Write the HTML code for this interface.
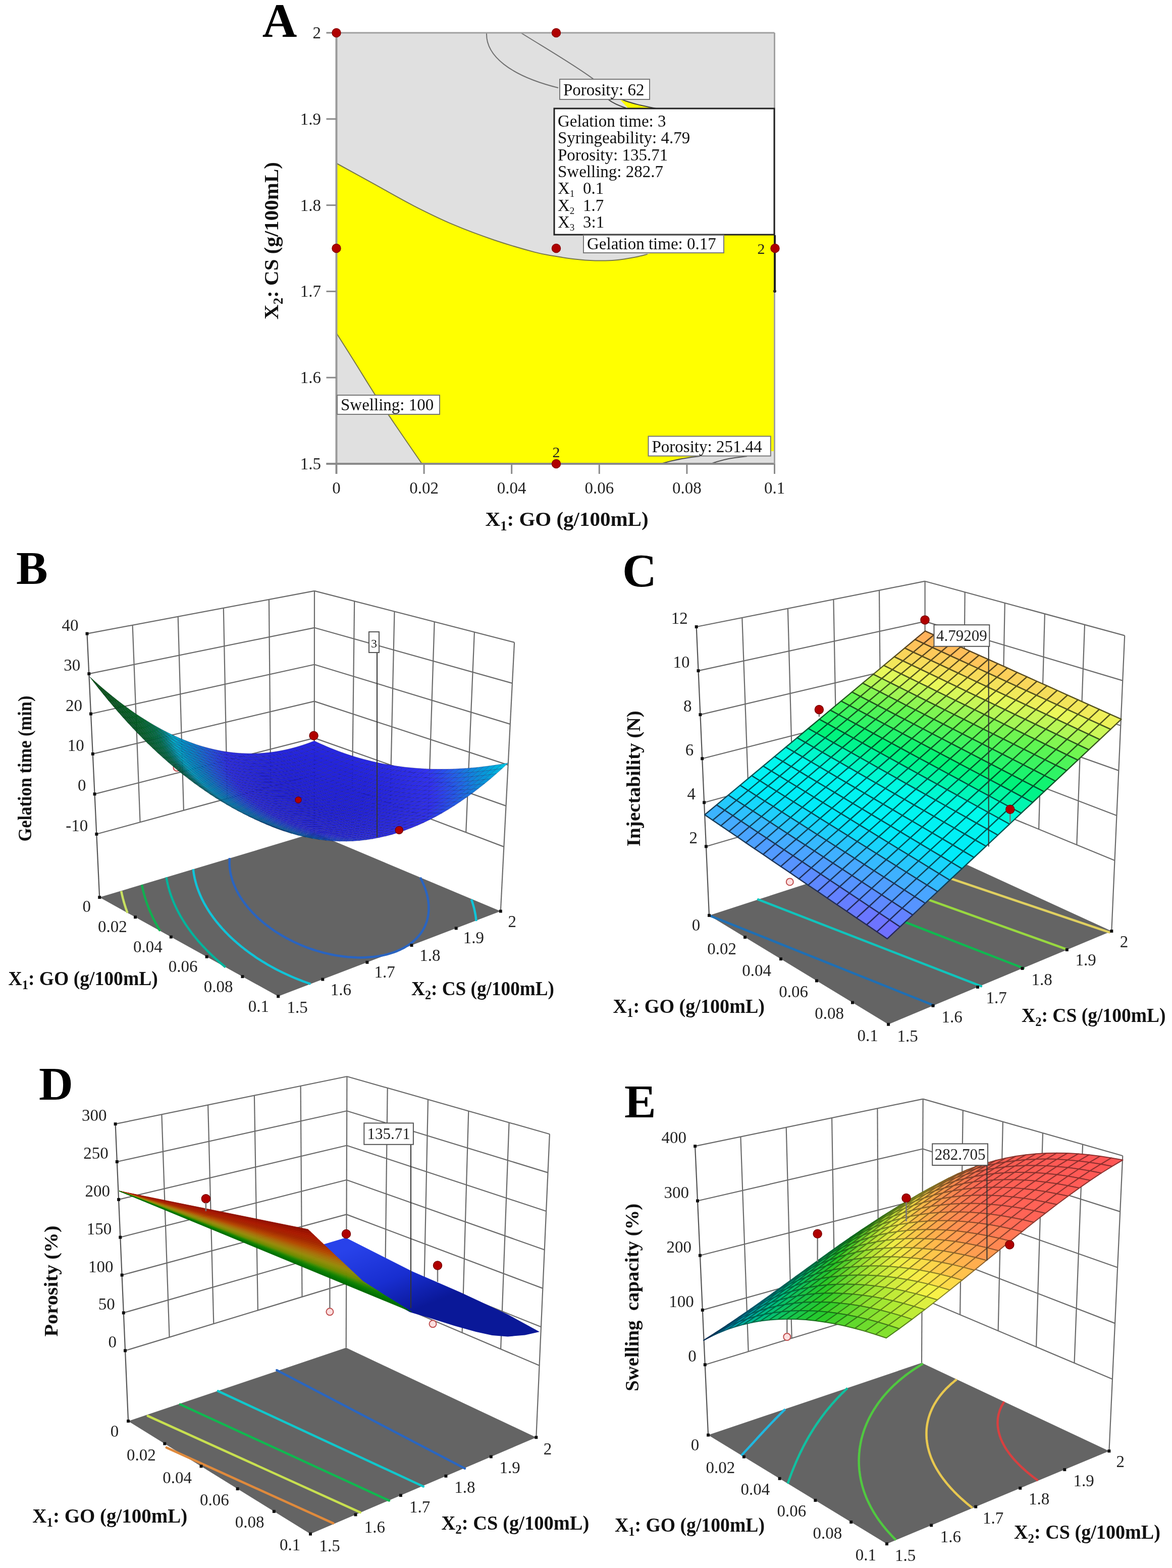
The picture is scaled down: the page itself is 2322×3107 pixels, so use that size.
<!DOCTYPE html>
<html><head><meta charset="utf-8"><title>Figure</title>
<style>html,body{margin:0;padding:0;background:#fff;}svg{display:block;}</style>
</head><body>
<svg width="2322" height="3107" viewBox="0 0 2322 3107"><g id="A">
<rect x="666.5" y="65" width="868" height="854" fill="#e0e0e0"/>
<path d="M666.5,323.5 C678.7,330.2 714.4,349.8 739.9,363.9 C765.4,377.9 793.1,394.2 819.7,407.8 C846.3,421.4 873,434.4 899.6,445.7 C926.2,457 952.8,466.7 979.4,475.7 C1006,484.7 1039.3,494.3 1059.3,499.6 C1079.3,504.9 1085.9,505.3 1099.2,507.6 C1112.5,509.9 1125.8,512.1 1139.1,513.6 C1152.4,515.1 1165.8,516.1 1179.1,516.4 C1192.4,516.7 1205.7,516.7 1219,515.6 C1232.3,514.5 1248.2,511.6 1258.9,509.6 C1269.6,507.6 1274.4,506 1282.9,503.6 C1291.4,501.2 1297.2,498.6 1310,495 C1322.8,491.4 1339.3,486.8 1360,482 C1380.7,477.2 1421.7,468.7 1434,466 L1534.5,466 L1534.5,894 L1527,894 L1527,904 L1387,904 C1365,906 1340,911 1309,919 L836,919 C828.3,907.8 805.3,874.6 790,852 C774.7,829.4 758.2,805.3 744,783.5 C729.8,761.7 717.9,741.6 705,721 C692.1,700.4 672.9,670.2 666.5,660 Z" fill="#ffff00"/>
<path d="M1228,197 C1245,203 1275,209 1300,215 L1245,215 Z" fill="#ffff00"/>
<path d="M666.5,323.5 C678.7,330.2 714.4,349.8 739.9,363.9 C765.4,377.9 793.1,394.2 819.7,407.8 C846.3,421.4 873,434.4 899.6,445.7 C926.2,457 952.8,466.7 979.4,475.7 C1006,484.7 1039.3,494.3 1059.3,499.6 C1079.3,504.9 1085.9,505.3 1099.2,507.6 C1112.5,509.9 1125.8,512.1 1139.1,513.6 C1152.4,515.1 1165.8,516.1 1179.1,516.4 C1192.4,516.7 1205.7,516.7 1219,515.6 C1232.3,514.5 1248.2,511.6 1258.9,509.6 C1269.6,507.6 1278.9,504.6 1282.9,503.6" stroke="#77774a" stroke-width="2" fill="none"/>
<path d="M836,919 C828.3,907.8 805.3,874.6 790,852 C774.7,829.4 758.2,805.3 744,783.5 C729.8,761.7 717.9,741.6 705,721 C692.1,700.4 672.9,670.2 666.5,660" stroke="#77774a" stroke-width="2" fill="none"/>
<path d="M964,65 C962,110 1010,150 1106,174" stroke="#707070" stroke-width="2" fill="none"/>
<path d="M1032,65 C1080,95 1140,130 1176,157" stroke="#707070" stroke-width="2" fill="none"/>
<path d="M1205,197 C1215,205 1228,210 1240,214" stroke="#404040" stroke-width="2" fill="none"/>
<path d="M1232,197 C1250,205 1275,210 1300,215" stroke="#404040" stroke-width="2" fill="none"/>
<path d="M1309,919 C1340,910 1365,906 1387,904" stroke="#505050" stroke-width="2" fill="none"/>
<path d="M1408,919 C1425,913 1440,909 1456,907 L1480,904" stroke="#505050" stroke-width="2" fill="none"/>
<polygon points="1387,904 1527,904 1527,894 1535,894 1535,919 1309,919" fill="#e0e0e0" opacity="0"/>
<line x1="666.5" y1="65" x2="666.5" y2="939" stroke="#9a9a9a" stroke-width="4"/>
<line x1="646.5" y1="919" x2="1534.5" y2="919" stroke="#8a8a8a" stroke-width="4"/>
<line x1="666.5" y1="65" x2="1534.5" y2="65" stroke="#a0a0a0" stroke-width="3"/>
<line x1="1534.5" y1="65" x2="1534.5" y2="939" stroke="#a0a0a0" stroke-width="3"/>
<line x1="646.5" y1="65" x2="666.5" y2="65" stroke="#8a8a8a" stroke-width="3"/>
<text x="636" y="76" text-anchor="end" font-size="33" fill="#222" style="font-family:&quot;Liberation Serif&quot;,serif">2</text>
<line x1="646.5" y1="235.8" x2="666.5" y2="235.8" stroke="#8a8a8a" stroke-width="3"/>
<text x="636" y="246.8" text-anchor="end" font-size="33" fill="#222" style="font-family:&quot;Liberation Serif&quot;,serif">1.9</text>
<line x1="646.5" y1="406.6" x2="666.5" y2="406.6" stroke="#8a8a8a" stroke-width="3"/>
<text x="636" y="417.6" text-anchor="end" font-size="33" fill="#222" style="font-family:&quot;Liberation Serif&quot;,serif">1.8</text>
<line x1="646.5" y1="577.4" x2="666.5" y2="577.4" stroke="#8a8a8a" stroke-width="3"/>
<text x="636" y="588.4" text-anchor="end" font-size="33" fill="#222" style="font-family:&quot;Liberation Serif&quot;,serif">1.7</text>
<line x1="646.5" y1="748.2" x2="666.5" y2="748.2" stroke="#8a8a8a" stroke-width="3"/>
<text x="636" y="759.2" text-anchor="end" font-size="33" fill="#222" style="font-family:&quot;Liberation Serif&quot;,serif">1.6</text>
<line x1="646.5" y1="919" x2="666.5" y2="919" stroke="#8a8a8a" stroke-width="3"/>
<text x="636" y="930" text-anchor="end" font-size="33" fill="#222" style="font-family:&quot;Liberation Serif&quot;,serif">1.5</text>
<line x1="666.5" y1="919" x2="666.5" y2="939" stroke="#8a8a8a" stroke-width="3"/>
<text x="666.5" y="978" text-anchor="middle" font-size="33" fill="#222" style="font-family:&quot;Liberation Serif&quot;,serif">0</text>
<line x1="840.1" y1="919" x2="840.1" y2="939" stroke="#8a8a8a" stroke-width="3"/>
<text x="840.1" y="978" text-anchor="middle" font-size="33" fill="#222" style="font-family:&quot;Liberation Serif&quot;,serif">0.02</text>
<line x1="1013.7" y1="919" x2="1013.7" y2="939" stroke="#8a8a8a" stroke-width="3"/>
<text x="1013.7" y="978" text-anchor="middle" font-size="33" fill="#222" style="font-family:&quot;Liberation Serif&quot;,serif">0.04</text>
<line x1="1187.3" y1="919" x2="1187.3" y2="939" stroke="#8a8a8a" stroke-width="3"/>
<text x="1187.3" y="978" text-anchor="middle" font-size="33" fill="#222" style="font-family:&quot;Liberation Serif&quot;,serif">0.06</text>
<line x1="1360.9" y1="919" x2="1360.9" y2="939" stroke="#8a8a8a" stroke-width="3"/>
<text x="1360.9" y="978" text-anchor="middle" font-size="33" fill="#222" style="font-family:&quot;Liberation Serif&quot;,serif">0.08</text>
<line x1="1534.5" y1="919" x2="1534.5" y2="939" stroke="#8a8a8a" stroke-width="3"/>
<text x="1534.5" y="978" text-anchor="middle" font-size="33" fill="#222" style="font-family:&quot;Liberation Serif&quot;,serif">0.1</text>
<line x1="1535" y1="466" x2="1535" y2="577" stroke="#222" stroke-width="4"/>
<circle cx="1535" cy="577" r="3" fill="#222"/>
<rect x="1109" y="157" width="178" height="40" fill="#fff" stroke="#777" stroke-width="2"/>
<text x="1116" y="189" font-size="33" fill="#111" style="font-family:&quot;Liberation Serif&quot;,serif">Porosity: 62</text>
<rect x="1098" y="215" width="436" height="250" fill="#fff" stroke="#222" stroke-width="3"/>
<text x="1105" y="251" font-size="33" fill="#111" style="font-family:&quot;Liberation Serif&quot;,serif">Gelation time: 3</text>
<text x="1105" y="284.3" font-size="33" fill="#111" style="font-family:&quot;Liberation Serif&quot;,serif">Syringeability: 4.79</text>
<text x="1105" y="317.6" font-size="33" fill="#111" style="font-family:&quot;Liberation Serif&quot;,serif">Porosity: 135.71</text>
<text x="1105" y="350.9" font-size="33" fill="#111" style="font-family:&quot;Liberation Serif&quot;,serif">Swelling: 282.7</text>
<text x="1105" y="384.2" font-size="33" fill="#111" style="font-family:&quot;Liberation Serif&quot;,serif">X<tspan font-size="19" dy="6">1</tspan><tspan dy="-6" x="1155">0.1</tspan></text>
<text x="1105" y="417.5" font-size="33" fill="#111" style="font-family:&quot;Liberation Serif&quot;,serif">X<tspan font-size="19" dy="6">2</tspan><tspan dy="-6" x="1155">1.7</tspan></text>
<text x="1105" y="450.8" font-size="33" fill="#111" style="font-family:&quot;Liberation Serif&quot;,serif">X<tspan font-size="19" dy="6">3</tspan><tspan dy="-6" x="1155">3:1</tspan></text>
<rect x="1156" y="466" width="278" height="35" fill="#fff" stroke="#777" stroke-width="2"/>
<text x="1163" y="494" font-size="33" fill="#111" style="font-family:&quot;Liberation Serif&quot;,serif">Gelation time: 0.17</text>
<rect x="668" y="783" width="203" height="38" fill="#fff" stroke="#777" stroke-width="2"/>
<text x="675" y="813" font-size="33" fill="#111" style="font-family:&quot;Liberation Serif&quot;,serif">Swelling: 100</text>
<rect x="1284.5" y="864.5" width="242.3" height="39" fill="#fff" stroke="#777" stroke-width="2"/>
<text x="1291.5" y="896" font-size="33" fill="#111" style="font-family:&quot;Liberation Serif&quot;,serif">Porosity: 251.44</text>
<circle cx="666.5" cy="65" r="8.5" fill="#b00000" stroke="#8a0000" stroke-width="1.5"/>
<circle cx="1102" cy="65" r="8.5" fill="#b00000" stroke="#8a0000" stroke-width="1.5"/>
<circle cx="666.5" cy="492" r="8.5" fill="#b00000" stroke="#8a0000" stroke-width="1.5"/>
<circle cx="1102" cy="492" r="8.5" fill="#b00000" stroke="#8a0000" stroke-width="1.5"/>
<circle cx="1535.5" cy="492" r="8.5" fill="#b00000" stroke="#8a0000" stroke-width="1.5"/>
<circle cx="1102" cy="919" r="8.5" fill="#b00000" stroke="#8a0000" stroke-width="1.5"/>
<text x="1508" y="503" text-anchor="middle" font-size="30" fill="#222" style="font-family:&quot;Liberation Serif&quot;,serif">2</text>
<text x="1102" y="906" text-anchor="middle" font-size="30" fill="#222" style="font-family:&quot;Liberation Serif&quot;,serif">2</text>
<text x="554" y="73" text-anchor="middle" font-size="95" font-weight="bold" fill="#000" style="font-family:&quot;Liberation Serif&quot;,serif">A</text>
<text x="1123" y="1042" text-anchor="middle" font-size="41" font-weight="bold" fill="#111" style="font-family:&quot;Liberation Serif&quot;,serif">X<tspan font-size="27" dy="9">1</tspan><tspan dy="-9">: GO (g/100mL)</tspan></text>
<text transform="translate(551,477) rotate(-90)" text-anchor="middle" font-size="41" font-weight="bold" fill="#111" style="font-family:&quot;Liberation Serif&quot;,serif">X<tspan font-size="27" dy="9">2</tspan><tspan dy="-9">: CS (g/100mL)</tspan></text>
</g>
<g id="B">
<polygon points="197.2,1778.1 551.2,1974.3 991.8,1805.6 622.6,1650.3" fill="#646464"/>
<line x1="277.6" y1="1629.3" x2="262.6" y2="1238.7" stroke="#6a6a6a" stroke-width="2.2"/>
<line x1="363.9" y1="1605.8" x2="352.7" y2="1221.7" stroke="#6a6a6a" stroke-width="2.2"/>
<line x1="450.2" y1="1582.3" x2="442.8" y2="1204.8" stroke="#6a6a6a" stroke-width="2.2"/>
<line x1="536.4" y1="1558.8" x2="532.9" y2="1187.8" stroke="#6a6a6a" stroke-width="2.2"/>
<line x1="191.3" y1="1652.8" x2="622.7" y2="1535.3" stroke="#6a6a6a" stroke-width="2.2"/>
<line x1="187.5" y1="1573.4" x2="622.8" y2="1462.4" stroke="#6a6a6a" stroke-width="2.2"/>
<line x1="183.8" y1="1493.9" x2="622.8" y2="1389.6" stroke="#6a6a6a" stroke-width="2.2"/>
<line x1="180" y1="1414.5" x2="622.9" y2="1316.7" stroke="#6a6a6a" stroke-width="2.2"/>
<line x1="176.3" y1="1335.1" x2="622.9" y2="1243.8" stroke="#6a6a6a" stroke-width="2.2"/>
<line x1="172.5" y1="1255.6" x2="623" y2="1170.9" stroke="#6a6a6a" stroke-width="2.2"/>
<line x1="697.8" y1="1563.8" x2="702.2" y2="1191.3" stroke="#6a6a6a" stroke-width="2.2"/>
<line x1="773" y1="1592.3" x2="781.5" y2="1211.7" stroke="#6a6a6a" stroke-width="2.2"/>
<line x1="848.1" y1="1620.9" x2="860.7" y2="1232.1" stroke="#6a6a6a" stroke-width="2.2"/>
<line x1="923.2" y1="1649.4" x2="939.9" y2="1252.5" stroke="#6a6a6a" stroke-width="2.2"/>
<line x1="622.7" y1="1535.3" x2="998.3" y2="1677.9" stroke="#6a6a6a" stroke-width="2.2"/>
<line x1="622.8" y1="1462.4" x2="1002.5" y2="1596.9" stroke="#6a6a6a" stroke-width="2.2"/>
<line x1="622.8" y1="1389.6" x2="1006.7" y2="1515.9" stroke="#6a6a6a" stroke-width="2.2"/>
<line x1="622.9" y1="1316.7" x2="1010.8" y2="1434.9" stroke="#6a6a6a" stroke-width="2.2"/>
<line x1="622.9" y1="1243.8" x2="1015" y2="1353.9" stroke="#6a6a6a" stroke-width="2.2"/>
<line x1="623" y1="1170.9" x2="1019.1" y2="1272.9" stroke="#6a6a6a" stroke-width="2.2"/>
<line x1="622.6" y1="1650.3" x2="623" y2="1170.9" stroke="#6a6a6a" stroke-width="2.2"/>
<line x1="991.8" y1="1805.6" x2="1019.1" y2="1272.9" stroke="#6a6a6a" stroke-width="2.2"/>
<line x1="197.2" y1="1778.1" x2="172.5" y2="1255.6" stroke="#555" stroke-width="2.2"/>
<polyline points="455.1,1700.1 454.9,1702.7 454.8,1704.7 454.7,1706.6 454.7,1709.1 454.7,1711.2 454.8,1712.9 454.9,1715.4 455.1,1718 455.2,1719.8 455.4,1721.7 455.8,1724.2 456.1,1726.7 456.5,1728.8 456.9,1730.7 457.3,1732.9 457.9,1735.4 458.6,1737.8 459.2,1740.3 459.9,1742.5 460.5,1744.5 461.2,1746.6 462,1748.8 462.9,1751.2 463.9,1753.7 464.9,1756.1 466,1758.5 467.1,1760.9 468.2,1763.3 469.5,1765.7 470.7,1768 472,1770.4 473.4,1772.8 474.8,1775.2 476.2,1777.5 477.7,1779.9 479.3,1782.2 481.2,1785 483.3,1787.9 485.1,1790.4 486.9,1792.7 488.7,1795 490.6,1797.3 493,1800.1 495.5,1803 497.6,1805.3 499.7,1807.6 502.6,1810.6 505.2,1813.2 507.5,1815.5 510.6,1818.4 513.5,1821 516,1823.2 519.8,1826.5 522.4,1828.7 526.5,1832 529.3,1834.1 533.6,1837.3 536.5,1839.5 541,1842.6 545.7,1845.8 548.9,1847.9 553.8,1850.9 558.9,1854 564.2,1857 568.9,1859.6 573.4,1861.9 579.1,1864.8 583,1866.7 589.1,1869.5 595.4,1872.3 602,1875 606.6,1876.8 613.4,1879.3 619.8,1881.5 625.6,1883.4 630.7,1884.9 638.7,1887.2 644.3,1888.6 650,1889.9 655.9,1891.2 662.1,1892.5 668.5,1893.6 675.2,1894.6 682.2,1895.5 688.5,1896.2 693.5,1896.6 701.7,1897.1 706.6,1897.3 714.8,1897.4 720.1,1897.3 726.1,1897.1 733.1,1896.6 739.8,1896 746.1,1895.2 752.1,1894.2 760.5,1892.6 765.9,1891.3 773.4,1889.2 780.5,1886.9 787.1,1884.3 793.2,1881.6 799,1878.7 802.6,1876.7 807.7,1873.6 811,1871.4 814.5,1868.8 818.4,1865.7 821.1,1863.3 823.7,1860.9 826.1,1858.4 828.4,1855.9 830.6,1853.3 832.7,1850.7 834.6,1848 836.4,1845.3 838,1842.6 839.2,1840.5 840.4,1838.4 841.8,1835.5 843,1832.6 843.9,1830.3 844.7,1828.2 845.7,1825.2 846.4,1822.7 846.9,1820.6 847.6,1817.6 848,1815.5 848.5,1812.9 848.8,1810.3 849,1808.1 849.3,1805.2 849.4,1803.3 849.4,1800.3 849.4,1798.3 849.4,1795.5 849.3,1793.3 849.1,1790.8 848.8,1788.3 848.6,1786.2 848.1,1783.2 847.8,1781.4 847.4,1778.8 846.8,1776.1 846.4,1774.4 845.7,1771.7 845,1769 844.5,1767.2 843.7,1764.7 842.8,1762 842,1759.9 841.3,1757.9 840.3,1755.3 839.2,1752.7 838.3,1750.5 837.4,1748.6 836.3,1746.2 835.1,1743.7 833.8,1741.2 832.6,1738.9 832.6,1738.9" fill="none" stroke="#2a64c0" stroke-width="4.5" stroke-linejoin="round" stroke-linecap="butt"/>
<polyline points="382.8,1722.2 383.1,1724.7 383.4,1727.2 383.7,1729.4 384,1731.3 384.3,1733.3 384.8,1735.8 385.3,1738.3 385.8,1740.7 386.4,1743.1 386.9,1745.1 387.4,1747.2 388,1749.3 388.7,1751.8 389.4,1754.2 390.2,1756.6 391,1759.1 391.9,1761.5 392.8,1764 393.7,1766.4 394.7,1768.8 395.7,1771.3 396.7,1773.7 397.8,1776.1 398.9,1778.6 400,1781 401.2,1783.4 402.5,1785.8 403.7,1788.3 405,1790.7 406.4,1793.1 407.8,1795.5 409.2,1797.9 410.6,1800.3 412.1,1802.7 413.7,1805.2 415.6,1808.2 417.6,1811.1 419.3,1813.5 421,1815.9 422.7,1818.3 424.5,1820.7 426.9,1823.9 429.1,1826.7 431.1,1829 433,1831.4 435.5,1834.3 438.1,1837.3 440.2,1839.7 442.4,1842 445.6,1845.6 447.9,1847.9 450.2,1850.3 453.7,1853.8 456.1,1856.1 459,1858.8 462.3,1861.9 464.9,1864.2 468.8,1867.7 471.5,1870 475.6,1873.4 478.3,1875.7 482.6,1879.1 485.5,1881.4 490,1884.8 494.5,1888.1 497.7,1890.4 502.5,1893.7 507.3,1897.1 510.7,1899.3 515.8,1902.5 521,1905.8 526.4,1909 531.8,1912.3 535.6,1914.4 541.3,1917.5 547.2,1920.7 553.2,1923.8 557.3,1925.8 563.6,1928.8 570.1,1931.8 576.7,1934.8 583,1937.5 588.2,1939.6 595.3,1942.4 600.2,1944.3 607.7,1947 612.8,1948.8 615.4,1949.7" fill="none" stroke="#10c4d8" stroke-width="4.5" stroke-linejoin="round" stroke-linecap="butt"/>
<polyline points="943.5,1825.2 943.4,1823.2 943,1820.2 942.8,1818 942.4,1815.4 942,1812.8 941.6,1810.6 941,1807.5 940.6,1805.7 940,1802.9 939.4,1800.3 938.9,1798.3 938.1,1795.4 937.5,1793.1 936.8,1790.9 935.9,1788 935.2,1785.8 934.5,1783.7 933.9,1782.1" fill="none" stroke="#10c4d8" stroke-width="4.5" stroke-linejoin="round" stroke-linecap="butt"/>
<polyline points="329.6,1738.5 330,1740.9 330.5,1743.4 330.9,1745.7 331.3,1747.7 331.8,1749.8 332.3,1752 332.9,1754.5 333.5,1756.9 334.2,1759.4 334.9,1761.9 335.6,1764.3 336.3,1766.8 337.1,1769.2 337.9,1771.6 338.7,1773.9 339.5,1776.3 340.4,1778.6 341.3,1781 342.3,1783.4 343.3,1785.9 344.3,1788.4 345.4,1790.9 346.5,1793.4 347.7,1796 349,1798.6 350.2,1801.2 351.5,1803.7 352.7,1806.1 354,1808.6 355.4,1811.1 356.7,1813.5 358.1,1816 359.5,1818.4 361,1820.9 362.9,1823.9 364.8,1827 366.4,1829.5 368,1831.9 369.6,1834.4 371.3,1836.8 373.4,1839.8 375.7,1843 377.5,1845.4 379.3,1847.9 381.2,1850.3 383.9,1853.8 386,1856.4 388,1858.9 390.1,1861.4 393.1,1865 395.3,1867.4 397.4,1869.8 400.7,1873.5 403,1875.9 405.3,1878.3 408.8,1882 411.2,1884.4 414.2,1887.4 417.3,1890.4 419.8,1892.8 423.7,1896.5 426.3,1898.9 430.3,1902.5 433,1904.9 437.2,1908.4 440,1910.8 444.4,1914.4 446.8,1916.4" fill="none" stroke="#00b49c" stroke-width="4.5" stroke-linejoin="round" stroke-linecap="butt"/>
<polyline points="281.1,1753.3 281.6,1755.8 282.1,1758.2 282.7,1760.7 283.2,1763.2 283.8,1765.7 284.4,1768.1 285.1,1770.6 285.7,1772.8 286.3,1775.1 287,1777.4 287.7,1779.8 288.5,1782.1 289.2,1784.5 290,1786.9 290.9,1789.3 291.7,1791.8 292.7,1794.2 293.6,1796.8 294.6,1799.3 295.6,1801.9 296.7,1804.5 297.8,1807.1 299,1809.8 300.2,1812.4 301.5,1815.2 302.8,1817.9 304,1820.4 305.2,1822.9 306.5,1825.4 307.8,1827.9 309.2,1830.4 310.5,1832.9 311.9,1835.5 313.6,1838.4 315.4,1841.6 317,1844.2 317.3,1844.7" fill="none" stroke="#10b050" stroke-width="4.5" stroke-linejoin="round" stroke-linecap="butt"/>
<polyline points="240.2,1765.8 240.7,1768.2 241.2,1770.4 241.7,1772.7 242.2,1774.9 242.8,1777.2 243.3,1779.5 244,1782 244.7,1784.5 245.3,1787 246.1,1789.5 246.8,1792 247.6,1794.5 248.4,1797 249.2,1799.5 250.1,1802.1 251,1804.6 251.9,1807.1 252.5,1808.9" fill="none" stroke="#c8e060" stroke-width="4.5" stroke-linejoin="round" stroke-linecap="butt"/>
<rect x="188.3" y="1649.8" width="6" height="6" fill="#111"/>
<text x="174.3" y="1646.8" text-anchor="end" font-size="33" fill="#222" style="font-family:&quot;Liberation Serif&quot;,serif">-10</text>
<rect x="184.5" y="1570.4" width="6" height="6" fill="#111"/>
<text x="170.5" y="1567.4" text-anchor="end" font-size="33" fill="#222" style="font-family:&quot;Liberation Serif&quot;,serif">0</text>
<rect x="180.8" y="1490.9" width="6" height="6" fill="#111"/>
<text x="166.8" y="1487.9" text-anchor="end" font-size="33" fill="#222" style="font-family:&quot;Liberation Serif&quot;,serif">10</text>
<rect x="177" y="1411.5" width="6" height="6" fill="#111"/>
<text x="163" y="1408.5" text-anchor="end" font-size="33" fill="#222" style="font-family:&quot;Liberation Serif&quot;,serif">20</text>
<rect x="173.3" y="1332.1" width="6" height="6" fill="#111"/>
<text x="159.3" y="1329.1" text-anchor="end" font-size="33" fill="#222" style="font-family:&quot;Liberation Serif&quot;,serif">30</text>
<rect x="169.5" y="1252.6" width="6" height="6" fill="#111"/>
<text x="155.5" y="1249.6" text-anchor="end" font-size="33" fill="#222" style="font-family:&quot;Liberation Serif&quot;,serif">40</text>
<rect x="194.2" y="1775.1" width="6" height="6" fill="#111"/>
<rect x="265" y="1814.3" width="6" height="6" fill="#111"/>
<rect x="335.8" y="1853.6" width="6" height="6" fill="#111"/>
<rect x="406.6" y="1892.8" width="6" height="6" fill="#111"/>
<rect x="477.4" y="1932.1" width="6" height="6" fill="#111"/>
<rect x="548.2" y="1971.3" width="6" height="6" fill="#111"/>
<rect x="636.3" y="1937.6" width="6" height="6" fill="#111"/>
<rect x="724.4" y="1903.8" width="6" height="6" fill="#111"/>
<rect x="812.5" y="1870.1" width="6" height="6" fill="#111"/>
<rect x="900.7" y="1836.4" width="6" height="6" fill="#111"/>
<rect x="988.8" y="1802.6" width="6" height="6" fill="#111"/>
<circle cx="350.5" cy="1521" r="7" fill="#fde0e0" stroke="#c05050" stroke-width="2"/>
<polygon points="611.8,1472.2 621.1,1476.8 632.1,1472.4 622.7,1468" fill="#2727e5" stroke="#000040" stroke-width="1.0" stroke-opacity="0.25" stroke-linejoin="round"/>
<polygon points="621.1,1476.8 630.5,1481.2 641.4,1476.6 632.1,1472.4" fill="#2727e4" stroke="#000040" stroke-width="1.0" stroke-opacity="0.25" stroke-linejoin="round"/>
<polygon points="600.8,1476 610.1,1480.8 621.1,1476.8 611.8,1472.2" fill="#2626e3" stroke="#000040" stroke-width="1.0" stroke-opacity="0.25" stroke-linejoin="round"/>
<polygon points="589.8,1479.4 599.1,1484.4 610.1,1480.8 600.8,1476" fill="#2626e2" stroke="#000040" stroke-width="1.0" stroke-opacity="0.25" stroke-linejoin="round"/>
<polygon points="630.5,1481.2 639.9,1485.4 650.9,1480.7 641.4,1476.6" fill="#2626e4" stroke="#000040" stroke-width="1.0" stroke-opacity="0.25" stroke-linejoin="round"/>
<polygon points="610.1,1480.8 619.5,1485.4 630.5,1481.2 621.1,1476.8" fill="#2626e3" stroke="#000040" stroke-width="1.0" stroke-opacity="0.25" stroke-linejoin="round"/>
<polygon points="599.1,1484.4 608.4,1489.2 619.5,1485.4 610.1,1480.8" fill="#2525e1" stroke="#000040" stroke-width="1.0" stroke-opacity="0.25" stroke-linejoin="round"/>
<polygon points="639.9,1485.4 649.4,1489.5 660.4,1484.5 650.9,1480.7" fill="#2626e4" stroke="#000040" stroke-width="1.0" stroke-opacity="0.25" stroke-linejoin="round"/>
<polygon points="578.7,1482.5 588,1487.7 599.1,1484.4 589.8,1479.4" fill="#2525e0" stroke="#000040" stroke-width="1.0" stroke-opacity="0.25" stroke-linejoin="round"/>
<polygon points="619.5,1485.4 628.9,1489.8 639.9,1485.4 630.5,1481.2" fill="#2525e2" stroke="#000040" stroke-width="1.0" stroke-opacity="0.25" stroke-linejoin="round"/>
<polygon points="567.5,1485.2 576.8,1490.6 588,1487.7 578.7,1482.5" fill="#2525df" stroke="#000040" stroke-width="1.0" stroke-opacity="0.25" stroke-linejoin="round"/>
<polygon points="608.4,1489.2 617.8,1493.8 628.9,1489.8 619.5,1485.4" fill="#2525e1" stroke="#000040" stroke-width="1.0" stroke-opacity="0.25" stroke-linejoin="round"/>
<polygon points="649.4,1489.5 659,1493.3 670,1488.2 660.4,1484.5" fill="#2626e3" stroke="#000040" stroke-width="1.0" stroke-opacity="0.25" stroke-linejoin="round"/>
<polygon points="588,1487.7 597.3,1492.7 608.4,1489.2 599.1,1484.4" fill="#2525e0" stroke="#000040" stroke-width="1.0" stroke-opacity="0.25" stroke-linejoin="round"/>
<polygon points="628.9,1489.8 638.4,1494.1 649.4,1489.5 639.9,1485.4" fill="#2525e2" stroke="#000040" stroke-width="1.0" stroke-opacity="0.25" stroke-linejoin="round"/>
<polygon points="576.8,1490.6 586.1,1495.8 597.3,1492.7 588,1487.7" fill="#2525df" stroke="#000040" stroke-width="1.0" stroke-opacity="0.25" stroke-linejoin="round"/>
<polygon points="617.8,1493.8 627.3,1498.3 638.4,1494.1 628.9,1489.8" fill="#2424e0" stroke="#000040" stroke-width="1.0" stroke-opacity="0.25" stroke-linejoin="round"/>
<polygon points="659,1493.3 668.6,1497 679.6,1491.7 670,1488.2" fill="#2626e3" stroke="#000040" stroke-width="1.0" stroke-opacity="0.25" stroke-linejoin="round"/>
<polygon points="556.3,1487.5 565.6,1493.1 576.8,1490.6 567.5,1485.2" fill="#2525de" stroke="#000040" stroke-width="1.0" stroke-opacity="0.25" stroke-linejoin="round"/>
<polygon points="597.3,1492.7 606.7,1497.5 617.8,1493.8 608.4,1489.2" fill="#2424df" stroke="#000040" stroke-width="1.0" stroke-opacity="0.25" stroke-linejoin="round"/>
<polygon points="638.4,1494.1 648,1498.1 659,1493.3 649.4,1489.5" fill="#2525e2" stroke="#000040" stroke-width="1.0" stroke-opacity="0.25" stroke-linejoin="round"/>
<polygon points="545,1489.5 554.3,1495.2 565.6,1493.1 556.3,1487.5" fill="#2525de" stroke="#000040" stroke-width="1.0" stroke-opacity="0.25" stroke-linejoin="round"/>
<polygon points="586.1,1495.8 595.5,1500.8 606.7,1497.5 597.3,1492.7" fill="#2424de" stroke="#000040" stroke-width="1.0" stroke-opacity="0.25" stroke-linejoin="round"/>
<polygon points="627.3,1498.3 636.9,1502.5 648,1498.1 638.4,1494.1" fill="#2424e0" stroke="#000040" stroke-width="1.0" stroke-opacity="0.25" stroke-linejoin="round"/>
<polygon points="668.6,1497 678.3,1500.6 689.3,1495.1 679.6,1491.7" fill="#2626e3" stroke="#000040" stroke-width="1.0" stroke-opacity="0.25" stroke-linejoin="round"/>
<polygon points="565.6,1493.1 574.9,1498.5 586.1,1495.8 576.8,1490.6" fill="#2424de" stroke="#000040" stroke-width="1.0" stroke-opacity="0.25" stroke-linejoin="round"/>
<polygon points="606.7,1497.5 616.2,1502.1 627.3,1498.3 617.8,1493.8" fill="#2424df" stroke="#000040" stroke-width="1.0" stroke-opacity="0.25" stroke-linejoin="round"/>
<polygon points="648,1498.1 657.6,1502 668.6,1497 659,1493.3" fill="#2525e1" stroke="#000040" stroke-width="1.0" stroke-opacity="0.25" stroke-linejoin="round"/>
<polygon points="678.3,1500.6 688.1,1503.9 699.1,1498.2 689.3,1495.1" fill="#2626e3" stroke="#000040" stroke-width="1.0" stroke-opacity="0.25" stroke-linejoin="round"/>
<polygon points="554.3,1495.2 563.6,1500.8 574.9,1498.5 565.6,1493.1" fill="#2424dd" stroke="#000040" stroke-width="1.0" stroke-opacity="0.25" stroke-linejoin="round"/>
<polygon points="595.5,1500.8 605,1505.6 616.2,1502.1 606.7,1497.5" fill="#2323dd" stroke="#000040" stroke-width="1.0" stroke-opacity="0.25" stroke-linejoin="round"/>
<polygon points="636.9,1502.5 646.5,1506.6 657.6,1502 648,1498.1" fill="#2424e0" stroke="#000040" stroke-width="1.0" stroke-opacity="0.25" stroke-linejoin="round"/>
<polygon points="533.6,1491 542.9,1497 554.3,1495.2 545,1489.5" fill="#2626dd" stroke="#000040" stroke-width="1.0" stroke-opacity="0.25" stroke-linejoin="round"/>
<polygon points="574.9,1498.5 584.3,1503.7 595.5,1500.8 586.1,1495.8" fill="#2424dd" stroke="#000040" stroke-width="1.0" stroke-opacity="0.25" stroke-linejoin="round"/>
<polygon points="616.2,1502.1 625.7,1506.6 636.9,1502.5 627.3,1498.3" fill="#2323de" stroke="#000040" stroke-width="1.0" stroke-opacity="0.25" stroke-linejoin="round"/>
<polygon points="657.6,1502 667.3,1505.7 678.3,1500.6 668.6,1497" fill="#2525e1" stroke="#000040" stroke-width="1.0" stroke-opacity="0.25" stroke-linejoin="round"/>
<polygon points="522.2,1492.1 531.5,1498.3 542.9,1497 533.6,1491" fill="#2626dd" stroke="#000040" stroke-width="1.0" stroke-opacity="0.25" stroke-linejoin="round"/>
<polygon points="563.6,1500.8 573,1506.2 584.3,1503.7 574.9,1498.5" fill="#2424dc" stroke="#000040" stroke-width="1.0" stroke-opacity="0.25" stroke-linejoin="round"/>
<polygon points="605,1505.6 614.5,1510.3 625.7,1506.6 616.2,1502.1" fill="#2323dd" stroke="#000040" stroke-width="1.0" stroke-opacity="0.25" stroke-linejoin="round"/>
<polygon points="646.5,1506.6 656.1,1510.5 667.3,1505.7 657.6,1502" fill="#2424e0" stroke="#000040" stroke-width="1.0" stroke-opacity="0.25" stroke-linejoin="round"/>
<polygon points="667.3,1505.7 677,1509.3 688.1,1503.9 678.3,1500.6" fill="#2525e1" stroke="#000040" stroke-width="1.0" stroke-opacity="0.25" stroke-linejoin="round"/>
<polygon points="688.1,1503.9 697.9,1507.1 709,1501.2 699.1,1498.2" fill="#2626e3" stroke="#000040" stroke-width="1.0" stroke-opacity="0.25" stroke-linejoin="round"/>
<polygon points="542.9,1497 552.2,1502.8 563.6,1500.8 554.3,1495.2" fill="#2525dc" stroke="#000040" stroke-width="1.0" stroke-opacity="0.25" stroke-linejoin="round"/>
<polygon points="584.3,1503.7 593.7,1508.7 605,1505.6 595.5,1500.8" fill="#2323dc" stroke="#000040" stroke-width="1.0" stroke-opacity="0.25" stroke-linejoin="round"/>
<polygon points="625.7,1506.6 635.3,1510.9 646.5,1506.6 636.9,1502.5" fill="#2323de" stroke="#000040" stroke-width="1.0" stroke-opacity="0.25" stroke-linejoin="round"/>
<polygon points="510.7,1492.9 520,1499.2 531.5,1498.3 522.2,1492.1" fill="#2727dc" stroke="#000040" stroke-width="1.0" stroke-opacity="0.25" stroke-linejoin="round"/>
<polygon points="656.1,1510.5 665.9,1514.3 677,1509.3 667.3,1505.7" fill="#2424df" stroke="#000040" stroke-width="1.0" stroke-opacity="0.25" stroke-linejoin="round"/>
<polygon points="697.9,1507.1 707.8,1510.1 718.9,1504 709,1501.2" fill="#2626e4" stroke="#000040" stroke-width="1.0" stroke-opacity="0.25" stroke-linejoin="round"/>
<polygon points="531.5,1498.3 540.8,1504.3 552.2,1502.8 542.9,1497" fill="#2525dc" stroke="#000040" stroke-width="1.0" stroke-opacity="0.25" stroke-linejoin="round"/>
<polygon points="573,1506.2 582.4,1511.4 593.7,1508.7 584.3,1503.7" fill="#2323db" stroke="#000040" stroke-width="1.0" stroke-opacity="0.25" stroke-linejoin="round"/>
<polygon points="614.5,1510.3 624.1,1514.7 635.3,1510.9 625.7,1506.6" fill="#2323dd" stroke="#000040" stroke-width="1.0" stroke-opacity="0.25" stroke-linejoin="round"/>
<polygon points="552.2,1502.8 561.6,1508.4 573,1506.2 563.6,1500.8" fill="#2424db" stroke="#000040" stroke-width="1.0" stroke-opacity="0.25" stroke-linejoin="round"/>
<polygon points="593.7,1508.7 603.2,1513.6 614.5,1510.3 605,1505.6" fill="#2323dc" stroke="#000040" stroke-width="1.0" stroke-opacity="0.25" stroke-linejoin="round"/>
<polygon points="635.3,1510.9 645,1515 656.1,1510.5 646.5,1506.6" fill="#2323de" stroke="#000040" stroke-width="1.0" stroke-opacity="0.25" stroke-linejoin="round"/>
<polygon points="677,1509.3 686.8,1512.6 697.9,1507.1 688.1,1503.9" fill="#2525e1" stroke="#000040" stroke-width="1.0" stroke-opacity="0.25" stroke-linejoin="round"/>
<polygon points="520,1499.2 529.3,1505.4 540.8,1504.3 531.5,1498.3" fill="#2626db" stroke="#000040" stroke-width="1.0" stroke-opacity="0.25" stroke-linejoin="round"/>
<polygon points="707.8,1510.1 717.8,1512.9 728.9,1506.6 718.9,1504" fill="#2727e4" stroke="#000040" stroke-width="1.0" stroke-opacity="0.25" stroke-linejoin="round"/>
<polygon points="499.1,1493.2 508.4,1499.7 520,1499.2 510.7,1492.9" fill="#2828dc" stroke="#000040" stroke-width="1.0" stroke-opacity="0.25" stroke-linejoin="round"/>
<polygon points="540.8,1504.3 550.1,1510.1 561.6,1508.4 552.2,1502.8" fill="#2424db" stroke="#000040" stroke-width="1.0" stroke-opacity="0.25" stroke-linejoin="round"/>
<polygon points="582.4,1511.4 591.9,1516.5 603.2,1513.6 593.7,1508.7" fill="#2323db" stroke="#000040" stroke-width="1.0" stroke-opacity="0.25" stroke-linejoin="round"/>
<polygon points="624.1,1514.7 633.7,1519 645,1515 635.3,1510.9" fill="#2323dd" stroke="#000040" stroke-width="1.0" stroke-opacity="0.25" stroke-linejoin="round"/>
<polygon points="645,1515 654.7,1518.9 665.9,1514.3 656.1,1510.5" fill="#2323de" stroke="#000040" stroke-width="1.0" stroke-opacity="0.25" stroke-linejoin="round"/>
<polygon points="665.9,1514.3 675.7,1517.8 686.8,1512.6 677,1509.3" fill="#2424e0" stroke="#000040" stroke-width="1.0" stroke-opacity="0.25" stroke-linejoin="round"/>
<polygon points="686.8,1512.6 696.7,1515.8 707.8,1510.1 697.9,1507.1" fill="#2525e2" stroke="#000040" stroke-width="1.0" stroke-opacity="0.25" stroke-linejoin="round"/>
<polygon points="561.6,1508.4 571,1513.8 582.4,1511.4 573,1506.2" fill="#2323db" stroke="#000040" stroke-width="1.0" stroke-opacity="0.25" stroke-linejoin="round"/>
<polygon points="603.2,1513.6 612.8,1518.2 624.1,1514.7 614.5,1510.3" fill="#2323dc" stroke="#000040" stroke-width="1.0" stroke-opacity="0.25" stroke-linejoin="round"/>
<polygon points="487.5,1493 496.7,1499.8 508.4,1499.7 499.1,1493.2" fill="#2828dc" stroke="#000040" stroke-width="1.0" stroke-opacity="0.25" stroke-linejoin="round"/>
<polygon points="529.3,1505.4 538.6,1511.4 550.1,1510.1 540.8,1504.3" fill="#2525da" stroke="#000040" stroke-width="1.0" stroke-opacity="0.25" stroke-linejoin="round"/>
<polygon points="633.7,1519 643.4,1523.1 654.7,1518.9 645,1515" fill="#2323dd" stroke="#000040" stroke-width="1.0" stroke-opacity="0.25" stroke-linejoin="round"/>
<polygon points="675.7,1517.8 685.5,1521.2 696.7,1515.8 686.8,1512.6" fill="#2424e0" stroke="#000040" stroke-width="1.0" stroke-opacity="0.25" stroke-linejoin="round"/>
<polygon points="717.8,1512.9 727.8,1515.5 738.9,1509.1 728.9,1506.6" fill="#2727e5" stroke="#000040" stroke-width="1.0" stroke-opacity="0.25" stroke-linejoin="round"/>
<polygon points="508.4,1499.7 517.7,1506.1 529.3,1505.4 520,1499.2" fill="#2626db" stroke="#000040" stroke-width="1.0" stroke-opacity="0.25" stroke-linejoin="round"/>
<polygon points="550.1,1510.1 559.6,1515.7 571,1513.8 561.6,1508.4" fill="#2323da" stroke="#000040" stroke-width="1.0" stroke-opacity="0.25" stroke-linejoin="round"/>
<polygon points="591.9,1516.5 601.5,1521.3 612.8,1518.2 603.2,1513.6" fill="#2323db" stroke="#000040" stroke-width="1.0" stroke-opacity="0.25" stroke-linejoin="round"/>
<polygon points="696.7,1515.8 706.7,1518.8 717.8,1512.9 707.8,1510.1" fill="#2525e2" stroke="#000040" stroke-width="1.0" stroke-opacity="0.25" stroke-linejoin="round"/>
<polygon points="571,1513.8 580.5,1519 591.9,1516.5 582.4,1511.4" fill="#2222da" stroke="#000040" stroke-width="1.0" stroke-opacity="0.25" stroke-linejoin="round"/>
<polygon points="612.8,1518.2 622.4,1522.7 633.7,1519 624.1,1514.7" fill="#2323dc" stroke="#000040" stroke-width="1.0" stroke-opacity="0.25" stroke-linejoin="round"/>
<polygon points="654.7,1518.9 664.5,1522.6 675.7,1517.8 665.9,1514.3" fill="#2323de" stroke="#000040" stroke-width="1.0" stroke-opacity="0.25" stroke-linejoin="round"/>
<polygon points="496.7,1499.8 506,1506.4 517.7,1506.1 508.4,1499.7" fill="#2727db" stroke="#000040" stroke-width="1.0" stroke-opacity="0.25" stroke-linejoin="round"/>
<polygon points="538.6,1511.4 548,1517.2 559.6,1515.7 550.1,1510.1" fill="#2424d9" stroke="#000040" stroke-width="1.0" stroke-opacity="0.25" stroke-linejoin="round"/>
<polygon points="685.5,1521.2 695.5,1524.3 706.7,1518.8 696.7,1515.8" fill="#2424e0" stroke="#000040" stroke-width="1.0" stroke-opacity="0.25" stroke-linejoin="round"/>
<polygon points="727.8,1515.5 738,1517.9 749.1,1511.3 738.9,1509.1" fill="#2828e5" stroke="#000040" stroke-width="1.0" stroke-opacity="0.25" stroke-linejoin="round"/>
<polygon points="475.7,1492.5 485,1499.5 496.7,1499.8 487.5,1493" fill="#2a2add" stroke="#000040" stroke-width="1.0" stroke-opacity="0.25" stroke-linejoin="round"/>
<polygon points="517.7,1506.1 527,1512.3 538.6,1511.4 529.3,1505.4" fill="#2525da" stroke="#000040" stroke-width="1.0" stroke-opacity="0.25" stroke-linejoin="round"/>
<polygon points="559.6,1515.7 569,1521.1 580.5,1519 571,1513.8" fill="#2323d9" stroke="#000040" stroke-width="1.0" stroke-opacity="0.25" stroke-linejoin="round"/>
<polygon points="601.5,1521.3 611.1,1526 622.4,1522.7 612.8,1518.2" fill="#2323db" stroke="#000040" stroke-width="1.0" stroke-opacity="0.25" stroke-linejoin="round"/>
<polygon points="622.4,1522.7 632.1,1527 643.4,1523.1 633.7,1519" fill="#2323dc" stroke="#000040" stroke-width="1.0" stroke-opacity="0.25" stroke-linejoin="round"/>
<polygon points="643.4,1523.1 653.2,1527.1 664.5,1522.6 654.7,1518.9" fill="#2323dd" stroke="#000040" stroke-width="1.0" stroke-opacity="0.25" stroke-linejoin="round"/>
<polygon points="664.5,1522.6 674.3,1526.2 685.5,1521.2 675.7,1517.8" fill="#2323de" stroke="#000040" stroke-width="1.0" stroke-opacity="0.25" stroke-linejoin="round"/>
<polygon points="706.7,1518.8 716.7,1521.6 727.8,1515.5 717.8,1512.9" fill="#2626e2" stroke="#000040" stroke-width="1.0" stroke-opacity="0.25" stroke-linejoin="round"/>
<polygon points="580.5,1519 590.1,1524.1 601.5,1521.3 591.9,1516.5" fill="#2222da" stroke="#000040" stroke-width="1.0" stroke-opacity="0.25" stroke-linejoin="round"/>
<polygon points="463.9,1491.5 473.2,1498.7 485,1499.5 475.7,1492.5" fill="#2b2bdd" stroke="#000040" stroke-width="1.0" stroke-opacity="0.25" stroke-linejoin="round"/>
<polygon points="506,1506.4 515.4,1512.8 527,1512.3 517.7,1506.1" fill="#2626da" stroke="#000040" stroke-width="1.0" stroke-opacity="0.25" stroke-linejoin="round"/>
<polygon points="548,1517.2 557.5,1522.9 569,1521.1 559.6,1515.7" fill="#2323d9" stroke="#000040" stroke-width="1.0" stroke-opacity="0.25" stroke-linejoin="round"/>
<polygon points="611.1,1526 620.8,1530.5 632.1,1527 622.4,1522.7" fill="#2323dc" stroke="#000040" stroke-width="1.0" stroke-opacity="0.25" stroke-linejoin="round"/>
<polygon points="653.2,1527.1 663.1,1530.8 674.3,1526.2 664.5,1522.6" fill="#2323dd" stroke="#000040" stroke-width="1.0" stroke-opacity="0.25" stroke-linejoin="round"/>
<polygon points="695.5,1524.3 705.5,1527.3 716.7,1521.6 706.7,1518.8" fill="#2424e0" stroke="#000040" stroke-width="1.0" stroke-opacity="0.25" stroke-linejoin="round"/>
<polygon points="738,1517.9 748.2,1520.2 759.3,1513.4 749.1,1511.3" fill="#2828e6" stroke="#000040" stroke-width="1.0" stroke-opacity="0.25" stroke-linejoin="round"/>
<polygon points="485,1499.5 494.3,1506.3 506,1506.4 496.7,1499.8" fill="#2828db" stroke="#000040" stroke-width="1.0" stroke-opacity="0.25" stroke-linejoin="round"/>
<polygon points="527,1512.3 536.4,1518.3 548,1517.2 538.6,1511.4" fill="#2424d9" stroke="#000040" stroke-width="1.0" stroke-opacity="0.25" stroke-linejoin="round"/>
<polygon points="569,1521.1 578.6,1526.4 590.1,1524.1 580.5,1519" fill="#2222d9" stroke="#000040" stroke-width="1.0" stroke-opacity="0.25" stroke-linejoin="round"/>
<polygon points="674.3,1526.2 684.3,1529.5 695.5,1524.3 685.5,1521.2" fill="#2323de" stroke="#000040" stroke-width="1.0" stroke-opacity="0.25" stroke-linejoin="round"/>
<polygon points="716.7,1521.6 726.8,1524.2 738,1517.9 727.8,1515.5" fill="#2626e3" stroke="#000040" stroke-width="1.0" stroke-opacity="0.25" stroke-linejoin="round"/>
<polygon points="590.1,1524.1 599.7,1528.9 611.1,1526 601.5,1521.3" fill="#2222da" stroke="#000040" stroke-width="1.0" stroke-opacity="0.25" stroke-linejoin="round"/>
<polygon points="632.1,1527 641.9,1531.1 653.2,1527.1 643.4,1523.1" fill="#2323dd" stroke="#000040" stroke-width="1.0" stroke-opacity="0.25" stroke-linejoin="round"/>
<polygon points="748.2,1520.2 758.4,1522.3 769.6,1515.3 759.3,1513.4" fill="#2929e7" stroke="#000040" stroke-width="1.0" stroke-opacity="0.25" stroke-linejoin="round"/>
<polygon points="473.2,1498.7 482.5,1505.7 494.3,1506.3 485,1499.5" fill="#2a2adc" stroke="#000040" stroke-width="1.0" stroke-opacity="0.25" stroke-linejoin="round"/>
<polygon points="515.4,1512.8 524.8,1519 536.4,1518.3 527,1512.3" fill="#2525d9" stroke="#000040" stroke-width="1.0" stroke-opacity="0.25" stroke-linejoin="round"/>
<polygon points="557.5,1522.9 567,1528.3 578.6,1526.4 569,1521.1" fill="#2222d8" stroke="#000040" stroke-width="1.0" stroke-opacity="0.25" stroke-linejoin="round"/>
<polygon points="663.1,1530.8 673,1534.4 684.3,1529.5 674.3,1526.2" fill="#2323dd" stroke="#000040" stroke-width="1.0" stroke-opacity="0.25" stroke-linejoin="round"/>
<polygon points="705.5,1527.3 715.6,1530.2 726.8,1524.2 716.7,1521.6" fill="#2525e1" stroke="#000040" stroke-width="1.0" stroke-opacity="0.25" stroke-linejoin="round"/>
<polygon points="452,1490.1 461.3,1497.5 473.2,1498.7 463.9,1491.5" fill="#2c2cde" stroke="#000040" stroke-width="1.0" stroke-opacity="0.25" stroke-linejoin="round"/>
<polygon points="494.3,1506.3 503.6,1512.9 515.4,1512.8 506,1506.4" fill="#2727da" stroke="#000040" stroke-width="1.0" stroke-opacity="0.25" stroke-linejoin="round"/>
<polygon points="536.4,1518.3 545.9,1524.2 557.5,1522.9 548,1517.2" fill="#2424d8" stroke="#000040" stroke-width="1.0" stroke-opacity="0.25" stroke-linejoin="round"/>
<polygon points="578.6,1526.4 588.2,1531.5 599.7,1528.9 590.1,1524.1" fill="#2222d9" stroke="#000040" stroke-width="1.0" stroke-opacity="0.25" stroke-linejoin="round"/>
<polygon points="599.7,1528.9 609.3,1533.6 620.8,1530.5 611.1,1526" fill="#2222da" stroke="#000040" stroke-width="1.0" stroke-opacity="0.25" stroke-linejoin="round"/>
<polygon points="620.8,1530.5 630.5,1534.8 641.9,1531.1 632.1,1527" fill="#2323dc" stroke="#000040" stroke-width="1.0" stroke-opacity="0.25" stroke-linejoin="round"/>
<polygon points="641.9,1531.1 651.7,1535.1 663.1,1530.8 653.2,1527.1" fill="#2323dd" stroke="#000040" stroke-width="1.0" stroke-opacity="0.25" stroke-linejoin="round"/>
<polygon points="684.3,1529.5 694.3,1532.7 705.5,1527.3 695.5,1524.3" fill="#2323de" stroke="#000040" stroke-width="1.0" stroke-opacity="0.25" stroke-linejoin="round"/>
<polygon points="726.8,1524.2 737,1526.7 748.2,1520.2 738,1517.9" fill="#2727e3" stroke="#000040" stroke-width="1.0" stroke-opacity="0.25" stroke-linejoin="round"/>
<polygon points="440,1488.2 449.3,1495.8 461.3,1497.5 452,1490.1" fill="#2e2edf" stroke="#000040" stroke-width="1.0" stroke-opacity="0.25" stroke-linejoin="round"/>
<polygon points="482.5,1505.7 491.8,1512.5 503.6,1512.9 494.3,1506.3" fill="#2828db" stroke="#000040" stroke-width="1.0" stroke-opacity="0.25" stroke-linejoin="round"/>
<polygon points="524.8,1519 534.2,1525.1 545.9,1524.2 536.4,1518.3" fill="#2424d8" stroke="#000040" stroke-width="1.0" stroke-opacity="0.25" stroke-linejoin="round"/>
<polygon points="567,1528.3 576.6,1533.6 588.2,1531.5 578.6,1526.4" fill="#2222d8" stroke="#000040" stroke-width="1.0" stroke-opacity="0.25" stroke-linejoin="round"/>
<polygon points="588.2,1531.5 597.9,1536.3 609.3,1533.6 599.7,1528.9" fill="#2222d9" stroke="#000040" stroke-width="1.0" stroke-opacity="0.25" stroke-linejoin="round"/>
<polygon points="630.5,1534.8 640.3,1538.9 651.7,1535.1 641.9,1531.1" fill="#2323dc" stroke="#000040" stroke-width="1.0" stroke-opacity="0.25" stroke-linejoin="round"/>
<polygon points="673,1534.4 683,1537.7 694.3,1532.7 684.3,1529.5" fill="#2323dd" stroke="#000040" stroke-width="1.0" stroke-opacity="0.25" stroke-linejoin="round"/>
<polygon points="715.6,1530.2 725.8,1532.8 737,1526.7 726.8,1524.2" fill="#2525e1" stroke="#000040" stroke-width="1.0" stroke-opacity="0.25" stroke-linejoin="round"/>
<polygon points="737,1526.7 747.2,1529 758.4,1522.3 748.2,1520.2" fill="#2727e4" stroke="#000040" stroke-width="1.0" stroke-opacity="0.25" stroke-linejoin="round"/>
<polygon points="758.4,1522.3 768.8,1524.2 780,1517 769.6,1515.3" fill="#2a2ae7" stroke="#000040" stroke-width="1.0" stroke-opacity="0.25" stroke-linejoin="round"/>
<polygon points="461.3,1497.5 470.5,1504.7 482.5,1505.7 473.2,1498.7" fill="#2b2bdc" stroke="#000040" stroke-width="1.0" stroke-opacity="0.25" stroke-linejoin="round"/>
<polygon points="503.6,1512.9 513,1519.3 524.8,1519 515.4,1512.8" fill="#2626d9" stroke="#000040" stroke-width="1.0" stroke-opacity="0.25" stroke-linejoin="round"/>
<polygon points="545.9,1524.2 555.4,1529.8 567,1528.3 557.5,1522.9" fill="#2323d8" stroke="#000040" stroke-width="1.0" stroke-opacity="0.25" stroke-linejoin="round"/>
<polygon points="651.7,1535.1 661.6,1538.8 673,1534.4 663.1,1530.8" fill="#2323dd" stroke="#000040" stroke-width="1.0" stroke-opacity="0.25" stroke-linejoin="round"/>
<polygon points="694.3,1532.7 704.3,1535.7 715.6,1530.2 705.5,1527.3" fill="#2424df" stroke="#000040" stroke-width="1.0" stroke-opacity="0.25" stroke-linejoin="round"/>
<polygon points="609.3,1533.6 619.1,1538.1 630.5,1534.8 620.8,1530.5" fill="#2222db" stroke="#000040" stroke-width="1.0" stroke-opacity="0.25" stroke-linejoin="round"/>
<polygon points="427.9,1485.8 437.2,1493.7 449.3,1495.8 440,1488.2" fill="#2a39dc" stroke="#000040" stroke-width="1.0" stroke-opacity="0.25" stroke-linejoin="round"/>
<polygon points="576.6,1533.6 586.3,1538.7 597.9,1536.3 588.2,1531.5" fill="#2222d8" stroke="#000040" stroke-width="1.0" stroke-opacity="0.25" stroke-linejoin="round"/>
<polygon points="725.8,1532.8 736,1535.3 747.2,1529 737,1526.7" fill="#2626e2" stroke="#000040" stroke-width="1.0" stroke-opacity="0.25" stroke-linejoin="round"/>
<polygon points="768.8,1524.2 779.2,1525.9 790.4,1518.5 780,1517" fill="#2b2be8" stroke="#000040" stroke-width="1.0" stroke-opacity="0.25" stroke-linejoin="round"/>
<polygon points="449.3,1495.8 458.6,1503.2 470.5,1504.7 461.3,1497.5" fill="#2c2cdd" stroke="#000040" stroke-width="1.0" stroke-opacity="0.25" stroke-linejoin="round"/>
<polygon points="491.8,1512.5 501.2,1519.2 513,1519.3 503.6,1512.9" fill="#2727d9" stroke="#000040" stroke-width="1.0" stroke-opacity="0.25" stroke-linejoin="round"/>
<polygon points="534.2,1525.1 543.8,1530.9 555.4,1529.8 545.9,1524.2" fill="#2323d7" stroke="#000040" stroke-width="1.0" stroke-opacity="0.25" stroke-linejoin="round"/>
<polygon points="640.3,1538.9 650.2,1542.9 661.6,1538.8 651.7,1535.1" fill="#2323dc" stroke="#000040" stroke-width="1.0" stroke-opacity="0.25" stroke-linejoin="round"/>
<polygon points="683,1537.7 693,1540.9 704.3,1535.7 694.3,1532.7" fill="#2323dd" stroke="#000040" stroke-width="1.0" stroke-opacity="0.25" stroke-linejoin="round"/>
<polygon points="470.5,1504.7 479.9,1511.7 491.8,1512.5 482.5,1505.7" fill="#2a2adb" stroke="#000040" stroke-width="1.0" stroke-opacity="0.25" stroke-linejoin="round"/>
<polygon points="513,1519.3 522.5,1525.6 534.2,1525.1 524.8,1519" fill="#2525d8" stroke="#000040" stroke-width="1.0" stroke-opacity="0.25" stroke-linejoin="round"/>
<polygon points="555.4,1529.8 565,1535.3 576.6,1533.6 567,1528.3" fill="#2222d7" stroke="#000040" stroke-width="1.0" stroke-opacity="0.25" stroke-linejoin="round"/>
<polygon points="597.9,1536.3 607.6,1541 619.1,1538.1 609.3,1533.6" fill="#2222da" stroke="#000040" stroke-width="1.0" stroke-opacity="0.25" stroke-linejoin="round"/>
<polygon points="619.1,1538.1 628.9,1542.4 640.3,1538.9 630.5,1534.8" fill="#2323db" stroke="#000040" stroke-width="1.0" stroke-opacity="0.25" stroke-linejoin="round"/>
<polygon points="661.6,1538.8 671.6,1542.4 683,1537.7 673,1534.4" fill="#2323dd" stroke="#000040" stroke-width="1.0" stroke-opacity="0.25" stroke-linejoin="round"/>
<polygon points="704.3,1535.7 714.5,1538.6 725.8,1532.8 715.6,1530.2" fill="#2424df" stroke="#000040" stroke-width="1.0" stroke-opacity="0.25" stroke-linejoin="round"/>
<polygon points="747.2,1529 757.6,1531 768.8,1524.2 758.4,1522.3" fill="#2828e5" stroke="#000040" stroke-width="1.0" stroke-opacity="0.25" stroke-linejoin="round"/>
<polygon points="437.2,1493.7 446.5,1501.3 458.6,1503.2 449.3,1495.8" fill="#2d30de" stroke="#000040" stroke-width="1.0" stroke-opacity="0.25" stroke-linejoin="round"/>
<polygon points="458.6,1503.2 467.9,1510.5 479.9,1511.7 470.5,1504.7" fill="#2b2bdc" stroke="#000040" stroke-width="1.0" stroke-opacity="0.25" stroke-linejoin="round"/>
<polygon points="501.2,1519.2 510.6,1525.6 522.5,1525.6 513,1519.3" fill="#2626d8" stroke="#000040" stroke-width="1.0" stroke-opacity="0.25" stroke-linejoin="round"/>
<polygon points="543.8,1530.9 553.3,1536.6 565,1535.3 555.4,1529.8" fill="#2323d7" stroke="#000040" stroke-width="1.0" stroke-opacity="0.25" stroke-linejoin="round"/>
<polygon points="586.3,1538.7 596,1543.5 607.6,1541 597.9,1536.3" fill="#2222d8" stroke="#000040" stroke-width="1.0" stroke-opacity="0.25" stroke-linejoin="round"/>
<polygon points="650.2,1542.9 660.2,1546.6 671.6,1542.4 661.6,1538.8" fill="#2323dc" stroke="#000040" stroke-width="1.0" stroke-opacity="0.25" stroke-linejoin="round"/>
<polygon points="693,1540.9 703.1,1543.9 714.5,1538.6 704.3,1535.7" fill="#2323dd" stroke="#000040" stroke-width="1.0" stroke-opacity="0.25" stroke-linejoin="round"/>
<polygon points="736,1535.3 746.3,1537.5 757.6,1531 747.2,1529" fill="#2626e3" stroke="#000040" stroke-width="1.0" stroke-opacity="0.25" stroke-linejoin="round"/>
<polygon points="779.2,1525.9 789.7,1527.4 801,1519.9 790.4,1518.5" fill="#2c2ce9" stroke="#000040" stroke-width="1.0" stroke-opacity="0.25" stroke-linejoin="round"/>
<polygon points="415.8,1483 425,1491 437.2,1493.7 427.9,1485.8" fill="#2647d8" stroke="#000040" stroke-width="1.0" stroke-opacity="0.25" stroke-linejoin="round"/>
<polygon points="565,1535.3 574.7,1540.6 586.3,1538.7 576.6,1533.6" fill="#2222d7" stroke="#000040" stroke-width="1.0" stroke-opacity="0.25" stroke-linejoin="round"/>
<polygon points="607.6,1541 617.4,1545.5 628.9,1542.4 619.1,1538.1" fill="#2222da" stroke="#000040" stroke-width="1.0" stroke-opacity="0.25" stroke-linejoin="round"/>
<polygon points="714.5,1538.6 724.7,1541.2 736,1535.3 725.8,1532.8" fill="#2424e0" stroke="#000040" stroke-width="1.0" stroke-opacity="0.25" stroke-linejoin="round"/>
<polygon points="757.6,1531 768,1532.9 779.2,1525.9 768.8,1524.2" fill="#2929e6" stroke="#000040" stroke-width="1.0" stroke-opacity="0.25" stroke-linejoin="round"/>
<polygon points="479.9,1511.7 489.3,1518.6 501.2,1519.2 491.8,1512.5" fill="#2828da" stroke="#000040" stroke-width="1.0" stroke-opacity="0.25" stroke-linejoin="round"/>
<polygon points="522.5,1525.6 532,1531.6 543.8,1530.9 534.2,1525.1" fill="#2424d7" stroke="#000040" stroke-width="1.0" stroke-opacity="0.25" stroke-linejoin="round"/>
<polygon points="628.9,1542.4 638.8,1546.6 650.2,1542.9 640.3,1538.9" fill="#2323db" stroke="#000040" stroke-width="1.0" stroke-opacity="0.25" stroke-linejoin="round"/>
<polygon points="671.6,1542.4 681.6,1545.8 693,1540.9 683,1537.7" fill="#2323dd" stroke="#000040" stroke-width="1.0" stroke-opacity="0.25" stroke-linejoin="round"/>
<polygon points="446.5,1501.3 455.8,1508.7 467.9,1510.5 458.6,1503.2" fill="#2d2ddd" stroke="#000040" stroke-width="1.0" stroke-opacity="0.25" stroke-linejoin="round"/>
<polygon points="789.7,1527.4 800.3,1528.8 811.6,1521.1 801,1519.9" fill="#2d2deb" stroke="#000040" stroke-width="1.0" stroke-opacity="0.25" stroke-linejoin="round"/>
<polygon points="553.3,1536.6 563,1542.1 574.7,1540.6 565,1535.3" fill="#2222d6" stroke="#000040" stroke-width="1.0" stroke-opacity="0.25" stroke-linejoin="round"/>
<polygon points="596,1543.5 605.8,1548.3 617.4,1545.5 607.6,1541" fill="#2222d9" stroke="#000040" stroke-width="1.0" stroke-opacity="0.25" stroke-linejoin="round"/>
<polygon points="703.1,1543.9 713.3,1546.8 724.7,1541.2 714.5,1538.6" fill="#2323de" stroke="#000040" stroke-width="1.0" stroke-opacity="0.25" stroke-linejoin="round"/>
<polygon points="746.3,1537.5 756.7,1539.6 768,1532.9 757.6,1531" fill="#2727e3" stroke="#000040" stroke-width="1.0" stroke-opacity="0.25" stroke-linejoin="round"/>
<polygon points="403.5,1479.7 412.7,1488 425,1491 415.8,1483" fill="#2155d5" stroke="#000040" stroke-width="1.0" stroke-opacity="0.25" stroke-linejoin="round"/>
<polygon points="467.9,1510.5 477.3,1517.5 489.3,1518.6 479.9,1511.7" fill="#2a2adb" stroke="#000040" stroke-width="1.0" stroke-opacity="0.25" stroke-linejoin="round"/>
<polygon points="510.6,1525.6 520.2,1531.9 532,1531.6 522.5,1525.6" fill="#2525d7" stroke="#000040" stroke-width="1.0" stroke-opacity="0.25" stroke-linejoin="round"/>
<polygon points="617.4,1545.5 627.2,1549.9 638.8,1546.6 628.9,1542.4" fill="#2222da" stroke="#000040" stroke-width="1.0" stroke-opacity="0.25" stroke-linejoin="round"/>
<polygon points="660.2,1546.6 670.2,1550.2 681.6,1545.8 671.6,1542.4" fill="#2323dc" stroke="#000040" stroke-width="1.0" stroke-opacity="0.25" stroke-linejoin="round"/>
<polygon points="425,1491 434.3,1498.9 446.5,1501.3 437.2,1493.7" fill="#293cda" stroke="#000040" stroke-width="1.0" stroke-opacity="0.25" stroke-linejoin="round"/>
<polygon points="532,1531.6 541.6,1537.5 553.3,1536.6 543.8,1530.9" fill="#2323d6" stroke="#000040" stroke-width="1.0" stroke-opacity="0.25" stroke-linejoin="round"/>
<polygon points="574.7,1540.6 584.4,1545.7 596,1543.5 586.3,1538.7" fill="#2222d7" stroke="#000040" stroke-width="1.0" stroke-opacity="0.25" stroke-linejoin="round"/>
<polygon points="724.7,1541.2 735,1543.6 746.3,1537.5 736,1535.3" fill="#2525e0" stroke="#000040" stroke-width="1.0" stroke-opacity="0.25" stroke-linejoin="round"/>
<polygon points="768,1532.9 778.5,1534.7 789.7,1527.4 779.2,1525.9" fill="#2a2ae7" stroke="#000040" stroke-width="1.0" stroke-opacity="0.25" stroke-linejoin="round"/>
<polygon points="489.3,1518.6 498.7,1525.2 510.6,1525.6 501.2,1519.2" fill="#2727d9" stroke="#000040" stroke-width="1.0" stroke-opacity="0.25" stroke-linejoin="round"/>
<polygon points="638.8,1546.6 648.7,1550.5 660.2,1546.6 650.2,1542.9" fill="#2323db" stroke="#000040" stroke-width="1.0" stroke-opacity="0.25" stroke-linejoin="round"/>
<polygon points="681.6,1545.8 691.8,1549 703.1,1543.9 693,1540.9" fill="#2323dd" stroke="#000040" stroke-width="1.0" stroke-opacity="0.25" stroke-linejoin="round"/>
<polygon points="455.8,1508.7 465.2,1516 477.3,1517.5 467.9,1510.5" fill="#2b2bdb" stroke="#000040" stroke-width="1.0" stroke-opacity="0.25" stroke-linejoin="round"/>
<polygon points="605.8,1548.3 615.7,1552.8 627.2,1549.9 617.4,1545.5" fill="#2222d9" stroke="#000040" stroke-width="1.0" stroke-opacity="0.25" stroke-linejoin="round"/>
<polygon points="520.2,1531.9 529.7,1537.9 541.6,1537.5 532,1531.6" fill="#2424d6" stroke="#000040" stroke-width="1.0" stroke-opacity="0.25" stroke-linejoin="round"/>
<polygon points="563,1542.1 572.7,1547.4 584.4,1545.7 574.7,1540.6" fill="#2222d6" stroke="#000040" stroke-width="1.0" stroke-opacity="0.25" stroke-linejoin="round"/>
<polygon points="713.3,1546.8 723.6,1549.4 735,1543.6 724.7,1541.2" fill="#2424de" stroke="#000040" stroke-width="1.0" stroke-opacity="0.25" stroke-linejoin="round"/>
<polygon points="756.7,1539.6 767.2,1541.5 778.5,1534.7 768,1532.9" fill="#2828e4" stroke="#000040" stroke-width="1.0" stroke-opacity="0.25" stroke-linejoin="round"/>
<polygon points="391.1,1475.9 400.4,1484.4 412.7,1488 403.5,1479.7" fill="#1a64cf" stroke="#000040" stroke-width="1.0" stroke-opacity="0.25" stroke-linejoin="round"/>
<polygon points="412.7,1488 422,1496 434.3,1498.9 425,1491" fill="#254ad7" stroke="#000040" stroke-width="1.0" stroke-opacity="0.25" stroke-linejoin="round"/>
<polygon points="434.3,1498.9 443.6,1506.6 455.8,1508.7 446.5,1501.3" fill="#2c33dc" stroke="#000040" stroke-width="1.0" stroke-opacity="0.25" stroke-linejoin="round"/>
<polygon points="477.3,1517.5 486.7,1524.4 498.7,1525.2 489.3,1518.6" fill="#2929d9" stroke="#000040" stroke-width="1.0" stroke-opacity="0.25" stroke-linejoin="round"/>
<polygon points="627.2,1549.9 637.2,1554 648.7,1550.5 638.8,1546.6" fill="#2222da" stroke="#000040" stroke-width="1.0" stroke-opacity="0.25" stroke-linejoin="round"/>
<polygon points="670.2,1550.2 680.3,1553.6 691.8,1549 681.6,1545.8" fill="#2323dc" stroke="#000040" stroke-width="1.0" stroke-opacity="0.25" stroke-linejoin="round"/>
<polygon points="778.5,1534.7 789.1,1536.2 800.3,1528.8 789.7,1527.4" fill="#2b2be8" stroke="#000040" stroke-width="1.0" stroke-opacity="0.25" stroke-linejoin="round"/>
<polygon points="800.3,1528.8 811,1530 822.3,1522 811.6,1521.1" fill="#2e2eec" stroke="#000040" stroke-width="1.0" stroke-opacity="0.25" stroke-linejoin="round"/>
<polygon points="541.6,1537.5 551.2,1543.1 563,1542.1 553.3,1536.6" fill="#2323d6" stroke="#000040" stroke-width="1.0" stroke-opacity="0.25" stroke-linejoin="round"/>
<polygon points="584.4,1545.7 594.2,1550.6 605.8,1548.3 596,1543.5" fill="#2222d8" stroke="#000040" stroke-width="1.0" stroke-opacity="0.25" stroke-linejoin="round"/>
<polygon points="691.8,1549 701.9,1552 713.3,1546.8 703.1,1543.9" fill="#2323dd" stroke="#000040" stroke-width="1.0" stroke-opacity="0.25" stroke-linejoin="round"/>
<polygon points="735,1543.6 745.4,1545.9 756.7,1539.6 746.3,1537.5" fill="#2626e1" stroke="#000040" stroke-width="1.0" stroke-opacity="0.25" stroke-linejoin="round"/>
<polygon points="498.7,1525.2 508.2,1531.7 520.2,1531.9 510.6,1525.6" fill="#2626d8" stroke="#000040" stroke-width="1.0" stroke-opacity="0.25" stroke-linejoin="round"/>
<polygon points="648.7,1550.5 658.7,1554.3 670.2,1550.2 660.2,1546.6" fill="#2323db" stroke="#000040" stroke-width="1.0" stroke-opacity="0.25" stroke-linejoin="round"/>
<polygon points="465.2,1516 474.6,1523.1 486.7,1524.4 477.3,1517.5" fill="#2a2ada" stroke="#000040" stroke-width="1.0" stroke-opacity="0.25" stroke-linejoin="round"/>
<polygon points="615.7,1552.8 625.6,1557.1 637.2,1554 627.2,1549.9" fill="#2222d9" stroke="#000040" stroke-width="1.0" stroke-opacity="0.25" stroke-linejoin="round"/>
<polygon points="767.2,1541.5 777.7,1543.2 789.1,1536.2 778.5,1534.7" fill="#2929e5" stroke="#000040" stroke-width="1.0" stroke-opacity="0.25" stroke-linejoin="round"/>
<polygon points="811,1530 821.8,1530.9 833.1,1522.8 822.3,1522" fill="#2f2fed" stroke="#000040" stroke-width="1.0" stroke-opacity="0.25" stroke-linejoin="round"/>
<polygon points="529.7,1537.9 539.4,1543.8 551.2,1543.1 541.6,1537.5" fill="#2323d6" stroke="#000040" stroke-width="1.0" stroke-opacity="0.25" stroke-linejoin="round"/>
<polygon points="572.7,1547.4 582.4,1552.5 594.2,1550.6 584.4,1545.7" fill="#2222d6" stroke="#000040" stroke-width="1.0" stroke-opacity="0.25" stroke-linejoin="round"/>
<polygon points="680.3,1553.6 690.5,1556.8 701.9,1552 691.8,1549" fill="#2323dc" stroke="#000040" stroke-width="1.0" stroke-opacity="0.25" stroke-linejoin="round"/>
<polygon points="723.6,1549.4 734,1551.9 745.4,1545.9 735,1543.6" fill="#2424df" stroke="#000040" stroke-width="1.0" stroke-opacity="0.25" stroke-linejoin="round"/>
<polygon points="378.6,1471.6 387.9,1480.3 400.4,1484.4 391.1,1475.9" fill="#1274c9" stroke="#000040" stroke-width="1.0" stroke-opacity="0.25" stroke-linejoin="round"/>
<polygon points="400.4,1484.4 409.7,1492.7 422,1496 412.7,1488" fill="#2059d3" stroke="#000040" stroke-width="1.0" stroke-opacity="0.25" stroke-linejoin="round"/>
<polygon points="422,1496 431.4,1503.9 443.6,1506.6 434.3,1498.9" fill="#2840d9" stroke="#000040" stroke-width="1.0" stroke-opacity="0.25" stroke-linejoin="round"/>
<polygon points="443.6,1506.6 453,1514 465.2,1516 455.8,1508.7" fill="#2d2ddd" stroke="#000040" stroke-width="1.0" stroke-opacity="0.25" stroke-linejoin="round"/>
<polygon points="486.7,1524.4 496.2,1531 508.2,1531.7 498.7,1525.2" fill="#2828d8" stroke="#000040" stroke-width="1.0" stroke-opacity="0.25" stroke-linejoin="round"/>
<polygon points="594.2,1550.6 604,1555.3 615.7,1552.8 605.8,1548.3" fill="#2222d8" stroke="#000040" stroke-width="1.0" stroke-opacity="0.25" stroke-linejoin="round"/>
<polygon points="637.2,1554 647.2,1558 658.7,1554.3 648.7,1550.5" fill="#2222da" stroke="#000040" stroke-width="1.0" stroke-opacity="0.25" stroke-linejoin="round"/>
<polygon points="508.2,1531.7 517.8,1537.9 529.7,1537.9 520.2,1531.9" fill="#2525d7" stroke="#000040" stroke-width="1.0" stroke-opacity="0.25" stroke-linejoin="round"/>
<polygon points="551.2,1543.1 560.9,1548.6 572.7,1547.4 563,1542.1" fill="#2222d5" stroke="#000040" stroke-width="1.0" stroke-opacity="0.25" stroke-linejoin="round"/>
<polygon points="701.9,1552 712.2,1554.8 723.6,1549.4 713.3,1546.8" fill="#2323dd" stroke="#000040" stroke-width="1.0" stroke-opacity="0.25" stroke-linejoin="round"/>
<polygon points="745.4,1545.9 755.8,1548 767.2,1541.5 756.7,1539.6" fill="#2626e2" stroke="#000040" stroke-width="1.0" stroke-opacity="0.25" stroke-linejoin="round"/>
<polygon points="658.7,1554.3 668.8,1557.9 680.3,1553.6 670.2,1550.2" fill="#2323db" stroke="#000040" stroke-width="1.0" stroke-opacity="0.25" stroke-linejoin="round"/>
<polygon points="789.1,1536.2 799.7,1537.5 811,1530 800.3,1528.8" fill="#2c2ce9" stroke="#000040" stroke-width="1.0" stroke-opacity="0.25" stroke-linejoin="round"/>
<polygon points="821.8,1530.9 832.7,1531.7 844,1523.4 833.1,1522.8" fill="#3030ef" stroke="#000040" stroke-width="1.0" stroke-opacity="0.25" stroke-linejoin="round"/>
<polygon points="474.6,1523.1 484.1,1529.9 496.2,1531 486.7,1524.4" fill="#2929d9" stroke="#000040" stroke-width="1.0" stroke-opacity="0.25" stroke-linejoin="round"/>
<polygon points="582.4,1552.5 592.3,1557.4 604,1555.3 594.2,1550.6" fill="#2222d7" stroke="#000040" stroke-width="1.0" stroke-opacity="0.25" stroke-linejoin="round"/>
<polygon points="625.6,1557.1 635.6,1561.3 647.2,1558 637.2,1554" fill="#2222d9" stroke="#000040" stroke-width="1.0" stroke-opacity="0.25" stroke-linejoin="round"/>
<polygon points="431.4,1503.9 440.8,1511.6 453,1514 443.6,1506.6" fill="#2b37db" stroke="#000040" stroke-width="1.0" stroke-opacity="0.25" stroke-linejoin="round"/>
<polygon points="496.2,1531 505.8,1537.5 517.8,1537.9 508.2,1531.7" fill="#2626d7" stroke="#000040" stroke-width="1.0" stroke-opacity="0.25" stroke-linejoin="round"/>
<polygon points="539.4,1543.8 549,1549.5 560.9,1548.6 551.2,1543.1" fill="#2323d5" stroke="#000040" stroke-width="1.0" stroke-opacity="0.25" stroke-linejoin="round"/>
<polygon points="690.5,1556.8 700.7,1559.8 712.2,1554.8 701.9,1552" fill="#2323dc" stroke="#000040" stroke-width="1.0" stroke-opacity="0.25" stroke-linejoin="round"/>
<polygon points="734,1551.9 744.4,1554.1 755.8,1548 745.4,1545.9" fill="#2525e0" stroke="#000040" stroke-width="1.0" stroke-opacity="0.25" stroke-linejoin="round"/>
<polygon points="366.1,1466.8 375.3,1475.7 387.9,1480.3 378.6,1471.6" fill="#0a82c5" stroke="#000040" stroke-width="1.0" stroke-opacity="0.25" stroke-linejoin="round"/>
<polygon points="387.9,1480.3 397.2,1488.8 409.7,1492.7 400.4,1484.4" fill="#1868cd" stroke="#000040" stroke-width="1.0" stroke-opacity="0.25" stroke-linejoin="round"/>
<polygon points="409.7,1492.7 419,1500.8 431.4,1503.9 422,1496" fill="#234ed5" stroke="#000040" stroke-width="1.0" stroke-opacity="0.25" stroke-linejoin="round"/>
<polygon points="453,1514 462.5,1521.3 474.6,1523.1 465.2,1516" fill="#2c2cdb" stroke="#000040" stroke-width="1.0" stroke-opacity="0.25" stroke-linejoin="round"/>
<polygon points="604,1555.3 613.9,1559.8 625.6,1557.1 615.7,1552.8" fill="#2222d8" stroke="#000040" stroke-width="1.0" stroke-opacity="0.25" stroke-linejoin="round"/>
<polygon points="647.2,1558 657.3,1561.7 668.8,1557.9 658.7,1554.3" fill="#2222da" stroke="#000040" stroke-width="1.0" stroke-opacity="0.25" stroke-linejoin="round"/>
<polygon points="755.8,1548 766.4,1549.9 777.7,1543.2 767.2,1541.5" fill="#2727e3" stroke="#000040" stroke-width="1.0" stroke-opacity="0.25" stroke-linejoin="round"/>
<polygon points="777.7,1543.2 788.4,1544.8 799.7,1537.5 789.1,1536.2" fill="#2a2ae6" stroke="#000040" stroke-width="1.0" stroke-opacity="0.25" stroke-linejoin="round"/>
<polygon points="799.7,1537.5 810.5,1538.7 821.8,1530.9 811,1530" fill="#2d2dea" stroke="#000040" stroke-width="1.0" stroke-opacity="0.25" stroke-linejoin="round"/>
<polygon points="517.8,1537.9 527.4,1544 539.4,1543.8 529.7,1537.9" fill="#2424d6" stroke="#000040" stroke-width="1.0" stroke-opacity="0.25" stroke-linejoin="round"/>
<polygon points="560.9,1548.6 570.7,1553.9 582.4,1552.5 572.7,1547.4" fill="#2222d5" stroke="#000040" stroke-width="1.0" stroke-opacity="0.25" stroke-linejoin="round"/>
<polygon points="668.8,1557.9 679,1561.3 690.5,1556.8 680.3,1553.6" fill="#2323db" stroke="#000040" stroke-width="1.0" stroke-opacity="0.25" stroke-linejoin="round"/>
<polygon points="712.2,1554.8 722.6,1557.5 734,1551.9 723.6,1549.4" fill="#2323dd" stroke="#000040" stroke-width="1.0" stroke-opacity="0.25" stroke-linejoin="round"/>
<polygon points="484.1,1529.9 493.7,1536.6 505.8,1537.5 496.2,1531" fill="#2828d8" stroke="#000040" stroke-width="1.0" stroke-opacity="0.25" stroke-linejoin="round"/>
<polygon points="592.3,1557.4 602.2,1562.1 613.9,1559.8 604,1555.3" fill="#2222d7" stroke="#000040" stroke-width="1.0" stroke-opacity="0.25" stroke-linejoin="round"/>
<polygon points="635.6,1561.3 645.6,1565.2 657.3,1561.7 647.2,1558" fill="#2222d9" stroke="#000040" stroke-width="1.0" stroke-opacity="0.25" stroke-linejoin="round"/>
<polygon points="744.4,1554.1 754.9,1556.2 766.4,1549.9 755.8,1548" fill="#2626e1" stroke="#000040" stroke-width="1.0" stroke-opacity="0.25" stroke-linejoin="round"/>
<polygon points="788.4,1544.8 799.1,1546.1 810.5,1538.7 799.7,1537.5" fill="#2b2be8" stroke="#000040" stroke-width="1.0" stroke-opacity="0.25" stroke-linejoin="round"/>
<polygon points="810.5,1538.7 821.3,1539.7 832.7,1531.7 821.8,1530.9" fill="#2e2eec" stroke="#000040" stroke-width="1.0" stroke-opacity="0.25" stroke-linejoin="round"/>
<polygon points="832.7,1531.7 843.6,1532.3 854.9,1523.9 844,1523.4" fill="#3232f0" stroke="#000040" stroke-width="1.0" stroke-opacity="0.25" stroke-linejoin="round"/>
<polygon points="353.4,1461.5 362.6,1470.6 375.3,1475.7 366.1,1466.8" fill="#038fc5" stroke="#000040" stroke-width="1.0" stroke-opacity="0.25" stroke-linejoin="round"/>
<polygon points="419,1500.8 428.4,1508.7 440.8,1511.6 431.4,1503.9" fill="#2645d7" stroke="#000040" stroke-width="1.0" stroke-opacity="0.25" stroke-linejoin="round"/>
<polygon points="440.8,1511.6 450.2,1519.1 462.5,1521.3 453,1514" fill="#2d2edc" stroke="#000040" stroke-width="1.0" stroke-opacity="0.25" stroke-linejoin="round"/>
<polygon points="505.8,1537.5 515.4,1543.8 527.4,1544 517.8,1537.9" fill="#2626d6" stroke="#000040" stroke-width="1.0" stroke-opacity="0.25" stroke-linejoin="round"/>
<polygon points="549,1549.5 558.8,1555 570.7,1553.9 560.9,1548.6" fill="#2222d5" stroke="#000040" stroke-width="1.0" stroke-opacity="0.25" stroke-linejoin="round"/>
<polygon points="657.3,1561.7 667.4,1565.3 679,1561.3 668.8,1557.9" fill="#2222da" stroke="#000040" stroke-width="1.0" stroke-opacity="0.25" stroke-linejoin="round"/>
<polygon points="700.7,1559.8 711.1,1562.7 722.6,1557.5 712.2,1554.8" fill="#2323dc" stroke="#000040" stroke-width="1.0" stroke-opacity="0.25" stroke-linejoin="round"/>
<polygon points="375.3,1475.7 384.6,1484.4 397.2,1488.8 387.9,1480.3" fill="#0f79c6" stroke="#000040" stroke-width="1.0" stroke-opacity="0.25" stroke-linejoin="round"/>
<polygon points="397.2,1488.8 406.5,1497.1 419,1500.8 409.7,1492.7" fill="#1d5ed1" stroke="#000040" stroke-width="1.0" stroke-opacity="0.25" stroke-linejoin="round"/>
<polygon points="462.5,1521.3 472,1528.4 484.1,1529.9 474.6,1523.1" fill="#2b2bda" stroke="#000040" stroke-width="1.0" stroke-opacity="0.25" stroke-linejoin="round"/>
<polygon points="570.7,1553.9 580.5,1559 592.3,1557.4 582.4,1552.5" fill="#2222d5" stroke="#000040" stroke-width="1.0" stroke-opacity="0.25" stroke-linejoin="round"/>
<polygon points="613.9,1559.8 623.9,1564.1 635.6,1561.3 625.6,1557.1" fill="#2222d8" stroke="#000040" stroke-width="1.0" stroke-opacity="0.25" stroke-linejoin="round"/>
<polygon points="527.4,1544 537.1,1549.9 549,1549.5 539.4,1543.8" fill="#2424d5" stroke="#000040" stroke-width="1.0" stroke-opacity="0.25" stroke-linejoin="round"/>
<polygon points="679,1561.3 689.2,1564.5 700.7,1559.8 690.5,1556.8" fill="#2323db" stroke="#000040" stroke-width="1.0" stroke-opacity="0.25" stroke-linejoin="round"/>
<polygon points="722.6,1557.5 733,1559.9 744.4,1554.1 734,1551.9" fill="#2424de" stroke="#000040" stroke-width="1.0" stroke-opacity="0.25" stroke-linejoin="round"/>
<polygon points="766.4,1549.9 777,1551.6 788.4,1544.8 777.7,1543.2" fill="#2828e4" stroke="#000040" stroke-width="1.0" stroke-opacity="0.25" stroke-linejoin="round"/>
<polygon points="799.1,1546.1 809.9,1547.3 821.3,1539.7 810.5,1538.7" fill="#2c2ce9" stroke="#000040" stroke-width="1.0" stroke-opacity="0.25" stroke-linejoin="round"/>
<polygon points="843.6,1532.3 854.7,1532.7 866,1524.1 854.9,1523.9" fill="#2f3aef" stroke="#000040" stroke-width="1.0" stroke-opacity="0.25" stroke-linejoin="round"/>
<polygon points="493.7,1536.6 503.3,1543.1 515.4,1543.8 505.8,1537.5" fill="#2727d7" stroke="#000040" stroke-width="1.0" stroke-opacity="0.25" stroke-linejoin="round"/>
<polygon points="645.6,1565.2 655.8,1569 667.4,1565.3 657.3,1561.7" fill="#2222da" stroke="#000040" stroke-width="1.0" stroke-opacity="0.25" stroke-linejoin="round"/>
<polygon points="558.8,1555 568.6,1560.3 580.5,1559 570.7,1553.9" fill="#2222d4" stroke="#000040" stroke-width="1.0" stroke-opacity="0.25" stroke-linejoin="round"/>
<polygon points="602.2,1562.1 612.1,1566.6 623.9,1564.1 613.9,1559.8" fill="#2222d7" stroke="#000040" stroke-width="1.0" stroke-opacity="0.25" stroke-linejoin="round"/>
<polygon points="340.5,1455.6 349.8,1465 362.6,1470.6 353.4,1461.5" fill="#00a0c7" stroke="#000040" stroke-width="1.0" stroke-opacity="0.25" stroke-linejoin="round"/>
<polygon points="362.6,1470.6 371.9,1479.6 384.6,1484.4 375.3,1475.7" fill="#0886c5" stroke="#000040" stroke-width="1.0" stroke-opacity="0.25" stroke-linejoin="round"/>
<polygon points="406.5,1497.1 415.9,1505.2 428.4,1508.7 419,1500.8" fill="#2154d3" stroke="#000040" stroke-width="1.0" stroke-opacity="0.25" stroke-linejoin="round"/>
<polygon points="428.4,1508.7 437.8,1516.4 450.2,1519.1 440.8,1511.6" fill="#293bd9" stroke="#000040" stroke-width="1.0" stroke-opacity="0.25" stroke-linejoin="round"/>
<polygon points="450.2,1519.1 459.7,1526.4 472,1528.4 462.5,1521.3" fill="#2c2cdb" stroke="#000040" stroke-width="1.0" stroke-opacity="0.25" stroke-linejoin="round"/>
<polygon points="472,1528.4 481.5,1535.3 493.7,1536.6 484.1,1529.9" fill="#2929d9" stroke="#000040" stroke-width="1.0" stroke-opacity="0.25" stroke-linejoin="round"/>
<polygon points="515.4,1543.8 525.1,1549.9 537.1,1549.9 527.4,1544" fill="#2525d5" stroke="#000040" stroke-width="1.0" stroke-opacity="0.25" stroke-linejoin="round"/>
<polygon points="667.4,1565.3 677.6,1568.7 689.2,1564.5 679,1561.3" fill="#2222da" stroke="#000040" stroke-width="1.0" stroke-opacity="0.25" stroke-linejoin="round"/>
<polygon points="711.1,1562.7 721.5,1565.3 733,1559.9 722.6,1557.5" fill="#2323dc" stroke="#000040" stroke-width="1.0" stroke-opacity="0.25" stroke-linejoin="round"/>
<polygon points="384.6,1484.4 394,1493 406.5,1497.1 397.2,1488.8" fill="#156eca" stroke="#000040" stroke-width="1.0" stroke-opacity="0.25" stroke-linejoin="round"/>
<polygon points="580.5,1559 590.4,1564 602.2,1562.1 592.3,1557.4" fill="#2222d6" stroke="#000040" stroke-width="1.0" stroke-opacity="0.25" stroke-linejoin="round"/>
<polygon points="623.9,1564.1 633.9,1568.3 645.6,1565.2 635.6,1561.3" fill="#2222d8" stroke="#000040" stroke-width="1.0" stroke-opacity="0.25" stroke-linejoin="round"/>
<polygon points="733,1559.9 743.5,1562.2 754.9,1556.2 744.4,1554.1" fill="#2525df" stroke="#000040" stroke-width="1.0" stroke-opacity="0.25" stroke-linejoin="round"/>
<polygon points="754.9,1556.2 765.6,1558.1 777,1551.6 766.4,1549.9" fill="#2727e2" stroke="#000040" stroke-width="1.0" stroke-opacity="0.25" stroke-linejoin="round"/>
<polygon points="777,1551.6 787.7,1553.1 799.1,1546.1 788.4,1544.8" fill="#2929e5" stroke="#000040" stroke-width="1.0" stroke-opacity="0.25" stroke-linejoin="round"/>
<polygon points="821.3,1539.7 832.2,1540.5 843.6,1532.3 832.7,1531.7" fill="#2f2fed" stroke="#000040" stroke-width="1.0" stroke-opacity="0.25" stroke-linejoin="round"/>
<polygon points="537.1,1549.9 546.9,1555.6 558.8,1555 549,1549.5" fill="#2323d5" stroke="#000040" stroke-width="1.0" stroke-opacity="0.25" stroke-linejoin="round"/>
<polygon points="689.2,1564.5 699.5,1567.5 711.1,1562.7 700.7,1559.8" fill="#2323db" stroke="#000040" stroke-width="1.0" stroke-opacity="0.25" stroke-linejoin="round"/>
<polygon points="503.3,1543.1 513,1549.4 525.1,1549.9 515.4,1543.8" fill="#2626d6" stroke="#000040" stroke-width="1.0" stroke-opacity="0.25" stroke-linejoin="round"/>
<polygon points="655.8,1569 666,1572.6 677.6,1568.7 667.4,1565.3" fill="#2222da" stroke="#000040" stroke-width="1.0" stroke-opacity="0.25" stroke-linejoin="round"/>
<polygon points="371.9,1479.6 381.3,1488.3 394,1493 384.6,1484.4" fill="#0c7ec4" stroke="#000040" stroke-width="1.0" stroke-opacity="0.25" stroke-linejoin="round"/>
<polygon points="459.7,1526.4 469.2,1533.5 481.5,1535.3 472,1528.4" fill="#2b2bda" stroke="#000040" stroke-width="1.0" stroke-opacity="0.25" stroke-linejoin="round"/>
<polygon points="568.6,1560.3 578.5,1565.4 590.4,1564 580.5,1559" fill="#2121d4" stroke="#000040" stroke-width="1.0" stroke-opacity="0.25" stroke-linejoin="round"/>
<polygon points="612.1,1566.6 622.2,1571 633.9,1568.3 623.9,1564.1" fill="#2222d7" stroke="#000040" stroke-width="1.0" stroke-opacity="0.25" stroke-linejoin="round"/>
<polygon points="721.5,1565.3 731.9,1567.8 743.5,1562.2 733,1559.9" fill="#2424dd" stroke="#000040" stroke-width="1.0" stroke-opacity="0.25" stroke-linejoin="round"/>
<polygon points="765.6,1558.1 776.2,1559.8 787.7,1553.1 777,1551.6" fill="#2828e3" stroke="#000040" stroke-width="1.0" stroke-opacity="0.25" stroke-linejoin="round"/>
<polygon points="787.7,1553.1 798.5,1554.5 809.9,1547.3 799.1,1546.1" fill="#2a2ae6" stroke="#000040" stroke-width="1.0" stroke-opacity="0.25" stroke-linejoin="round"/>
<polygon points="809.9,1547.3 820.8,1548.2 832.2,1540.5 821.3,1539.7" fill="#2d2dea" stroke="#000040" stroke-width="1.0" stroke-opacity="0.25" stroke-linejoin="round"/>
<polygon points="832.2,1540.5 843.3,1541 854.7,1532.7 843.6,1532.3" fill="#3131ef" stroke="#000040" stroke-width="1.0" stroke-opacity="0.25" stroke-linejoin="round"/>
<polygon points="854.7,1532.7 865.8,1533 877.2,1524.1 866,1524.1" fill="#2c44ed" stroke="#000040" stroke-width="1.0" stroke-opacity="0.25" stroke-linejoin="round"/>
<polygon points="327.6,1449.2 336.9,1458.8 349.8,1465 340.5,1455.6" fill="#00a4b9" stroke="#000040" stroke-width="1.0" stroke-opacity="0.25" stroke-linejoin="round"/>
<polygon points="349.8,1465 359.1,1474.2 371.9,1479.6 362.6,1470.6" fill="#0094c5" stroke="#000040" stroke-width="1.0" stroke-opacity="0.25" stroke-linejoin="round"/>
<polygon points="394,1493 403.3,1501.3 415.9,1505.2 406.5,1497.1" fill="#1a63ce" stroke="#000040" stroke-width="1.0" stroke-opacity="0.25" stroke-linejoin="round"/>
<polygon points="415.9,1505.2 425.4,1513.1 437.8,1516.4 428.4,1508.7" fill="#244ad5" stroke="#000040" stroke-width="1.0" stroke-opacity="0.25" stroke-linejoin="round"/>
<polygon points="437.8,1516.4 447.3,1523.9 459.7,1526.4 450.2,1519.1" fill="#2c33db" stroke="#000040" stroke-width="1.0" stroke-opacity="0.25" stroke-linejoin="round"/>
<polygon points="481.5,1535.3 491.1,1542 503.3,1543.1 493.7,1536.6" fill="#2828d8" stroke="#000040" stroke-width="1.0" stroke-opacity="0.25" stroke-linejoin="round"/>
<polygon points="525.1,1549.9 534.8,1555.8 546.9,1555.6 537.1,1549.9" fill="#2424d5" stroke="#000040" stroke-width="1.0" stroke-opacity="0.25" stroke-linejoin="round"/>
<polygon points="633.9,1568.3 644.1,1572.3 655.8,1569 645.6,1565.2" fill="#2222d9" stroke="#000040" stroke-width="1.0" stroke-opacity="0.25" stroke-linejoin="round"/>
<polygon points="677.6,1568.7 687.9,1571.9 699.5,1567.5 689.2,1564.5" fill="#2222db" stroke="#000040" stroke-width="1.0" stroke-opacity="0.25" stroke-linejoin="round"/>
<polygon points="546.9,1555.6 556.7,1561.1 568.6,1560.3 558.8,1555" fill="#2222d4" stroke="#000040" stroke-width="1.0" stroke-opacity="0.25" stroke-linejoin="round"/>
<polygon points="590.4,1564 600.3,1568.7 612.1,1566.6 602.2,1562.1" fill="#2222d6" stroke="#000040" stroke-width="1.0" stroke-opacity="0.25" stroke-linejoin="round"/>
<polygon points="699.5,1567.5 709.9,1570.3 721.5,1565.3 711.1,1562.7" fill="#2323db" stroke="#000040" stroke-width="1.0" stroke-opacity="0.25" stroke-linejoin="round"/>
<polygon points="743.5,1562.2 754.1,1564.3 765.6,1558.1 754.9,1556.2" fill="#2525e0" stroke="#000040" stroke-width="1.0" stroke-opacity="0.25" stroke-linejoin="round"/>
<polygon points="776.2,1559.8 787,1561.4 798.5,1554.5 787.7,1553.1" fill="#2929e4" stroke="#000040" stroke-width="1.0" stroke-opacity="0.25" stroke-linejoin="round"/>
<polygon points="820.8,1548.2 831.8,1549 843.3,1541 832.2,1540.5" fill="#2f2fec" stroke="#000040" stroke-width="1.0" stroke-opacity="0.25" stroke-linejoin="round"/>
<polygon points="865.8,1533 877,1533 888.4,1524 877.2,1524.1" fill="#294eeb" stroke="#000040" stroke-width="1.0" stroke-opacity="0.25" stroke-linejoin="round"/>
<polygon points="513,1549.4 522.7,1555.5 534.8,1555.8 525.1,1549.9" fill="#2525d5" stroke="#000040" stroke-width="1.0" stroke-opacity="0.25" stroke-linejoin="round"/>
<polygon points="622.2,1571 632.3,1575.1 644.1,1572.3 633.9,1568.3" fill="#2222d7" stroke="#000040" stroke-width="1.0" stroke-opacity="0.25" stroke-linejoin="round"/>
<polygon points="666,1572.6 676.2,1576 687.9,1571.9 677.6,1568.7" fill="#2222da" stroke="#000040" stroke-width="1.0" stroke-opacity="0.25" stroke-linejoin="round"/>
<polygon points="359.1,1474.2 368.5,1483.1 381.3,1488.3 371.9,1479.6" fill="#058bc4" stroke="#000040" stroke-width="1.0" stroke-opacity="0.25" stroke-linejoin="round"/>
<polygon points="381.3,1488.3 390.7,1496.9 403.3,1501.3 394,1493" fill="#1174c7" stroke="#000040" stroke-width="1.0" stroke-opacity="0.25" stroke-linejoin="round"/>
<polygon points="447.3,1523.9 456.9,1531.2 469.2,1533.5 459.7,1526.4" fill="#2d2ddb" stroke="#000040" stroke-width="1.0" stroke-opacity="0.25" stroke-linejoin="round"/>
<polygon points="469.2,1533.5 478.9,1540.4 491.1,1542 481.5,1535.3" fill="#2a2ad9" stroke="#000040" stroke-width="1.0" stroke-opacity="0.25" stroke-linejoin="round"/>
<polygon points="534.8,1555.8 544.6,1561.5 556.7,1561.1 546.9,1555.6" fill="#2323d4" stroke="#000040" stroke-width="1.0" stroke-opacity="0.25" stroke-linejoin="round"/>
<polygon points="578.5,1565.4 588.4,1570.3 600.3,1568.7 590.4,1564" fill="#2222d5" stroke="#000040" stroke-width="1.0" stroke-opacity="0.25" stroke-linejoin="round"/>
<polygon points="314.6,1442.3 323.8,1452.1 336.9,1458.8 327.6,1449.2" fill="#00857e" stroke="#000040" stroke-width="1.0" stroke-opacity="0.25" stroke-linejoin="round"/>
<polygon points="336.9,1458.8 346.2,1468.2 359.1,1474.2 349.8,1465" fill="#00a7c8" stroke="#000040" stroke-width="1.0" stroke-opacity="0.25" stroke-linejoin="round"/>
<polygon points="403.3,1501.3 412.8,1509.4 425.4,1513.1 415.9,1505.2" fill="#1f59d2" stroke="#000040" stroke-width="1.0" stroke-opacity="0.25" stroke-linejoin="round"/>
<polygon points="425.4,1513.1 434.9,1520.9 447.3,1523.9 437.8,1516.4" fill="#2741d7" stroke="#000040" stroke-width="1.0" stroke-opacity="0.25" stroke-linejoin="round"/>
<polygon points="491.1,1542 500.8,1548.5 513,1549.4 503.3,1543.1" fill="#2727d7" stroke="#000040" stroke-width="1.0" stroke-opacity="0.25" stroke-linejoin="round"/>
<polygon points="644.1,1572.3 654.2,1576 666,1572.6 655.8,1569" fill="#2222d9" stroke="#000040" stroke-width="1.0" stroke-opacity="0.25" stroke-linejoin="round"/>
<polygon points="687.9,1571.9 698.3,1574.9 709.9,1570.3 699.5,1567.5" fill="#2222da" stroke="#000040" stroke-width="1.0" stroke-opacity="0.25" stroke-linejoin="round"/>
<polygon points="556.7,1561.1 566.5,1566.4 578.5,1565.4 568.6,1560.3" fill="#2222d4" stroke="#000040" stroke-width="1.0" stroke-opacity="0.25" stroke-linejoin="round"/>
<polygon points="600.3,1568.7 610.4,1573.2 622.2,1571 612.1,1566.6" fill="#2222d6" stroke="#000040" stroke-width="1.0" stroke-opacity="0.25" stroke-linejoin="round"/>
<polygon points="709.9,1570.3 720.4,1573 731.9,1567.8 721.5,1565.3" fill="#2323db" stroke="#000040" stroke-width="1.0" stroke-opacity="0.25" stroke-linejoin="round"/>
<polygon points="731.9,1567.8 742.5,1570 754.1,1564.3 743.5,1562.2" fill="#2424de" stroke="#000040" stroke-width="1.0" stroke-opacity="0.25" stroke-linejoin="round"/>
<polygon points="754.1,1564.3 764.7,1566.2 776.2,1559.8 765.6,1558.1" fill="#2626e1" stroke="#000040" stroke-width="1.0" stroke-opacity="0.25" stroke-linejoin="round"/>
<polygon points="798.5,1554.5 809.4,1555.6 820.8,1548.2 809.9,1547.3" fill="#2c2ce8" stroke="#000040" stroke-width="1.0" stroke-opacity="0.25" stroke-linejoin="round"/>
<polygon points="843.3,1541 854.4,1541.5 865.8,1533 854.7,1532.7" fill="#3036ef" stroke="#000040" stroke-width="1.0" stroke-opacity="0.25" stroke-linejoin="round"/>
<polygon points="522.7,1555.5 532.5,1561.4 544.6,1561.5 534.8,1555.8" fill="#2424d5" stroke="#000040" stroke-width="1.0" stroke-opacity="0.25" stroke-linejoin="round"/>
<polygon points="632.3,1575.1 642.5,1579.1 654.2,1576 644.1,1572.3" fill="#2222d8" stroke="#000040" stroke-width="1.0" stroke-opacity="0.25" stroke-linejoin="round"/>
<polygon points="676.2,1576 686.6,1579.2 698.3,1574.9 687.9,1571.9" fill="#2222da" stroke="#000040" stroke-width="1.0" stroke-opacity="0.25" stroke-linejoin="round"/>
<polygon points="301.4,1434.7 310.7,1444.8 323.8,1452.1 314.6,1442.3" fill="#007953" stroke="#000040" stroke-width="1.0" stroke-opacity="0.25" stroke-linejoin="round"/>
<polygon points="368.5,1483.1 377.9,1491.9 390.7,1496.9 381.3,1488.3" fill="#0983c4" stroke="#000040" stroke-width="1.0" stroke-opacity="0.25" stroke-linejoin="round"/>
<polygon points="390.7,1496.9 400.1,1505.2 412.8,1509.4 403.3,1501.3" fill="#176acb" stroke="#000040" stroke-width="1.0" stroke-opacity="0.25" stroke-linejoin="round"/>
<polygon points="434.9,1520.9 444.4,1528.4 456.9,1531.2 447.3,1523.9" fill="#2a38d9" stroke="#000040" stroke-width="1.0" stroke-opacity="0.25" stroke-linejoin="round"/>
<polygon points="456.9,1531.2 466.5,1538.3 478.9,1540.4 469.2,1533.5" fill="#2c2cda" stroke="#000040" stroke-width="1.0" stroke-opacity="0.25" stroke-linejoin="round"/>
<polygon points="478.9,1540.4 488.5,1547.1 500.8,1548.5 491.1,1542" fill="#2929d8" stroke="#000040" stroke-width="1.0" stroke-opacity="0.25" stroke-linejoin="round"/>
<polygon points="544.6,1561.5 554.5,1567 566.5,1566.4 556.7,1561.1" fill="#2323d4" stroke="#000040" stroke-width="1.0" stroke-opacity="0.25" stroke-linejoin="round"/>
<polygon points="588.4,1570.3 598.5,1575.1 610.4,1573.2 600.3,1568.7" fill="#2222d5" stroke="#000040" stroke-width="1.0" stroke-opacity="0.25" stroke-linejoin="round"/>
<polygon points="698.3,1574.9 708.7,1577.8 720.4,1573 709.9,1570.3" fill="#2222da" stroke="#000040" stroke-width="1.0" stroke-opacity="0.25" stroke-linejoin="round"/>
<polygon points="742.5,1570 753.2,1572.1 764.7,1566.2 754.1,1564.3" fill="#2525df" stroke="#000040" stroke-width="1.0" stroke-opacity="0.25" stroke-linejoin="round"/>
<polygon points="764.7,1566.2 775.5,1567.9 787,1561.4 776.2,1559.8" fill="#2727e2" stroke="#000040" stroke-width="1.0" stroke-opacity="0.25" stroke-linejoin="round"/>
<polygon points="787,1561.4 797.9,1562.7 809.4,1555.6 798.5,1554.5" fill="#2a2ae5" stroke="#000040" stroke-width="1.0" stroke-opacity="0.25" stroke-linejoin="round"/>
<polygon points="809.4,1555.6 820.4,1556.6 831.8,1549 820.8,1548.2" fill="#2d2de9" stroke="#000040" stroke-width="1.0" stroke-opacity="0.25" stroke-linejoin="round"/>
<polygon points="831.8,1549 842.9,1549.6 854.4,1541.5 843.3,1541" fill="#3030ee" stroke="#000040" stroke-width="1.0" stroke-opacity="0.25" stroke-linejoin="round"/>
<polygon points="854.4,1541.5 865.6,1541.7 877,1533 865.8,1533" fill="#2d40ed" stroke="#000040" stroke-width="1.0" stroke-opacity="0.25" stroke-linejoin="round"/>
<polygon points="877,1533 888.4,1532.8 899.8,1523.7 888.4,1524" fill="#2658ea" stroke="#000040" stroke-width="1.0" stroke-opacity="0.25" stroke-linejoin="round"/>
<polygon points="323.8,1452.1 333.2,1461.7 346.2,1468.2 336.9,1458.8" fill="#0097a1" stroke="#000040" stroke-width="1.0" stroke-opacity="0.25" stroke-linejoin="round"/>
<polygon points="346.2,1468.2 355.6,1477.4 368.5,1483.1 359.1,1474.2" fill="#009bc6" stroke="#000040" stroke-width="1.0" stroke-opacity="0.25" stroke-linejoin="round"/>
<polygon points="412.8,1509.4 422.3,1517.4 434.9,1520.9 425.4,1513.1" fill="#2250d3" stroke="#000040" stroke-width="1.0" stroke-opacity="0.25" stroke-linejoin="round"/>
<polygon points="500.8,1548.5 510.5,1554.8 522.7,1555.5 513,1549.4" fill="#2626d6" stroke="#000040" stroke-width="1.0" stroke-opacity="0.25" stroke-linejoin="round"/>
<polygon points="610.4,1573.2 620.4,1577.6 632.3,1575.1 622.2,1571" fill="#2222d6" stroke="#000040" stroke-width="1.0" stroke-opacity="0.25" stroke-linejoin="round"/>
<polygon points="654.2,1576 664.5,1579.6 676.2,1576 666,1572.6" fill="#2222d9" stroke="#000040" stroke-width="1.0" stroke-opacity="0.25" stroke-linejoin="round"/>
<polygon points="566.5,1566.4 576.5,1571.5 588.4,1570.3 578.5,1565.4" fill="#2121d3" stroke="#000040" stroke-width="1.0" stroke-opacity="0.25" stroke-linejoin="round"/>
<polygon points="720.4,1573 730.9,1575.4 742.5,1570 731.9,1567.8" fill="#2323dc" stroke="#000040" stroke-width="1.0" stroke-opacity="0.25" stroke-linejoin="round"/>
<polygon points="532.5,1561.4 542.4,1567.1 554.5,1567 544.6,1561.5" fill="#2424d4" stroke="#000040" stroke-width="1.0" stroke-opacity="0.25" stroke-linejoin="round"/>
<polygon points="686.6,1579.2 697,1582.2 708.7,1577.8 698.3,1574.9" fill="#2222da" stroke="#000040" stroke-width="1.0" stroke-opacity="0.25" stroke-linejoin="round"/>
<polygon points="753.2,1572.1 763.9,1574 775.5,1567.9 764.7,1566.2" fill="#2626e0" stroke="#000040" stroke-width="1.0" stroke-opacity="0.25" stroke-linejoin="round"/>
<polygon points="797.9,1562.7 808.8,1563.8 820.4,1556.6 809.4,1555.6" fill="#2b2be7" stroke="#000040" stroke-width="1.0" stroke-opacity="0.25" stroke-linejoin="round"/>
<polygon points="842.9,1549.6 854.1,1550 865.6,1541.7 854.4,1541.5" fill="#3133ef" stroke="#000040" stroke-width="1.0" stroke-opacity="0.25" stroke-linejoin="round"/>
<polygon points="888.4,1532.8 899.8,1532.5 911.3,1523.1 899.8,1523.7" fill="#2263e8" stroke="#000040" stroke-width="1.0" stroke-opacity="0.25" stroke-linejoin="round"/>
<polygon points="598.5,1575.1 608.5,1579.6 620.4,1577.6 610.4,1573.2" fill="#2222d5" stroke="#000040" stroke-width="1.0" stroke-opacity="0.25" stroke-linejoin="round"/>
<polygon points="642.5,1579.1 652.7,1582.9 664.5,1579.6 654.2,1576" fill="#2222d8" stroke="#000040" stroke-width="1.0" stroke-opacity="0.25" stroke-linejoin="round"/>
<polygon points="310.7,1444.8 320,1454.7 333.2,1461.7 323.8,1452.1" fill="#00806d" stroke="#000040" stroke-width="1.0" stroke-opacity="0.25" stroke-linejoin="round"/>
<polygon points="288.1,1426.6 297.4,1437 310.7,1444.8 301.4,1434.7" fill="#007139" stroke="#000040" stroke-width="1.0" stroke-opacity="0.25" stroke-linejoin="round"/>
<polygon points="355.6,1477.4 365,1486.4 377.9,1491.9 368.5,1483.1" fill="#0290c4" stroke="#000040" stroke-width="1.0" stroke-opacity="0.25" stroke-linejoin="round"/>
<polygon points="377.9,1491.9 387.3,1500.5 400.1,1505.2 390.7,1496.9" fill="#0d7bc3" stroke="#000040" stroke-width="1.0" stroke-opacity="0.25" stroke-linejoin="round"/>
<polygon points="400.1,1505.2 409.6,1513.4 422.3,1517.4 412.8,1509.4" fill="#1c60ce" stroke="#000040" stroke-width="1.0" stroke-opacity="0.25" stroke-linejoin="round"/>
<polygon points="422.3,1517.4 431.8,1525.1 444.4,1528.4 434.9,1520.9" fill="#2547d5" stroke="#000040" stroke-width="1.0" stroke-opacity="0.25" stroke-linejoin="round"/>
<polygon points="444.4,1528.4 454,1535.7 466.5,1538.3 456.9,1531.2" fill="#2c30da" stroke="#000040" stroke-width="1.0" stroke-opacity="0.25" stroke-linejoin="round"/>
<polygon points="466.5,1538.3 476.2,1545.2 488.5,1547.1 478.9,1540.4" fill="#2b2bd9" stroke="#000040" stroke-width="1.0" stroke-opacity="0.25" stroke-linejoin="round"/>
<polygon points="488.5,1547.1 498.3,1553.6 510.5,1554.8 500.8,1548.5" fill="#2828d7" stroke="#000040" stroke-width="1.0" stroke-opacity="0.25" stroke-linejoin="round"/>
<polygon points="510.5,1554.8 520.3,1560.9 532.5,1561.4 522.7,1555.5" fill="#2626d5" stroke="#000040" stroke-width="1.0" stroke-opacity="0.25" stroke-linejoin="round"/>
<polygon points="554.5,1567 564.4,1572.3 576.5,1571.5 566.5,1566.4" fill="#2222d3" stroke="#000040" stroke-width="1.0" stroke-opacity="0.25" stroke-linejoin="round"/>
<polygon points="333.2,1461.7 342.5,1471.2 355.6,1477.4 346.2,1468.2" fill="#00abc5" stroke="#000040" stroke-width="1.0" stroke-opacity="0.25" stroke-linejoin="round"/>
<polygon points="620.4,1577.6 630.6,1581.7 642.5,1579.1 632.3,1575.1" fill="#2222d7" stroke="#000040" stroke-width="1.0" stroke-opacity="0.25" stroke-linejoin="round"/>
<polygon points="664.5,1579.6 674.9,1583 686.6,1579.2 676.2,1576" fill="#2222d9" stroke="#000040" stroke-width="1.0" stroke-opacity="0.25" stroke-linejoin="round"/>
<polygon points="576.5,1571.5 586.5,1576.5 598.5,1575.1 588.4,1570.3" fill="#2121d4" stroke="#000040" stroke-width="1.0" stroke-opacity="0.25" stroke-linejoin="round"/>
<polygon points="708.7,1577.8 719.3,1580.4 730.9,1575.4 720.4,1573" fill="#2222da" stroke="#000040" stroke-width="1.0" stroke-opacity="0.25" stroke-linejoin="round"/>
<polygon points="730.9,1575.4 741.6,1577.7 753.2,1572.1 742.5,1570" fill="#2424dd" stroke="#000040" stroke-width="1.0" stroke-opacity="0.25" stroke-linejoin="round"/>
<polygon points="775.5,1567.9 786.3,1569.4 797.9,1562.7 787,1561.4" fill="#2828e3" stroke="#000040" stroke-width="1.0" stroke-opacity="0.25" stroke-linejoin="round"/>
<polygon points="820.4,1556.6 831.4,1557.4 842.9,1549.6 831.8,1549" fill="#2e2eeb" stroke="#000040" stroke-width="1.0" stroke-opacity="0.25" stroke-linejoin="round"/>
<polygon points="865.6,1541.7 876.9,1541.7 888.4,1532.8 877,1533" fill="#2a4aeb" stroke="#000040" stroke-width="1.0" stroke-opacity="0.25" stroke-linejoin="round"/>
<polygon points="899.8,1532.5 911.3,1531.9 922.8,1522.4 911.3,1523.1" fill="#1d6ee4" stroke="#000040" stroke-width="1.0" stroke-opacity="0.25" stroke-linejoin="round"/>
<polygon points="542.4,1567.1 552.3,1572.6 564.4,1572.3 554.5,1567" fill="#2323d4" stroke="#000040" stroke-width="1.0" stroke-opacity="0.25" stroke-linejoin="round"/>
<polygon points="409.6,1513.4 419.2,1521.3 431.8,1525.1 422.3,1517.4" fill="#2056d1" stroke="#000040" stroke-width="1.0" stroke-opacity="0.25" stroke-linejoin="round"/>
<polygon points="498.3,1553.6 508,1559.9 520.3,1560.9 510.5,1554.8" fill="#2727d6" stroke="#000040" stroke-width="1.0" stroke-opacity="0.25" stroke-linejoin="round"/>
<polygon points="608.5,1579.6 618.7,1584 630.6,1581.7 620.4,1577.6" fill="#2222d5" stroke="#000040" stroke-width="1.0" stroke-opacity="0.25" stroke-linejoin="round"/>
<polygon points="652.7,1582.9 663,1586.5 674.9,1583 664.5,1579.6" fill="#2222d8" stroke="#000040" stroke-width="1.0" stroke-opacity="0.25" stroke-linejoin="round"/>
<polygon points="297.4,1437 306.7,1447.1 320,1454.7 310.7,1444.8" fill="#007441" stroke="#000040" stroke-width="1.0" stroke-opacity="0.25" stroke-linejoin="round"/>
<polygon points="320,1454.7 329.4,1464.3 342.5,1471.2 333.2,1461.7" fill="#008988" stroke="#000040" stroke-width="1.0" stroke-opacity="0.25" stroke-linejoin="round"/>
<polygon points="274.6,1418 283.9,1428.5 297.4,1437 288.1,1426.6" fill="#006e2c" stroke="#000040" stroke-width="1.0" stroke-opacity="0.25" stroke-linejoin="round"/>
<polygon points="342.5,1471.2 351.9,1480.4 365,1486.4 355.6,1477.4" fill="#00a3c7" stroke="#000040" stroke-width="1.0" stroke-opacity="0.25" stroke-linejoin="round"/>
<polygon points="365,1486.4 374.4,1495.2 387.3,1500.5 377.9,1491.9" fill="#0688c3" stroke="#000040" stroke-width="1.0" stroke-opacity="0.25" stroke-linejoin="round"/>
<polygon points="387.3,1500.5 396.8,1508.9 409.6,1513.4 400.1,1505.2" fill="#1371c7" stroke="#000040" stroke-width="1.0" stroke-opacity="0.25" stroke-linejoin="round"/>
<polygon points="431.8,1525.1 441.5,1532.6 454,1535.7 444.4,1528.4" fill="#283fd7" stroke="#000040" stroke-width="1.0" stroke-opacity="0.25" stroke-linejoin="round"/>
<polygon points="454,1535.7 463.7,1542.8 476.2,1545.2 466.5,1538.3" fill="#2d2dda" stroke="#000040" stroke-width="1.0" stroke-opacity="0.25" stroke-linejoin="round"/>
<polygon points="476.2,1545.2 485.9,1551.9 498.3,1553.6 488.5,1547.1" fill="#2a2ad8" stroke="#000040" stroke-width="1.0" stroke-opacity="0.25" stroke-linejoin="round"/>
<polygon points="520.3,1560.9 530.2,1566.8 542.4,1567.1 532.5,1561.4" fill="#2525d4" stroke="#000040" stroke-width="1.0" stroke-opacity="0.25" stroke-linejoin="round"/>
<polygon points="564.4,1572.3 574.4,1577.4 586.5,1576.5 576.5,1571.5" fill="#2222d3" stroke="#000040" stroke-width="1.0" stroke-opacity="0.25" stroke-linejoin="round"/>
<polygon points="674.9,1583 685.3,1586.2 697,1582.2 686.6,1579.2" fill="#2222d9" stroke="#000040" stroke-width="1.0" stroke-opacity="0.25" stroke-linejoin="round"/>
<polygon points="697,1582.2 707.6,1585 719.3,1580.4 708.7,1577.8" fill="#2222da" stroke="#000040" stroke-width="1.0" stroke-opacity="0.25" stroke-linejoin="round"/>
<polygon points="719.3,1580.4 729.9,1582.9 741.6,1577.7 730.9,1575.4" fill="#2323db" stroke="#000040" stroke-width="1.0" stroke-opacity="0.25" stroke-linejoin="round"/>
<polygon points="741.6,1577.7 752.3,1579.8 763.9,1574 753.2,1572.1" fill="#2525de" stroke="#000040" stroke-width="1.0" stroke-opacity="0.25" stroke-linejoin="round"/>
<polygon points="763.9,1574 774.7,1575.7 786.3,1569.4 775.5,1567.9" fill="#2727e1" stroke="#000040" stroke-width="1.0" stroke-opacity="0.25" stroke-linejoin="round"/>
<polygon points="786.3,1569.4 797.3,1570.7 808.8,1563.8 797.9,1562.7" fill="#2929e4" stroke="#000040" stroke-width="1.0" stroke-opacity="0.25" stroke-linejoin="round"/>
<polygon points="808.8,1563.8 819.9,1564.8 831.4,1557.4 820.4,1556.6" fill="#2c2ce8" stroke="#000040" stroke-width="1.0" stroke-opacity="0.25" stroke-linejoin="round"/>
<polygon points="831.4,1557.4 842.6,1557.9 854.1,1550 842.9,1549.6" fill="#3030ec" stroke="#000040" stroke-width="1.0" stroke-opacity="0.25" stroke-linejoin="round"/>
<polygon points="854.1,1550 865.4,1550.2 876.9,1541.7 865.6,1541.7" fill="#2e3ced" stroke="#000040" stroke-width="1.0" stroke-opacity="0.25" stroke-linejoin="round"/>
<polygon points="876.9,1541.7 888.3,1541.5 899.8,1532.5 888.4,1532.8" fill="#2754ea" stroke="#000040" stroke-width="1.0" stroke-opacity="0.25" stroke-linejoin="round"/>
<polygon points="586.5,1576.5 596.6,1581.2 608.5,1579.6 598.5,1575.1" fill="#2121d4" stroke="#000040" stroke-width="1.0" stroke-opacity="0.25" stroke-linejoin="round"/>
<polygon points="630.6,1581.7 640.9,1585.7 652.7,1582.9 642.5,1579.1" fill="#2222d7" stroke="#000040" stroke-width="1.0" stroke-opacity="0.25" stroke-linejoin="round"/>
<polygon points="552.3,1572.6 562.3,1578 574.4,1577.4 564.4,1572.3" fill="#2323d3" stroke="#000040" stroke-width="1.0" stroke-opacity="0.25" stroke-linejoin="round"/>
<polygon points="663,1586.5 673.5,1589.9 685.3,1586.2 674.9,1583" fill="#2222d8" stroke="#000040" stroke-width="1.0" stroke-opacity="0.25" stroke-linejoin="round"/>
<polygon points="707.6,1585 718.2,1587.7 729.9,1582.9 719.3,1580.4" fill="#2222da" stroke="#000040" stroke-width="1.0" stroke-opacity="0.25" stroke-linejoin="round"/>
<polygon points="729.9,1582.9 740.6,1585.1 752.3,1579.8 741.6,1577.7" fill="#2424dc" stroke="#000040" stroke-width="1.0" stroke-opacity="0.25" stroke-linejoin="round"/>
<polygon points="774.7,1575.7 785.6,1577.2 797.3,1570.7 786.3,1569.4" fill="#2828e2" stroke="#000040" stroke-width="1.0" stroke-opacity="0.25" stroke-linejoin="round"/>
<polygon points="819.9,1564.8 831,1565.5 842.6,1557.9 831.4,1557.4" fill="#2e2eea" stroke="#000040" stroke-width="1.0" stroke-opacity="0.25" stroke-linejoin="round"/>
<polygon points="865.4,1550.2 876.8,1550.2 888.3,1541.5 876.9,1541.7" fill="#2b46eb" stroke="#000040" stroke-width="1.0" stroke-opacity="0.25" stroke-linejoin="round"/>
<polygon points="888.3,1541.5 899.8,1541.2 911.3,1531.9 899.8,1532.5" fill="#235fe8" stroke="#000040" stroke-width="1.0" stroke-opacity="0.25" stroke-linejoin="round"/>
<polygon points="911.3,1531.9 923,1531.2 934.5,1521.5 922.8,1522.4" fill="#177adf" stroke="#000040" stroke-width="1.0" stroke-opacity="0.25" stroke-linejoin="round"/>
<polygon points="329.4,1464.3 338.8,1473.8 351.9,1480.4 342.5,1471.2" fill="#009dab" stroke="#000040" stroke-width="1.0" stroke-opacity="0.25" stroke-linejoin="round"/>
<polygon points="396.8,1508.9 406.4,1517 419.2,1521.3 409.6,1513.4" fill="#1867cb" stroke="#000040" stroke-width="1.0" stroke-opacity="0.25" stroke-linejoin="round"/>
<polygon points="419.2,1521.3 428.8,1529.1 441.5,1532.6 431.8,1525.1" fill="#234ed3" stroke="#000040" stroke-width="1.0" stroke-opacity="0.25" stroke-linejoin="round"/>
<polygon points="485.9,1551.9 495.7,1558.4 508,1559.9 498.3,1553.6" fill="#2929d7" stroke="#000040" stroke-width="1.0" stroke-opacity="0.25" stroke-linejoin="round"/>
<polygon points="508,1559.9 517.9,1566 530.2,1566.8 520.3,1560.9" fill="#2626d5" stroke="#000040" stroke-width="1.0" stroke-opacity="0.25" stroke-linejoin="round"/>
<polygon points="574.4,1577.4 584.5,1582.4 596.6,1581.2 586.5,1576.5" fill="#2222d3" stroke="#000040" stroke-width="1.0" stroke-opacity="0.25" stroke-linejoin="round"/>
<polygon points="618.7,1584 628.9,1588.1 640.9,1585.7 630.6,1581.7" fill="#2222d6" stroke="#000040" stroke-width="1.0" stroke-opacity="0.25" stroke-linejoin="round"/>
<polygon points="283.9,1428.5 293.3,1438.9 306.7,1447.1 297.4,1437" fill="#007034" stroke="#000040" stroke-width="1.0" stroke-opacity="0.25" stroke-linejoin="round"/>
<polygon points="306.7,1447.1 316.1,1457 329.4,1464.3 320,1454.7" fill="#007b5b" stroke="#000040" stroke-width="1.0" stroke-opacity="0.25" stroke-linejoin="round"/>
<polygon points="261,1408.7 270.4,1419.5 283.9,1428.5 274.6,1418" fill="#006a1f" stroke="#000040" stroke-width="1.0" stroke-opacity="0.25" stroke-linejoin="round"/>
<polygon points="351.9,1480.4 361.4,1489.4 374.4,1495.2 365,1486.4" fill="#0097c4" stroke="#000040" stroke-width="1.0" stroke-opacity="0.25" stroke-linejoin="round"/>
<polygon points="374.4,1495.2 383.9,1503.8 396.8,1508.9 387.3,1500.5" fill="#0a80c3" stroke="#000040" stroke-width="1.0" stroke-opacity="0.25" stroke-linejoin="round"/>
<polygon points="441.5,1532.6 451.1,1540 463.7,1542.8 454,1535.7" fill="#2a37d8" stroke="#000040" stroke-width="1.0" stroke-opacity="0.25" stroke-linejoin="round"/>
<polygon points="463.7,1542.8 473.4,1549.8 485.9,1551.9 476.2,1545.2" fill="#2b2bd9" stroke="#000040" stroke-width="1.0" stroke-opacity="0.25" stroke-linejoin="round"/>
<polygon points="530.2,1566.8 540.1,1572.5 552.3,1572.6 542.4,1567.1" fill="#2424d4" stroke="#000040" stroke-width="1.0" stroke-opacity="0.25" stroke-linejoin="round"/>
<polygon points="596.6,1581.2 606.7,1585.8 618.7,1584 608.5,1579.6" fill="#2121d4" stroke="#000040" stroke-width="1.0" stroke-opacity="0.25" stroke-linejoin="round"/>
<polygon points="640.9,1585.7 651.2,1589.5 663,1586.5 652.7,1582.9" fill="#2222d7" stroke="#000040" stroke-width="1.0" stroke-opacity="0.25" stroke-linejoin="round"/>
<polygon points="685.3,1586.2 695.8,1589.3 707.6,1585 697,1582.2" fill="#2222d9" stroke="#000040" stroke-width="1.0" stroke-opacity="0.25" stroke-linejoin="round"/>
<polygon points="752.3,1579.8 763.1,1581.6 774.7,1575.7 763.9,1574" fill="#2626df" stroke="#000040" stroke-width="1.0" stroke-opacity="0.25" stroke-linejoin="round"/>
<polygon points="797.3,1570.7 808.3,1571.8 819.9,1564.8 808.8,1563.8" fill="#2b2be6" stroke="#000040" stroke-width="1.0" stroke-opacity="0.25" stroke-linejoin="round"/>
<polygon points="842.6,1557.9 853.9,1558.3 865.4,1550.2 854.1,1550" fill="#3131ee" stroke="#000040" stroke-width="1.0" stroke-opacity="0.25" stroke-linejoin="round"/>
<polygon points="718.2,1587.7 728.8,1590.1 740.6,1585.1 729.9,1582.9" fill="#2323db" stroke="#000040" stroke-width="1.0" stroke-opacity="0.25" stroke-linejoin="round"/>
<polygon points="876.8,1550.2 888.3,1550 899.8,1541.2 888.3,1541.5" fill="#2851ea" stroke="#000040" stroke-width="1.0" stroke-opacity="0.25" stroke-linejoin="round"/>
<polygon points="923,1531.2 934.7,1530.3 946.3,1520.4 934.5,1521.5" fill="#1086db" stroke="#000040" stroke-width="1.0" stroke-opacity="0.25" stroke-linejoin="round"/>
<polygon points="562.3,1578 572.4,1583.1 584.5,1582.4 574.4,1577.4" fill="#2222d3" stroke="#000040" stroke-width="1.0" stroke-opacity="0.25" stroke-linejoin="round"/>
<polygon points="247.3,1398.8 256.6,1409.8 270.4,1419.5 261,1408.7" fill="#01671b" stroke="#000040" stroke-width="1.0" stroke-opacity="0.25" stroke-linejoin="round"/>
<polygon points="316.1,1457 325.5,1466.6 338.8,1473.8 329.4,1464.3" fill="#008173" stroke="#000040" stroke-width="1.0" stroke-opacity="0.25" stroke-linejoin="round"/>
<polygon points="338.8,1473.8 348.3,1483 361.4,1489.4 351.9,1480.4" fill="#00abc8" stroke="#000040" stroke-width="1.0" stroke-opacity="0.25" stroke-linejoin="round"/>
<polygon points="383.9,1503.8 393.5,1512.2 406.4,1517 396.8,1508.9" fill="#0e78c4" stroke="#000040" stroke-width="1.0" stroke-opacity="0.25" stroke-linejoin="round"/>
<polygon points="406.4,1517 416,1525 428.8,1529.1 419.2,1521.3" fill="#1c5ece" stroke="#000040" stroke-width="1.0" stroke-opacity="0.25" stroke-linejoin="round"/>
<polygon points="428.8,1529.1 438.4,1536.6 451.1,1540 441.5,1532.6" fill="#2546d5" stroke="#000040" stroke-width="1.0" stroke-opacity="0.25" stroke-linejoin="round"/>
<polygon points="473.4,1549.8 483.2,1556.5 495.7,1558.4 485.9,1551.9" fill="#2a2ad8" stroke="#000040" stroke-width="1.0" stroke-opacity="0.25" stroke-linejoin="round"/>
<polygon points="495.7,1558.4 505.5,1564.7 517.9,1566 508,1559.9" fill="#2828d6" stroke="#000040" stroke-width="1.0" stroke-opacity="0.25" stroke-linejoin="round"/>
<polygon points="517.9,1566 527.8,1571.9 540.1,1572.5 530.2,1566.8" fill="#2626d5" stroke="#000040" stroke-width="1.0" stroke-opacity="0.25" stroke-linejoin="round"/>
<polygon points="584.5,1582.4 594.6,1587.1 606.7,1585.8 596.6,1581.2" fill="#2121d3" stroke="#000040" stroke-width="1.0" stroke-opacity="0.25" stroke-linejoin="round"/>
<polygon points="628.9,1588.1 639.2,1592.1 651.2,1589.5 640.9,1585.7" fill="#2222d6" stroke="#000040" stroke-width="1.0" stroke-opacity="0.25" stroke-linejoin="round"/>
<polygon points="270.4,1419.5 279.7,1430 293.3,1438.9 283.9,1428.5" fill="#006c27" stroke="#000040" stroke-width="1.0" stroke-opacity="0.25" stroke-linejoin="round"/>
<polygon points="293.3,1438.9 302.7,1449 316.1,1457 306.7,1447.1" fill="#00723b" stroke="#000040" stroke-width="1.0" stroke-opacity="0.25" stroke-linejoin="round"/>
<polygon points="361.4,1489.4 370.9,1498.2 383.9,1503.8 374.4,1495.2" fill="#038ec3" stroke="#000040" stroke-width="1.0" stroke-opacity="0.25" stroke-linejoin="round"/>
<polygon points="451.1,1540 460.8,1547.1 473.4,1549.8 463.7,1542.8" fill="#2c2fda" stroke="#000040" stroke-width="1.0" stroke-opacity="0.25" stroke-linejoin="round"/>
<polygon points="540.1,1572.5 550.1,1578 562.3,1578 552.3,1572.6" fill="#2424d4" stroke="#000040" stroke-width="1.0" stroke-opacity="0.25" stroke-linejoin="round"/>
<polygon points="651.2,1589.5 661.6,1593.1 673.5,1589.9 663,1586.5" fill="#2222d7" stroke="#000040" stroke-width="1.0" stroke-opacity="0.25" stroke-linejoin="round"/>
<polygon points="673.5,1589.9 683.9,1593.1 695.8,1589.3 685.3,1586.2" fill="#2222d8" stroke="#000040" stroke-width="1.0" stroke-opacity="0.25" stroke-linejoin="round"/>
<polygon points="695.8,1589.3 706.4,1592.1 718.2,1587.7 707.6,1585" fill="#2222d9" stroke="#000040" stroke-width="1.0" stroke-opacity="0.25" stroke-linejoin="round"/>
<polygon points="740.6,1585.1 751.4,1587.2 763.1,1581.6 752.3,1579.8" fill="#2525dd" stroke="#000040" stroke-width="1.0" stroke-opacity="0.25" stroke-linejoin="round"/>
<polygon points="763.1,1581.6 774,1583.3 785.6,1577.2 774.7,1575.7" fill="#2727e0" stroke="#000040" stroke-width="1.0" stroke-opacity="0.25" stroke-linejoin="round"/>
<polygon points="785.6,1577.2 796.6,1578.5 808.3,1571.8 797.3,1570.7" fill="#2929e4" stroke="#000040" stroke-width="1.0" stroke-opacity="0.25" stroke-linejoin="round"/>
<polygon points="808.3,1571.8 819.4,1572.8 831,1565.5 819.9,1564.8" fill="#2c2ce7" stroke="#000040" stroke-width="1.0" stroke-opacity="0.25" stroke-linejoin="round"/>
<polygon points="831,1565.5 842.3,1566.1 853.9,1558.3 842.6,1557.9" fill="#2f2feb" stroke="#000040" stroke-width="1.0" stroke-opacity="0.25" stroke-linejoin="round"/>
<polygon points="853.9,1558.3 865.2,1558.5 876.8,1550.2 865.4,1550.2" fill="#2f3aed" stroke="#000040" stroke-width="1.0" stroke-opacity="0.25" stroke-linejoin="round"/>
<polygon points="899.8,1541.2 911.4,1540.6 923,1531.2 911.3,1531.9" fill="#1e6ae4" stroke="#000040" stroke-width="1.0" stroke-opacity="0.25" stroke-linejoin="round"/>
<polygon points="606.7,1585.8 616.9,1590.1 628.9,1588.1 618.7,1584" fill="#2121d4" stroke="#000040" stroke-width="1.0" stroke-opacity="0.25" stroke-linejoin="round"/>
<polygon points="572.4,1583.1 582.5,1588 594.6,1587.1 584.5,1582.4" fill="#2222d3" stroke="#000040" stroke-width="1.0" stroke-opacity="0.25" stroke-linejoin="round"/>
<polygon points="639.2,1592.1 649.6,1595.9 661.6,1593.1 651.2,1589.5" fill="#2222d6" stroke="#000040" stroke-width="1.0" stroke-opacity="0.25" stroke-linejoin="round"/>
<polygon points="683.9,1593.1 694.5,1596.1 706.4,1592.1 695.8,1589.3" fill="#2222d8" stroke="#000040" stroke-width="1.0" stroke-opacity="0.25" stroke-linejoin="round"/>
<polygon points="706.4,1592.1 717,1594.7 728.8,1590.1 718.2,1587.7" fill="#2222d9" stroke="#000040" stroke-width="1.0" stroke-opacity="0.25" stroke-linejoin="round"/>
<polygon points="728.8,1590.1 739.6,1592.4 751.4,1587.2 740.6,1585.1" fill="#2424dc" stroke="#000040" stroke-width="1.0" stroke-opacity="0.25" stroke-linejoin="round"/>
<polygon points="751.4,1587.2 762.2,1589.1 774,1583.3 763.1,1581.6" fill="#2626de" stroke="#000040" stroke-width="1.0" stroke-opacity="0.25" stroke-linejoin="round"/>
<polygon points="796.6,1578.5 807.7,1579.7 819.4,1572.8 808.3,1571.8" fill="#2a2ae5" stroke="#000040" stroke-width="1.0" stroke-opacity="0.25" stroke-linejoin="round"/>
<polygon points="842.3,1566.1 853.6,1566.5 865.2,1558.5 853.9,1558.3" fill="#3131ed" stroke="#000040" stroke-width="1.0" stroke-opacity="0.25" stroke-linejoin="round"/>
<polygon points="865.2,1558.5 876.7,1558.5 888.3,1550 876.8,1550.2" fill="#2c44eb" stroke="#000040" stroke-width="1.0" stroke-opacity="0.25" stroke-linejoin="round"/>
<polygon points="888.3,1550 899.9,1549.6 911.4,1540.6 899.8,1541.2" fill="#245ce8" stroke="#000040" stroke-width="1.0" stroke-opacity="0.25" stroke-linejoin="round"/>
<polygon points="911.4,1540.6 923.2,1539.8 934.7,1530.3 923,1531.2" fill="#1876e0" stroke="#000040" stroke-width="1.0" stroke-opacity="0.25" stroke-linejoin="round"/>
<polygon points="934.7,1530.3 946.6,1529.1 958.2,1519 946.3,1520.4" fill="#0b90da" stroke="#000040" stroke-width="1.0" stroke-opacity="0.25" stroke-linejoin="round"/>
<polygon points="256.6,1409.8 266,1420.6 279.7,1430 270.4,1419.5" fill="#00681d" stroke="#000040" stroke-width="1.0" stroke-opacity="0.25" stroke-linejoin="round"/>
<polygon points="233.4,1388.2 242.8,1399.5 256.6,1409.8 247.3,1398.8" fill="#026318" stroke="#000040" stroke-width="1.0" stroke-opacity="0.25" stroke-linejoin="round"/>
<polygon points="302.7,1449 312.1,1458.9 325.5,1466.6 316.1,1457" fill="#007547" stroke="#000040" stroke-width="1.0" stroke-opacity="0.25" stroke-linejoin="round"/>
<polygon points="325.5,1466.6 335,1476.1 348.3,1483 338.8,1473.8" fill="#008d90" stroke="#000040" stroke-width="1.0" stroke-opacity="0.25" stroke-linejoin="round"/>
<polygon points="348.3,1483 357.8,1492.1 370.9,1498.2 361.4,1489.4" fill="#00a0c5" stroke="#000040" stroke-width="1.0" stroke-opacity="0.25" stroke-linejoin="round"/>
<polygon points="370.9,1498.2 380.5,1506.8 393.5,1512.2 383.9,1503.8" fill="#0786c3" stroke="#000040" stroke-width="1.0" stroke-opacity="0.25" stroke-linejoin="round"/>
<polygon points="393.5,1512.2 403.1,1520.4 416,1525 406.4,1517" fill="#136fc7" stroke="#000040" stroke-width="1.0" stroke-opacity="0.25" stroke-linejoin="round"/>
<polygon points="416,1525 425.7,1532.8 438.4,1536.6 428.8,1529.1" fill="#2055d1" stroke="#000040" stroke-width="1.0" stroke-opacity="0.25" stroke-linejoin="round"/>
<polygon points="438.4,1536.6 448.2,1544 460.8,1547.1 451.1,1540" fill="#283ed6" stroke="#000040" stroke-width="1.0" stroke-opacity="0.25" stroke-linejoin="round"/>
<polygon points="460.8,1547.1 470.6,1554 483.2,1556.5 473.4,1549.8" fill="#2c2cd9" stroke="#000040" stroke-width="1.0" stroke-opacity="0.25" stroke-linejoin="round"/>
<polygon points="483.2,1556.5 493,1563 505.5,1564.7 495.7,1558.4" fill="#2a2ad7" stroke="#000040" stroke-width="1.0" stroke-opacity="0.25" stroke-linejoin="round"/>
<polygon points="505.5,1564.7 515.4,1570.9 527.8,1571.9 517.9,1566" fill="#2727d5" stroke="#000040" stroke-width="1.0" stroke-opacity="0.25" stroke-linejoin="round"/>
<polygon points="527.8,1571.9 537.8,1577.7 550.1,1578 540.1,1572.5" fill="#2525d4" stroke="#000040" stroke-width="1.0" stroke-opacity="0.25" stroke-linejoin="round"/>
<polygon points="550.1,1578 560.1,1583.4 572.4,1583.1 562.3,1578" fill="#2323d3" stroke="#000040" stroke-width="1.0" stroke-opacity="0.25" stroke-linejoin="round"/>
<polygon points="594.6,1587.1 604.8,1591.7 616.9,1590.1 606.7,1585.8" fill="#2121d3" stroke="#000040" stroke-width="1.0" stroke-opacity="0.25" stroke-linejoin="round"/>
<polygon points="279.7,1430 289.1,1440.4 302.7,1449 293.3,1438.9" fill="#006e2e" stroke="#000040" stroke-width="1.0" stroke-opacity="0.25" stroke-linejoin="round"/>
<polygon points="616.9,1590.1 627.2,1594.3 639.2,1592.1 628.9,1588.1" fill="#2121d4" stroke="#000040" stroke-width="1.0" stroke-opacity="0.25" stroke-linejoin="round"/>
<polygon points="661.6,1593.1 672,1596.5 683.9,1593.1 673.5,1589.9" fill="#2222d7" stroke="#000040" stroke-width="1.0" stroke-opacity="0.25" stroke-linejoin="round"/>
<polygon points="774,1583.3 785,1584.8 796.6,1578.5 785.6,1577.2" fill="#2828e1" stroke="#000040" stroke-width="1.0" stroke-opacity="0.25" stroke-linejoin="round"/>
<polygon points="819.4,1572.8 830.6,1573.5 842.3,1566.1 831,1565.5" fill="#2d2de9" stroke="#000040" stroke-width="1.0" stroke-opacity="0.25" stroke-linejoin="round"/>
<polygon points="694.5,1596.1 705.2,1598.9 717,1594.7 706.4,1592.1" fill="#2222d8" stroke="#000040" stroke-width="1.0" stroke-opacity="0.25" stroke-linejoin="round"/>
<polygon points="739.6,1592.4 750.5,1594.4 762.2,1589.1 751.4,1587.2" fill="#2525dd" stroke="#000040" stroke-width="1.0" stroke-opacity="0.25" stroke-linejoin="round"/>
<polygon points="853.6,1566.5 865,1566.7 876.7,1558.5 865.2,1558.5" fill="#2f38ed" stroke="#000040" stroke-width="1.0" stroke-opacity="0.25" stroke-linejoin="round"/>
<polygon points="899.9,1549.6 911.6,1549.1 923.2,1539.8 911.4,1540.6" fill="#2067e5" stroke="#000040" stroke-width="1.0" stroke-opacity="0.25" stroke-linejoin="round"/>
<polygon points="946.6,1529.1 958.6,1527.8 970.2,1517.5 958.2,1519" fill="#069adb" stroke="#000040" stroke-width="1.0" stroke-opacity="0.25" stroke-linejoin="round"/>
<polygon points="582.5,1588 592.7,1592.8 604.8,1591.7 594.6,1587.1" fill="#2222d3" stroke="#000040" stroke-width="1.0" stroke-opacity="0.25" stroke-linejoin="round"/>
<polygon points="357.8,1492.1 367.4,1500.9 380.5,1506.8 370.9,1498.2" fill="#0095c3" stroke="#000040" stroke-width="1.0" stroke-opacity="0.25" stroke-linejoin="round"/>
<polygon points="448.2,1544 457.9,1551.1 470.6,1554 460.8,1547.1" fill="#2a37d7" stroke="#000040" stroke-width="1.0" stroke-opacity="0.25" stroke-linejoin="round"/>
<polygon points="537.8,1577.7 547.8,1583.2 560.1,1583.4 550.1,1578" fill="#2525d4" stroke="#000040" stroke-width="1.0" stroke-opacity="0.25" stroke-linejoin="round"/>
<polygon points="242.8,1399.5 252.2,1410.6 266,1420.6 256.6,1409.8" fill="#01651a" stroke="#000040" stroke-width="1.0" stroke-opacity="0.25" stroke-linejoin="round"/>
<polygon points="266,1420.6 275.4,1431.2 289.1,1440.4 279.7,1430" fill="#006a21" stroke="#000040" stroke-width="1.0" stroke-opacity="0.25" stroke-linejoin="round"/>
<polygon points="219.4,1377 228.8,1388.6 242.8,1399.5 233.4,1388.2" fill="#036015" stroke="#000040" stroke-width="1.0" stroke-opacity="0.25" stroke-linejoin="round"/>
<polygon points="289.1,1440.4 298.6,1450.6 312.1,1458.9 302.7,1449" fill="#007035" stroke="#000040" stroke-width="1.0" stroke-opacity="0.25" stroke-linejoin="round"/>
<polygon points="312.1,1458.9 321.6,1468.6 335,1476.1 325.5,1466.6" fill="#007c5f" stroke="#000040" stroke-width="1.0" stroke-opacity="0.25" stroke-linejoin="round"/>
<polygon points="335,1476.1 344.5,1485.4 357.8,1492.1 348.3,1483" fill="#009fb1" stroke="#000040" stroke-width="1.0" stroke-opacity="0.25" stroke-linejoin="round"/>
<polygon points="380.5,1506.8 390.1,1515.2 403.1,1520.4 393.5,1512.2" fill="#0b7fc2" stroke="#000040" stroke-width="1.0" stroke-opacity="0.25" stroke-linejoin="round"/>
<polygon points="403.1,1520.4 412.8,1528.4 425.7,1532.8 416,1525" fill="#1866ca" stroke="#000040" stroke-width="1.0" stroke-opacity="0.25" stroke-linejoin="round"/>
<polygon points="425.7,1532.8 435.4,1540.3 448.2,1544 438.4,1536.6" fill="#234dd2" stroke="#000040" stroke-width="1.0" stroke-opacity="0.25" stroke-linejoin="round"/>
<polygon points="470.6,1554 480.5,1560.8 493,1563 483.2,1556.5" fill="#2b2bd8" stroke="#000040" stroke-width="1.0" stroke-opacity="0.25" stroke-linejoin="round"/>
<polygon points="493,1563 502.9,1569.3 515.4,1570.9 505.5,1564.7" fill="#2929d6" stroke="#000040" stroke-width="1.0" stroke-opacity="0.25" stroke-linejoin="round"/>
<polygon points="515.4,1570.9 525.4,1576.8 537.8,1577.7 527.8,1571.9" fill="#2626d5" stroke="#000040" stroke-width="1.0" stroke-opacity="0.25" stroke-linejoin="round"/>
<polygon points="560.1,1583.4 570.3,1588.5 582.5,1588 572.4,1583.1" fill="#2323d3" stroke="#000040" stroke-width="1.0" stroke-opacity="0.25" stroke-linejoin="round"/>
<polygon points="604.8,1591.7 615.1,1596 627.2,1594.3 616.9,1590.1" fill="#2121d3" stroke="#000040" stroke-width="1.0" stroke-opacity="0.25" stroke-linejoin="round"/>
<polygon points="627.2,1594.3 637.6,1598.2 649.6,1595.9 639.2,1592.1" fill="#2222d5" stroke="#000040" stroke-width="1.0" stroke-opacity="0.25" stroke-linejoin="round"/>
<polygon points="649.6,1595.9 660.1,1599.5 672,1596.5 661.6,1593.1" fill="#2222d6" stroke="#000040" stroke-width="1.0" stroke-opacity="0.25" stroke-linejoin="round"/>
<polygon points="672,1596.5 682.6,1599.7 694.5,1596.1 683.9,1593.1" fill="#2222d7" stroke="#000040" stroke-width="1.0" stroke-opacity="0.25" stroke-linejoin="round"/>
<polygon points="717,1594.7 727.8,1597.2 739.6,1592.4 728.8,1590.1" fill="#2323da" stroke="#000040" stroke-width="1.0" stroke-opacity="0.25" stroke-linejoin="round"/>
<polygon points="762.2,1589.1 773.2,1590.8 785,1584.8 774,1583.3" fill="#2727e0" stroke="#000040" stroke-width="1.0" stroke-opacity="0.25" stroke-linejoin="round"/>
<polygon points="785,1584.8 796,1586.1 807.7,1579.7 796.6,1578.5" fill="#2929e3" stroke="#000040" stroke-width="1.0" stroke-opacity="0.25" stroke-linejoin="round"/>
<polygon points="807.7,1579.7 818.9,1580.6 830.6,1573.5 819.4,1572.8" fill="#2c2ce7" stroke="#000040" stroke-width="1.0" stroke-opacity="0.25" stroke-linejoin="round"/>
<polygon points="830.6,1573.5 841.9,1574.1 853.6,1566.5 842.3,1566.1" fill="#2f2feb" stroke="#000040" stroke-width="1.0" stroke-opacity="0.25" stroke-linejoin="round"/>
<polygon points="876.7,1558.5 888.2,1558.3 899.9,1549.6 888.3,1550" fill="#284ee9" stroke="#000040" stroke-width="1.0" stroke-opacity="0.25" stroke-linejoin="round"/>
<polygon points="923.2,1539.8 935,1538.9 946.6,1529.1 934.7,1530.3" fill="#1282dc" stroke="#000040" stroke-width="1.0" stroke-opacity="0.25" stroke-linejoin="round"/>
<polygon points="592.7,1592.8 603,1597.3 615.1,1596 604.8,1591.7" fill="#2222d3" stroke="#000040" stroke-width="1.0" stroke-opacity="0.25" stroke-linejoin="round"/>
<polygon points="275.4,1431.2 284.9,1441.6 298.6,1450.6 289.1,1440.4" fill="#006c28" stroke="#000040" stroke-width="1.0" stroke-opacity="0.25" stroke-linejoin="round"/>
<polygon points="344.5,1485.4 354.1,1494.4 367.4,1500.9 357.8,1492.1" fill="#00a9c7" stroke="#000040" stroke-width="1.0" stroke-opacity="0.25" stroke-linejoin="round"/>
<polygon points="367.4,1500.9 377,1509.5 390.1,1515.2 380.5,1506.8" fill="#038dc2" stroke="#000040" stroke-width="1.0" stroke-opacity="0.25" stroke-linejoin="round"/>
<polygon points="435.4,1540.3 445.2,1547.7 457.9,1551.1 448.2,1544" fill="#2546d4" stroke="#000040" stroke-width="1.0" stroke-opacity="0.25" stroke-linejoin="round"/>
<polygon points="457.9,1551.1 467.8,1558.1 480.5,1560.8 470.6,1554" fill="#2c30d9" stroke="#000040" stroke-width="1.0" stroke-opacity="0.25" stroke-linejoin="round"/>
<polygon points="525.4,1576.8 535.4,1582.5 547.8,1583.2 537.8,1577.7" fill="#2626d4" stroke="#000040" stroke-width="1.0" stroke-opacity="0.25" stroke-linejoin="round"/>
<polygon points="547.8,1583.2 557.9,1588.5 570.3,1588.5 560.1,1583.4" fill="#2424d3" stroke="#000040" stroke-width="1.0" stroke-opacity="0.25" stroke-linejoin="round"/>
<polygon points="615.1,1596 625.5,1600.2 637.6,1598.2 627.2,1594.3" fill="#2121d3" stroke="#000040" stroke-width="1.0" stroke-opacity="0.25" stroke-linejoin="round"/>
<polygon points="660.1,1599.5 670.6,1602.9 682.6,1599.7 672,1596.5" fill="#2222d6" stroke="#000040" stroke-width="1.0" stroke-opacity="0.25" stroke-linejoin="round"/>
<polygon points="682.6,1599.7 693.2,1602.7 705.2,1598.9 694.5,1596.1" fill="#2222d7" stroke="#000040" stroke-width="1.0" stroke-opacity="0.25" stroke-linejoin="round"/>
<polygon points="705.2,1598.9 715.9,1601.5 727.8,1597.2 717,1594.7" fill="#2323d9" stroke="#000040" stroke-width="1.0" stroke-opacity="0.25" stroke-linejoin="round"/>
<polygon points="727.8,1597.2 738.6,1599.4 750.5,1594.4 739.6,1592.4" fill="#2424db" stroke="#000040" stroke-width="1.0" stroke-opacity="0.25" stroke-linejoin="round"/>
<polygon points="750.5,1594.4 761.4,1596.3 773.2,1590.8 762.2,1589.1" fill="#2626de" stroke="#000040" stroke-width="1.0" stroke-opacity="0.25" stroke-linejoin="round"/>
<polygon points="773.2,1590.8 784.3,1592.3 796,1586.1 785,1584.8" fill="#2828e1" stroke="#000040" stroke-width="1.0" stroke-opacity="0.25" stroke-linejoin="round"/>
<polygon points="818.9,1580.6 830.2,1581.3 841.9,1574.1 830.6,1573.5" fill="#2d2de8" stroke="#000040" stroke-width="1.0" stroke-opacity="0.25" stroke-linejoin="round"/>
<polygon points="841.9,1574.1 853.3,1574.4 865,1566.7 853.6,1566.5" fill="#3030ec" stroke="#000040" stroke-width="1.0" stroke-opacity="0.25" stroke-linejoin="round"/>
<polygon points="865,1566.7 876.6,1566.6 888.2,1558.3 876.7,1558.5" fill="#2c42eb" stroke="#000040" stroke-width="1.0" stroke-opacity="0.25" stroke-linejoin="round"/>
<polygon points="888.2,1558.3 899.9,1557.9 911.6,1549.1 899.9,1549.6" fill="#255ae7" stroke="#000040" stroke-width="1.0" stroke-opacity="0.25" stroke-linejoin="round"/>
<polygon points="911.6,1549.1 923.4,1548.3 935,1538.9 923.2,1539.8" fill="#1a73e0" stroke="#000040" stroke-width="1.0" stroke-opacity="0.25" stroke-linejoin="round"/>
<polygon points="935,1538.9 946.9,1537.7 958.6,1527.8 946.6,1529.1" fill="#0c8dda" stroke="#000040" stroke-width="1.0" stroke-opacity="0.25" stroke-linejoin="round"/>
<polygon points="958.6,1527.8 970.6,1526.3 982.3,1515.8 970.2,1517.5" fill="#01a4dc" stroke="#000040" stroke-width="1.0" stroke-opacity="0.25" stroke-linejoin="round"/>
<polygon points="205.2,1365.2 214.6,1377 228.8,1388.6 219.4,1377" fill="#045c12" stroke="#000040" stroke-width="1.0" stroke-opacity="0.25" stroke-linejoin="round"/>
<polygon points="252.2,1410.6 261.6,1421.4 275.4,1431.2 266,1420.6" fill="#01671b" stroke="#000040" stroke-width="1.0" stroke-opacity="0.25" stroke-linejoin="round"/>
<polygon points="228.8,1388.6 238.2,1399.9 252.2,1410.6 242.8,1399.5" fill="#036217" stroke="#000040" stroke-width="1.0" stroke-opacity="0.25" stroke-linejoin="round"/>
<polygon points="298.6,1450.6 308.1,1460.5 321.6,1468.6 312.1,1458.9" fill="#00723c" stroke="#000040" stroke-width="1.0" stroke-opacity="0.25" stroke-linejoin="round"/>
<polygon points="321.6,1468.6 331.1,1478.1 344.5,1485.4 335,1476.1" fill="#008277" stroke="#000040" stroke-width="1.0" stroke-opacity="0.25" stroke-linejoin="round"/>
<polygon points="390.1,1515.2 399.8,1523.4 412.8,1528.4 403.1,1520.4" fill="#0f77c3" stroke="#000040" stroke-width="1.0" stroke-opacity="0.25" stroke-linejoin="round"/>
<polygon points="412.8,1528.4 422.5,1536.1 435.4,1540.3 425.7,1532.8" fill="#1c5dce" stroke="#000040" stroke-width="1.0" stroke-opacity="0.25" stroke-linejoin="round"/>
<polygon points="480.5,1560.8 490.4,1567.3 502.9,1569.3 493,1563" fill="#2b2bd8" stroke="#000040" stroke-width="1.0" stroke-opacity="0.25" stroke-linejoin="round"/>
<polygon points="502.9,1569.3 512.9,1575.5 525.4,1576.8 515.4,1570.9" fill="#2828d6" stroke="#000040" stroke-width="1.0" stroke-opacity="0.25" stroke-linejoin="round"/>
<polygon points="570.3,1588.5 580.4,1593.5 592.7,1592.8 582.5,1588" fill="#2323d3" stroke="#000040" stroke-width="1.0" stroke-opacity="0.25" stroke-linejoin="round"/>
<polygon points="637.6,1598.2 648,1602 660.1,1599.5 649.6,1595.9" fill="#2222d5" stroke="#000040" stroke-width="1.0" stroke-opacity="0.25" stroke-linejoin="round"/>
<polygon points="796,1586.1 807.2,1587.3 818.9,1580.6 807.7,1579.7" fill="#2a2ae4" stroke="#000040" stroke-width="1.0" stroke-opacity="0.25" stroke-linejoin="round"/>
<polygon points="603,1597.3 613.3,1601.7 625.5,1600.2 615.1,1596" fill="#2222d3" stroke="#000040" stroke-width="1.0" stroke-opacity="0.25" stroke-linejoin="round"/>
<polygon points="670.6,1602.9 681.2,1606.1 693.2,1602.7 682.6,1599.7" fill="#2222d6" stroke="#000040" stroke-width="1.0" stroke-opacity="0.25" stroke-linejoin="round"/>
<polygon points="715.9,1601.5 726.7,1604 738.6,1599.4 727.8,1597.2" fill="#2323da" stroke="#000040" stroke-width="1.0" stroke-opacity="0.25" stroke-linejoin="round"/>
<polygon points="761.4,1596.3 772.4,1598 784.3,1592.3 773.2,1590.8" fill="#2727df" stroke="#000040" stroke-width="1.0" stroke-opacity="0.25" stroke-linejoin="round"/>
<polygon points="830.2,1581.3 841.6,1581.9 853.3,1574.4 841.9,1574.1" fill="#2f2fea" stroke="#000040" stroke-width="1.0" stroke-opacity="0.25" stroke-linejoin="round"/>
<polygon points="876.6,1566.6 888.2,1566.4 899.9,1557.9 888.2,1558.3" fill="#294de9" stroke="#000040" stroke-width="1.0" stroke-opacity="0.25" stroke-linejoin="round"/>
<polygon points="923.4,1548.3 935.3,1547.3 946.9,1537.7 935,1538.9" fill="#1380dc" stroke="#000040" stroke-width="1.0" stroke-opacity="0.25" stroke-linejoin="round"/>
<polygon points="970.6,1526.3 982.8,1524.5 994.5,1513.9 982.3,1515.8" fill="#00b1de" stroke="#000040" stroke-width="1.0" stroke-opacity="0.25" stroke-linejoin="round"/>
<polygon points="261.6,1421.4 271.1,1432.1 284.9,1441.6 275.4,1431.2" fill="#00681d" stroke="#000040" stroke-width="1.0" stroke-opacity="0.25" stroke-linejoin="round"/>
<polygon points="284.9,1441.6 294.4,1451.8 308.1,1460.5 298.6,1450.6" fill="#006e2f" stroke="#000040" stroke-width="1.0" stroke-opacity="0.25" stroke-linejoin="round"/>
<polygon points="331.1,1478.1 340.7,1487.4 354.1,1494.4 344.5,1485.4" fill="#008f93" stroke="#000040" stroke-width="1.0" stroke-opacity="0.25" stroke-linejoin="round"/>
<polygon points="354.1,1494.4 363.7,1503.3 377,1509.5 367.4,1500.9" fill="#009ec5" stroke="#000040" stroke-width="1.0" stroke-opacity="0.25" stroke-linejoin="round"/>
<polygon points="377,1509.5 386.7,1518 399.8,1523.4 390.1,1515.2" fill="#0786c2" stroke="#000040" stroke-width="1.0" stroke-opacity="0.25" stroke-linejoin="round"/>
<polygon points="422.5,1536.1 432.3,1543.7 445.2,1547.7 435.4,1540.3" fill="#2056d0" stroke="#000040" stroke-width="1.0" stroke-opacity="0.25" stroke-linejoin="round"/>
<polygon points="445.2,1547.7 455,1554.8 467.8,1558.1 457.9,1551.1" fill="#273fd5" stroke="#000040" stroke-width="1.0" stroke-opacity="0.25" stroke-linejoin="round"/>
<polygon points="467.8,1558.1 477.7,1564.8 490.4,1567.3 480.5,1560.8" fill="#2c2cd9" stroke="#000040" stroke-width="1.0" stroke-opacity="0.25" stroke-linejoin="round"/>
<polygon points="512.9,1575.5 522.9,1581.4 535.4,1582.5 525.4,1576.8" fill="#2727d5" stroke="#000040" stroke-width="1.0" stroke-opacity="0.25" stroke-linejoin="round"/>
<polygon points="535.4,1582.5 545.5,1588.1 557.9,1588.5 547.8,1583.2" fill="#2525d4" stroke="#000040" stroke-width="1.0" stroke-opacity="0.25" stroke-linejoin="round"/>
<polygon points="557.9,1588.5 568.1,1593.7 580.4,1593.5 570.3,1588.5" fill="#2424d3" stroke="#000040" stroke-width="1.0" stroke-opacity="0.25" stroke-linejoin="round"/>
<polygon points="214.6,1377 224,1388.6 238.2,1399.9 228.8,1388.6" fill="#045e13" stroke="#000040" stroke-width="1.0" stroke-opacity="0.25" stroke-linejoin="round"/>
<polygon points="190.8,1352.7 200.2,1364.7 214.6,1377 205.2,1365.2" fill="#06590e" stroke="#000040" stroke-width="1.0" stroke-opacity="0.25" stroke-linejoin="round"/>
<polygon points="238.2,1399.9 247.6,1411 261.6,1421.4 252.2,1410.6" fill="#026318" stroke="#000040" stroke-width="1.0" stroke-opacity="0.25" stroke-linejoin="round"/>
<polygon points="308.1,1460.5 317.6,1470.2 331.1,1478.1 321.6,1468.6" fill="#00754a" stroke="#000040" stroke-width="1.0" stroke-opacity="0.25" stroke-linejoin="round"/>
<polygon points="399.8,1523.4 409.5,1531.4 422.5,1536.1 412.8,1528.4" fill="#136fc6" stroke="#000040" stroke-width="1.0" stroke-opacity="0.25" stroke-linejoin="round"/>
<polygon points="490.4,1567.3 500.3,1573.7 512.9,1575.5 502.9,1569.3" fill="#2a2ad7" stroke="#000040" stroke-width="1.0" stroke-opacity="0.25" stroke-linejoin="round"/>
<polygon points="580.4,1593.5 590.7,1598.2 603,1597.3 592.7,1592.8" fill="#2323d3" stroke="#000040" stroke-width="1.0" stroke-opacity="0.25" stroke-linejoin="round"/>
<polygon points="625.5,1600.2 635.9,1604.2 648,1602 637.6,1598.2" fill="#2121d4" stroke="#000040" stroke-width="1.0" stroke-opacity="0.25" stroke-linejoin="round"/>
<polygon points="648,1602 658.6,1605.6 670.6,1602.9 660.1,1599.5" fill="#2222d5" stroke="#000040" stroke-width="1.0" stroke-opacity="0.25" stroke-linejoin="round"/>
<polygon points="693.2,1602.7 703.9,1605.5 715.9,1601.5 705.2,1598.9" fill="#2222d8" stroke="#000040" stroke-width="1.0" stroke-opacity="0.25" stroke-linejoin="round"/>
<polygon points="738.6,1599.4 749.5,1601.5 761.4,1596.3 750.5,1594.4" fill="#2525dc" stroke="#000040" stroke-width="1.0" stroke-opacity="0.25" stroke-linejoin="round"/>
<polygon points="784.3,1592.3 795.4,1593.6 807.2,1587.3 796,1586.1" fill="#2929e2" stroke="#000040" stroke-width="1.0" stroke-opacity="0.25" stroke-linejoin="round"/>
<polygon points="807.2,1587.3 818.5,1588.2 830.2,1581.3 818.9,1580.6" fill="#2c2ce6" stroke="#000040" stroke-width="1.0" stroke-opacity="0.25" stroke-linejoin="round"/>
<polygon points="853.3,1574.4 864.9,1574.6 876.6,1566.6 865,1566.7" fill="#2f37ec" stroke="#000040" stroke-width="1.0" stroke-opacity="0.25" stroke-linejoin="round"/>
<polygon points="899.9,1557.9 911.7,1557.3 923.4,1548.3 911.6,1549.1" fill="#2165e5" stroke="#000040" stroke-width="1.0" stroke-opacity="0.25" stroke-linejoin="round"/>
<polygon points="946.9,1537.7 959,1536.4 970.6,1526.3 958.6,1527.8" fill="#0797da" stroke="#000040" stroke-width="1.0" stroke-opacity="0.25" stroke-linejoin="round"/>
<polygon points="176.3,1339.5 185.7,1351.8 200.2,1364.7 190.8,1352.7" fill="#07550b" stroke="#000040" stroke-width="1.0" stroke-opacity="0.25" stroke-linejoin="round"/>
<polygon points="200.2,1364.7 209.7,1376.6 224,1388.6 214.6,1377" fill="#055a10" stroke="#000040" stroke-width="1.0" stroke-opacity="0.25" stroke-linejoin="round"/>
<polygon points="224,1388.6 233.5,1399.9 247.6,1411 238.2,1399.9" fill="#036015" stroke="#000040" stroke-width="1.0" stroke-opacity="0.25" stroke-linejoin="round"/>
<polygon points="247.6,1411 257.1,1421.9 271.1,1432.1 261.6,1421.4" fill="#01651a" stroke="#000040" stroke-width="1.0" stroke-opacity="0.25" stroke-linejoin="round"/>
<polygon points="271.1,1432.1 280.6,1442.5 294.4,1451.8 284.9,1441.6" fill="#006a22" stroke="#000040" stroke-width="1.0" stroke-opacity="0.25" stroke-linejoin="round"/>
<polygon points="294.4,1451.8 304,1461.8 317.6,1470.2 308.1,1460.5" fill="#007036" stroke="#000040" stroke-width="1.0" stroke-opacity="0.25" stroke-linejoin="round"/>
<polygon points="317.6,1470.2 327.2,1479.8 340.7,1487.4 331.1,1478.1" fill="#007c61" stroke="#000040" stroke-width="1.0" stroke-opacity="0.25" stroke-linejoin="round"/>
<polygon points="340.7,1487.4 350.4,1496.5 363.7,1503.3 354.1,1494.4" fill="#00a0b2" stroke="#000040" stroke-width="1.0" stroke-opacity="0.25" stroke-linejoin="round"/>
<polygon points="363.7,1503.3 373.4,1511.9 386.7,1518 377,1509.5" fill="#0094c3" stroke="#000040" stroke-width="1.0" stroke-opacity="0.25" stroke-linejoin="round"/>
<polygon points="386.7,1518 396.4,1526.2 409.5,1531.4 399.8,1523.4" fill="#0b7fc2" stroke="#000040" stroke-width="1.0" stroke-opacity="0.25" stroke-linejoin="round"/>
<polygon points="409.5,1531.4 419.3,1539.2 432.3,1543.7 422.5,1536.1" fill="#1766c9" stroke="#000040" stroke-width="1.0" stroke-opacity="0.25" stroke-linejoin="round"/>
<polygon points="432.3,1543.7 442.1,1551.1 455,1554.8 445.2,1547.7" fill="#224ed1" stroke="#000040" stroke-width="1.0" stroke-opacity="0.25" stroke-linejoin="round"/>
<polygon points="455,1554.8 464.9,1561.8 477.7,1564.8 467.8,1558.1" fill="#2938d6" stroke="#000040" stroke-width="1.0" stroke-opacity="0.25" stroke-linejoin="round"/>
<polygon points="477.7,1564.8 487.6,1571.4 500.3,1573.7 490.4,1567.3" fill="#2c2cd8" stroke="#000040" stroke-width="1.0" stroke-opacity="0.25" stroke-linejoin="round"/>
<polygon points="500.3,1573.7 510.4,1579.8 522.9,1581.4 512.9,1575.5" fill="#2929d6" stroke="#000040" stroke-width="1.0" stroke-opacity="0.25" stroke-linejoin="round"/>
<polygon points="522.9,1581.4 533,1587.2 545.5,1588.1 535.4,1582.5" fill="#2727d5" stroke="#000040" stroke-width="1.0" stroke-opacity="0.25" stroke-linejoin="round"/>
<polygon points="545.5,1588.1 555.7,1593.4 568.1,1593.7 557.9,1588.5" fill="#2525d4" stroke="#000040" stroke-width="1.0" stroke-opacity="0.25" stroke-linejoin="round"/>
<polygon points="568.1,1593.7 578.4,1598.6 590.7,1598.2 580.4,1593.5" fill="#2424d3" stroke="#000040" stroke-width="1.0" stroke-opacity="0.25" stroke-linejoin="round"/>
<polygon points="590.7,1598.2 601,1602.8 613.3,1601.7 603,1597.3" fill="#2323d3" stroke="#000040" stroke-width="1.0" stroke-opacity="0.25" stroke-linejoin="round"/>
<polygon points="613.3,1601.7 623.7,1605.9 635.9,1604.2 625.5,1600.2" fill="#2222d3" stroke="#000040" stroke-width="1.0" stroke-opacity="0.25" stroke-linejoin="round"/>
<polygon points="635.9,1604.2 646.4,1607.9 658.6,1605.6 648,1602" fill="#2222d4" stroke="#000040" stroke-width="1.0" stroke-opacity="0.25" stroke-linejoin="round"/>
<polygon points="658.6,1605.6 669.2,1609 681.2,1606.1 670.6,1602.9" fill="#2222d5" stroke="#000040" stroke-width="1.0" stroke-opacity="0.25" stroke-linejoin="round"/>
<polygon points="681.2,1606.1 691.9,1609.1 703.9,1605.5 693.2,1602.7" fill="#2222d7" stroke="#000040" stroke-width="1.0" stroke-opacity="0.25" stroke-linejoin="round"/>
<polygon points="703.9,1605.5 714.7,1608.1 726.7,1604 715.9,1601.5" fill="#2323d9" stroke="#000040" stroke-width="1.0" stroke-opacity="0.25" stroke-linejoin="round"/>
<polygon points="726.7,1604 737.6,1606.2 749.5,1601.5 738.6,1599.4" fill="#2424db" stroke="#000040" stroke-width="1.0" stroke-opacity="0.25" stroke-linejoin="round"/>
<polygon points="749.5,1601.5 760.6,1603.3 772.4,1598 761.4,1596.3" fill="#2626dd" stroke="#000040" stroke-width="1.0" stroke-opacity="0.25" stroke-linejoin="round"/>
<polygon points="772.4,1598 783.6,1599.5 795.4,1593.6 784.3,1592.3" fill="#2828e0" stroke="#000040" stroke-width="1.0" stroke-opacity="0.25" stroke-linejoin="round"/>
<polygon points="795.4,1593.6 806.7,1594.7 818.5,1588.2 807.2,1587.3" fill="#2a2ae4" stroke="#000040" stroke-width="1.0" stroke-opacity="0.25" stroke-linejoin="round"/>
<polygon points="818.5,1588.2 829.8,1588.9 841.6,1581.9 830.2,1581.3" fill="#2d2de8" stroke="#000040" stroke-width="1.0" stroke-opacity="0.25" stroke-linejoin="round"/>
<polygon points="841.6,1581.9 853.1,1582.2 864.9,1574.6 853.3,1574.4" fill="#3030ec" stroke="#000040" stroke-width="1.0" stroke-opacity="0.25" stroke-linejoin="round"/>
<polygon points="864.9,1574.6 876.5,1574.6 888.2,1566.4 876.6,1566.6" fill="#2c41eb" stroke="#000040" stroke-width="1.0" stroke-opacity="0.25" stroke-linejoin="round"/>
<polygon points="888.2,1566.4 900,1566 911.7,1557.3 899.9,1557.9" fill="#2558e7" stroke="#000040" stroke-width="1.0" stroke-opacity="0.25" stroke-linejoin="round"/>
<polygon points="911.7,1557.3 923.6,1556.5 935.3,1547.3 923.4,1548.3" fill="#1a71e1" stroke="#000040" stroke-width="1.0" stroke-opacity="0.25" stroke-linejoin="round"/>
<polygon points="935.3,1547.3 947.3,1546.1 959,1536.4 946.9,1537.7" fill="#0d8bd9" stroke="#000040" stroke-width="1.0" stroke-opacity="0.25" stroke-linejoin="round"/>
<polygon points="959,1536.4 971.1,1534.8 982.8,1524.5 970.6,1526.3" fill="#02a1db" stroke="#000040" stroke-width="1.0" stroke-opacity="0.25" stroke-linejoin="round"/>
<polygon points="982.8,1524.5 995.2,1522.6 1006.8,1511.8 994.5,1513.9" fill="#00bfe1" stroke="#000040" stroke-width="1.0" stroke-opacity="0.25" stroke-linejoin="round"/>
<polygon points="623.7,1605.9 634.2,1609.8 646.4,1607.9 635.9,1604.2" fill="#2222d4" stroke="#000040" stroke-width="1.0" stroke-opacity="0.25" stroke-linejoin="round"/>
<polygon points="646.4,1607.9 657,1611.5 669.2,1609 658.6,1605.6" fill="#2222d5" stroke="#000040" stroke-width="1.0" stroke-opacity="0.25" stroke-linejoin="round"/>
<polygon points="691.9,1609.1 702.7,1611.9 714.7,1608.1 703.9,1605.5" fill="#2323d7" stroke="#000040" stroke-width="1.0" stroke-opacity="0.25" stroke-linejoin="round"/>
<polygon points="737.6,1606.2 748.6,1608.2 760.6,1603.3 749.5,1601.5" fill="#2525dc" stroke="#000040" stroke-width="1.0" stroke-opacity="0.25" stroke-linejoin="round"/>
<polygon points="783.6,1599.5 794.8,1600.7 806.7,1594.7 795.4,1593.6" fill="#2929e2" stroke="#000040" stroke-width="1.0" stroke-opacity="0.25" stroke-linejoin="round"/>
<polygon points="806.7,1594.7 818,1595.6 829.8,1588.9 818.5,1588.2" fill="#2c2ce5" stroke="#000040" stroke-width="1.0" stroke-opacity="0.25" stroke-linejoin="round"/>
<polygon points="853.1,1582.2 864.7,1582.3 876.5,1574.6 864.9,1574.6" fill="#2f36ec" stroke="#000040" stroke-width="1.0" stroke-opacity="0.25" stroke-linejoin="round"/>
<polygon points="900,1566 911.8,1565.4 923.6,1556.5 911.7,1557.3" fill="#2164e5" stroke="#000040" stroke-width="1.0" stroke-opacity="0.25" stroke-linejoin="round"/>
<polygon points="947.3,1546.1 959.4,1544.7 971.1,1534.8 959,1536.4" fill="#0895da" stroke="#000040" stroke-width="1.0" stroke-opacity="0.25" stroke-linejoin="round"/>
<polygon points="304,1461.8 313.6,1471.5 327.2,1479.8 317.6,1470.2" fill="#00713c" stroke="#000040" stroke-width="1.0" stroke-opacity="0.25" stroke-linejoin="round"/>
<polygon points="396.4,1526.2 406.2,1534.2 419.3,1539.2 409.5,1531.4" fill="#0e78c2" stroke="#000040" stroke-width="1.0" stroke-opacity="0.25" stroke-linejoin="round"/>
<polygon points="487.6,1571.4 497.7,1577.7 510.4,1579.8 500.3,1573.7" fill="#2b2bd7" stroke="#000040" stroke-width="1.0" stroke-opacity="0.25" stroke-linejoin="round"/>
<polygon points="578.4,1598.6 588.7,1603.4 601,1602.8 590.7,1598.2" fill="#2323d3" stroke="#000040" stroke-width="1.0" stroke-opacity="0.25" stroke-linejoin="round"/>
<polygon points="233.5,1399.9 243,1411.1 257.1,1421.9 247.6,1411" fill="#026117" stroke="#000040" stroke-width="1.0" stroke-opacity="0.25" stroke-linejoin="round"/>
<polygon points="185.7,1351.8 195.2,1363.9 209.7,1376.6 200.2,1364.7" fill="#06570d" stroke="#000040" stroke-width="1.0" stroke-opacity="0.25" stroke-linejoin="round"/>
<polygon points="209.7,1376.6 219.2,1388.2 233.5,1399.9 224,1388.6" fill="#045c12" stroke="#000040" stroke-width="1.0" stroke-opacity="0.25" stroke-linejoin="round"/>
<polygon points="257.1,1421.9 266.6,1432.6 280.6,1442.5 271.1,1432.1" fill="#01671b" stroke="#000040" stroke-width="1.0" stroke-opacity="0.25" stroke-linejoin="round"/>
<polygon points="280.6,1442.5 290.2,1452.7 304,1461.8 294.4,1451.8" fill="#006c29" stroke="#000040" stroke-width="1.0" stroke-opacity="0.25" stroke-linejoin="round"/>
<polygon points="327.2,1479.8 336.9,1489.1 350.4,1496.5 340.7,1487.4" fill="#008277" stroke="#000040" stroke-width="1.0" stroke-opacity="0.25" stroke-linejoin="round"/>
<polygon points="350.4,1496.5 360.1,1505.3 373.4,1511.9 363.7,1503.3" fill="#00a9c6" stroke="#000040" stroke-width="1.0" stroke-opacity="0.25" stroke-linejoin="round"/>
<polygon points="373.4,1511.9 383.2,1520.4 396.4,1526.2 386.7,1518" fill="#038dc2" stroke="#000040" stroke-width="1.0" stroke-opacity="0.25" stroke-linejoin="round"/>
<polygon points="419.3,1539.2 429.1,1546.8 442.1,1551.1 432.3,1543.7" fill="#1b5fcc" stroke="#000040" stroke-width="1.0" stroke-opacity="0.25" stroke-linejoin="round"/>
<polygon points="442.1,1551.1 452,1558.3 464.9,1561.8 455,1554.8" fill="#2447d3" stroke="#000040" stroke-width="1.0" stroke-opacity="0.25" stroke-linejoin="round"/>
<polygon points="464.9,1561.8 474.9,1568.5 487.6,1571.4 477.7,1564.8" fill="#2b32d8" stroke="#000040" stroke-width="1.0" stroke-opacity="0.25" stroke-linejoin="round"/>
<polygon points="510.4,1579.8 520.4,1585.8 533,1587.2 522.9,1581.4" fill="#2828d6" stroke="#000040" stroke-width="1.0" stroke-opacity="0.25" stroke-linejoin="round"/>
<polygon points="533,1587.2 543.2,1592.7 555.7,1593.4 545.5,1588.1" fill="#2626d4" stroke="#000040" stroke-width="1.0" stroke-opacity="0.25" stroke-linejoin="round"/>
<polygon points="555.7,1593.4 566,1598.6 578.4,1598.6 568.1,1593.7" fill="#2525d3" stroke="#000040" stroke-width="1.0" stroke-opacity="0.25" stroke-linejoin="round"/>
<polygon points="601,1602.8 611.5,1607.1 623.7,1605.9 613.3,1601.7" fill="#2323d3" stroke="#000040" stroke-width="1.0" stroke-opacity="0.25" stroke-linejoin="round"/>
<polygon points="669.2,1609 679.8,1612.2 691.9,1609.1 681.2,1606.1" fill="#2222d6" stroke="#000040" stroke-width="1.0" stroke-opacity="0.25" stroke-linejoin="round"/>
<polygon points="714.7,1608.1 725.6,1610.5 737.6,1606.2 726.7,1604" fill="#2424da" stroke="#000040" stroke-width="1.0" stroke-opacity="0.25" stroke-linejoin="round"/>
<polygon points="760.6,1603.3 771.7,1605 783.6,1599.5 772.4,1598" fill="#2727df" stroke="#000040" stroke-width="1.0" stroke-opacity="0.25" stroke-linejoin="round"/>
<polygon points="829.8,1588.9 841.3,1589.4 853.1,1582.2 841.6,1581.9" fill="#2f2fe9" stroke="#000040" stroke-width="1.0" stroke-opacity="0.25" stroke-linejoin="round"/>
<polygon points="876.5,1574.6 888.2,1574.3 900,1566 888.2,1566.4" fill="#294ce9" stroke="#000040" stroke-width="1.0" stroke-opacity="0.25" stroke-linejoin="round"/>
<polygon points="923.6,1556.5 935.5,1555.5 947.3,1546.1 935.3,1547.3" fill="#147edc" stroke="#000040" stroke-width="1.0" stroke-opacity="0.25" stroke-linejoin="round"/>
<polygon points="971.1,1534.8 983.4,1533.1 995.2,1522.6 982.8,1524.5" fill="#00aedd" stroke="#000040" stroke-width="1.0" stroke-opacity="0.25" stroke-linejoin="round"/>
<polygon points="634.2,1609.8 644.8,1613.6 657,1611.5 646.4,1607.9" fill="#2222d4" stroke="#000040" stroke-width="1.0" stroke-opacity="0.25" stroke-linejoin="round"/>
<polygon points="794.8,1600.7 806.1,1601.8 818,1595.6 806.7,1594.7" fill="#2a2ae3" stroke="#000040" stroke-width="1.0" stroke-opacity="0.25" stroke-linejoin="round"/>
<polygon points="290.2,1452.7 299.8,1462.7 313.6,1471.5 304,1461.8" fill="#006e2f" stroke="#000040" stroke-width="1.0" stroke-opacity="0.25" stroke-linejoin="round"/>
<polygon points="313.6,1471.5 323.2,1481.1 336.9,1489.1 327.2,1479.8" fill="#00754a" stroke="#000040" stroke-width="1.0" stroke-opacity="0.25" stroke-linejoin="round"/>
<polygon points="383.2,1520.4 392.9,1528.6 406.2,1534.2 396.4,1526.2" fill="#0786c2" stroke="#000040" stroke-width="1.0" stroke-opacity="0.25" stroke-linejoin="round"/>
<polygon points="406.2,1534.2 416,1542 429.1,1546.8 419.3,1539.2" fill="#1270c5" stroke="#000040" stroke-width="1.0" stroke-opacity="0.25" stroke-linejoin="round"/>
<polygon points="474.9,1568.5 484.9,1575.1 497.7,1577.7 487.6,1571.4" fill="#2d2dd9" stroke="#000040" stroke-width="1.0" stroke-opacity="0.25" stroke-linejoin="round"/>
<polygon points="497.7,1577.7 507.8,1583.9 520.4,1585.8 510.4,1579.8" fill="#2a2ad7" stroke="#000040" stroke-width="1.0" stroke-opacity="0.25" stroke-linejoin="round"/>
<polygon points="566,1598.6 576.3,1603.5 588.7,1603.4 578.4,1598.6" fill="#2525d3" stroke="#000040" stroke-width="1.0" stroke-opacity="0.25" stroke-linejoin="round"/>
<polygon points="219.2,1388.2 228.7,1399.6 243,1411.1 233.5,1399.9" fill="#045e14" stroke="#000040" stroke-width="1.0" stroke-opacity="0.25" stroke-linejoin="round"/>
<polygon points="243,1411.1 252.5,1422 266.6,1432.6 257.1,1421.9" fill="#026318" stroke="#000040" stroke-width="1.0" stroke-opacity="0.25" stroke-linejoin="round"/>
<polygon points="195.2,1363.9 204.7,1375.7 219.2,1388.2 209.7,1376.6" fill="#06590f" stroke="#000040" stroke-width="1.0" stroke-opacity="0.25" stroke-linejoin="round"/>
<polygon points="266.6,1432.6 276.2,1443 290.2,1452.7 280.6,1442.5" fill="#00681d" stroke="#000040" stroke-width="1.0" stroke-opacity="0.25" stroke-linejoin="round"/>
<polygon points="336.9,1489.1 346.6,1498.2 360.1,1505.3 350.4,1496.5" fill="#008e92" stroke="#000040" stroke-width="1.0" stroke-opacity="0.25" stroke-linejoin="round"/>
<polygon points="360.1,1505.3 369.8,1514 383.2,1520.4 373.4,1511.9" fill="#009fc4" stroke="#000040" stroke-width="1.0" stroke-opacity="0.25" stroke-linejoin="round"/>
<polygon points="429.1,1546.8 439,1554.2 452,1558.3 442.1,1551.1" fill="#1f57cf" stroke="#000040" stroke-width="1.0" stroke-opacity="0.25" stroke-linejoin="round"/>
<polygon points="452,1558.3 462,1565.2 474.9,1568.5 464.9,1561.8" fill="#2641d4" stroke="#000040" stroke-width="1.0" stroke-opacity="0.25" stroke-linejoin="round"/>
<polygon points="520.4,1585.8 530.6,1591.5 543.2,1592.7 533,1587.2" fill="#2828d5" stroke="#000040" stroke-width="1.0" stroke-opacity="0.25" stroke-linejoin="round"/>
<polygon points="543.2,1592.7 553.4,1598 566,1598.6 555.7,1593.4" fill="#2626d4" stroke="#000040" stroke-width="1.0" stroke-opacity="0.25" stroke-linejoin="round"/>
<polygon points="611.5,1607.1 621.9,1611.3 634.2,1609.8 623.7,1605.9" fill="#2323d3" stroke="#000040" stroke-width="1.0" stroke-opacity="0.25" stroke-linejoin="round"/>
<polygon points="657,1611.5 667.7,1614.9 679.8,1612.2 669.2,1609" fill="#2222d5" stroke="#000040" stroke-width="1.0" stroke-opacity="0.25" stroke-linejoin="round"/>
<polygon points="679.8,1612.2 690.6,1615.2 702.7,1611.9 691.9,1609.1" fill="#2323d7" stroke="#000040" stroke-width="1.0" stroke-opacity="0.25" stroke-linejoin="round"/>
<polygon points="702.7,1611.9 713.6,1614.5 725.6,1610.5 714.7,1608.1" fill="#2323d8" stroke="#000040" stroke-width="1.0" stroke-opacity="0.25" stroke-linejoin="round"/>
<polygon points="725.6,1610.5 736.6,1612.8 748.6,1608.2 737.6,1606.2" fill="#2525db" stroke="#000040" stroke-width="1.0" stroke-opacity="0.25" stroke-linejoin="round"/>
<polygon points="748.6,1608.2 759.7,1610.1 771.7,1605 760.6,1603.3" fill="#2626dd" stroke="#000040" stroke-width="1.0" stroke-opacity="0.25" stroke-linejoin="round"/>
<polygon points="771.7,1605 782.9,1606.4 794.8,1600.7 783.6,1599.5" fill="#2828e0" stroke="#000040" stroke-width="1.0" stroke-opacity="0.25" stroke-linejoin="round"/>
<polygon points="818,1595.6 829.4,1596.3 841.3,1589.4 829.8,1588.9" fill="#2d2de7" stroke="#000040" stroke-width="1.0" stroke-opacity="0.25" stroke-linejoin="round"/>
<polygon points="841.3,1589.4 852.9,1589.7 864.7,1582.3 853.1,1582.2" fill="#3030eb" stroke="#000040" stroke-width="1.0" stroke-opacity="0.25" stroke-linejoin="round"/>
<polygon points="864.7,1582.3 876.4,1582.3 888.2,1574.3 876.5,1574.6" fill="#2c41ea" stroke="#000040" stroke-width="1.0" stroke-opacity="0.25" stroke-linejoin="round"/>
<polygon points="888.2,1574.3 900,1573.9 911.8,1565.4 900,1566" fill="#2557e7" stroke="#000040" stroke-width="1.0" stroke-opacity="0.25" stroke-linejoin="round"/>
<polygon points="911.8,1565.4 923.8,1564.6 935.5,1555.5 923.6,1556.5" fill="#1b70e0" stroke="#000040" stroke-width="1.0" stroke-opacity="0.25" stroke-linejoin="round"/>
<polygon points="935.5,1555.5 947.7,1554.3 959.4,1544.7 947.3,1546.1" fill="#0e8ad8" stroke="#000040" stroke-width="1.0" stroke-opacity="0.25" stroke-linejoin="round"/>
<polygon points="959.4,1544.7 971.7,1543.2 983.4,1533.1 971.1,1534.8" fill="#039fda" stroke="#000040" stroke-width="1.0" stroke-opacity="0.25" stroke-linejoin="round"/>
<polygon points="588.7,1603.4 599.1,1607.9 611.5,1607.1 601,1602.8" fill="#2323d3" stroke="#000040" stroke-width="1.0" stroke-opacity="0.25" stroke-linejoin="round"/>
<polygon points="621.9,1611.3 632.5,1615.2 644.8,1613.6 634.2,1609.8" fill="#2323d4" stroke="#000040" stroke-width="1.0" stroke-opacity="0.25" stroke-linejoin="round"/>
<polygon points="644.8,1613.6 655.5,1617.2 667.7,1614.9 657,1611.5" fill="#2323d5" stroke="#000040" stroke-width="1.0" stroke-opacity="0.25" stroke-linejoin="round"/>
<polygon points="667.7,1614.9 678.5,1618.1 690.6,1615.2 679.8,1612.2" fill="#2323d6" stroke="#000040" stroke-width="1.0" stroke-opacity="0.25" stroke-linejoin="round"/>
<polygon points="713.6,1614.5 724.6,1616.9 736.6,1612.8 725.6,1610.5" fill="#2424d9" stroke="#000040" stroke-width="1.0" stroke-opacity="0.25" stroke-linejoin="round"/>
<polygon points="759.7,1610.1 770.9,1611.7 782.9,1606.4 771.7,1605" fill="#2727de" stroke="#000040" stroke-width="1.0" stroke-opacity="0.25" stroke-linejoin="round"/>
<polygon points="782.9,1606.4 794.2,1607.7 806.1,1601.8 794.8,1600.7" fill="#2929e2" stroke="#000040" stroke-width="1.0" stroke-opacity="0.25" stroke-linejoin="round"/>
<polygon points="806.1,1601.8 817.5,1602.7 829.4,1596.3 818,1595.6" fill="#2c2ce5" stroke="#000040" stroke-width="1.0" stroke-opacity="0.25" stroke-linejoin="round"/>
<polygon points="829.4,1596.3 841,1596.8 852.9,1589.7 841.3,1589.4" fill="#2f2fe9" stroke="#000040" stroke-width="1.0" stroke-opacity="0.25" stroke-linejoin="round"/>
<polygon points="876.4,1582.3 888.2,1582 900,1573.9 888.2,1574.3" fill="#294ce8" stroke="#000040" stroke-width="1.0" stroke-opacity="0.25" stroke-linejoin="round"/>
<polygon points="923.8,1564.6 935.9,1563.6 947.7,1554.3 935.5,1555.5" fill="#157cdc" stroke="#000040" stroke-width="1.0" stroke-opacity="0.25" stroke-linejoin="round"/>
<polygon points="204.7,1375.7 214.2,1387.4 228.7,1399.6 219.2,1388.2" fill="#055a10" stroke="#000040" stroke-width="1.0" stroke-opacity="0.25" stroke-linejoin="round"/>
<polygon points="276.2,1443 285.8,1453.2 299.8,1462.7 290.2,1452.7" fill="#006a22" stroke="#000040" stroke-width="1.0" stroke-opacity="0.25" stroke-linejoin="round"/>
<polygon points="299.8,1462.7 309.4,1472.5 323.2,1481.1 313.6,1471.5" fill="#006f36" stroke="#000040" stroke-width="1.0" stroke-opacity="0.25" stroke-linejoin="round"/>
<polygon points="323.2,1481.1 332.9,1490.4 346.6,1498.2 336.9,1489.1" fill="#007b60" stroke="#000040" stroke-width="1.0" stroke-opacity="0.25" stroke-linejoin="round"/>
<polygon points="369.8,1514 379.6,1522.5 392.9,1528.6 383.2,1520.4" fill="#0095c2" stroke="#000040" stroke-width="1.0" stroke-opacity="0.25" stroke-linejoin="round"/>
<polygon points="392.9,1528.6 402.8,1536.6 416,1542 406.2,1534.2" fill="#0a80c1" stroke="#000040" stroke-width="1.0" stroke-opacity="0.25" stroke-linejoin="round"/>
<polygon points="416,1542 425.9,1549.6 439,1554.2 429.1,1546.8" fill="#1668c8" stroke="#000040" stroke-width="1.0" stroke-opacity="0.25" stroke-linejoin="round"/>
<polygon points="462,1565.2 472,1572 484.9,1575.1 474.9,1568.5" fill="#283bd5" stroke="#000040" stroke-width="1.0" stroke-opacity="0.25" stroke-linejoin="round"/>
<polygon points="484.9,1575.1 495,1581.5 507.8,1583.9 497.7,1577.7" fill="#2c2cd8" stroke="#000040" stroke-width="1.0" stroke-opacity="0.25" stroke-linejoin="round"/>
<polygon points="507.8,1583.9 517.9,1589.8 530.6,1591.5 520.4,1585.8" fill="#2a2ad6" stroke="#000040" stroke-width="1.0" stroke-opacity="0.25" stroke-linejoin="round"/>
<polygon points="553.4,1598 563.8,1603.2 576.3,1603.5 566,1598.6" fill="#2626d4" stroke="#000040" stroke-width="1.0" stroke-opacity="0.25" stroke-linejoin="round"/>
<polygon points="599.1,1607.9 609.6,1612.3 621.9,1611.3 611.5,1607.1" fill="#2323d3" stroke="#000040" stroke-width="1.0" stroke-opacity="0.25" stroke-linejoin="round"/>
<polygon points="228.7,1399.6 238.3,1410.7 252.5,1422 243,1411.1" fill="#036015" stroke="#000040" stroke-width="1.0" stroke-opacity="0.25" stroke-linejoin="round"/>
<polygon points="252.5,1422 262.1,1432.7 276.2,1443 266.6,1432.6" fill="#01651a" stroke="#000040" stroke-width="1.0" stroke-opacity="0.25" stroke-linejoin="round"/>
<polygon points="346.6,1498.2 356.3,1507.1 369.8,1514 360.1,1505.3" fill="#009eaf" stroke="#000040" stroke-width="1.0" stroke-opacity="0.25" stroke-linejoin="round"/>
<polygon points="439,1554.2 449,1561.4 462,1565.2 452,1558.3" fill="#2151d0" stroke="#000040" stroke-width="1.0" stroke-opacity="0.25" stroke-linejoin="round"/>
<polygon points="530.6,1591.5 540.8,1597 553.4,1598 543.2,1592.7" fill="#2828d5" stroke="#000040" stroke-width="1.0" stroke-opacity="0.25" stroke-linejoin="round"/>
<polygon points="576.3,1603.5 586.7,1608.3 599.1,1607.9 588.7,1603.4" fill="#2424d3" stroke="#000040" stroke-width="1.0" stroke-opacity="0.25" stroke-linejoin="round"/>
<polygon points="690.6,1615.2 701.5,1618 713.6,1614.5 702.7,1611.9" fill="#2323d7" stroke="#000040" stroke-width="1.0" stroke-opacity="0.25" stroke-linejoin="round"/>
<polygon points="736.6,1612.8 747.7,1614.8 759.7,1610.1 748.6,1608.2" fill="#2626dc" stroke="#000040" stroke-width="1.0" stroke-opacity="0.25" stroke-linejoin="round"/>
<polygon points="852.9,1589.7 864.5,1589.9 876.4,1582.3 864.7,1582.3" fill="#2f37eb" stroke="#000040" stroke-width="1.0" stroke-opacity="0.25" stroke-linejoin="round"/>
<polygon points="900,1573.9 912,1573.3 923.8,1564.6 911.8,1565.4" fill="#2163e4" stroke="#000040" stroke-width="1.0" stroke-opacity="0.25" stroke-linejoin="round"/>
<polygon points="947.7,1554.3 959.9,1552.9 971.7,1543.2 959.4,1544.7" fill="#0994d9" stroke="#000040" stroke-width="1.0" stroke-opacity="0.25" stroke-linejoin="round"/>
<polygon points="655.5,1617.2 666.2,1620.5 678.5,1618.1 667.7,1614.9" fill="#2323d5" stroke="#000040" stroke-width="1.0" stroke-opacity="0.25" stroke-linejoin="round"/>
<polygon points="770.9,1611.7 782.2,1613.2 794.2,1607.7 782.9,1606.4" fill="#2828e0" stroke="#000040" stroke-width="1.0" stroke-opacity="0.25" stroke-linejoin="round"/>
<polygon points="817.5,1602.7 829,1603.4 841,1596.8 829.4,1596.3" fill="#2d2de7" stroke="#000040" stroke-width="1.0" stroke-opacity="0.25" stroke-linejoin="round"/>
<polygon points="609.6,1612.3 620.1,1616.4 632.5,1615.2 621.9,1611.3" fill="#2424d4" stroke="#000040" stroke-width="1.0" stroke-opacity="0.25" stroke-linejoin="round"/>
<polygon points="262.1,1432.7 271.8,1443.1 285.8,1453.2 276.2,1443" fill="#01661b" stroke="#000040" stroke-width="1.0" stroke-opacity="0.25" stroke-linejoin="round"/>
<polygon points="214.2,1387.4 223.8,1398.8 238.3,1410.7 228.7,1399.6" fill="#045c12" stroke="#000040" stroke-width="1.0" stroke-opacity="0.25" stroke-linejoin="round"/>
<polygon points="285.8,1453.2 295.5,1463.2 309.4,1472.5 299.8,1462.7" fill="#006c29" stroke="#000040" stroke-width="1.0" stroke-opacity="0.25" stroke-linejoin="round"/>
<polygon points="309.4,1472.5 319.1,1482 332.9,1490.4 323.2,1481.1" fill="#00713c" stroke="#000040" stroke-width="1.0" stroke-opacity="0.25" stroke-linejoin="round"/>
<polygon points="332.9,1490.4 342.7,1499.5 356.3,1507.1 346.6,1498.2" fill="#008174" stroke="#000040" stroke-width="1.0" stroke-opacity="0.25" stroke-linejoin="round"/>
<polygon points="356.3,1507.1 366.1,1515.7 379.6,1522.5 369.8,1514" fill="#00aac6" stroke="#000040" stroke-width="1.0" stroke-opacity="0.25" stroke-linejoin="round"/>
<polygon points="379.6,1522.5 389.4,1530.7 402.8,1536.6 392.9,1528.6" fill="#028ec1" stroke="#000040" stroke-width="1.0" stroke-opacity="0.25" stroke-linejoin="round"/>
<polygon points="402.8,1536.6 412.7,1544.4 425.9,1549.6 416,1542" fill="#0d7ac1" stroke="#000040" stroke-width="1.0" stroke-opacity="0.25" stroke-linejoin="round"/>
<polygon points="425.9,1549.6 435.9,1557 449,1561.4 439,1554.2" fill="#1a61cb" stroke="#000040" stroke-width="1.0" stroke-opacity="0.25" stroke-linejoin="round"/>
<polygon points="449,1561.4 459,1568.3 472,1572 462,1565.2" fill="#234bd2" stroke="#000040" stroke-width="1.0" stroke-opacity="0.25" stroke-linejoin="round"/>
<polygon points="472,1572 482.1,1578.5 495,1581.5 484.9,1575.1" fill="#2a36d6" stroke="#000040" stroke-width="1.0" stroke-opacity="0.25" stroke-linejoin="round"/>
<polygon points="495,1581.5 505.1,1587.6 517.9,1589.8 507.8,1583.9" fill="#2b2bd8" stroke="#000040" stroke-width="1.0" stroke-opacity="0.25" stroke-linejoin="round"/>
<polygon points="517.9,1589.8 528.2,1595.5 540.8,1597 530.6,1591.5" fill="#2929d6" stroke="#000040" stroke-width="1.0" stroke-opacity="0.25" stroke-linejoin="round"/>
<polygon points="540.8,1597 551.2,1602.4 563.8,1603.2 553.4,1598" fill="#2727d5" stroke="#000040" stroke-width="1.0" stroke-opacity="0.25" stroke-linejoin="round"/>
<polygon points="586.7,1608.3 597.1,1612.8 609.6,1612.3 599.1,1607.9" fill="#2424d4" stroke="#000040" stroke-width="1.0" stroke-opacity="0.25" stroke-linejoin="round"/>
<polygon points="238.3,1410.7 247.9,1421.7 262.1,1432.7 252.5,1422" fill="#026117" stroke="#000040" stroke-width="1.0" stroke-opacity="0.25" stroke-linejoin="round"/>
<polygon points="632.5,1615.2 643.2,1619 655.5,1617.2 644.8,1613.6" fill="#2323d4" stroke="#000040" stroke-width="1.0" stroke-opacity="0.25" stroke-linejoin="round"/>
<polygon points="678.5,1618.1 689.3,1621.1 701.5,1618 690.6,1615.2" fill="#2323d7" stroke="#000040" stroke-width="1.0" stroke-opacity="0.25" stroke-linejoin="round"/>
<polygon points="701.5,1618 712.4,1620.6 724.6,1616.9 713.6,1614.5" fill="#2424d8" stroke="#000040" stroke-width="1.0" stroke-opacity="0.25" stroke-linejoin="round"/>
<polygon points="724.6,1616.9 735.6,1619.1 747.7,1614.8 736.6,1612.8" fill="#2525db" stroke="#000040" stroke-width="1.0" stroke-opacity="0.25" stroke-linejoin="round"/>
<polygon points="747.7,1614.8 758.9,1616.6 770.9,1611.7 759.7,1610.1" fill="#2727dd" stroke="#000040" stroke-width="1.0" stroke-opacity="0.25" stroke-linejoin="round"/>
<polygon points="794.2,1607.7 805.6,1608.8 817.5,1602.7 806.1,1601.8" fill="#2b2be3" stroke="#000040" stroke-width="1.0" stroke-opacity="0.25" stroke-linejoin="round"/>
<polygon points="841,1596.8 852.6,1597.1 864.5,1589.9 852.9,1589.7" fill="#3030eb" stroke="#000040" stroke-width="1.0" stroke-opacity="0.25" stroke-linejoin="round"/>
<polygon points="864.5,1589.9 876.3,1589.8 888.2,1582 876.4,1582.3" fill="#2c41e9" stroke="#000040" stroke-width="1.0" stroke-opacity="0.25" stroke-linejoin="round"/>
<polygon points="888.2,1582 900.1,1581.6 912,1573.3 900,1573.9" fill="#2557e6" stroke="#000040" stroke-width="1.0" stroke-opacity="0.25" stroke-linejoin="round"/>
<polygon points="912,1573.3 924,1572.4 935.9,1563.6 923.8,1564.6" fill="#1b6fe0" stroke="#000040" stroke-width="1.0" stroke-opacity="0.25" stroke-linejoin="round"/>
<polygon points="935.9,1563.6 948,1562.3 959.9,1552.9 947.7,1554.3" fill="#0e89d8" stroke="#000040" stroke-width="1.0" stroke-opacity="0.25" stroke-linejoin="round"/>
<polygon points="563.8,1603.2 574.1,1608.1 586.7,1608.3 576.3,1603.5" fill="#2626d4" stroke="#000040" stroke-width="1.0" stroke-opacity="0.25" stroke-linejoin="round"/>
<polygon points="597.1,1612.8 607.7,1617.2 620.1,1616.4 609.6,1612.3" fill="#2424d4" stroke="#000040" stroke-width="1.0" stroke-opacity="0.25" stroke-linejoin="round"/>
<polygon points="342.7,1499.5 352.5,1508.4 366.1,1515.7 356.3,1507.1" fill="#008b8c" stroke="#000040" stroke-width="1.0" stroke-opacity="0.25" stroke-linejoin="round"/>
<polygon points="435.9,1557 445.9,1564.2 459,1568.3 449,1561.4" fill="#1d5bcd" stroke="#000040" stroke-width="1.0" stroke-opacity="0.25" stroke-linejoin="round"/>
<polygon points="528.2,1595.5 538.4,1601.1 551.2,1602.4 540.8,1597" fill="#2929d6" stroke="#000040" stroke-width="1.0" stroke-opacity="0.25" stroke-linejoin="round"/>
<polygon points="643.2,1619 653.9,1622.6 666.2,1620.5 655.5,1617.2" fill="#2323d5" stroke="#000040" stroke-width="1.0" stroke-opacity="0.25" stroke-linejoin="round"/>
<polygon points="666.2,1620.5 677,1623.7 689.3,1621.1 678.5,1618.1" fill="#2424d6" stroke="#000040" stroke-width="1.0" stroke-opacity="0.25" stroke-linejoin="round"/>
<polygon points="689.3,1621.1 700.2,1623.9 712.4,1620.6 701.5,1618" fill="#2424d8" stroke="#000040" stroke-width="1.0" stroke-opacity="0.25" stroke-linejoin="round"/>
<polygon points="735.6,1619.1 746.8,1621.1 758.9,1616.6 747.7,1614.8" fill="#2626dc" stroke="#000040" stroke-width="1.0" stroke-opacity="0.25" stroke-linejoin="round"/>
<polygon points="758.9,1616.6 770.1,1618.3 782.2,1613.2 770.9,1611.7" fill="#2828de" stroke="#000040" stroke-width="1.0" stroke-opacity="0.25" stroke-linejoin="round"/>
<polygon points="782.2,1613.2 793.6,1614.4 805.6,1608.8 794.2,1607.7" fill="#2a2ae1" stroke="#000040" stroke-width="1.0" stroke-opacity="0.25" stroke-linejoin="round"/>
<polygon points="805.6,1608.8 817.1,1609.7 829,1603.4 817.5,1602.7" fill="#2c2ce5" stroke="#000040" stroke-width="1.0" stroke-opacity="0.25" stroke-linejoin="round"/>
<polygon points="829,1603.4 840.7,1603.9 852.6,1597.1 841,1596.8" fill="#2f2fe9" stroke="#000040" stroke-width="1.0" stroke-opacity="0.25" stroke-linejoin="round"/>
<polygon points="852.6,1597.1 864.4,1597.2 876.3,1589.8 864.5,1589.9" fill="#2e38ea" stroke="#000040" stroke-width="1.0" stroke-opacity="0.25" stroke-linejoin="round"/>
<polygon points="900.1,1581.6 912.1,1580.9 924,1572.4 912,1573.3" fill="#2163e4" stroke="#000040" stroke-width="1.0" stroke-opacity="0.25" stroke-linejoin="round"/>
<polygon points="247.9,1421.7 257.5,1432.4 271.8,1443.1 262.1,1432.7" fill="#026318" stroke="#000040" stroke-width="1.0" stroke-opacity="0.25" stroke-linejoin="round"/>
<polygon points="271.8,1443.1 281.4,1453.4 295.5,1463.2 285.8,1453.2" fill="#00681d" stroke="#000040" stroke-width="1.0" stroke-opacity="0.25" stroke-linejoin="round"/>
<polygon points="223.8,1398.8 233.4,1410 247.9,1421.7 238.3,1410.7" fill="#045e14" stroke="#000040" stroke-width="1.0" stroke-opacity="0.25" stroke-linejoin="round"/>
<polygon points="295.5,1463.2 305.2,1473 319.1,1482 309.4,1472.5" fill="#006d2f" stroke="#000040" stroke-width="1.0" stroke-opacity="0.25" stroke-linejoin="round"/>
<polygon points="319.1,1482 328.9,1491.4 342.7,1499.5 332.9,1490.4" fill="#007447" stroke="#000040" stroke-width="1.0" stroke-opacity="0.25" stroke-linejoin="round"/>
<polygon points="366.1,1515.7 375.9,1524.2 389.4,1530.7 379.6,1522.5" fill="#00a1c4" stroke="#000040" stroke-width="1.0" stroke-opacity="0.25" stroke-linejoin="round"/>
<polygon points="389.4,1530.7 399.3,1538.7 412.7,1544.4 402.8,1536.6" fill="#0588c1" stroke="#000040" stroke-width="1.0" stroke-opacity="0.25" stroke-linejoin="round"/>
<polygon points="412.7,1544.4 422.6,1552 435.9,1557 425.9,1549.6" fill="#1173c3" stroke="#000040" stroke-width="1.0" stroke-opacity="0.25" stroke-linejoin="round"/>
<polygon points="459,1568.3 469.1,1575.1 482.1,1578.5 472,1572" fill="#2545d3" stroke="#000040" stroke-width="1.0" stroke-opacity="0.25" stroke-linejoin="round"/>
<polygon points="482.1,1578.5 492.2,1584.9 505.1,1587.6 495,1581.5" fill="#2b32d7" stroke="#000040" stroke-width="1.0" stroke-opacity="0.25" stroke-linejoin="round"/>
<polygon points="505.1,1587.6 515.4,1593.6 528.2,1595.5 517.9,1589.8" fill="#2b2bd7" stroke="#000040" stroke-width="1.0" stroke-opacity="0.25" stroke-linejoin="round"/>
<polygon points="574.1,1608.1 584.6,1612.9 597.1,1612.8 586.7,1608.3" fill="#2525d4" stroke="#000040" stroke-width="1.0" stroke-opacity="0.25" stroke-linejoin="round"/>
<polygon points="620.1,1616.4 630.8,1620.4 643.2,1619 632.5,1615.2" fill="#2424d4" stroke="#000040" stroke-width="1.0" stroke-opacity="0.25" stroke-linejoin="round"/>
<polygon points="551.2,1602.4 561.5,1607.5 574.1,1608.1 563.8,1603.2" fill="#2727d5" stroke="#000040" stroke-width="1.0" stroke-opacity="0.25" stroke-linejoin="round"/>
<polygon points="712.4,1620.6 723.5,1623 735.6,1619.1 724.6,1616.9" fill="#2525d9" stroke="#000040" stroke-width="1.0" stroke-opacity="0.25" stroke-linejoin="round"/>
<polygon points="876.3,1589.8 888.2,1589.5 900.1,1581.6 888.2,1582" fill="#284ce7" stroke="#000040" stroke-width="1.0" stroke-opacity="0.25" stroke-linejoin="round"/>
<polygon points="924,1572.4 936.2,1571.4 948,1562.3 935.9,1563.6" fill="#157cdc" stroke="#000040" stroke-width="1.0" stroke-opacity="0.25" stroke-linejoin="round"/>
<polygon points="677,1623.7 688,1626.7 700.2,1623.9 689.3,1621.1" fill="#2424d7" stroke="#000040" stroke-width="1.0" stroke-opacity="0.25" stroke-linejoin="round"/>
<polygon points="746.8,1621.1 758,1622.9 770.1,1618.3 758.9,1616.6" fill="#2727dd" stroke="#000040" stroke-width="1.0" stroke-opacity="0.25" stroke-linejoin="round"/>
<polygon points="793.6,1614.4 805,1615.5 817.1,1609.7 805.6,1608.8" fill="#2b2be3" stroke="#000040" stroke-width="1.0" stroke-opacity="0.25" stroke-linejoin="round"/>
<polygon points="840.7,1603.9 852.4,1604.2 864.4,1597.2 852.6,1597.1" fill="#3030eb" stroke="#000040" stroke-width="1.0" stroke-opacity="0.25" stroke-linejoin="round"/>
<polygon points="584.6,1612.9 595.1,1617.4 607.7,1617.2 597.1,1612.8" fill="#2525d4" stroke="#000040" stroke-width="1.0" stroke-opacity="0.25" stroke-linejoin="round"/>
<polygon points="630.8,1620.4 641.5,1624.1 653.9,1622.6 643.2,1619" fill="#2424d5" stroke="#000040" stroke-width="1.0" stroke-opacity="0.25" stroke-linejoin="round"/>
<polygon points="233.4,1410 243.1,1420.9 257.5,1432.4 247.9,1421.7" fill="#035f15" stroke="#000040" stroke-width="1.0" stroke-opacity="0.25" stroke-linejoin="round"/>
<polygon points="328.9,1491.4 338.7,1500.5 352.5,1508.4 342.7,1499.5" fill="#007a5c" stroke="#000040" stroke-width="1.0" stroke-opacity="0.25" stroke-linejoin="round"/>
<polygon points="352.5,1508.4 362.3,1517.1 375.9,1524.2 366.1,1515.7" fill="#009aa7" stroke="#000040" stroke-width="1.0" stroke-opacity="0.25" stroke-linejoin="round"/>
<polygon points="422.6,1552 432.7,1559.4 445.9,1564.2 435.9,1557" fill="#146cc6" stroke="#000040" stroke-width="1.0" stroke-opacity="0.25" stroke-linejoin="round"/>
<polygon points="445.9,1564.2 456,1571.1 469.1,1575.1 459,1568.3" fill="#2055cf" stroke="#000040" stroke-width="1.0" stroke-opacity="0.25" stroke-linejoin="round"/>
<polygon points="515.4,1593.6 525.6,1599.3 538.4,1601.1 528.2,1595.5" fill="#2a2ad7" stroke="#000040" stroke-width="1.0" stroke-opacity="0.25" stroke-linejoin="round"/>
<polygon points="257.5,1432.4 267.2,1442.9 281.4,1453.4 271.8,1443.1" fill="#01641a" stroke="#000040" stroke-width="1.0" stroke-opacity="0.25" stroke-linejoin="round"/>
<polygon points="281.4,1453.4 291.2,1463.4 305.2,1473 295.5,1463.2" fill="#006922" stroke="#000040" stroke-width="1.0" stroke-opacity="0.25" stroke-linejoin="round"/>
<polygon points="305.2,1473 315,1482.6 328.9,1491.4 319.1,1482" fill="#006f35" stroke="#000040" stroke-width="1.0" stroke-opacity="0.25" stroke-linejoin="round"/>
<polygon points="375.9,1524.2 385.9,1532.4 399.3,1538.7 389.4,1530.7" fill="#0098c2" stroke="#000040" stroke-width="1.0" stroke-opacity="0.25" stroke-linejoin="round"/>
<polygon points="399.3,1538.7 409.3,1546.5 422.6,1552 412.7,1544.4" fill="#0882c1" stroke="#000040" stroke-width="1.0" stroke-opacity="0.25" stroke-linejoin="round"/>
<polygon points="469.1,1575.1 479.2,1581.7 492.2,1584.9 482.1,1578.5" fill="#2640d4" stroke="#000040" stroke-width="1.0" stroke-opacity="0.25" stroke-linejoin="round"/>
<polygon points="492.2,1584.9 502.5,1591 515.4,1593.6 505.1,1587.6" fill="#2c2ed8" stroke="#000040" stroke-width="1.0" stroke-opacity="0.25" stroke-linejoin="round"/>
<polygon points="561.5,1607.5 572,1612.5 584.6,1612.9 574.1,1608.1" fill="#2727d5" stroke="#000040" stroke-width="1.0" stroke-opacity="0.25" stroke-linejoin="round"/>
<polygon points="607.7,1617.2 618.3,1621.3 630.8,1620.4 620.1,1616.4" fill="#2525d4" stroke="#000040" stroke-width="1.0" stroke-opacity="0.25" stroke-linejoin="round"/>
<polygon points="538.4,1601.1 548.8,1606.4 561.5,1607.5 551.2,1602.4" fill="#2828d5" stroke="#000040" stroke-width="1.0" stroke-opacity="0.25" stroke-linejoin="round"/>
<polygon points="653.9,1622.6 664.7,1625.9 677,1623.7 666.2,1620.5" fill="#2424d6" stroke="#000040" stroke-width="1.0" stroke-opacity="0.25" stroke-linejoin="round"/>
<polygon points="700.2,1623.9 711.2,1626.5 723.5,1623 712.4,1620.6" fill="#2525d9" stroke="#000040" stroke-width="1.0" stroke-opacity="0.25" stroke-linejoin="round"/>
<polygon points="723.5,1623 734.6,1625.2 746.8,1621.1 735.6,1619.1" fill="#2626db" stroke="#000040" stroke-width="1.0" stroke-opacity="0.25" stroke-linejoin="round"/>
<polygon points="770.1,1618.3 781.5,1619.7 793.6,1614.4 782.2,1613.2" fill="#2929e0" stroke="#000040" stroke-width="1.0" stroke-opacity="0.25" stroke-linejoin="round"/>
<polygon points="817.1,1609.7 828.7,1610.3 840.7,1603.9 829,1603.4" fill="#2d2de7" stroke="#000040" stroke-width="1.0" stroke-opacity="0.25" stroke-linejoin="round"/>
<polygon points="864.4,1597.2 876.2,1597.1 888.2,1589.5 876.3,1589.8" fill="#2b43e8" stroke="#000040" stroke-width="1.0" stroke-opacity="0.25" stroke-linejoin="round"/>
<polygon points="888.2,1589.5 900.2,1589 912.1,1580.9 900.1,1581.6" fill="#2558e5" stroke="#000040" stroke-width="1.0" stroke-opacity="0.25" stroke-linejoin="round"/>
<polygon points="912.1,1580.9 924.3,1580 936.2,1571.4 924,1572.4" fill="#1b6fdf" stroke="#000040" stroke-width="1.0" stroke-opacity="0.25" stroke-linejoin="round"/>
<polygon points="572,1612.5 582.5,1617.2 595.1,1617.4 584.6,1612.9" fill="#2727d5" stroke="#000040" stroke-width="1.0" stroke-opacity="0.25" stroke-linejoin="round"/>
<polygon points="618.3,1621.3 629,1625.3 641.5,1624.1 630.8,1620.4" fill="#2525d5" stroke="#000040" stroke-width="1.0" stroke-opacity="0.25" stroke-linejoin="round"/>
<polygon points="243.1,1420.9 252.8,1431.7 267.2,1442.9 257.5,1432.4" fill="#026117" stroke="#000040" stroke-width="1.0" stroke-opacity="0.25" stroke-linejoin="round"/>
<polygon points="315,1482.6 324.8,1492 338.7,1500.5 328.9,1491.4" fill="#00703a" stroke="#000040" stroke-width="1.0" stroke-opacity="0.25" stroke-linejoin="round"/>
<polygon points="338.7,1500.5 348.6,1509.4 362.3,1517.1 352.5,1508.4" fill="#007f6f" stroke="#000040" stroke-width="1.0" stroke-opacity="0.25" stroke-linejoin="round"/>
<polygon points="362.3,1517.1 372.2,1525.6 385.9,1532.4 375.9,1524.2" fill="#00a8c1" stroke="#000040" stroke-width="1.0" stroke-opacity="0.25" stroke-linejoin="round"/>
<polygon points="409.3,1546.5 419.3,1554.2 432.7,1559.4 422.6,1552" fill="#0b7dc1" stroke="#000040" stroke-width="1.0" stroke-opacity="0.25" stroke-linejoin="round"/>
<polygon points="432.7,1559.4 442.8,1566.6 456,1571.1 445.9,1564.2" fill="#1766c8" stroke="#000040" stroke-width="1.0" stroke-opacity="0.25" stroke-linejoin="round"/>
<polygon points="456,1571.1 466.1,1577.9 479.2,1581.7 469.1,1575.1" fill="#2150d0" stroke="#000040" stroke-width="1.0" stroke-opacity="0.25" stroke-linejoin="round"/>
<polygon points="502.5,1591 512.7,1597 525.6,1599.3 515.4,1593.6" fill="#2c2cd8" stroke="#000040" stroke-width="1.0" stroke-opacity="0.25" stroke-linejoin="round"/>
<polygon points="548.8,1606.4 559.3,1611.6 572,1612.5 561.5,1607.5" fill="#2828d5" stroke="#000040" stroke-width="1.0" stroke-opacity="0.25" stroke-linejoin="round"/>
<polygon points="664.7,1625.9 675.6,1629.1 688,1626.7 677,1623.7" fill="#2424d6" stroke="#000040" stroke-width="1.0" stroke-opacity="0.25" stroke-linejoin="round"/>
<polygon points="688,1626.7 699,1629.5 711.2,1626.5 700.2,1623.9" fill="#2525d8" stroke="#000040" stroke-width="1.0" stroke-opacity="0.25" stroke-linejoin="round"/>
<polygon points="711.2,1626.5 722.4,1628.8 734.6,1625.2 723.5,1623" fill="#2626da" stroke="#000040" stroke-width="1.0" stroke-opacity="0.25" stroke-linejoin="round"/>
<polygon points="734.6,1625.2 745.8,1627.2 758,1622.9 746.8,1621.1" fill="#2727dc" stroke="#000040" stroke-width="1.0" stroke-opacity="0.25" stroke-linejoin="round"/>
<polygon points="758,1622.9 769.3,1624.6 781.5,1619.7 770.1,1618.3" fill="#2828de" stroke="#000040" stroke-width="1.0" stroke-opacity="0.25" stroke-linejoin="round"/>
<polygon points="781.5,1619.7 792.9,1620.9 805,1615.5 793.6,1614.4" fill="#2a2ae1" stroke="#000040" stroke-width="1.0" stroke-opacity="0.25" stroke-linejoin="round"/>
<polygon points="805,1615.5 816.6,1616.4 828.7,1610.3 817.1,1609.7" fill="#2c2ce5" stroke="#000040" stroke-width="1.0" stroke-opacity="0.25" stroke-linejoin="round"/>
<polygon points="828.7,1610.3 840.4,1610.8 852.4,1604.2 840.7,1603.9" fill="#2f2fe8" stroke="#000040" stroke-width="1.0" stroke-opacity="0.25" stroke-linejoin="round"/>
<polygon points="852.4,1604.2 864.2,1604.3 876.2,1597.1 864.4,1597.2" fill="#2e3ae9" stroke="#000040" stroke-width="1.0" stroke-opacity="0.25" stroke-linejoin="round"/>
<polygon points="876.2,1597.1 888.2,1596.8 900.2,1589 888.2,1589.5" fill="#284ee7" stroke="#000040" stroke-width="1.0" stroke-opacity="0.25" stroke-linejoin="round"/>
<polygon points="267.2,1442.9 276.9,1453.1 291.2,1463.4 281.4,1453.4" fill="#01661b" stroke="#000040" stroke-width="1.0" stroke-opacity="0.25" stroke-linejoin="round"/>
<polygon points="291.2,1463.4 300.9,1473.2 315,1482.6 305.2,1473" fill="#006b28" stroke="#000040" stroke-width="1.0" stroke-opacity="0.25" stroke-linejoin="round"/>
<polygon points="385.9,1532.4 395.8,1540.5 409.3,1546.5 399.3,1538.7" fill="#0190c1" stroke="#000040" stroke-width="1.0" stroke-opacity="0.25" stroke-linejoin="round"/>
<polygon points="479.2,1581.7 489.5,1588 502.5,1591 492.2,1584.9" fill="#283cd5" stroke="#000040" stroke-width="1.0" stroke-opacity="0.25" stroke-linejoin="round"/>
<polygon points="595.1,1617.4 605.8,1621.8 618.3,1621.3 607.7,1617.2" fill="#2626d4" stroke="#000040" stroke-width="1.0" stroke-opacity="0.25" stroke-linejoin="round"/>
<polygon points="641.5,1624.1 652.3,1627.7 664.7,1625.9 653.9,1622.6" fill="#2424d5" stroke="#000040" stroke-width="1.0" stroke-opacity="0.25" stroke-linejoin="round"/>
<polygon points="525.6,1599.3 536,1604.8 548.8,1606.4 538.4,1601.1" fill="#2a2ad6" stroke="#000040" stroke-width="1.0" stroke-opacity="0.25" stroke-linejoin="round"/>
<polygon points="900.2,1589 912.3,1588.3 924.3,1580 912.1,1580.9" fill="#2064e3" stroke="#000040" stroke-width="1.0" stroke-opacity="0.25" stroke-linejoin="round"/>
<polygon points="559.3,1611.6 569.8,1616.5 582.5,1617.2 572,1612.5" fill="#2828d5" stroke="#000040" stroke-width="1.0" stroke-opacity="0.25" stroke-linejoin="round"/>
<polygon points="699,1629.5 710.1,1632.1 722.4,1628.8 711.2,1626.5" fill="#2626d9" stroke="#000040" stroke-width="1.0" stroke-opacity="0.25" stroke-linejoin="round"/>
<polygon points="722.4,1628.8 733.6,1631 745.8,1627.2 734.6,1625.2" fill="#2626db" stroke="#000040" stroke-width="1.0" stroke-opacity="0.25" stroke-linejoin="round"/>
<polygon points="769.3,1624.6 780.8,1626 792.9,1620.9 781.5,1619.7" fill="#2929e0" stroke="#000040" stroke-width="1.0" stroke-opacity="0.25" stroke-linejoin="round"/>
<polygon points="816.6,1616.4 828.3,1617 840.4,1610.8 828.7,1610.3" fill="#2e2ee7" stroke="#000040" stroke-width="1.0" stroke-opacity="0.25" stroke-linejoin="round"/>
<polygon points="864.2,1604.3 876.2,1604.1 888.2,1596.8 876.2,1597.1" fill="#2a45e7" stroke="#000040" stroke-width="1.0" stroke-opacity="0.25" stroke-linejoin="round"/>
<polygon points="605.8,1621.8 616.5,1625.9 629,1625.3 618.3,1621.3" fill="#2626d5" stroke="#000040" stroke-width="1.0" stroke-opacity="0.25" stroke-linejoin="round"/>
<polygon points="652.3,1627.7 663.2,1631.1 675.6,1629.1 664.7,1625.9" fill="#2525d6" stroke="#000040" stroke-width="1.0" stroke-opacity="0.25" stroke-linejoin="round"/>
<polygon points="300.9,1473.2 310.8,1482.8 324.8,1492 315,1482.6" fill="#006d2d" stroke="#000040" stroke-width="1.0" stroke-opacity="0.25" stroke-linejoin="round"/>
<polygon points="252.8,1431.7 262.6,1442.2 276.9,1453.1 267.2,1442.9" fill="#026218" stroke="#000040" stroke-width="1.0" stroke-opacity="0.25" stroke-linejoin="round"/>
<polygon points="324.8,1492 334.7,1501.1 348.6,1509.4 338.7,1500.5" fill="#007242" stroke="#000040" stroke-width="1.0" stroke-opacity="0.25" stroke-linejoin="round"/>
<polygon points="348.6,1509.4 358.5,1518.1 372.2,1525.6 362.3,1517.1" fill="#008582" stroke="#000040" stroke-width="1.0" stroke-opacity="0.25" stroke-linejoin="round"/>
<polygon points="372.2,1525.6 382.2,1533.8 395.8,1540.5 385.9,1532.4" fill="#00a4c4" stroke="#000040" stroke-width="1.0" stroke-opacity="0.25" stroke-linejoin="round"/>
<polygon points="395.8,1540.5 405.8,1548.3 419.3,1554.2 409.3,1546.5" fill="#048bc1" stroke="#000040" stroke-width="1.0" stroke-opacity="0.25" stroke-linejoin="round"/>
<polygon points="419.3,1554.2 429.4,1561.6 442.8,1566.6 432.7,1559.4" fill="#0e77c1" stroke="#000040" stroke-width="1.0" stroke-opacity="0.25" stroke-linejoin="round"/>
<polygon points="442.8,1566.6 452.9,1573.6 466.1,1577.9 456,1571.1" fill="#1a60cb" stroke="#000040" stroke-width="1.0" stroke-opacity="0.25" stroke-linejoin="round"/>
<polygon points="466.1,1577.9 476.3,1584.5 489.5,1588 479.2,1581.7" fill="#234bd1" stroke="#000040" stroke-width="1.0" stroke-opacity="0.25" stroke-linejoin="round"/>
<polygon points="489.5,1588 499.7,1594.2 512.7,1597 502.5,1591" fill="#2938d6" stroke="#000040" stroke-width="1.0" stroke-opacity="0.25" stroke-linejoin="round"/>
<polygon points="536,1604.8 546.5,1610.2 559.3,1611.6 548.8,1606.4" fill="#2a2ad6" stroke="#000040" stroke-width="1.0" stroke-opacity="0.25" stroke-linejoin="round"/>
<polygon points="276.9,1453.1 286.7,1463.2 300.9,1473.2 291.2,1463.4" fill="#00671c" stroke="#000040" stroke-width="1.0" stroke-opacity="0.25" stroke-linejoin="round"/>
<polygon points="582.5,1617.2 593.1,1621.7 605.8,1621.8 595.1,1617.4" fill="#2727d5" stroke="#000040" stroke-width="1.0" stroke-opacity="0.25" stroke-linejoin="round"/>
<polygon points="629,1625.3 639.8,1629 652.3,1627.7 641.5,1624.1" fill="#2525d5" stroke="#000040" stroke-width="1.0" stroke-opacity="0.25" stroke-linejoin="round"/>
<polygon points="512.7,1597 523.1,1602.7 536,1604.8 525.6,1599.3" fill="#2c2cd8" stroke="#000040" stroke-width="1.0" stroke-opacity="0.25" stroke-linejoin="round"/>
<polygon points="675.6,1629.1 686.6,1632.1 699,1629.5 688,1626.7" fill="#2525d7" stroke="#000040" stroke-width="1.0" stroke-opacity="0.25" stroke-linejoin="round"/>
<polygon points="745.8,1627.2 757.1,1629 769.3,1624.6 758,1622.9" fill="#2828dd" stroke="#000040" stroke-width="1.0" stroke-opacity="0.25" stroke-linejoin="round"/>
<polygon points="792.9,1620.9 804.5,1622 816.6,1616.4 805,1615.5" fill="#2b2be3" stroke="#000040" stroke-width="1.0" stroke-opacity="0.25" stroke-linejoin="round"/>
<polygon points="840.4,1610.8 852.2,1611 864.2,1604.3 852.4,1604.2" fill="#3032ea" stroke="#000040" stroke-width="1.0" stroke-opacity="0.25" stroke-linejoin="round"/>
<polygon points="888.2,1596.8 900.3,1596.3 912.3,1588.3 900.2,1589" fill="#2459e5" stroke="#000040" stroke-width="1.0" stroke-opacity="0.25" stroke-linejoin="round"/>
<polygon points="710.1,1632.1 721.2,1634.4 733.6,1631 722.4,1628.8" fill="#2626da" stroke="#000040" stroke-width="1.0" stroke-opacity="0.25" stroke-linejoin="round"/>
<polygon points="546.5,1610.2 557,1615.3 569.8,1616.5 559.3,1611.6" fill="#2a2ad6" stroke="#000040" stroke-width="1.0" stroke-opacity="0.25" stroke-linejoin="round"/>
<polygon points="382.2,1533.8 392.3,1541.9 405.8,1548.3 395.8,1540.5" fill="#009cc3" stroke="#000040" stroke-width="1.0" stroke-opacity="0.25" stroke-linejoin="round"/>
<polygon points="476.3,1584.5 486.6,1590.8 499.7,1594.2 489.5,1588" fill="#2446d2" stroke="#000040" stroke-width="1.0" stroke-opacity="0.25" stroke-linejoin="round"/>
<polygon points="593.1,1621.7 603.8,1626.1 616.5,1625.9 605.8,1621.8" fill="#2727d5" stroke="#000040" stroke-width="1.0" stroke-opacity="0.25" stroke-linejoin="round"/>
<polygon points="639.8,1629 650.7,1632.6 663.2,1631.1 652.3,1627.7" fill="#2525d6" stroke="#000040" stroke-width="1.0" stroke-opacity="0.25" stroke-linejoin="round"/>
<polygon points="286.7,1463.2 296.6,1473 310.8,1482.8 300.9,1473.2" fill="#006920" stroke="#000040" stroke-width="1.0" stroke-opacity="0.25" stroke-linejoin="round"/>
<polygon points="310.8,1482.8 320.7,1492.2 334.7,1501.1 324.8,1492" fill="#006e33" stroke="#000040" stroke-width="1.0" stroke-opacity="0.25" stroke-linejoin="round"/>
<polygon points="262.6,1442.2 272.4,1452.5 286.7,1463.2 276.9,1453.1" fill="#016419" stroke="#000040" stroke-width="1.0" stroke-opacity="0.25" stroke-linejoin="round"/>
<polygon points="334.7,1501.1 344.6,1510 358.5,1518.1 348.6,1509.4" fill="#007754" stroke="#000040" stroke-width="1.0" stroke-opacity="0.25" stroke-linejoin="round"/>
<polygon points="358.5,1518.1 368.5,1526.6 382.2,1533.8 372.2,1525.6" fill="#00939b" stroke="#000040" stroke-width="1.0" stroke-opacity="0.25" stroke-linejoin="round"/>
<polygon points="405.8,1548.3 415.9,1555.9 429.4,1561.6 419.3,1554.2" fill="#0685c1" stroke="#000040" stroke-width="1.0" stroke-opacity="0.25" stroke-linejoin="round"/>
<polygon points="429.4,1561.6 439.6,1568.8 452.9,1573.6 442.8,1566.6" fill="#1171c3" stroke="#000040" stroke-width="1.0" stroke-opacity="0.25" stroke-linejoin="round"/>
<polygon points="452.9,1573.6 463.1,1580.4 476.3,1584.5 466.1,1577.9" fill="#1d5bcd" stroke="#000040" stroke-width="1.0" stroke-opacity="0.25" stroke-linejoin="round"/>
<polygon points="523.1,1602.7 533.5,1608.3 546.5,1610.2 536,1604.8" fill="#2c2cd7" stroke="#000040" stroke-width="1.0" stroke-opacity="0.25" stroke-linejoin="round"/>
<polygon points="569.8,1616.5 580.4,1621.2 593.1,1621.7 582.5,1617.2" fill="#2828d5" stroke="#000040" stroke-width="1.0" stroke-opacity="0.25" stroke-linejoin="round"/>
<polygon points="686.6,1632.1 697.7,1634.8 710.1,1632.1 699,1629.5" fill="#2626d8" stroke="#000040" stroke-width="1.0" stroke-opacity="0.25" stroke-linejoin="round"/>
<polygon points="733.6,1631 744.9,1633 757.1,1629 745.8,1627.2" fill="#2727dc" stroke="#000040" stroke-width="1.0" stroke-opacity="0.25" stroke-linejoin="round"/>
<polygon points="757.1,1629 768.6,1630.6 780.8,1626 769.3,1624.6" fill="#2929df" stroke="#000040" stroke-width="1.0" stroke-opacity="0.25" stroke-linejoin="round"/>
<polygon points="780.8,1626 792.3,1627.2 804.5,1622 792.9,1620.9" fill="#2b2be2" stroke="#000040" stroke-width="1.0" stroke-opacity="0.25" stroke-linejoin="round"/>
<polygon points="804.5,1622 816.1,1622.8 828.3,1617 816.6,1616.4" fill="#2d2de5" stroke="#000040" stroke-width="1.0" stroke-opacity="0.25" stroke-linejoin="round"/>
<polygon points="828.3,1617 840.1,1617.4 852.2,1611 840.4,1610.8" fill="#2f2fe8" stroke="#000040" stroke-width="1.0" stroke-opacity="0.25" stroke-linejoin="round"/>
<polygon points="852.2,1611 864.1,1611.1 876.2,1604.1 864.2,1604.3" fill="#2d3ce8" stroke="#000040" stroke-width="1.0" stroke-opacity="0.25" stroke-linejoin="round"/>
<polygon points="876.2,1604.1 888.2,1603.8 900.3,1596.3 888.2,1596.8" fill="#2750e6" stroke="#000040" stroke-width="1.0" stroke-opacity="0.25" stroke-linejoin="round"/>
<polygon points="616.5,1625.9 627.2,1629.8 639.8,1629 629,1625.3" fill="#2626d5" stroke="#000040" stroke-width="1.0" stroke-opacity="0.25" stroke-linejoin="round"/>
<polygon points="663.2,1631.1 674.2,1634.2 686.6,1632.1 675.6,1629.1" fill="#2525d7" stroke="#000040" stroke-width="1.0" stroke-opacity="0.25" stroke-linejoin="round"/>
<polygon points="499.7,1594.2 510.1,1600.1 523.1,1602.7 512.7,1597" fill="#2a34d6" stroke="#000040" stroke-width="1.0" stroke-opacity="0.25" stroke-linejoin="round"/>
<polygon points="533.5,1608.3 544.1,1613.6 557,1615.3 546.5,1610.2" fill="#2b2bd7" stroke="#000040" stroke-width="1.0" stroke-opacity="0.25" stroke-linejoin="round"/>
<polygon points="580.4,1621.2 591.1,1625.8 603.8,1626.1 593.1,1621.7" fill="#2828d6" stroke="#000040" stroke-width="1.0" stroke-opacity="0.25" stroke-linejoin="round"/>
<polygon points="697.7,1634.8 708.9,1637.4 721.2,1634.4 710.1,1632.1" fill="#2727d9" stroke="#000040" stroke-width="1.0" stroke-opacity="0.25" stroke-linejoin="round"/>
<polygon points="721.2,1634.4 732.5,1636.6 744.9,1633 733.6,1631" fill="#2727db" stroke="#000040" stroke-width="1.0" stroke-opacity="0.25" stroke-linejoin="round"/>
<polygon points="744.9,1633 756.3,1634.8 768.6,1630.6 757.1,1629" fill="#2929de" stroke="#000040" stroke-width="1.0" stroke-opacity="0.25" stroke-linejoin="round"/>
<polygon points="792.3,1627.2 804,1628.2 816.1,1622.8 804.5,1622" fill="#2c2ce3" stroke="#000040" stroke-width="1.0" stroke-opacity="0.25" stroke-linejoin="round"/>
<polygon points="840.1,1617.4 852,1617.7 864.1,1611.1 852.2,1611" fill="#2f35e9" stroke="#000040" stroke-width="1.0" stroke-opacity="0.25" stroke-linejoin="round"/>
<polygon points="272.4,1452.5 282.2,1462.5 296.6,1473 286.7,1463.2" fill="#01651b" stroke="#000040" stroke-width="1.0" stroke-opacity="0.25" stroke-linejoin="round"/>
<polygon points="296.6,1473 306.5,1482.6 320.7,1492.2 310.8,1482.8" fill="#006a26" stroke="#000040" stroke-width="1.0" stroke-opacity="0.25" stroke-linejoin="round"/>
<polygon points="368.5,1526.6 378.5,1534.9 392.3,1541.9 382.2,1533.8" fill="#00a0b3" stroke="#000040" stroke-width="1.0" stroke-opacity="0.25" stroke-linejoin="round"/>
<polygon points="392.3,1541.9 402.3,1549.7 415.9,1555.9 405.8,1548.3" fill="#0095c1" stroke="#000040" stroke-width="1.0" stroke-opacity="0.25" stroke-linejoin="round"/>
<polygon points="463.1,1580.4 473.4,1587 486.6,1590.8 476.3,1584.5" fill="#1f56ce" stroke="#000040" stroke-width="1.0" stroke-opacity="0.25" stroke-linejoin="round"/>
<polygon points="627.2,1629.8 638.1,1633.6 650.7,1632.6 639.8,1629" fill="#2626d6" stroke="#000040" stroke-width="1.0" stroke-opacity="0.25" stroke-linejoin="round"/>
<polygon points="674.2,1634.2 685.2,1637.2 697.7,1634.8 686.6,1632.1" fill="#2626d8" stroke="#000040" stroke-width="1.0" stroke-opacity="0.25" stroke-linejoin="round"/>
<polygon points="320.7,1492.2 330.6,1501.3 344.6,1510 334.7,1501.1" fill="#006f38" stroke="#000040" stroke-width="1.0" stroke-opacity="0.25" stroke-linejoin="round"/>
<polygon points="344.6,1510 354.6,1518.7 368.5,1526.6 358.5,1518.1" fill="#007c66" stroke="#000040" stroke-width="1.0" stroke-opacity="0.25" stroke-linejoin="round"/>
<polygon points="415.9,1555.9 426.1,1563.3 439.6,1568.8 429.4,1561.6" fill="#0981c0" stroke="#000040" stroke-width="1.0" stroke-opacity="0.25" stroke-linejoin="round"/>
<polygon points="439.6,1568.8 449.8,1575.7 463.1,1580.4 452.9,1573.6" fill="#146cc6" stroke="#000040" stroke-width="1.0" stroke-opacity="0.25" stroke-linejoin="round"/>
<polygon points="510.1,1600.1 520.5,1605.9 533.5,1608.3 523.1,1602.7" fill="#2b31d7" stroke="#000040" stroke-width="1.0" stroke-opacity="0.25" stroke-linejoin="round"/>
<polygon points="557,1615.3 567.6,1620.2 580.4,1621.2 569.8,1616.5" fill="#2929d6" stroke="#000040" stroke-width="1.0" stroke-opacity="0.25" stroke-linejoin="round"/>
<polygon points="486.6,1590.8 497,1597 510.1,1600.1 499.7,1594.2" fill="#2543d3" stroke="#000040" stroke-width="1.0" stroke-opacity="0.25" stroke-linejoin="round"/>
<polygon points="603.8,1626.1 614.6,1630.2 627.2,1629.8 616.5,1625.9" fill="#2727d6" stroke="#000040" stroke-width="1.0" stroke-opacity="0.25" stroke-linejoin="round"/>
<polygon points="650.7,1632.6 661.7,1635.9 674.2,1634.2 663.2,1631.1" fill="#2626d7" stroke="#000040" stroke-width="1.0" stroke-opacity="0.25" stroke-linejoin="round"/>
<polygon points="768.6,1630.6 780.1,1632 792.3,1627.2 780.8,1626" fill="#2a2ae0" stroke="#000040" stroke-width="1.0" stroke-opacity="0.25" stroke-linejoin="round"/>
<polygon points="816.1,1622.8 827.9,1623.4 840.1,1617.4 828.3,1617" fill="#2e2ee7" stroke="#000040" stroke-width="1.0" stroke-opacity="0.25" stroke-linejoin="round"/>
<polygon points="864.1,1611.1 876.1,1611 888.2,1603.8 876.2,1604.1" fill="#2947e6" stroke="#000040" stroke-width="1.0" stroke-opacity="0.25" stroke-linejoin="round"/>
<polygon points="732.5,1636.6 743.9,1638.6 756.3,1634.8 744.9,1633" fill="#2828dd" stroke="#000040" stroke-width="1.0" stroke-opacity="0.25" stroke-linejoin="round"/>
<polygon points="685.2,1637.2 696.4,1639.9 708.9,1637.4 697.7,1634.8" fill="#2727d9" stroke="#000040" stroke-width="1.0" stroke-opacity="0.25" stroke-linejoin="round"/>
<polygon points="520.5,1605.9 531,1611.4 544.1,1613.6 533.5,1608.3" fill="#2c2fd8" stroke="#000040" stroke-width="1.0" stroke-opacity="0.25" stroke-linejoin="round"/>
<polygon points="567.6,1620.2 578.2,1625 591.1,1625.8 580.4,1621.2" fill="#2929d6" stroke="#000040" stroke-width="1.0" stroke-opacity="0.25" stroke-linejoin="round"/>
<polygon points="282.2,1462.5 292.1,1472.4 306.5,1482.6 296.6,1473" fill="#00671c" stroke="#000040" stroke-width="1.0" stroke-opacity="0.25" stroke-linejoin="round"/>
<polygon points="306.5,1482.6 316.4,1492 330.6,1501.3 320.7,1492.2" fill="#006c2b" stroke="#000040" stroke-width="1.0" stroke-opacity="0.25" stroke-linejoin="round"/>
<polygon points="354.6,1518.7 364.6,1527.2 378.5,1534.9 368.5,1526.6" fill="#008177" stroke="#000040" stroke-width="1.0" stroke-opacity="0.25" stroke-linejoin="round"/>
<polygon points="378.5,1534.9 388.6,1542.9 402.3,1549.7 392.3,1541.9" fill="#00a9c5" stroke="#000040" stroke-width="1.0" stroke-opacity="0.25" stroke-linejoin="round"/>
<polygon points="402.3,1549.7 412.5,1557.3 426.1,1563.3 415.9,1555.9" fill="#028fc1" stroke="#000040" stroke-width="1.0" stroke-opacity="0.25" stroke-linejoin="round"/>
<polygon points="449.8,1575.7 460.1,1582.5 473.4,1587 463.1,1580.4" fill="#1766c8" stroke="#000040" stroke-width="1.0" stroke-opacity="0.25" stroke-linejoin="round"/>
<polygon points="497,1597 507.4,1602.9 520.5,1605.9 510.1,1600.1" fill="#273fd4" stroke="#000040" stroke-width="1.0" stroke-opacity="0.25" stroke-linejoin="round"/>
<polygon points="614.6,1630.2 625.4,1634.1 638.1,1633.6 627.2,1629.8" fill="#2727d6" stroke="#000040" stroke-width="1.0" stroke-opacity="0.25" stroke-linejoin="round"/>
<polygon points="661.7,1635.9 672.7,1639 685.2,1637.2 674.2,1634.2" fill="#2727d8" stroke="#000040" stroke-width="1.0" stroke-opacity="0.25" stroke-linejoin="round"/>
<polygon points="330.6,1501.3 340.6,1510.3 354.6,1518.7 344.6,1510" fill="#00713d" stroke="#000040" stroke-width="1.0" stroke-opacity="0.25" stroke-linejoin="round"/>
<polygon points="426.1,1563.3 436.3,1570.5 449.8,1575.7 439.6,1568.8" fill="#0b7cc0" stroke="#000040" stroke-width="1.0" stroke-opacity="0.25" stroke-linejoin="round"/>
<polygon points="544.1,1613.6 554.6,1618.7 567.6,1620.2 557,1615.3" fill="#2b2bd7" stroke="#000040" stroke-width="1.0" stroke-opacity="0.25" stroke-linejoin="round"/>
<polygon points="591.1,1625.8 601.8,1630.1 614.6,1630.2 603.8,1626.1" fill="#2828d6" stroke="#000040" stroke-width="1.0" stroke-opacity="0.25" stroke-linejoin="round"/>
<polygon points="708.9,1637.4 720.1,1639.8 732.5,1636.6 721.2,1634.4" fill="#2727da" stroke="#000040" stroke-width="1.0" stroke-opacity="0.25" stroke-linejoin="round"/>
<polygon points="756.3,1634.8 767.8,1636.4 780.1,1632 768.6,1630.6" fill="#2a2adf" stroke="#000040" stroke-width="1.0" stroke-opacity="0.25" stroke-linejoin="round"/>
<polygon points="780.1,1632 791.7,1633.2 804,1628.2 792.3,1627.2" fill="#2b2be2" stroke="#000040" stroke-width="1.0" stroke-opacity="0.25" stroke-linejoin="round"/>
<polygon points="804,1628.2 815.7,1629 827.9,1623.4 816.1,1622.8" fill="#2e2ee5" stroke="#000040" stroke-width="1.0" stroke-opacity="0.25" stroke-linejoin="round"/>
<polygon points="827.9,1623.4 839.8,1623.9 852,1617.7 840.1,1617.4" fill="#3030e9" stroke="#000040" stroke-width="1.0" stroke-opacity="0.25" stroke-linejoin="round"/>
<polygon points="852,1617.7 864,1617.7 876.1,1611 864.1,1611.1" fill="#2b40e7" stroke="#000040" stroke-width="1.0" stroke-opacity="0.25" stroke-linejoin="round"/>
<polygon points="473.4,1587 483.7,1593.3 497,1597 486.6,1590.8" fill="#2152cf" stroke="#000040" stroke-width="1.0" stroke-opacity="0.25" stroke-linejoin="round"/>
<polygon points="638.1,1633.6 649.1,1637.1 661.7,1635.9 650.7,1632.6" fill="#2727d7" stroke="#000040" stroke-width="1.0" stroke-opacity="0.25" stroke-linejoin="round"/>
<polygon points="507.4,1602.9 517.9,1608.7 531,1611.4 520.5,1605.9" fill="#273dd4" stroke="#000040" stroke-width="1.0" stroke-opacity="0.25" stroke-linejoin="round"/>
<polygon points="672.7,1639 683.8,1642 696.4,1639.9 685.2,1637.2" fill="#2727d8" stroke="#000040" stroke-width="1.0" stroke-opacity="0.25" stroke-linejoin="round"/>
<polygon points="340.6,1510.3 350.6,1519 364.6,1527.2 354.6,1518.7" fill="#00744a" stroke="#000040" stroke-width="1.0" stroke-opacity="0.25" stroke-linejoin="round"/>
<polygon points="554.6,1618.7 565.3,1623.7 578.2,1625 567.6,1620.2" fill="#2b2bd7" stroke="#000040" stroke-width="1.0" stroke-opacity="0.25" stroke-linejoin="round"/>
<polygon points="601.8,1630.1 612.7,1634.2 625.4,1634.1 614.6,1630.2" fill="#2828d7" stroke="#000040" stroke-width="1.0" stroke-opacity="0.25" stroke-linejoin="round"/>
<polygon points="720.1,1639.8 731.5,1641.9 743.9,1638.6 732.5,1636.6" fill="#2828dc" stroke="#000040" stroke-width="1.0" stroke-opacity="0.25" stroke-linejoin="round"/>
<polygon points="743.9,1638.6 755.4,1640.3 767.8,1636.4 756.3,1634.8" fill="#2929de" stroke="#000040" stroke-width="1.0" stroke-opacity="0.25" stroke-linejoin="round"/>
<polygon points="767.8,1636.4 779.4,1637.8 791.7,1633.2 780.1,1632" fill="#2b2be1" stroke="#000040" stroke-width="1.0" stroke-opacity="0.25" stroke-linejoin="round"/>
<polygon points="815.7,1629 827.5,1629.6 839.8,1623.9 827.9,1623.4" fill="#2f2fe7" stroke="#000040" stroke-width="1.0" stroke-opacity="0.25" stroke-linejoin="round"/>
<polygon points="292.1,1472.4 302.1,1482 316.4,1492 306.5,1482.6" fill="#00681e" stroke="#000040" stroke-width="1.0" stroke-opacity="0.25" stroke-linejoin="round"/>
<polygon points="316.4,1492 326.4,1501.2 340.6,1510.3 330.6,1501.3" fill="#006d30" stroke="#000040" stroke-width="1.0" stroke-opacity="0.25" stroke-linejoin="round"/>
<polygon points="364.6,1527.2 374.7,1535.5 388.6,1542.9 378.5,1534.9" fill="#008a8b" stroke="#000040" stroke-width="1.0" stroke-opacity="0.25" stroke-linejoin="round"/>
<polygon points="388.6,1542.9 398.8,1550.8 412.5,1557.3 402.3,1549.7" fill="#00a2c4" stroke="#000040" stroke-width="1.0" stroke-opacity="0.25" stroke-linejoin="round"/>
<polygon points="412.5,1557.3 422.7,1564.8 436.3,1570.5 426.1,1563.3" fill="#048ac0" stroke="#000040" stroke-width="1.0" stroke-opacity="0.25" stroke-linejoin="round"/>
<polygon points="436.3,1570.5 446.6,1577.5 460.1,1582.5 449.8,1575.7" fill="#0e78c0" stroke="#000040" stroke-width="1.0" stroke-opacity="0.25" stroke-linejoin="round"/>
<polygon points="483.7,1593.3 494.2,1599.5 507.4,1602.9 497,1597" fill="#224ed0" stroke="#000040" stroke-width="1.0" stroke-opacity="0.25" stroke-linejoin="round"/>
<polygon points="649.1,1637.1 660.1,1640.4 672.7,1639 661.7,1635.9" fill="#2727d7" stroke="#000040" stroke-width="1.0" stroke-opacity="0.25" stroke-linejoin="round"/>
<polygon points="696.4,1639.9 707.6,1642.5 720.1,1639.8 708.9,1637.4" fill="#2828da" stroke="#000040" stroke-width="1.0" stroke-opacity="0.25" stroke-linejoin="round"/>
<polygon points="531,1611.4 541.6,1616.7 554.6,1618.7 544.1,1613.6" fill="#2d2dd8" stroke="#000040" stroke-width="1.0" stroke-opacity="0.25" stroke-linejoin="round"/>
<polygon points="578.2,1625 589,1629.5 601.8,1630.1 591.1,1625.8" fill="#2929d7" stroke="#000040" stroke-width="1.0" stroke-opacity="0.25" stroke-linejoin="round"/>
<polygon points="460.1,1582.5 470.4,1589.1 483.7,1593.3 473.4,1587" fill="#1962c9" stroke="#000040" stroke-width="1.0" stroke-opacity="0.25" stroke-linejoin="round"/>
<polygon points="625.4,1634.1 636.4,1637.9 649.1,1637.1 638.1,1633.6" fill="#2828d7" stroke="#000040" stroke-width="1.0" stroke-opacity="0.25" stroke-linejoin="round"/>
<polygon points="791.7,1633.2 803.4,1634.2 815.7,1629 804,1628.2" fill="#2d2de4" stroke="#000040" stroke-width="1.0" stroke-opacity="0.25" stroke-linejoin="round"/>
<polygon points="839.8,1623.9 851.8,1624.1 864,1617.7 852,1617.7" fill="#2d3ae7" stroke="#000040" stroke-width="1.0" stroke-opacity="0.25" stroke-linejoin="round"/>
<polygon points="755.4,1640.3 767,1641.9 779.4,1637.8 767.8,1636.4" fill="#2b2bdf" stroke="#000040" stroke-width="1.0" stroke-opacity="0.25" stroke-linejoin="round"/>
<polygon points="494.2,1599.5 504.7,1605.4 517.9,1608.7 507.4,1602.9" fill="#234bd1" stroke="#000040" stroke-width="1.0" stroke-opacity="0.25" stroke-linejoin="round"/>
<polygon points="660.1,1640.4 671.2,1643.6 683.8,1642 672.7,1639" fill="#2828d8" stroke="#000040" stroke-width="1.0" stroke-opacity="0.25" stroke-linejoin="round"/>
<polygon points="707.6,1642.5 719,1644.8 731.5,1641.9 720.1,1639.8" fill="#2828db" stroke="#000040" stroke-width="1.0" stroke-opacity="0.25" stroke-linejoin="round"/>
<polygon points="326.4,1501.2 336.5,1510.1 350.6,1519 340.6,1510.3" fill="#006e35" stroke="#000040" stroke-width="1.0" stroke-opacity="0.25" stroke-linejoin="round"/>
<polygon points="350.6,1519 360.7,1527.5 374.7,1535.5 364.6,1527.2" fill="#00795b" stroke="#000040" stroke-width="1.0" stroke-opacity="0.25" stroke-linejoin="round"/>
<polygon points="422.7,1564.8 433,1572 446.6,1577.5 436.3,1570.5" fill="#0686c0" stroke="#000040" stroke-width="1.0" stroke-opacity="0.25" stroke-linejoin="round"/>
<polygon points="541.6,1616.7 552.3,1621.9 565.3,1623.7 554.6,1618.7" fill="#2d2dd9" stroke="#000040" stroke-width="1.0" stroke-opacity="0.25" stroke-linejoin="round"/>
<polygon points="589,1629.5 599.8,1633.8 612.7,1634.2 601.8,1630.1" fill="#2a2ad7" stroke="#000040" stroke-width="1.0" stroke-opacity="0.25" stroke-linejoin="round"/>
<polygon points="302.1,1482 312.1,1491.4 326.4,1501.2 316.4,1492" fill="#006923" stroke="#000040" stroke-width="1.0" stroke-opacity="0.25" stroke-linejoin="round"/>
<polygon points="374.7,1535.5 384.9,1543.6 398.8,1550.8 388.6,1542.9" fill="#0096a0" stroke="#000040" stroke-width="1.0" stroke-opacity="0.25" stroke-linejoin="round"/>
<polygon points="398.8,1550.8 409,1558.4 422.7,1564.8 412.5,1557.3" fill="#009bc2" stroke="#000040" stroke-width="1.0" stroke-opacity="0.25" stroke-linejoin="round"/>
<polygon points="470.4,1589.1 480.8,1595.4 494.2,1599.5 483.7,1593.3" fill="#1b5ecb" stroke="#000040" stroke-width="1.0" stroke-opacity="0.25" stroke-linejoin="round"/>
<polygon points="517.9,1608.7 528.5,1614.2 541.6,1616.7 531,1611.4" fill="#283ad5" stroke="#000040" stroke-width="1.0" stroke-opacity="0.25" stroke-linejoin="round"/>
<polygon points="636.4,1637.9 647.4,1641.4 660.1,1640.4 649.1,1637.1" fill="#2828d7" stroke="#000040" stroke-width="1.0" stroke-opacity="0.25" stroke-linejoin="round"/>
<polygon points="683.8,1642 695.1,1644.7 707.6,1642.5 696.4,1639.9" fill="#2828d9" stroke="#000040" stroke-width="1.0" stroke-opacity="0.25" stroke-linejoin="round"/>
<polygon points="565.3,1623.7 576,1628.4 589,1629.5 578.2,1625" fill="#2b2bd8" stroke="#000040" stroke-width="1.0" stroke-opacity="0.25" stroke-linejoin="round"/>
<polygon points="612.7,1634.2 623.6,1638.1 636.4,1637.9 625.4,1634.1" fill="#2929d7" stroke="#000040" stroke-width="1.0" stroke-opacity="0.25" stroke-linejoin="round"/>
<polygon points="731.5,1641.9 742.9,1643.9 755.4,1640.3 743.9,1638.6" fill="#2929dd" stroke="#000040" stroke-width="1.0" stroke-opacity="0.25" stroke-linejoin="round"/>
<polygon points="779.4,1637.8 791.1,1638.9 803.4,1634.2 791.7,1633.2" fill="#2c2ce2" stroke="#000040" stroke-width="1.0" stroke-opacity="0.25" stroke-linejoin="round"/>
<polygon points="803.4,1634.2 815.2,1635 827.5,1629.6 815.7,1629" fill="#2e2ee5" stroke="#000040" stroke-width="1.0" stroke-opacity="0.25" stroke-linejoin="round"/>
<polygon points="827.5,1629.6 839.5,1630 851.8,1624.1 839.8,1623.9" fill="#2f34e7" stroke="#000040" stroke-width="1.0" stroke-opacity="0.25" stroke-linejoin="round"/>
<polygon points="446.6,1577.5 456.9,1584.3 470.4,1589.1 460.1,1582.5" fill="#1073c2" stroke="#000040" stroke-width="1.0" stroke-opacity="0.25" stroke-linejoin="round"/>
<polygon points="480.8,1595.4 491.3,1601.6 504.7,1605.4 494.2,1599.5" fill="#1d5acd" stroke="#000040" stroke-width="1.0" stroke-opacity="0.25" stroke-linejoin="round"/>
<polygon points="528.5,1614.2 539.1,1619.5 552.3,1621.9 541.6,1616.7" fill="#2939d5" stroke="#000040" stroke-width="1.0" stroke-opacity="0.25" stroke-linejoin="round"/>
<polygon points="647.4,1641.4 658.5,1644.7 671.2,1643.6 660.1,1640.4" fill="#2929d8" stroke="#000040" stroke-width="1.0" stroke-opacity="0.25" stroke-linejoin="round"/>
<polygon points="695.1,1644.7 706.4,1647.2 719,1644.8 707.6,1642.5" fill="#2929db" stroke="#000040" stroke-width="1.0" stroke-opacity="0.25" stroke-linejoin="round"/>
<polygon points="312.1,1491.4 322.2,1500.6 336.5,1510.1 326.4,1501.2" fill="#006b28" stroke="#000040" stroke-width="1.0" stroke-opacity="0.25" stroke-linejoin="round"/>
<polygon points="336.5,1510.1 346.6,1518.8 360.7,1527.5 350.6,1519" fill="#00703a" stroke="#000040" stroke-width="1.0" stroke-opacity="0.25" stroke-linejoin="round"/>
<polygon points="360.7,1527.5 370.9,1535.8 384.9,1543.6 374.7,1535.5" fill="#007d6a" stroke="#000040" stroke-width="1.0" stroke-opacity="0.25" stroke-linejoin="round"/>
<polygon points="409,1558.4 419.3,1565.8 433,1572 422.7,1564.8" fill="#0095c1" stroke="#000040" stroke-width="1.0" stroke-opacity="0.25" stroke-linejoin="round"/>
<polygon points="576,1628.4 586.9,1632.9 599.8,1633.8 589,1629.5" fill="#2b2bd8" stroke="#000040" stroke-width="1.0" stroke-opacity="0.25" stroke-linejoin="round"/>
<polygon points="623.6,1638.1 634.6,1641.9 647.4,1641.4 636.4,1637.9" fill="#2929d8" stroke="#000040" stroke-width="1.0" stroke-opacity="0.25" stroke-linejoin="round"/>
<polygon points="742.9,1643.9 754.5,1645.6 767,1641.9 755.4,1640.3" fill="#2a2adf" stroke="#000040" stroke-width="1.0" stroke-opacity="0.25" stroke-linejoin="round"/>
<polygon points="767,1641.9 778.7,1643.2 791.1,1638.9 779.4,1637.8" fill="#2c2ce1" stroke="#000040" stroke-width="1.0" stroke-opacity="0.25" stroke-linejoin="round"/>
<polygon points="791.1,1638.9 802.9,1639.9 815.2,1635 803.4,1634.2" fill="#2e2ee4" stroke="#000040" stroke-width="1.0" stroke-opacity="0.25" stroke-linejoin="round"/>
<polygon points="384.9,1543.6 395.1,1551.4 409,1558.4 398.8,1550.8" fill="#00a1b5" stroke="#000040" stroke-width="1.0" stroke-opacity="0.25" stroke-linejoin="round"/>
<polygon points="456.9,1584.3 467.4,1590.9 480.8,1595.4 470.4,1589.1" fill="#126fc4" stroke="#000040" stroke-width="1.0" stroke-opacity="0.25" stroke-linejoin="round"/>
<polygon points="504.7,1605.4 515.2,1611.1 528.5,1614.2 517.9,1608.7" fill="#2449d1" stroke="#000040" stroke-width="1.0" stroke-opacity="0.25" stroke-linejoin="round"/>
<polygon points="671.2,1643.6 682.4,1646.5 695.1,1644.7 683.8,1642" fill="#2828d9" stroke="#000040" stroke-width="1.0" stroke-opacity="0.25" stroke-linejoin="round"/>
<polygon points="719,1644.8 730.4,1646.9 742.9,1643.9 731.5,1641.9" fill="#2929dc" stroke="#000040" stroke-width="1.0" stroke-opacity="0.25" stroke-linejoin="round"/>
<polygon points="433,1572 443.3,1578.9 456.9,1584.3 446.6,1577.5" fill="#0882c0" stroke="#000040" stroke-width="1.0" stroke-opacity="0.25" stroke-linejoin="round"/>
<polygon points="552.3,1621.9 563,1626.8 576,1628.4 565.3,1623.7" fill="#2d2dd9" stroke="#000040" stroke-width="1.0" stroke-opacity="0.25" stroke-linejoin="round"/>
<polygon points="599.8,1633.8 610.7,1637.9 623.6,1638.1 612.7,1634.2" fill="#2a2ad8" stroke="#000040" stroke-width="1.0" stroke-opacity="0.25" stroke-linejoin="round"/>
<polygon points="815.2,1635 827.2,1635.5 839.5,1630 827.5,1629.6" fill="#3030e7" stroke="#000040" stroke-width="1.0" stroke-opacity="0.25" stroke-linejoin="round"/>
<polygon points="634.6,1641.9 645.7,1645.4 658.5,1644.7 647.4,1641.4" fill="#2929d8" stroke="#000040" stroke-width="1.0" stroke-opacity="0.25" stroke-linejoin="round"/>
<polygon points="778.7,1643.2 790.4,1644.4 802.9,1639.9 791.1,1638.9" fill="#2d2de3" stroke="#000040" stroke-width="1.0" stroke-opacity="0.25" stroke-linejoin="round"/>
<polygon points="467.4,1590.9 477.8,1597.2 491.3,1601.6 480.8,1595.4" fill="#146bc6" stroke="#000040" stroke-width="1.0" stroke-opacity="0.25" stroke-linejoin="round"/>
<polygon points="515.2,1611.1 525.9,1616.7 539.1,1619.5 528.5,1614.2" fill="#2447d2" stroke="#000040" stroke-width="1.0" stroke-opacity="0.25" stroke-linejoin="round"/>
<polygon points="682.4,1646.5 693.8,1649.2 706.4,1647.2 695.1,1644.7" fill="#2929da" stroke="#000040" stroke-width="1.0" stroke-opacity="0.25" stroke-linejoin="round"/>
<polygon points="730.4,1646.9 742,1648.9 754.5,1645.6 742.9,1643.9" fill="#2a2ade" stroke="#000040" stroke-width="1.0" stroke-opacity="0.25" stroke-linejoin="round"/>
<polygon points="322.2,1500.6 332.3,1509.5 346.6,1518.8 336.5,1510.1" fill="#006c2d" stroke="#000040" stroke-width="1.0" stroke-opacity="0.25" stroke-linejoin="round"/>
<polygon points="346.6,1518.8 356.8,1527.3 370.9,1535.8 360.7,1527.5" fill="#00713e" stroke="#000040" stroke-width="1.0" stroke-opacity="0.25" stroke-linejoin="round"/>
<polygon points="370.9,1535.8 381.1,1543.8 395.1,1551.4 384.9,1543.6" fill="#008179" stroke="#000040" stroke-width="1.0" stroke-opacity="0.25" stroke-linejoin="round"/>
<polygon points="395.1,1551.4 405.4,1559.1 419.3,1565.8 409,1558.4" fill="#00a9c5" stroke="#000040" stroke-width="1.0" stroke-opacity="0.25" stroke-linejoin="round"/>
<polygon points="443.3,1578.9 453.8,1585.7 467.4,1590.9 456.9,1584.3" fill="#0a7ec0" stroke="#000040" stroke-width="1.0" stroke-opacity="0.25" stroke-linejoin="round"/>
<polygon points="563,1626.8 573.8,1631.5 586.9,1632.9 576,1628.4" fill="#2d2dd9" stroke="#000040" stroke-width="1.0" stroke-opacity="0.25" stroke-linejoin="round"/>
<polygon points="610.7,1637.9 621.7,1641.8 634.6,1641.9 623.6,1638.1" fill="#2a2ad8" stroke="#000040" stroke-width="1.0" stroke-opacity="0.25" stroke-linejoin="round"/>
<polygon points="491.3,1601.6 501.9,1607.5 515.2,1611.1 504.7,1605.4" fill="#1f58ce" stroke="#000040" stroke-width="1.0" stroke-opacity="0.25" stroke-linejoin="round"/>
<polygon points="539.1,1619.5 549.9,1624.6 563,1626.8 552.3,1621.9" fill="#2938d6" stroke="#000040" stroke-width="1.0" stroke-opacity="0.25" stroke-linejoin="round"/>
<polygon points="658.5,1644.7 669.7,1647.8 682.4,1646.5 671.2,1643.6" fill="#2929d9" stroke="#000040" stroke-width="1.0" stroke-opacity="0.25" stroke-linejoin="round"/>
<polygon points="706.4,1647.2 717.8,1649.5 730.4,1646.9 719,1644.8" fill="#2a2adc" stroke="#000040" stroke-width="1.0" stroke-opacity="0.25" stroke-linejoin="round"/>
<polygon points="419.3,1565.8 429.6,1573 443.3,1578.9 433,1572" fill="#0190c0" stroke="#000040" stroke-width="1.0" stroke-opacity="0.25" stroke-linejoin="round"/>
<polygon points="586.9,1632.9 597.8,1637.2 610.7,1637.9 599.8,1633.8" fill="#2b2bd8" stroke="#000040" stroke-width="1.0" stroke-opacity="0.25" stroke-linejoin="round"/>
<polygon points="754.5,1645.6 766.2,1647.1 778.7,1643.2 767,1641.9" fill="#2c2ce0" stroke="#000040" stroke-width="1.0" stroke-opacity="0.25" stroke-linejoin="round"/>
<polygon points="802.9,1639.9 814.8,1640.6 827.2,1635.5 815.2,1635" fill="#2f2fe6" stroke="#000040" stroke-width="1.0" stroke-opacity="0.25" stroke-linejoin="round"/>
<polygon points="453.8,1585.7 464.2,1592.3 477.8,1597.2 467.4,1590.9" fill="#0c7bc0" stroke="#000040" stroke-width="1.0" stroke-opacity="0.25" stroke-linejoin="round"/>
<polygon points="621.7,1641.8 632.8,1645.5 645.7,1645.4 634.6,1641.9" fill="#2b2bd9" stroke="#000040" stroke-width="1.0" stroke-opacity="0.25" stroke-linejoin="round"/>
<polygon points="501.9,1607.5 512.5,1613.3 525.9,1616.7 515.2,1611.1" fill="#1f55ce" stroke="#000040" stroke-width="1.0" stroke-opacity="0.25" stroke-linejoin="round"/>
<polygon points="549.9,1624.6 560.7,1629.5 573.8,1631.5 563,1626.8" fill="#2937d6" stroke="#000040" stroke-width="1.0" stroke-opacity="0.25" stroke-linejoin="round"/>
<polygon points="669.7,1647.8 681,1650.7 693.8,1649.2 682.4,1646.5" fill="#2a2ada" stroke="#000040" stroke-width="1.0" stroke-opacity="0.25" stroke-linejoin="round"/>
<polygon points="717.8,1649.5 729.4,1651.7 742,1648.9 730.4,1646.9" fill="#2b2bdd" stroke="#000040" stroke-width="1.0" stroke-opacity="0.25" stroke-linejoin="round"/>
<polygon points="332.3,1509.5 342.5,1518.3 356.8,1527.3 346.6,1518.8" fill="#006d32" stroke="#000040" stroke-width="1.0" stroke-opacity="0.25" stroke-linejoin="round"/>
<polygon points="356.8,1527.3 367,1535.6 381.1,1543.8 370.9,1535.8" fill="#00754c" stroke="#000040" stroke-width="1.0" stroke-opacity="0.25" stroke-linejoin="round"/>
<polygon points="381.1,1543.8 391.4,1551.7 405.4,1559.1 395.1,1551.4" fill="#00898a" stroke="#000040" stroke-width="1.0" stroke-opacity="0.25" stroke-linejoin="round"/>
<polygon points="429.6,1573 440,1580 453.8,1585.7 443.3,1578.9" fill="#038cc0" stroke="#000040" stroke-width="1.0" stroke-opacity="0.25" stroke-linejoin="round"/>
<polygon points="597.8,1637.2 608.8,1641.3 621.7,1641.8 610.7,1637.9" fill="#2b2bd9" stroke="#000040" stroke-width="1.0" stroke-opacity="0.25" stroke-linejoin="round"/>
<polygon points="645.7,1645.4 656.9,1648.7 669.7,1647.8 658.5,1644.7" fill="#2a2ad9" stroke="#000040" stroke-width="1.0" stroke-opacity="0.25" stroke-linejoin="round"/>
<polygon points="766.2,1647.1 777.9,1648.5 790.4,1644.4 778.7,1643.2" fill="#2d2de2" stroke="#000040" stroke-width="1.0" stroke-opacity="0.25" stroke-linejoin="round"/>
<polygon points="790.4,1644.4 802.3,1645.3 814.8,1640.6 802.9,1639.9" fill="#2f2fe5" stroke="#000040" stroke-width="1.0" stroke-opacity="0.25" stroke-linejoin="round"/>
<polygon points="477.8,1597.2 488.4,1603.4 501.9,1607.5 491.3,1601.6" fill="#1667c7" stroke="#000040" stroke-width="1.0" stroke-opacity="0.25" stroke-linejoin="round"/>
<polygon points="525.9,1616.7 536.6,1622 549.9,1624.6 539.1,1619.5" fill="#2545d2" stroke="#000040" stroke-width="1.0" stroke-opacity="0.25" stroke-linejoin="round"/>
<polygon points="693.8,1649.2 705.2,1651.7 717.8,1649.5 706.4,1647.2" fill="#2a2adb" stroke="#000040" stroke-width="1.0" stroke-opacity="0.25" stroke-linejoin="round"/>
<polygon points="742,1648.9 753.6,1650.6 766.2,1647.1 754.5,1645.6" fill="#2c2cdf" stroke="#000040" stroke-width="1.0" stroke-opacity="0.25" stroke-linejoin="round"/>
<polygon points="405.4,1559.1 415.8,1566.5 429.6,1573 419.3,1565.8" fill="#00a3c3" stroke="#000040" stroke-width="1.0" stroke-opacity="0.25" stroke-linejoin="round"/>
<polygon points="573.8,1631.5 584.7,1636 597.8,1637.2 586.9,1632.9" fill="#2d2dd9" stroke="#000040" stroke-width="1.0" stroke-opacity="0.25" stroke-linejoin="round"/>
<polygon points="440,1580 450.5,1586.8 464.2,1592.3 453.8,1585.7" fill="#0588c0" stroke="#000040" stroke-width="1.0" stroke-opacity="0.25" stroke-linejoin="round"/>
<polygon points="608.8,1641.3 619.9,1645.2 632.8,1645.5 621.7,1641.8" fill="#2c2cd9" stroke="#000040" stroke-width="1.0" stroke-opacity="0.25" stroke-linejoin="round"/>
<polygon points="656.9,1648.7 668.2,1651.7 681,1650.7 669.7,1647.8" fill="#2b2bda" stroke="#000040" stroke-width="1.0" stroke-opacity="0.25" stroke-linejoin="round"/>
<polygon points="367,1535.6 377.3,1543.7 391.4,1551.7 381.1,1543.8" fill="#00795b" stroke="#000040" stroke-width="1.0" stroke-opacity="0.25" stroke-linejoin="round"/>
<polygon points="488.4,1603.4 499,1609.3 512.5,1613.3 501.9,1607.5" fill="#1865c8" stroke="#000040" stroke-width="1.0" stroke-opacity="0.25" stroke-linejoin="round"/>
<polygon points="536.6,1622 547.4,1627.1 560.7,1629.5 549.9,1624.6" fill="#2544d3" stroke="#000040" stroke-width="1.0" stroke-opacity="0.25" stroke-linejoin="round"/>
<polygon points="705.2,1651.7 716.7,1654 729.4,1651.7 717.8,1649.5" fill="#2b2bdd" stroke="#000040" stroke-width="1.0" stroke-opacity="0.25" stroke-linejoin="round"/>
<polygon points="753.6,1650.6 765.4,1652.1 777.9,1648.5 766.2,1647.1" fill="#2d2de1" stroke="#000040" stroke-width="1.0" stroke-opacity="0.25" stroke-linejoin="round"/>
<polygon points="342.5,1518.3 352.7,1526.8 367,1535.6 356.8,1527.3" fill="#006e36" stroke="#000040" stroke-width="1.0" stroke-opacity="0.25" stroke-linejoin="round"/>
<polygon points="415.8,1566.5 426.2,1573.7 440,1580 429.6,1573" fill="#009dc2" stroke="#000040" stroke-width="1.0" stroke-opacity="0.25" stroke-linejoin="round"/>
<polygon points="464.2,1592.3 474.8,1598.6 488.4,1603.4 477.8,1597.2" fill="#0d78c0" stroke="#000040" stroke-width="1.0" stroke-opacity="0.25" stroke-linejoin="round"/>
<polygon points="584.7,1636 595.7,1640.3 608.8,1641.3 597.8,1637.2" fill="#2d2dda" stroke="#000040" stroke-width="1.0" stroke-opacity="0.25" stroke-linejoin="round"/>
<polygon points="632.8,1645.5 644,1649 656.9,1648.7 645.7,1645.4" fill="#2b2bda" stroke="#000040" stroke-width="1.0" stroke-opacity="0.25" stroke-linejoin="round"/>
<polygon points="512.5,1613.3 523.2,1618.8 536.6,1622 525.9,1616.7" fill="#2053cf" stroke="#000040" stroke-width="1.0" stroke-opacity="0.25" stroke-linejoin="round"/>
<polygon points="560.7,1629.5 571.6,1634.2 584.7,1636 573.8,1631.5" fill="#2937d7" stroke="#000040" stroke-width="1.0" stroke-opacity="0.25" stroke-linejoin="round"/>
<polygon points="681,1650.7 692.4,1653.4 705.2,1651.7 693.8,1649.2" fill="#2b2bdb" stroke="#000040" stroke-width="1.0" stroke-opacity="0.25" stroke-linejoin="round"/>
<polygon points="729.4,1651.7 741,1653.6 753.6,1650.6 742,1648.9" fill="#2c2cdf" stroke="#000040" stroke-width="1.0" stroke-opacity="0.25" stroke-linejoin="round"/>
<polygon points="391.4,1551.7 401.8,1559.3 415.8,1566.5 405.4,1559.1" fill="#00939c" stroke="#000040" stroke-width="1.0" stroke-opacity="0.25" stroke-linejoin="round"/>
<polygon points="777.9,1648.5 789.8,1649.6 802.3,1645.3 790.4,1644.4" fill="#2e2ee3" stroke="#000040" stroke-width="1.0" stroke-opacity="0.25" stroke-linejoin="round"/>
<polygon points="426.2,1573.7 436.7,1580.6 450.5,1586.8 440,1580" fill="#0098c1" stroke="#000040" stroke-width="1.0" stroke-opacity="0.25" stroke-linejoin="round"/>
<polygon points="474.8,1598.6 485.4,1604.8 499,1609.3 488.4,1603.4" fill="#0f75c1" stroke="#000040" stroke-width="1.0" stroke-opacity="0.25" stroke-linejoin="round"/>
<polygon points="595.7,1640.3 606.8,1644.4 619.9,1645.2 608.8,1641.3" fill="#2d2eda" stroke="#000040" stroke-width="1.0" stroke-opacity="0.25" stroke-linejoin="round"/>
<polygon points="644,1649 655.3,1652.3 668.2,1651.7 656.9,1648.7" fill="#2c2cda" stroke="#000040" stroke-width="1.0" stroke-opacity="0.25" stroke-linejoin="round"/>
<polygon points="352.7,1526.8 363,1535.1 377.3,1543.7 367,1535.6" fill="#006f3a" stroke="#000040" stroke-width="1.0" stroke-opacity="0.25" stroke-linejoin="round"/>
<polygon points="523.2,1618.8 534,1624.1 547.4,1627.1 536.6,1622" fill="#2152cf" stroke="#000040" stroke-width="1.0" stroke-opacity="0.25" stroke-linejoin="round"/>
<polygon points="571.6,1634.2 582.5,1638.7 595.7,1640.3 584.7,1636" fill="#2938d7" stroke="#000040" stroke-width="1.0" stroke-opacity="0.25" stroke-linejoin="round"/>
<polygon points="692.4,1653.4 703.9,1655.9 716.7,1654 705.2,1651.7" fill="#2b2bdc" stroke="#000040" stroke-width="1.0" stroke-opacity="0.25" stroke-linejoin="round"/>
<polygon points="741,1653.6 752.7,1655.3 765.4,1652.1 753.6,1650.6" fill="#2d2de0" stroke="#000040" stroke-width="1.0" stroke-opacity="0.25" stroke-linejoin="round"/>
<polygon points="401.8,1559.3 412.2,1566.7 426.2,1573.7 415.8,1566.5" fill="#009cad" stroke="#000040" stroke-width="1.0" stroke-opacity="0.25" stroke-linejoin="round"/>
<polygon points="450.5,1586.8 461.1,1593.3 474.8,1598.6 464.2,1592.3" fill="#0685c0" stroke="#000040" stroke-width="1.0" stroke-opacity="0.25" stroke-linejoin="round"/>
<polygon points="499,1609.3 509.8,1615 523.2,1618.8 512.5,1613.3" fill="#1962c9" stroke="#000040" stroke-width="1.0" stroke-opacity="0.25" stroke-linejoin="round"/>
<polygon points="547.4,1627.1 558.3,1632 571.6,1634.2 560.7,1629.5" fill="#2544d3" stroke="#000040" stroke-width="1.0" stroke-opacity="0.25" stroke-linejoin="round"/>
<polygon points="619.9,1645.2 631,1648.9 644,1649 632.8,1645.5" fill="#2c2cda" stroke="#000040" stroke-width="1.0" stroke-opacity="0.25" stroke-linejoin="round"/>
<polygon points="668.2,1651.7 679.6,1654.6 692.4,1653.4 681,1650.7" fill="#2b2bdb" stroke="#000040" stroke-width="1.0" stroke-opacity="0.25" stroke-linejoin="round"/>
<polygon points="716.7,1654 728.3,1656.1 741,1653.6 729.4,1651.7" fill="#2c2cde" stroke="#000040" stroke-width="1.0" stroke-opacity="0.25" stroke-linejoin="round"/>
<polygon points="765.4,1652.1 777.2,1653.4 789.8,1649.6 777.9,1648.5" fill="#2e2ee2" stroke="#000040" stroke-width="1.0" stroke-opacity="0.25" stroke-linejoin="round"/>
<polygon points="377.3,1543.7 387.6,1551.5 401.8,1559.3 391.4,1551.7" fill="#007c68" stroke="#000040" stroke-width="1.0" stroke-opacity="0.25" stroke-linejoin="round"/>
<polygon points="412.2,1566.7 422.7,1573.9 436.7,1580.6 426.2,1573.7" fill="#00a5bc" stroke="#000040" stroke-width="1.0" stroke-opacity="0.25" stroke-linejoin="round"/>
<polygon points="461.1,1593.3 471.7,1599.7 485.4,1604.8 474.8,1598.6" fill="#0883c0" stroke="#000040" stroke-width="1.0" stroke-opacity="0.25" stroke-linejoin="round"/>
<polygon points="509.8,1615 520.6,1620.5 534,1624.1 523.2,1618.8" fill="#1a61ca" stroke="#000040" stroke-width="1.0" stroke-opacity="0.25" stroke-linejoin="round"/>
<polygon points="558.3,1632 569.3,1636.6 582.5,1638.7 571.6,1634.2" fill="#2544d3" stroke="#000040" stroke-width="1.0" stroke-opacity="0.25" stroke-linejoin="round"/>
<polygon points="582.5,1638.7 593.6,1643 606.8,1644.4 595.7,1640.3" fill="#2939d7" stroke="#000040" stroke-width="1.0" stroke-opacity="0.25" stroke-linejoin="round"/>
<polygon points="631,1648.9 642.3,1652.3 655.3,1652.3 644,1649" fill="#2d2ddb" stroke="#000040" stroke-width="1.0" stroke-opacity="0.25" stroke-linejoin="round"/>
<polygon points="679.6,1654.6 691.1,1657.3 703.9,1655.9 692.4,1653.4" fill="#2c2cdc" stroke="#000040" stroke-width="1.0" stroke-opacity="0.25" stroke-linejoin="round"/>
<polygon points="728.3,1656.1 740,1658 752.7,1655.3 741,1653.6" fill="#2d2de0" stroke="#000040" stroke-width="1.0" stroke-opacity="0.25" stroke-linejoin="round"/>
<polygon points="387.6,1551.5 398.1,1559.2 412.2,1566.7 401.8,1559.3" fill="#008074" stroke="#000040" stroke-width="1.0" stroke-opacity="0.25" stroke-linejoin="round"/>
<polygon points="436.7,1580.6 447.2,1587.4 461.1,1593.3 450.5,1586.8" fill="#0094c1" stroke="#000040" stroke-width="1.0" stroke-opacity="0.25" stroke-linejoin="round"/>
<polygon points="485.4,1604.8 496.2,1610.7 509.8,1615 499,1609.3" fill="#1072c2" stroke="#000040" stroke-width="1.0" stroke-opacity="0.25" stroke-linejoin="round"/>
<polygon points="606.8,1644.4 617.9,1648.2 631,1648.9 619.9,1645.2" fill="#2c30da" stroke="#000040" stroke-width="1.0" stroke-opacity="0.25" stroke-linejoin="round"/>
<polygon points="655.3,1652.3 666.7,1655.3 679.6,1654.6 668.2,1651.7" fill="#2c2cdb" stroke="#000040" stroke-width="1.0" stroke-opacity="0.25" stroke-linejoin="round"/>
<polygon points="363,1535.1 373.4,1543.1 387.6,1551.5 377.3,1543.7" fill="#00703e" stroke="#000040" stroke-width="1.0" stroke-opacity="0.25" stroke-linejoin="round"/>
<polygon points="534,1624.1 544.9,1629.2 558.3,1632 547.4,1627.1" fill="#2151d0" stroke="#000040" stroke-width="1.0" stroke-opacity="0.25" stroke-linejoin="round"/>
<polygon points="703.9,1655.9 715.5,1658.2 728.3,1656.1 716.7,1654" fill="#2c2cde" stroke="#000040" stroke-width="1.0" stroke-opacity="0.25" stroke-linejoin="round"/>
<polygon points="752.7,1655.3 764.6,1656.7 777.2,1653.4 765.4,1652.1" fill="#2e2ee2" stroke="#000040" stroke-width="1.0" stroke-opacity="0.25" stroke-linejoin="round"/>
<polygon points="569.3,1636.6 580.3,1641.1 593.6,1643 582.5,1638.7" fill="#2544d4" stroke="#000040" stroke-width="1.0" stroke-opacity="0.25" stroke-linejoin="round"/>
<polygon points="398.1,1559.2 408.6,1566.6 422.7,1573.9 412.2,1566.7" fill="#008380" stroke="#000040" stroke-width="1.0" stroke-opacity="0.25" stroke-linejoin="round"/>
<polygon points="447.2,1587.4 457.9,1594 471.7,1599.7 461.1,1593.3" fill="#0090c0" stroke="#000040" stroke-width="1.0" stroke-opacity="0.25" stroke-linejoin="round"/>
<polygon points="496.2,1610.7 506.9,1616.4 520.6,1620.5 509.8,1615" fill="#1270c3" stroke="#000040" stroke-width="1.0" stroke-opacity="0.25" stroke-linejoin="round"/>
<polygon points="617.9,1648.2 629.2,1651.9 642.3,1652.3 631,1648.9" fill="#2c32da" stroke="#000040" stroke-width="1.0" stroke-opacity="0.25" stroke-linejoin="round"/>
<polygon points="666.7,1655.3 678.1,1658.2 691.1,1657.3 679.6,1654.6" fill="#2d2ddc" stroke="#000040" stroke-width="1.0" stroke-opacity="0.25" stroke-linejoin="round"/>
<polygon points="373.4,1543.1 383.8,1551 398.1,1559.2 387.6,1551.5" fill="#007348" stroke="#000040" stroke-width="1.0" stroke-opacity="0.25" stroke-linejoin="round"/>
<polygon points="422.7,1573.9 433.3,1580.9 447.2,1587.4 436.7,1580.6" fill="#00a7c4" stroke="#000040" stroke-width="1.0" stroke-opacity="0.25" stroke-linejoin="round"/>
<polygon points="471.7,1599.7 482.4,1605.8 496.2,1610.7 485.4,1604.8" fill="#0981c0" stroke="#000040" stroke-width="1.0" stroke-opacity="0.25" stroke-linejoin="round"/>
<polygon points="520.6,1620.5 531.4,1625.8 544.9,1629.2 534,1624.1" fill="#1b5fcb" stroke="#000040" stroke-width="1.0" stroke-opacity="0.25" stroke-linejoin="round"/>
<polygon points="544.9,1629.2 555.9,1634 569.3,1636.6 558.3,1632" fill="#2151d0" stroke="#000040" stroke-width="1.0" stroke-opacity="0.25" stroke-linejoin="round"/>
<polygon points="593.6,1643 604.8,1647.1 617.9,1648.2 606.8,1644.4" fill="#293ad7" stroke="#000040" stroke-width="1.0" stroke-opacity="0.25" stroke-linejoin="round"/>
<polygon points="642.3,1652.3 653.6,1655.6 666.7,1655.3 655.3,1652.3" fill="#2d2ddc" stroke="#000040" stroke-width="1.0" stroke-opacity="0.25" stroke-linejoin="round"/>
<polygon points="691.1,1657.3 702.6,1659.7 715.5,1658.2 703.9,1655.9" fill="#2d2dde" stroke="#000040" stroke-width="1.0" stroke-opacity="0.25" stroke-linejoin="round"/>
<polygon points="715.5,1658.2 727.2,1660.2 740,1658 728.3,1656.1" fill="#2d2ddf" stroke="#000040" stroke-width="1.0" stroke-opacity="0.25" stroke-linejoin="round"/>
<polygon points="740,1658 751.8,1659.6 764.6,1656.7 752.7,1655.3" fill="#2e2ee1" stroke="#000040" stroke-width="1.0" stroke-opacity="0.25" stroke-linejoin="round"/>
<polygon points="383.8,1551 394.3,1558.6 408.6,1566.6 398.1,1559.2" fill="#007654" stroke="#000040" stroke-width="1.0" stroke-opacity="0.25" stroke-linejoin="round"/>
<polygon points="433.3,1580.9 443.9,1587.7 457.9,1594 447.2,1587.4" fill="#00a3c3" stroke="#000040" stroke-width="1.0" stroke-opacity="0.25" stroke-linejoin="round"/>
<polygon points="482.4,1605.8 493.2,1611.7 506.9,1616.4 496.2,1610.7" fill="#0a7fc0" stroke="#000040" stroke-width="1.0" stroke-opacity="0.25" stroke-linejoin="round"/>
<polygon points="531.4,1625.8 542.4,1630.9 555.9,1634 544.9,1629.2" fill="#1b5fcb" stroke="#000040" stroke-width="1.0" stroke-opacity="0.25" stroke-linejoin="round"/>
<polygon points="555.9,1634 566.9,1638.7 580.3,1641.1 569.3,1636.6" fill="#2151d0" stroke="#000040" stroke-width="1.0" stroke-opacity="0.25" stroke-linejoin="round"/>
<polygon points="580.3,1641.1 591.5,1645.4 604.8,1647.1 593.6,1643" fill="#2545d4" stroke="#000040" stroke-width="1.0" stroke-opacity="0.25" stroke-linejoin="round"/>
<polygon points="604.8,1647.1 616,1650.9 629.2,1651.9 617.9,1648.2" fill="#283cd7" stroke="#000040" stroke-width="1.0" stroke-opacity="0.25" stroke-linejoin="round"/>
<polygon points="653.6,1655.6 665.1,1658.6 678.1,1658.2 666.7,1655.3" fill="#2d30dc" stroke="#000040" stroke-width="1.0" stroke-opacity="0.25" stroke-linejoin="round"/>
<polygon points="702.6,1659.7 714.3,1662 727.2,1660.2 715.5,1658.2" fill="#2e2edf" stroke="#000040" stroke-width="1.0" stroke-opacity="0.25" stroke-linejoin="round"/>
<polygon points="408.6,1566.6 419.1,1573.8 433.3,1580.9 422.7,1573.9" fill="#008b8e" stroke="#000040" stroke-width="1.0" stroke-opacity="0.25" stroke-linejoin="round"/>
<polygon points="457.9,1594 468.6,1600.3 482.4,1605.8 471.7,1599.7" fill="#028ec0" stroke="#000040" stroke-width="1.0" stroke-opacity="0.25" stroke-linejoin="round"/>
<polygon points="506.9,1616.4 517.8,1621.9 531.4,1625.8 520.6,1620.5" fill="#126fc4" stroke="#000040" stroke-width="1.0" stroke-opacity="0.25" stroke-linejoin="round"/>
<polygon points="629.2,1651.9 640.5,1655.3 653.6,1655.6 642.3,1652.3" fill="#2b35d9" stroke="#000040" stroke-width="1.0" stroke-opacity="0.25" stroke-linejoin="round"/>
<polygon points="678.1,1658.2 689.7,1660.8 702.6,1659.7 691.1,1657.3" fill="#2e2ede" stroke="#000040" stroke-width="1.0" stroke-opacity="0.25" stroke-linejoin="round"/>
<polygon points="727.2,1660.2 739,1662.1 751.8,1659.6 740,1658" fill="#2e30e0" stroke="#000040" stroke-width="1.0" stroke-opacity="0.25" stroke-linejoin="round"/>
<polygon points="542.4,1630.9 553.4,1635.7 566.9,1638.7 555.9,1634" fill="#1b5fcc" stroke="#000040" stroke-width="1.0" stroke-opacity="0.25" stroke-linejoin="round"/>
<polygon points="591.5,1645.4 602.7,1649.4 616,1650.9 604.8,1647.1" fill="#2547d4" stroke="#000040" stroke-width="1.0" stroke-opacity="0.25" stroke-linejoin="round"/>
<polygon points="419.1,1573.8 429.8,1580.7 443.9,1587.7 433.3,1580.9" fill="#00939c" stroke="#000040" stroke-width="1.0" stroke-opacity="0.25" stroke-linejoin="round"/>
<polygon points="468.6,1600.3 479.4,1606.4 493.2,1611.7 482.4,1605.8" fill="#038cc0" stroke="#000040" stroke-width="1.0" stroke-opacity="0.25" stroke-linejoin="round"/>
<polygon points="517.8,1621.9 528.8,1627.2 542.4,1630.9 531.4,1625.8" fill="#136ec5" stroke="#000040" stroke-width="1.0" stroke-opacity="0.25" stroke-linejoin="round"/>
<polygon points="640.5,1655.3 652,1658.6 665.1,1658.6 653.6,1655.6" fill="#2a39d9" stroke="#000040" stroke-width="1.0" stroke-opacity="0.25" stroke-linejoin="round"/>
<polygon points="689.7,1660.8 701.4,1663.3 714.3,1662 702.6,1659.7" fill="#2c33dd" stroke="#000040" stroke-width="1.0" stroke-opacity="0.25" stroke-linejoin="round"/>
<polygon points="394.3,1558.6 404.9,1566 419.1,1573.8 408.6,1566.6" fill="#00795f" stroke="#000040" stroke-width="1.0" stroke-opacity="0.25" stroke-linejoin="round"/>
<polygon points="443.9,1587.7 454.6,1594.2 468.6,1600.3 457.9,1594" fill="#009fc3" stroke="#000040" stroke-width="1.0" stroke-opacity="0.25" stroke-linejoin="round"/>
<polygon points="493.2,1611.7 504.1,1617.4 517.8,1621.9 506.9,1616.4" fill="#0b7dc0" stroke="#000040" stroke-width="1.0" stroke-opacity="0.25" stroke-linejoin="round"/>
<polygon points="566.9,1638.7 578.1,1643.1 591.5,1645.4 580.3,1641.1" fill="#2152d0" stroke="#000040" stroke-width="1.0" stroke-opacity="0.25" stroke-linejoin="round"/>
<polygon points="616,1650.9 627.3,1654.5 640.5,1655.3 629.2,1651.9" fill="#273fd7" stroke="#000040" stroke-width="1.0" stroke-opacity="0.25" stroke-linejoin="round"/>
<polygon points="665.1,1658.6 676.7,1661.5 689.7,1660.8 678.1,1658.2" fill="#2b35db" stroke="#000040" stroke-width="1.0" stroke-opacity="0.25" stroke-linejoin="round"/>
<polygon points="714.3,1662 726.1,1664 739,1662.1 727.2,1660.2" fill="#2c34de" stroke="#000040" stroke-width="1.0" stroke-opacity="0.25" stroke-linejoin="round"/>
<polygon points="528.8,1627.2 539.8,1632.2 553.4,1635.7 542.4,1630.9" fill="#136dc5" stroke="#000040" stroke-width="1.0" stroke-opacity="0.25" stroke-linejoin="round"/>
<polygon points="404.9,1566 415.5,1573.2 429.8,1580.7 419.1,1573.8" fill="#007c68" stroke="#000040" stroke-width="1.0" stroke-opacity="0.25" stroke-linejoin="round"/>
<polygon points="454.6,1594.2 465.4,1600.5 479.4,1606.4 468.6,1600.3" fill="#009cc2" stroke="#000040" stroke-width="1.0" stroke-opacity="0.25" stroke-linejoin="round"/>
<polygon points="504.1,1617.4 515,1622.9 528.8,1627.2 517.8,1621.9" fill="#0b7cc0" stroke="#000040" stroke-width="1.0" stroke-opacity="0.25" stroke-linejoin="round"/>
<polygon points="553.4,1635.7 564.6,1640.4 578.1,1643.1 566.9,1638.7" fill="#1b5fcc" stroke="#000040" stroke-width="1.0" stroke-opacity="0.25" stroke-linejoin="round"/>
<polygon points="578.1,1643.1 589.3,1647.4 602.7,1649.4 591.5,1645.4" fill="#2153d0" stroke="#000040" stroke-width="1.0" stroke-opacity="0.25" stroke-linejoin="round"/>
<polygon points="602.7,1649.4 614,1653.2 627.3,1654.5 616,1650.9" fill="#2449d4" stroke="#000040" stroke-width="1.0" stroke-opacity="0.25" stroke-linejoin="round"/>
<polygon points="627.3,1654.5 638.8,1658 652,1658.6 640.5,1655.3" fill="#2742d6" stroke="#000040" stroke-width="1.0" stroke-opacity="0.25" stroke-linejoin="round"/>
<polygon points="676.7,1661.5 688.3,1664.1 701.4,1663.3 689.7,1660.8" fill="#2a3adb" stroke="#000040" stroke-width="1.0" stroke-opacity="0.25" stroke-linejoin="round"/>
<polygon points="429.8,1580.7 440.5,1587.5 454.6,1594.2 443.9,1587.7" fill="#0099a8" stroke="#000040" stroke-width="1.0" stroke-opacity="0.25" stroke-linejoin="round"/>
<polygon points="479.4,1606.4 490.2,1612.3 504.1,1617.4 493.2,1611.7" fill="#048ac0" stroke="#000040" stroke-width="1.0" stroke-opacity="0.25" stroke-linejoin="round"/>
<polygon points="652,1658.6 663.5,1661.6 676.7,1661.5 665.1,1658.6" fill="#293dd9" stroke="#000040" stroke-width="1.0" stroke-opacity="0.25" stroke-linejoin="round"/>
<polygon points="701.4,1663.3 713.1,1665.5 726.1,1664 714.3,1662" fill="#2b39dc" stroke="#000040" stroke-width="1.0" stroke-opacity="0.25" stroke-linejoin="round"/>
<polygon points="515,1622.9 526.1,1628.1 539.8,1632.2 528.8,1627.2" fill="#0c7cc0" stroke="#000040" stroke-width="1.0" stroke-opacity="0.25" stroke-linejoin="round"/>
<polygon points="564.6,1640.4 575.8,1644.8 589.3,1647.4 578.1,1643.1" fill="#1b60cc" stroke="#000040" stroke-width="1.0" stroke-opacity="0.25" stroke-linejoin="round"/>
<polygon points="614,1653.2 625.4,1656.8 638.8,1658 627.3,1654.5" fill="#234cd3" stroke="#000040" stroke-width="1.0" stroke-opacity="0.25" stroke-linejoin="round"/>
<polygon points="440.5,1587.5 451.3,1594 465.4,1600.5 454.6,1594.2" fill="#009fb2" stroke="#000040" stroke-width="1.0" stroke-opacity="0.25" stroke-linejoin="round"/>
<polygon points="490.2,1612.3 501.2,1618 515,1622.9 504.1,1617.4" fill="#0589c0" stroke="#000040" stroke-width="1.0" stroke-opacity="0.25" stroke-linejoin="round"/>
<polygon points="539.8,1632.2 550.9,1637.1 564.6,1640.4 553.4,1635.7" fill="#136dc5" stroke="#000040" stroke-width="1.0" stroke-opacity="0.25" stroke-linejoin="round"/>
<polygon points="663.5,1661.6 675.2,1664.4 688.3,1664.1 676.7,1661.5" fill="#2741d8" stroke="#000040" stroke-width="1.0" stroke-opacity="0.25" stroke-linejoin="round"/>
<polygon points="415.5,1573.2 426.2,1580.2 440.5,1587.5 429.8,1580.7" fill="#007f71" stroke="#000040" stroke-width="1.0" stroke-opacity="0.25" stroke-linejoin="round"/>
<polygon points="465.4,1600.5 476.2,1606.6 490.2,1612.3 479.4,1606.4" fill="#0099c2" stroke="#000040" stroke-width="1.0" stroke-opacity="0.25" stroke-linejoin="round"/>
<polygon points="589.3,1647.4 600.6,1651.4 614,1653.2 602.7,1649.4" fill="#2055d0" stroke="#000040" stroke-width="1.0" stroke-opacity="0.25" stroke-linejoin="round"/>
<polygon points="638.8,1658 650.3,1661.2 663.5,1661.6 652,1658.6" fill="#2645d6" stroke="#000040" stroke-width="1.0" stroke-opacity="0.25" stroke-linejoin="round"/>
<polygon points="688.3,1664.1 700.1,1666.5 713.1,1665.5 701.4,1663.3" fill="#283fda" stroke="#000040" stroke-width="1.0" stroke-opacity="0.25" stroke-linejoin="round"/>
<polygon points="501.2,1618 512.2,1623.4 526.1,1628.1 515,1622.9" fill="#0588c0" stroke="#000040" stroke-width="1.0" stroke-opacity="0.25" stroke-linejoin="round"/>
<polygon points="550.9,1637.1 562.1,1641.7 575.8,1644.8 564.6,1640.4" fill="#136ec6" stroke="#000040" stroke-width="1.0" stroke-opacity="0.25" stroke-linejoin="round"/>
<polygon points="426.2,1580.2 437,1586.9 451.3,1594 440.5,1587.5" fill="#008179" stroke="#000040" stroke-width="1.0" stroke-opacity="0.25" stroke-linejoin="round"/>
<polygon points="476.2,1606.6 487.2,1612.5 501.2,1618 490.2,1612.3" fill="#0097c1" stroke="#000040" stroke-width="1.0" stroke-opacity="0.25" stroke-linejoin="round"/>
<polygon points="526.1,1628.1 537.2,1633.2 550.9,1637.1 539.8,1632.2" fill="#0c7bc0" stroke="#000040" stroke-width="1.0" stroke-opacity="0.25" stroke-linejoin="round"/>
<polygon points="575.8,1644.8 587.1,1649 600.6,1651.4 589.3,1647.4" fill="#1a61cb" stroke="#000040" stroke-width="1.0" stroke-opacity="0.25" stroke-linejoin="round"/>
<polygon points="600.6,1651.4 612,1655.2 625.4,1656.8 614,1653.2" fill="#1f57d0" stroke="#000040" stroke-width="1.0" stroke-opacity="0.25" stroke-linejoin="round"/>
<polygon points="625.4,1656.8 637,1660.2 650.3,1661.2 638.8,1658" fill="#224fd3" stroke="#000040" stroke-width="1.0" stroke-opacity="0.25" stroke-linejoin="round"/>
<polygon points="650.3,1661.2 661.9,1664.2 675.2,1664.4 663.5,1661.6" fill="#244ad6" stroke="#000040" stroke-width="1.0" stroke-opacity="0.25" stroke-linejoin="round"/>
<polygon points="451.3,1594 462.1,1600.3 476.2,1606.6 465.4,1600.5" fill="#00a4bb" stroke="#000040" stroke-width="1.0" stroke-opacity="0.25" stroke-linejoin="round"/>
<polygon points="675.2,1664.4 686.9,1667 700.1,1666.5 688.3,1664.1" fill="#2646d8" stroke="#000040" stroke-width="1.0" stroke-opacity="0.25" stroke-linejoin="round"/>
<polygon points="487.2,1612.5 498.2,1618.2 512.2,1623.4 501.2,1618" fill="#0096c1" stroke="#000040" stroke-width="1.0" stroke-opacity="0.25" stroke-linejoin="round"/>
<polygon points="537.2,1633.2 548.4,1638 562.1,1641.7 550.9,1637.1" fill="#0c7cc0" stroke="#000040" stroke-width="1.0" stroke-opacity="0.25" stroke-linejoin="round"/>
<polygon points="587.1,1649 598.5,1653 612,1655.2 600.6,1651.4" fill="#1963cb" stroke="#000040" stroke-width="1.0" stroke-opacity="0.25" stroke-linejoin="round"/>
<polygon points="637,1660.2 648.6,1663.4 661.9,1664.2 650.3,1661.2" fill="#2153d3" stroke="#000040" stroke-width="1.0" stroke-opacity="0.25" stroke-linejoin="round"/>
<polygon points="462.1,1600.3 473.1,1606.4 487.2,1612.5 476.2,1606.6" fill="#00a8c3" stroke="#000040" stroke-width="1.0" stroke-opacity="0.25" stroke-linejoin="round"/>
<polygon points="512.2,1623.4 523.3,1628.7 537.2,1633.2 526.1,1628.1" fill="#0587c0" stroke="#000040" stroke-width="1.0" stroke-opacity="0.25" stroke-linejoin="round"/>
<polygon points="562.1,1641.7 573.4,1646.1 587.1,1649 575.8,1644.8" fill="#136fc5" stroke="#000040" stroke-width="1.0" stroke-opacity="0.25" stroke-linejoin="round"/>
<polygon points="437,1586.9 447.9,1593.4 462.1,1600.3 451.3,1594" fill="#008481" stroke="#000040" stroke-width="1.0" stroke-opacity="0.25" stroke-linejoin="round"/>
<polygon points="612,1655.2 623.5,1658.8 637,1660.2 625.4,1656.8" fill="#1e5ad0" stroke="#000040" stroke-width="1.0" stroke-opacity="0.25" stroke-linejoin="round"/>
<polygon points="661.9,1664.2 673.6,1666.9 686.9,1667 675.2,1664.4" fill="#234ed5" stroke="#000040" stroke-width="1.0" stroke-opacity="0.25" stroke-linejoin="round"/>
<polygon points="473.1,1606.4 484.1,1612.3 498.2,1618.2 487.2,1612.5" fill="#00a8c4" stroke="#000040" stroke-width="1.0" stroke-opacity="0.25" stroke-linejoin="round"/>
<polygon points="523.3,1628.7 534.5,1633.7 548.4,1638 537.2,1633.2" fill="#0687c0" stroke="#000040" stroke-width="1.0" stroke-opacity="0.25" stroke-linejoin="round"/>
<polygon points="573.4,1646.1 584.8,1650.3 598.5,1653 587.1,1649" fill="#1270c5" stroke="#000040" stroke-width="1.0" stroke-opacity="0.25" stroke-linejoin="round"/>
<polygon points="447.9,1593.4 458.8,1599.7 473.1,1606.4 462.1,1600.3" fill="#00898a" stroke="#000040" stroke-width="1.0" stroke-opacity="0.25" stroke-linejoin="round"/>
<polygon points="498.2,1618.2 509.3,1623.6 523.3,1628.7 512.2,1623.4" fill="#0095c1" stroke="#000040" stroke-width="1.0" stroke-opacity="0.25" stroke-linejoin="round"/>
<polygon points="548.4,1638 559.7,1642.6 573.4,1646.1 562.1,1641.7" fill="#0c7cc1" stroke="#000040" stroke-width="1.0" stroke-opacity="0.25" stroke-linejoin="round"/>
<polygon points="598.5,1653 610,1656.8 623.5,1658.8 612,1655.2" fill="#1866ca" stroke="#000040" stroke-width="1.0" stroke-opacity="0.25" stroke-linejoin="round"/>
<polygon points="623.5,1658.8 635.1,1662.1 648.6,1663.4 637,1660.2" fill="#1d5dcf" stroke="#000040" stroke-width="1.0" stroke-opacity="0.25" stroke-linejoin="round"/>
<polygon points="648.6,1663.4 660.3,1666.4 673.6,1666.9 661.9,1664.2" fill="#2057d2" stroke="#000040" stroke-width="1.0" stroke-opacity="0.25" stroke-linejoin="round"/>
<polygon points="458.8,1599.7 469.8,1605.8 484.1,1612.3 473.1,1606.4" fill="#008d91" stroke="#000040" stroke-width="1.0" stroke-opacity="0.25" stroke-linejoin="round"/>
<polygon points="509.3,1623.6 520.5,1628.8 534.5,1633.7 523.3,1628.7" fill="#0094c1" stroke="#000040" stroke-width="1.0" stroke-opacity="0.25" stroke-linejoin="round"/>
<polygon points="559.7,1642.6 571.1,1646.9 584.8,1650.3 573.4,1646.1" fill="#0b7dc1" stroke="#000040" stroke-width="1.0" stroke-opacity="0.25" stroke-linejoin="round"/>
<polygon points="610,1656.8 621.6,1660.3 635.1,1662.1 623.5,1658.8" fill="#1769ca" stroke="#000040" stroke-width="1.0" stroke-opacity="0.25" stroke-linejoin="round"/>
<polygon points="484.1,1612.3 495.2,1617.9 509.3,1623.6 498.2,1618.2" fill="#00a6c4" stroke="#000040" stroke-width="1.0" stroke-opacity="0.25" stroke-linejoin="round"/>
<polygon points="534.5,1633.7 545.8,1638.5 559.7,1642.6 548.4,1638" fill="#0687c1" stroke="#000040" stroke-width="1.0" stroke-opacity="0.25" stroke-linejoin="round"/>
<polygon points="584.8,1650.3 596.3,1654.2 610,1656.8 598.5,1653" fill="#1172c5" stroke="#000040" stroke-width="1.0" stroke-opacity="0.25" stroke-linejoin="round"/>
<polygon points="635.1,1662.1 646.8,1665.3 660.3,1666.4 648.6,1663.4" fill="#1b61ce" stroke="#000040" stroke-width="1.0" stroke-opacity="0.25" stroke-linejoin="round"/>
<polygon points="495.2,1617.9 506.4,1623.3 520.5,1628.8 509.3,1623.6" fill="#00a5c4" stroke="#000040" stroke-width="1.0" stroke-opacity="0.25" stroke-linejoin="round"/>
<polygon points="545.8,1638.5 557.2,1643.1 571.1,1646.9 559.7,1642.6" fill="#0588c1" stroke="#000040" stroke-width="1.0" stroke-opacity="0.25" stroke-linejoin="round"/>
<polygon points="596.3,1654.2 607.9,1658 621.6,1660.3 610,1656.8" fill="#1075c4" stroke="#000040" stroke-width="1.0" stroke-opacity="0.25" stroke-linejoin="round"/>
<polygon points="469.8,1605.8 480.9,1611.6 495.2,1617.9 484.1,1612.3" fill="#009096" stroke="#000040" stroke-width="1.0" stroke-opacity="0.25" stroke-linejoin="round"/>
<polygon points="520.5,1628.8 531.8,1633.8 545.8,1638.5 534.5,1633.7" fill="#0094c1" stroke="#000040" stroke-width="1.0" stroke-opacity="0.25" stroke-linejoin="round"/>
<polygon points="571.1,1646.9 582.5,1651.1 596.3,1654.2 584.8,1650.3" fill="#0b7ec1" stroke="#000040" stroke-width="1.0" stroke-opacity="0.25" stroke-linejoin="round"/>
<polygon points="621.6,1660.3 633.3,1663.7 646.8,1665.3 635.1,1662.1" fill="#156cc9" stroke="#000040" stroke-width="1.0" stroke-opacity="0.25" stroke-linejoin="round"/>
<polygon points="480.9,1611.6 492.1,1617.2 506.4,1623.3 495.2,1617.9" fill="#00929b" stroke="#000040" stroke-width="1.0" stroke-opacity="0.25" stroke-linejoin="round"/>
<polygon points="531.8,1633.8 543.2,1638.6 557.2,1643.1 545.8,1638.5" fill="#0094c1" stroke="#000040" stroke-width="1.0" stroke-opacity="0.25" stroke-linejoin="round"/>
<polygon points="582.5,1651.1 594.1,1655 607.9,1658 596.3,1654.2" fill="#0a80c2" stroke="#000040" stroke-width="1.0" stroke-opacity="0.25" stroke-linejoin="round"/>
<polygon points="506.4,1623.3 517.7,1628.5 531.8,1633.8 520.5,1628.8" fill="#00a5c4" stroke="#000040" stroke-width="1.0" stroke-opacity="0.25" stroke-linejoin="round"/>
<polygon points="557.2,1643.1 568.7,1647.4 582.5,1651.1 571.1,1646.9" fill="#0589c1" stroke="#000040" stroke-width="1.0" stroke-opacity="0.25" stroke-linejoin="round"/>
<polygon points="607.9,1658 619.6,1661.5 633.3,1663.7 621.6,1660.3" fill="#0e78c3" stroke="#000040" stroke-width="1.0" stroke-opacity="0.25" stroke-linejoin="round"/>
<polygon points="517.7,1628.5 529,1633.5 543.2,1638.6 531.8,1633.8" fill="#00a5c4" stroke="#000040" stroke-width="1.0" stroke-opacity="0.25" stroke-linejoin="round"/>
<polygon points="568.7,1647.4 580.2,1651.5 594.1,1655 582.5,1651.1" fill="#048ac1" stroke="#000040" stroke-width="1.0" stroke-opacity="0.25" stroke-linejoin="round"/>
<polygon points="492.1,1617.2 503.4,1622.6 517.7,1628.5 506.4,1623.3" fill="#00949e" stroke="#000040" stroke-width="1.0" stroke-opacity="0.25" stroke-linejoin="round"/>
<polygon points="543.2,1638.6 554.6,1643.1 568.7,1647.4 557.2,1643.1" fill="#0095c2" stroke="#000040" stroke-width="1.0" stroke-opacity="0.25" stroke-linejoin="round"/>
<polygon points="594.1,1655 605.8,1658.8 619.6,1661.5 607.9,1658" fill="#0982c2" stroke="#000040" stroke-width="1.0" stroke-opacity="0.25" stroke-linejoin="round"/>
<polygon points="503.4,1622.6 514.8,1627.8 529,1633.5 517.7,1628.5" fill="#00959f" stroke="#000040" stroke-width="1.0" stroke-opacity="0.25" stroke-linejoin="round"/>
<polygon points="554.6,1643.1 566.2,1647.4 580.2,1651.5 568.7,1647.4" fill="#0097c2" stroke="#000040" stroke-width="1.0" stroke-opacity="0.25" stroke-linejoin="round"/>
<polygon points="529,1633.5 540.5,1638.2 554.6,1643.1 543.2,1638.6" fill="#00a5c4" stroke="#000040" stroke-width="1.0" stroke-opacity="0.25" stroke-linejoin="round"/>
<polygon points="580.2,1651.5 591.9,1655.4 605.8,1658.8 594.1,1655" fill="#038cc2" stroke="#000040" stroke-width="1.0" stroke-opacity="0.25" stroke-linejoin="round"/>
<polygon points="540.5,1638.2 552,1642.7 566.2,1647.4 554.6,1643.1" fill="#00a7c5" stroke="#000040" stroke-width="1.0" stroke-opacity="0.25" stroke-linejoin="round"/>
<polygon points="514.8,1627.8 526.2,1632.7 540.5,1638.2 529,1633.5" fill="#00959f" stroke="#000040" stroke-width="1.0" stroke-opacity="0.25" stroke-linejoin="round"/>
<polygon points="566.2,1647.4 577.9,1651.5 591.9,1655.4 580.2,1651.5" fill="#0099c3" stroke="#000040" stroke-width="1.0" stroke-opacity="0.25" stroke-linejoin="round"/>
<polygon points="526.2,1632.7 537.8,1637.4 552,1642.7 540.5,1638.2" fill="#00949e" stroke="#000040" stroke-width="1.0" stroke-opacity="0.25" stroke-linejoin="round"/>
<polygon points="552,1642.7 563.7,1647 577.9,1651.5 566.2,1647.4" fill="#00a8c5" stroke="#000040" stroke-width="1.0" stroke-opacity="0.25" stroke-linejoin="round"/>
<polygon points="537.8,1637.4 549.4,1641.9 563.7,1647 552,1642.7" fill="#00939b" stroke="#000040" stroke-width="1.0" stroke-opacity="0.25" stroke-linejoin="round"/>
<line x1="747" y1="1293" x2="747" y2="1659" stroke="#333" stroke-width="2"/>
<rect x="731" y="1252" width="20" height="41" fill="#fff" stroke="#555" stroke-width="2"/>
<text x="741" y="1283" text-anchor="middle" font-size="24" fill="#222" style="font-family:&quot;Liberation Serif&quot;,serif">3</text>
<circle cx="621.6" cy="1457.7" r="8.5" fill="#b00000" stroke="#7a0000" stroke-width="1.5"/>
<circle cx="591" cy="1585" r="6" fill="#b00000" stroke="#7a0000" stroke-width="1.5"/>
<circle cx="790.8" cy="1644.9" r="7.5" fill="#b00000" stroke="#7a0000" stroke-width="1.5"/>
<text x="171.7" y="1807" text-anchor="middle" font-size="33" fill="#222" style="font-family:&quot;Liberation Serif&quot;,serif">0</text>
<text x="222.9" y="1847" text-anchor="middle" font-size="33" fill="#222" style="font-family:&quot;Liberation Serif&quot;,serif">0.02</text>
<text x="292.8" y="1887" text-anchor="middle" font-size="33" fill="#222" style="font-family:&quot;Liberation Serif&quot;,serif">0.04</text>
<text x="362.7" y="1926" text-anchor="middle" font-size="33" fill="#222" style="font-family:&quot;Liberation Serif&quot;,serif">0.06</text>
<text x="432.6" y="1966" text-anchor="middle" font-size="33" fill="#222" style="font-family:&quot;Liberation Serif&quot;,serif">0.08</text>
<text x="512.4" y="2005" text-anchor="middle" font-size="33" fill="#222" style="font-family:&quot;Liberation Serif&quot;,serif">0.1</text>
<text x="589" y="2007" text-anchor="middle" font-size="33" fill="#222" style="font-family:&quot;Liberation Serif&quot;,serif">1.5</text>
<text x="675.4" y="1972" text-anchor="middle" font-size="33" fill="#222" style="font-family:&quot;Liberation Serif&quot;,serif">1.6</text>
<text x="762" y="1937" text-anchor="middle" font-size="33" fill="#222" style="font-family:&quot;Liberation Serif&quot;,serif">1.7</text>
<text x="851.8" y="1904" text-anchor="middle" font-size="33" fill="#222" style="font-family:&quot;Liberation Serif&quot;,serif">1.8</text>
<text x="938.3" y="1868.6" text-anchor="middle" font-size="33" fill="#222" style="font-family:&quot;Liberation Serif&quot;,serif">1.9</text>
<text x="1014.8" y="1837.3" text-anchor="middle" font-size="33" fill="#222" style="font-family:&quot;Liberation Serif&quot;,serif">2</text>
<text x="164.7" y="1952.4" text-anchor="middle" font-size="40" font-weight="bold" fill="#111" style="font-family:&quot;Liberation Serif&quot;,serif" textLength="296.2" lengthAdjust="spacingAndGlyphs">X<tspan font-size="26" dy="8">1</tspan><tspan dy="-8">: GO (g/100mL)</tspan></text>
<text x="956.5" y="1972.4" text-anchor="middle" font-size="40" font-weight="bold" fill="#111" style="font-family:&quot;Liberation Serif&quot;,serif" textLength="283" lengthAdjust="spacingAndGlyphs">X<tspan font-size="26" dy="8">2</tspan><tspan dy="-8">: CS (g/100mL)</tspan></text>
<text transform="translate(61.5,1523) rotate(-90)" text-anchor="middle" font-size="38" font-weight="bold" fill="#111" style="font-family:&quot;Liberation Serif&quot;,serif" textLength="289" lengthAdjust="spacingAndGlyphs">Gelation time (min)</text>
<text x="32" y="1157" font-size="94" font-weight="bold" fill="#000" style="font-family:&quot;Liberation Serif&quot;,serif">B</text>
</g>
<g id="C">
<polygon points="1405,1813.9 1760.1,2029.8 2202.3,1845 1832.6,1675.2" fill="#646464"/>
<line x1="1485.7" y1="1651.9" x2="1470.3" y2="1224" stroke="#6a6a6a" stroke-width="2.2"/>
<line x1="1572.4" y1="1626.4" x2="1560.9" y2="1205.9" stroke="#6a6a6a" stroke-width="2.2"/>
<line x1="1659.1" y1="1601" x2="1651.4" y2="1187.8" stroke="#6a6a6a" stroke-width="2.2"/>
<line x1="1745.9" y1="1575.6" x2="1742" y2="1169.7" stroke="#6a6a6a" stroke-width="2.2"/>
<line x1="1398.9" y1="1677.3" x2="1832.6" y2="1550.2" stroke="#6a6a6a" stroke-width="2.2"/>
<line x1="1395.1" y1="1590.2" x2="1832.6" y2="1470.5" stroke="#6a6a6a" stroke-width="2.2"/>
<line x1="1391.2" y1="1503.2" x2="1832.6" y2="1390.8" stroke="#6a6a6a" stroke-width="2.2"/>
<line x1="1387.4" y1="1416.1" x2="1832.6" y2="1311.1" stroke="#6a6a6a" stroke-width="2.2"/>
<line x1="1383.5" y1="1329.1" x2="1832.6" y2="1231.4" stroke="#6a6a6a" stroke-width="2.2"/>
<line x1="1379.7" y1="1242" x2="1832.6" y2="1151.7" stroke="#6a6a6a" stroke-width="2.2"/>
<line x1="1907.8" y1="1581.2" x2="1911.7" y2="1173.2" stroke="#6a6a6a" stroke-width="2.2"/>
<line x1="1982.9" y1="1612.2" x2="1990.8" y2="1194.8" stroke="#6a6a6a" stroke-width="2.2"/>
<line x1="2058.1" y1="1643.2" x2="2069.9" y2="1216.3" stroke="#6a6a6a" stroke-width="2.2"/>
<line x1="2133.3" y1="1674.1" x2="2149" y2="1237.9" stroke="#6a6a6a" stroke-width="2.2"/>
<line x1="1832.6" y1="1550.2" x2="2208.5" y2="1705.1" stroke="#6a6a6a" stroke-width="2.2"/>
<line x1="1832.6" y1="1470.5" x2="2212.4" y2="1616" stroke="#6a6a6a" stroke-width="2.2"/>
<line x1="1832.6" y1="1390.8" x2="2216.3" y2="1526.9" stroke="#6a6a6a" stroke-width="2.2"/>
<line x1="1832.6" y1="1311.1" x2="2220.3" y2="1437.7" stroke="#6a6a6a" stroke-width="2.2"/>
<line x1="1832.6" y1="1231.4" x2="2224.2" y2="1348.6" stroke="#6a6a6a" stroke-width="2.2"/>
<line x1="1832.6" y1="1151.7" x2="2228.2" y2="1259.4" stroke="#6a6a6a" stroke-width="2.2"/>
<line x1="1832.6" y1="1675.2" x2="1832.6" y2="1151.7" stroke="#6a6a6a" stroke-width="2.2"/>
<line x1="2202.3" y1="1845" x2="2228.2" y2="1259.4" stroke="#6a6a6a" stroke-width="2.2"/>
<line x1="1405" y1="1813.9" x2="1379.7" y2="1242" stroke="#555" stroke-width="2.2"/>
<polyline points="1405.1,1813.8 1849.9,1992.2" fill="none" stroke="#1f6fb4" stroke-width="4.5" stroke-linejoin="round" stroke-linecap="round"/>
<polyline points="1502.1,1782.4 1943.9,1954.1" fill="none" stroke="#10c4bc" stroke-width="4.5" stroke-linejoin="round" stroke-linecap="round"/>
<polyline points="1598.2,1751.2 2027.7,1918.5" fill="none" stroke="#10b850" stroke-width="4.5" stroke-linejoin="round" stroke-linecap="round"/>
<polyline points="1678.7,1725.1 2111.5,1880.4" fill="none" stroke="#98d840" stroke-width="4.5" stroke-linejoin="round" stroke-linecap="round"/>
<polyline points="1759.7,1698.9 2197.9,1847.4" fill="none" stroke="#e0d060" stroke-width="4.5" stroke-linejoin="round" stroke-linecap="round"/>
<rect x="1395.9" y="1674.3" width="6" height="6" fill="#111"/>
<text x="1381.9" y="1671.3" text-anchor="end" font-size="33" fill="#222" style="font-family:&quot;Liberation Serif&quot;,serif">2</text>
<rect x="1392.1" y="1587.2" width="6" height="6" fill="#111"/>
<text x="1378.1" y="1584.2" text-anchor="end" font-size="33" fill="#222" style="font-family:&quot;Liberation Serif&quot;,serif">4</text>
<rect x="1388.2" y="1500.2" width="6" height="6" fill="#111"/>
<text x="1374.2" y="1497.2" text-anchor="end" font-size="33" fill="#222" style="font-family:&quot;Liberation Serif&quot;,serif">6</text>
<rect x="1384.4" y="1413.1" width="6" height="6" fill="#111"/>
<text x="1370.4" y="1410.1" text-anchor="end" font-size="33" fill="#222" style="font-family:&quot;Liberation Serif&quot;,serif">8</text>
<rect x="1380.5" y="1326.1" width="6" height="6" fill="#111"/>
<text x="1366.5" y="1323.1" text-anchor="end" font-size="33" fill="#222" style="font-family:&quot;Liberation Serif&quot;,serif">10</text>
<rect x="1376.7" y="1239" width="6" height="6" fill="#111"/>
<text x="1362.7" y="1236" text-anchor="end" font-size="33" fill="#222" style="font-family:&quot;Liberation Serif&quot;,serif">12</text>
<rect x="1402" y="1810.9" width="6" height="6" fill="#111"/>
<rect x="1473" y="1854.1" width="6" height="6" fill="#111"/>
<rect x="1544" y="1897.2" width="6" height="6" fill="#111"/>
<rect x="1615" y="1940.4" width="6" height="6" fill="#111"/>
<rect x="1686" y="1983.6" width="6" height="6" fill="#111"/>
<rect x="1757.1" y="2026.8" width="6" height="6" fill="#111"/>
<rect x="1845.5" y="1989.8" width="6" height="6" fill="#111"/>
<rect x="1934" y="1952.9" width="6" height="6" fill="#111"/>
<rect x="2022.4" y="1915.9" width="6" height="6" fill="#111"/>
<rect x="2110.8" y="1879" width="6" height="6" fill="#111"/>
<rect x="2199.3" y="1842" width="6" height="6" fill="#111"/>
<circle cx="1564.8" cy="1747.4" r="7" fill="#fde0e0" stroke="#c05050" stroke-width="2"/>
<polygon points="1812.8,1267.2 1830,1275.1 1850.3,1258.1 1833,1250.3" fill="#ffb15a" stroke="#593e1f" stroke-width="2.4" stroke-linejoin="round"/>
<polygon points="1830,1275.1 1847.4,1283.1 1867.7,1265.9 1850.3,1258.1" fill="#ffb55a" stroke="#593f1f" stroke-width="2.4" stroke-linejoin="round"/>
<polygon points="1792.4,1284.2 1809.5,1292.3 1830,1275.1 1812.8,1267.2" fill="#ffc35a" stroke="#59441f" stroke-width="2.4" stroke-linejoin="round"/>
<polygon points="1809.5,1292.3 1826.8,1300.4 1847.4,1283.1 1830,1275.1" fill="#ffc65a" stroke="#59451f" stroke-width="2.4" stroke-linejoin="round"/>
<polygon points="1847.4,1283.1 1865,1291.2 1885.4,1273.9 1867.7,1265.9" fill="#ffb85a" stroke="#59401f" stroke-width="2.4" stroke-linejoin="round"/>
<polygon points="1771.8,1301.4 1788.9,1309.6 1809.5,1292.3 1792.4,1284.2" fill="#fad55a" stroke="#574b1f" stroke-width="2.4" stroke-linejoin="round"/>
<polygon points="1751,1318.7 1768.1,1327 1788.9,1309.6 1771.8,1301.4" fill="#f2e75a" stroke="#55511f" stroke-width="2.4" stroke-linejoin="round"/>
<polygon points="1788.9,1309.6 1806.2,1317.8 1826.8,1300.4 1809.5,1292.3" fill="#f8d85a" stroke="#574c1f" stroke-width="2.4" stroke-linejoin="round"/>
<polygon points="1826.8,1300.4 1844.4,1308.6 1865,1291.2 1847.4,1283.1" fill="#feca5a" stroke="#59471f" stroke-width="2.4" stroke-linejoin="round"/>
<polygon points="1865,1291.2 1882.8,1299.4 1903.3,1281.9 1885.4,1273.9" fill="#ffbb5a" stroke="#59421f" stroke-width="2.4" stroke-linejoin="round"/>
<polygon points="1882.8,1299.4 1900.9,1307.7 1921.4,1290.1 1903.3,1281.9" fill="#ffbf5a" stroke="#59431f" stroke-width="2.4" stroke-linejoin="round"/>
<polygon points="1730.2,1336.1 1747.1,1344.5 1768.1,1327 1751,1318.7" fill="#e8f85a" stroke="#51571f" stroke-width="2.4" stroke-linejoin="round"/>
<polygon points="1768.1,1327 1785.3,1335.4 1806.2,1317.8 1788.9,1309.6" fill="#f1eb5a" stroke="#54521f" stroke-width="2.4" stroke-linejoin="round"/>
<polygon points="1806.2,1317.8 1823.7,1326.2 1844.4,1308.6 1826.8,1300.4" fill="#f7dc5a" stroke="#564d1f" stroke-width="2.4" stroke-linejoin="round"/>
<polygon points="1844.4,1308.6 1862.2,1316.9 1882.8,1299.4 1865,1291.2" fill="#fdcd5a" stroke="#58481f" stroke-width="2.4" stroke-linejoin="round"/>
<polygon points="1709.1,1353.6 1726,1362.2 1747.1,1344.5 1730.2,1336.1" fill="#baf756" stroke="#41561e" stroke-width="2.4" stroke-linejoin="round"/>
<polygon points="1785.3,1335.4 1802.8,1343.9 1823.7,1326.2 1806.2,1317.8" fill="#efee5a" stroke="#54531f" stroke-width="2.4" stroke-linejoin="round"/>
<polygon points="1862.2,1316.9 1880.2,1325.4 1900.9,1307.7 1882.8,1299.4" fill="#fbd15a" stroke="#58491f" stroke-width="2.4" stroke-linejoin="round"/>
<polygon points="1900.9,1307.7 1919.1,1316 1939.7,1298.3 1921.4,1290.1" fill="#ffc25a" stroke="#59441f" stroke-width="2.4" stroke-linejoin="round"/>
<polygon points="1747.1,1344.5 1764.3,1353.1 1785.3,1335.4 1768.1,1327" fill="#dff859" stroke="#4e571f" stroke-width="2.4" stroke-linejoin="round"/>
<polygon points="1823.7,1326.2 1841.4,1334.7 1862.2,1316.9 1844.4,1308.6" fill="#f5df5a" stroke="#564e1f" stroke-width="2.4" stroke-linejoin="round"/>
<polygon points="1726,1362.2 1743.1,1370.9 1764.3,1353.1 1747.1,1344.5" fill="#b1f756" stroke="#3e561e" stroke-width="2.4" stroke-linejoin="round"/>
<polygon points="1687.9,1371.3 1704.7,1380.1 1726,1362.2 1709.1,1353.6" fill="#8df653" stroke="#31561d" stroke-width="2.4" stroke-linejoin="round"/>
<polygon points="1764.3,1353.1 1781.7,1361.7 1802.8,1343.9 1785.3,1335.4" fill="#d6f858" stroke="#4b571f" stroke-width="2.4" stroke-linejoin="round"/>
<polygon points="1802.8,1343.9 1820.4,1352.5 1841.4,1334.7 1823.7,1326.2" fill="#eef25a" stroke="#53551f" stroke-width="2.4" stroke-linejoin="round"/>
<polygon points="1841.4,1334.7 1859.3,1343.2 1880.2,1325.4 1862.2,1316.9" fill="#f4e35a" stroke="#554f1f" stroke-width="2.4" stroke-linejoin="round"/>
<polygon points="1880.2,1325.4 1898.4,1333.9 1919.1,1316 1900.9,1307.7" fill="#fad45a" stroke="#574a1f" stroke-width="2.4" stroke-linejoin="round"/>
<polygon points="1919.1,1316 1937.6,1324.5 1958.2,1306.7 1939.7,1298.3" fill="#ffc55a" stroke="#59451f" stroke-width="2.4" stroke-linejoin="round"/>
<polygon points="1704.7,1380.1 1721.8,1388.9 1743.1,1370.9 1726,1362.2" fill="#84f652" stroke="#2e561d" stroke-width="2.4" stroke-linejoin="round"/>
<polygon points="1743.1,1370.9 1760.4,1379.7 1781.7,1361.7 1764.3,1353.1" fill="#a9f755" stroke="#3b561e" stroke-width="2.4" stroke-linejoin="round"/>
<polygon points="1820.4,1352.5 1838.3,1361.2 1859.3,1343.2 1841.4,1334.7" fill="#ecf55a" stroke="#53561f" stroke-width="2.4" stroke-linejoin="round"/>
<polygon points="1937.6,1324.5 1956.3,1333.1 1977,1315.1 1958.2,1306.7" fill="#ffc95a" stroke="#59461f" stroke-width="2.4" stroke-linejoin="round"/>
<polygon points="1666.5,1389.2 1683.3,1398.1 1704.7,1380.1 1687.9,1371.3" fill="#61f551" stroke="#22561c" stroke-width="2.4" stroke-linejoin="round"/>
<polygon points="1781.7,1361.7 1799.3,1370.5 1820.4,1352.5 1802.8,1343.9" fill="#cef758" stroke="#48571f" stroke-width="2.4" stroke-linejoin="round"/>
<polygon points="1859.3,1343.2 1877.5,1351.9 1898.4,1333.9 1880.2,1325.4" fill="#f2e65a" stroke="#55511f" stroke-width="2.4" stroke-linejoin="round"/>
<polygon points="1898.4,1333.9 1916.8,1342.5 1937.6,1324.5 1919.1,1316" fill="#f9d85a" stroke="#574b1f" stroke-width="2.4" stroke-linejoin="round"/>
<polygon points="1644.9,1407.1 1661.7,1416.2 1683.3,1398.1 1666.5,1389.2" fill="#42f45d" stroke="#175521" stroke-width="2.4" stroke-linejoin="round"/>
<polygon points="1683.3,1398.1 1700.3,1407 1721.8,1388.9 1704.7,1380.1" fill="#5bf554" stroke="#20561d" stroke-width="2.4" stroke-linejoin="round"/>
<polygon points="1721.8,1388.9 1739,1397.9 1760.4,1379.7 1743.1,1370.9" fill="#7bf652" stroke="#2b561d" stroke-width="2.4" stroke-linejoin="round"/>
<polygon points="1760.4,1379.7 1778,1388.6 1799.3,1370.5 1781.7,1361.7" fill="#a0f654" stroke="#38561e" stroke-width="2.4" stroke-linejoin="round"/>
<polygon points="1799.3,1370.5 1817.1,1379.4 1838.3,1361.2 1820.4,1352.5" fill="#c5f757" stroke="#45571f" stroke-width="2.4" stroke-linejoin="round"/>
<polygon points="1838.3,1361.2 1856.4,1370.1 1877.5,1351.9 1859.3,1343.2" fill="#eaf85a" stroke="#52571f" stroke-width="2.4" stroke-linejoin="round"/>
<polygon points="1916.8,1342.5 1935.5,1351.3 1956.3,1333.1 1937.6,1324.5" fill="#f7db5a" stroke="#564d1f" stroke-width="2.4" stroke-linejoin="round"/>
<polygon points="1956.3,1333.1 1975.3,1341.8 1996,1323.7 1977,1315.1" fill="#fdcc5a" stroke="#59471f" stroke-width="2.4" stroke-linejoin="round"/>
<polygon points="1877.5,1351.9 1895.8,1360.7 1916.8,1342.5 1898.4,1333.9" fill="#f1ea5a" stroke="#54521f" stroke-width="2.4" stroke-linejoin="round"/>
<polygon points="1778,1388.6 1795.7,1397.7 1817.1,1379.4 1799.3,1370.5" fill="#97f654" stroke="#35561d" stroke-width="2.4" stroke-linejoin="round"/>
<polygon points="1975.3,1341.8 1994.4,1350.6 2015.2,1332.3 1996,1323.7" fill="#fcd05a" stroke="#58491f" stroke-width="2.4" stroke-linejoin="round"/>
<polygon points="1623.2,1425.3 1639.9,1434.4 1661.7,1416.2 1644.9,1407.1" fill="#24f36a" stroke="#0d5525" stroke-width="2.4" stroke-linejoin="round"/>
<polygon points="1661.7,1416.2 1678.6,1425.3 1700.3,1407 1683.3,1398.1" fill="#3df460" stroke="#155522" stroke-width="2.4" stroke-linejoin="round"/>
<polygon points="1700.3,1407 1717.5,1416.1 1739,1397.9 1721.8,1388.9" fill="#55f556" stroke="#1e561e" stroke-width="2.4" stroke-linejoin="round"/>
<polygon points="1739,1397.9 1756.5,1406.9 1778,1388.6 1760.4,1379.7" fill="#73f551" stroke="#28561c" stroke-width="2.4" stroke-linejoin="round"/>
<polygon points="1817.1,1379.4 1835.1,1388.4 1856.4,1370.1 1838.3,1361.2" fill="#bcf757" stroke="#42561e" stroke-width="2.4" stroke-linejoin="round"/>
<polygon points="1856.4,1370.1 1874.7,1379 1895.8,1360.7 1877.5,1351.9" fill="#e1f859" stroke="#4f571f" stroke-width="2.4" stroke-linejoin="round"/>
<polygon points="1895.8,1360.7 1914.4,1369.6 1935.5,1351.3 1916.8,1342.5" fill="#efed5a" stroke="#54531f" stroke-width="2.4" stroke-linejoin="round"/>
<polygon points="1935.5,1351.3 1954.3,1360.1 1975.3,1341.8 1956.3,1333.1" fill="#f6de5a" stroke="#564e1f" stroke-width="2.4" stroke-linejoin="round"/>
<polygon points="1678.6,1425.3 1695.7,1434.6 1717.5,1416.1 1700.3,1407" fill="#37f462" stroke="#135522" stroke-width="2.4" stroke-linejoin="round"/>
<polygon points="1756.5,1406.9 1774.2,1416.1 1795.7,1397.7 1778,1388.6" fill="#6af550" stroke="#25561c" stroke-width="2.4" stroke-linejoin="round"/>
<polygon points="1795.7,1397.7 1813.7,1406.8 1835.1,1388.4 1817.1,1379.4" fill="#8ff653" stroke="#32561d" stroke-width="2.4" stroke-linejoin="round"/>
<polygon points="1874.7,1379 1893.2,1388 1914.4,1369.6 1895.8,1360.7" fill="#d8f859" stroke="#4c571f" stroke-width="2.4" stroke-linejoin="round"/>
<polygon points="1954.3,1360.1 1973.5,1369.1 1994.4,1350.6 1975.3,1341.8" fill="#f4e25a" stroke="#554f1f" stroke-width="2.4" stroke-linejoin="round"/>
<polygon points="1994.4,1350.6 2013.9,1359.6 2034.7,1341.1 2015.2,1332.3" fill="#fad35a" stroke="#584a1f" stroke-width="2.4" stroke-linejoin="round"/>
<polygon points="1639.9,1434.4 1656.7,1443.7 1678.6,1425.3 1661.7,1416.2" fill="#1ef36c" stroke="#0b5526" stroke-width="2.4" stroke-linejoin="round"/>
<polygon points="1601.3,1443.5 1617.9,1452.8 1639.9,1434.4 1623.2,1425.3" fill="#06f276" stroke="#025529" stroke-width="2.4" stroke-linejoin="round"/>
<polygon points="1717.5,1416.1 1734.9,1425.4 1756.5,1406.9 1739,1397.9" fill="#4ff458" stroke="#1c561f" stroke-width="2.4" stroke-linejoin="round"/>
<polygon points="1835.1,1388.4 1853.4,1397.4 1874.7,1379 1856.4,1370.1" fill="#b4f756" stroke="#3f561e" stroke-width="2.4" stroke-linejoin="round"/>
<polygon points="1914.4,1369.6 1933.3,1378.6 1954.3,1360.1 1935.5,1351.3" fill="#eef15a" stroke="#53541f" stroke-width="2.4" stroke-linejoin="round"/>
<polygon points="1579.3,1461.9 1595.8,1471.4 1617.9,1452.8 1601.3,1443.5" fill="#00f497" stroke="#005535" stroke-width="2.4" stroke-linejoin="round"/>
<polygon points="1656.7,1443.7 1673.8,1453.1 1695.7,1434.6 1678.6,1425.3" fill="#19f36e" stroke="#095527" stroke-width="2.4" stroke-linejoin="round"/>
<polygon points="1695.7,1434.6 1713.1,1443.9 1734.9,1425.4 1717.5,1416.1" fill="#31f364" stroke="#115523" stroke-width="2.4" stroke-linejoin="round"/>
<polygon points="1734.9,1425.4 1752.5,1434.7 1774.2,1416.1 1756.5,1406.9" fill="#4af45b" stroke="#1a5520" stroke-width="2.4" stroke-linejoin="round"/>
<polygon points="1774.2,1416.1 1792.1,1425.4 1813.7,1406.8 1795.7,1397.7" fill="#62f551" stroke="#22561c" stroke-width="2.4" stroke-linejoin="round"/>
<polygon points="1813.7,1406.8 1831.9,1416 1853.4,1397.4 1835.1,1388.4" fill="#86f653" stroke="#2f561d" stroke-width="2.4" stroke-linejoin="round"/>
<polygon points="1853.4,1397.4 1871.9,1406.7 1893.2,1388 1874.7,1379" fill="#abf755" stroke="#3c561e" stroke-width="2.4" stroke-linejoin="round"/>
<polygon points="1893.2,1388 1912,1397.2 1933.3,1378.6 1914.4,1369.6" fill="#d0f758" stroke="#49571f" stroke-width="2.4" stroke-linejoin="round"/>
<polygon points="1933.3,1378.6 1952.3,1387.7 1973.5,1369.1 1954.3,1360.1" fill="#edf45a" stroke="#53551f" stroke-width="2.4" stroke-linejoin="round"/>
<polygon points="1973.5,1369.1 1992.8,1378.2 2013.9,1359.6 1994.4,1350.6" fill="#f3e55a" stroke="#55501f" stroke-width="2.4" stroke-linejoin="round"/>
<polygon points="2013.9,1359.6 2033.5,1368.6 2054.4,1350 2034.7,1341.1" fill="#f9d75a" stroke="#574b1f" stroke-width="2.4" stroke-linejoin="round"/>
<polygon points="1617.9,1452.8 1634.7,1462.3 1656.7,1443.7 1639.9,1434.4" fill="#00f278" stroke="#00552a" stroke-width="2.4" stroke-linejoin="round"/>
<polygon points="1713.1,1443.9 1730.6,1453.4 1752.5,1434.7 1734.9,1425.4" fill="#2bf367" stroke="#0f5524" stroke-width="2.4" stroke-linejoin="round"/>
<polygon points="1831.9,1416 1850.3,1425.4 1871.9,1406.7 1853.4,1397.4" fill="#7df652" stroke="#2c561d" stroke-width="2.4" stroke-linejoin="round"/>
<polygon points="1912,1397.2 1931,1406.5 1952.3,1387.7 1933.3,1378.6" fill="#c7f757" stroke="#46571f" stroke-width="2.4" stroke-linejoin="round"/>
<polygon points="2033.5,1368.6 2053.4,1377.7 2074.4,1358.9 2054.4,1350" fill="#f7da5a" stroke="#574c1f" stroke-width="2.4" stroke-linejoin="round"/>
<polygon points="1595.8,1471.4 1612.5,1481 1634.7,1462.3 1617.9,1452.8" fill="#00f59f" stroke="#005638" stroke-width="2.4" stroke-linejoin="round"/>
<polygon points="1557,1480.5 1573.5,1490.1 1595.8,1471.4 1579.3,1461.9" fill="#00f7be" stroke="#005642" stroke-width="2.4" stroke-linejoin="round"/>
<polygon points="1634.7,1462.3 1651.7,1471.9 1673.8,1453.1 1656.7,1443.7" fill="#00f37f" stroke="#00552d" stroke-width="2.4" stroke-linejoin="round"/>
<polygon points="1673.8,1453.1 1691.1,1462.7 1713.1,1443.9 1695.7,1434.6" fill="#13f371" stroke="#075527" stroke-width="2.4" stroke-linejoin="round"/>
<polygon points="1752.5,1434.7 1770.4,1444.1 1792.1,1425.4 1774.2,1416.1" fill="#44f45d" stroke="#185521" stroke-width="2.4" stroke-linejoin="round"/>
<polygon points="1792.1,1425.4 1810.3,1434.8 1831.9,1416 1813.7,1406.8" fill="#5cf553" stroke="#20561d" stroke-width="2.4" stroke-linejoin="round"/>
<polygon points="1871.9,1406.7 1890.6,1416 1912,1397.2 1893.2,1388" fill="#a2f655" stroke="#39561e" stroke-width="2.4" stroke-linejoin="round"/>
<polygon points="1952.3,1387.7 1971.7,1397 1992.8,1378.2 1973.5,1369.1" fill="#ebf85a" stroke="#52571f" stroke-width="2.4" stroke-linejoin="round"/>
<polygon points="1992.8,1378.2 2012.5,1387.4 2033.5,1368.6 2013.9,1359.6" fill="#f1e95a" stroke="#54511f" stroke-width="2.4" stroke-linejoin="round"/>
<polygon points="1534.6,1499.2 1551,1509 1573.5,1490.1 1557,1480.5" fill="#00fae5" stroke="#005750" stroke-width="2.4" stroke-linejoin="round"/>
<polygon points="1612.5,1481 1629.4,1490.7 1651.7,1471.9 1634.7,1462.3" fill="#00f5a6" stroke="#00563a" stroke-width="2.4" stroke-linejoin="round"/>
<polygon points="1691.1,1462.7 1708.6,1472.3 1730.6,1453.4 1713.1,1443.9" fill="#0df273" stroke="#055528" stroke-width="2.4" stroke-linejoin="round"/>
<polygon points="1730.6,1453.4 1748.4,1463 1770.4,1444.1 1752.5,1434.7" fill="#25f369" stroke="#0d5525" stroke-width="2.4" stroke-linejoin="round"/>
<polygon points="1810.3,1434.8 1828.6,1444.3 1850.3,1425.4 1831.9,1416" fill="#57f555" stroke="#1e561e" stroke-width="2.4" stroke-linejoin="round"/>
<polygon points="1850.3,1425.4 1869,1434.9 1890.6,1416 1871.9,1406.7" fill="#75f551" stroke="#29561c" stroke-width="2.4" stroke-linejoin="round"/>
<polygon points="1890.6,1416 1909.6,1425.4 1931,1406.5 1912,1397.2" fill="#9af654" stroke="#36561d" stroke-width="2.4" stroke-linejoin="round"/>
<polygon points="1931,1406.5 1950.3,1415.9 1971.7,1397 1952.3,1387.7" fill="#bef757" stroke="#43561e" stroke-width="2.4" stroke-linejoin="round"/>
<polygon points="2012.5,1387.4 2032.3,1396.7 2053.4,1377.7 2033.5,1368.6" fill="#f0ec5a" stroke="#54531f" stroke-width="2.4" stroke-linejoin="round"/>
<polygon points="2053.4,1377.7 2073.6,1387 2094.6,1368 2074.4,1358.9" fill="#f6dd5a" stroke="#564e1f" stroke-width="2.4" stroke-linejoin="round"/>
<polygon points="1573.5,1490.1 1590.1,1499.9 1612.5,1481 1595.8,1471.4" fill="#00f7c5" stroke="#005745" stroke-width="2.4" stroke-linejoin="round"/>
<polygon points="1651.7,1471.9 1668.9,1481.5 1691.1,1462.7 1673.8,1453.1" fill="#00f387" stroke="#00552f" stroke-width="2.4" stroke-linejoin="round"/>
<polygon points="1770.4,1444.1 1788.4,1453.7 1810.3,1434.8 1792.1,1425.4" fill="#3ef45f" stroke="#165521" stroke-width="2.4" stroke-linejoin="round"/>
<polygon points="1971.7,1397 1991.2,1406.3 2012.5,1387.4 1992.8,1378.2" fill="#e3f859" stroke="#50571f" stroke-width="2.4" stroke-linejoin="round"/>
<polygon points="1869,1434.9 1887.9,1444.5 1909.6,1425.4 1890.6,1416" fill="#6cf551" stroke="#26561c" stroke-width="2.4" stroke-linejoin="round"/>
<polygon points="1551,1509 1567.6,1518.9 1590.1,1499.9 1573.5,1490.1" fill="#00faeb" stroke="#005752" stroke-width="2.4" stroke-linejoin="round"/>
<polygon points="1512,1518 1528.3,1528 1551,1509 1534.6,1499.2" fill="#00f6ef" stroke="#005654" stroke-width="2.4" stroke-linejoin="round"/>
<polygon points="1590.1,1499.9 1607,1509.7 1629.4,1490.7 1612.5,1481" fill="#00f8cd" stroke="#005748" stroke-width="2.4" stroke-linejoin="round"/>
<polygon points="1629.4,1490.7 1646.6,1500.6 1668.9,1481.5 1651.7,1471.9" fill="#00f6ae" stroke="#00563d" stroke-width="2.4" stroke-linejoin="round"/>
<polygon points="1708.6,1472.3 1726.3,1482.1 1748.4,1463 1730.6,1453.4" fill="#07f275" stroke="#025529" stroke-width="2.4" stroke-linejoin="round"/>
<polygon points="1748.4,1463 1766.4,1472.8 1788.4,1453.7 1770.4,1444.1" fill="#20f36b" stroke="#0b5526" stroke-width="2.4" stroke-linejoin="round"/>
<polygon points="1788.4,1453.7 1806.7,1463.4 1828.6,1444.3 1810.3,1434.8" fill="#38f462" stroke="#145522" stroke-width="2.4" stroke-linejoin="round"/>
<polygon points="1828.6,1444.3 1847.2,1454 1869,1434.9 1850.3,1425.4" fill="#51f458" stroke="#1c561f" stroke-width="2.4" stroke-linejoin="round"/>
<polygon points="1909.6,1425.4 1928.8,1435 1950.3,1415.9 1931,1406.5" fill="#91f653" stroke="#33561d" stroke-width="2.4" stroke-linejoin="round"/>
<polygon points="1950.3,1415.9 1969.8,1425.4 1991.2,1406.3 1971.7,1397" fill="#b6f756" stroke="#40561e" stroke-width="2.4" stroke-linejoin="round"/>
<polygon points="1991.2,1406.3 2011,1415.8 2032.3,1396.7 2012.5,1387.4" fill="#dbf859" stroke="#4d571f" stroke-width="2.4" stroke-linejoin="round"/>
<polygon points="2032.3,1396.7 2052.4,1406.1 2073.6,1387 2053.4,1377.7" fill="#eef05a" stroke="#53541f" stroke-width="2.4" stroke-linejoin="round"/>
<polygon points="2073.6,1387 2094,1396.4 2115.1,1377.3 2094.6,1368" fill="#f5e15a" stroke="#564f1f" stroke-width="2.4" stroke-linejoin="round"/>
<polygon points="1668.9,1481.5 1686.3,1491.3 1708.6,1472.3 1691.1,1462.7" fill="#00f48e" stroke="#005532" stroke-width="2.4" stroke-linejoin="round"/>
<polygon points="1567.6,1518.9 1584.3,1528.9 1607,1509.7 1590.1,1499.9" fill="#00f9ec" stroke="#005753" stroke-width="2.4" stroke-linejoin="round"/>
<polygon points="1766.4,1472.8 1784.7,1482.6 1806.7,1463.4 1788.4,1453.7" fill="#1af36e" stroke="#095526" stroke-width="2.4" stroke-linejoin="round"/>
<polygon points="1847.2,1454 1866.1,1463.7 1887.9,1444.5 1869,1434.9" fill="#4bf45a" stroke="#1a5520" stroke-width="2.4" stroke-linejoin="round"/>
<polygon points="1887.9,1444.5 1907,1454.2 1928.8,1435 1909.6,1425.4" fill="#64f550" stroke="#23561c" stroke-width="2.4" stroke-linejoin="round"/>
<polygon points="1969.8,1425.4 1989.5,1435 2011,1415.8 1991.2,1406.3" fill="#adf755" stroke="#3d561e" stroke-width="2.4" stroke-linejoin="round"/>
<polygon points="2094,1396.4 2114.7,1405.9 2135.8,1386.6 2115.1,1377.3" fill="#f3e45a" stroke="#55501f" stroke-width="2.4" stroke-linejoin="round"/>
<polygon points="1646.6,1500.6 1663.9,1510.5 1686.3,1491.3 1668.9,1481.5" fill="#00f6b5" stroke="#00563f" stroke-width="2.4" stroke-linejoin="round"/>
<polygon points="1489.2,1537 1505.4,1547.1 1528.3,1528 1512,1518" fill="#00f2f3" stroke="#005555" stroke-width="2.4" stroke-linejoin="round"/>
<polygon points="1528.3,1528 1544.8,1538 1567.6,1518.9 1551,1509" fill="#00f5f0" stroke="#005654" stroke-width="2.4" stroke-linejoin="round"/>
<polygon points="1607,1509.7 1624,1519.8 1646.6,1500.6 1629.4,1490.7" fill="#00f8d4" stroke="#00574a" stroke-width="2.4" stroke-linejoin="round"/>
<polygon points="1686.3,1491.3 1704,1501.3 1726.3,1482.1 1708.6,1472.3" fill="#00f496" stroke="#005534" stroke-width="2.4" stroke-linejoin="round"/>
<polygon points="1726.3,1482.1 1744.2,1492 1766.4,1472.8 1748.4,1463" fill="#01f278" stroke="#00552a" stroke-width="2.4" stroke-linejoin="round"/>
<polygon points="1806.7,1463.4 1825.3,1473.2 1847.2,1454 1828.6,1444.3" fill="#32f464" stroke="#125523" stroke-width="2.4" stroke-linejoin="round"/>
<polygon points="1928.8,1435 1948.2,1444.7 1969.8,1425.4 1950.3,1415.9" fill="#88f653" stroke="#30561d" stroke-width="2.4" stroke-linejoin="round"/>
<polygon points="2011,1415.8 2031.1,1425.4 2052.4,1406.1 2032.3,1396.7" fill="#d2f758" stroke="#4a571f" stroke-width="2.4" stroke-linejoin="round"/>
<polygon points="2052.4,1406.1 2072.8,1415.7 2094,1396.4 2073.6,1387" fill="#edf35a" stroke="#53551f" stroke-width="2.4" stroke-linejoin="round"/>
<polygon points="1584.3,1528.9 1601.3,1539.1 1624,1519.8 1607,1509.7" fill="#00f8ed" stroke="#005753" stroke-width="2.4" stroke-linejoin="round"/>
<polygon points="1466.3,1556.1 1482.4,1566.4 1505.4,1547.1 1489.2,1537" fill="#00edf8" stroke="#005357" stroke-width="2.4" stroke-linejoin="round"/>
<polygon points="1544.8,1538 1561.5,1548.3 1584.3,1528.9 1567.6,1518.9" fill="#00f4f1" stroke="#005654" stroke-width="2.4" stroke-linejoin="round"/>
<polygon points="1663.9,1510.5 1681.5,1520.6 1704,1501.3 1686.3,1491.3" fill="#00f7bd" stroke="#005642" stroke-width="2.4" stroke-linejoin="round"/>
<polygon points="1744.2,1492 1762.4,1502 1784.7,1482.6 1766.4,1472.8" fill="#00f27e" stroke="#00552c" stroke-width="2.4" stroke-linejoin="round"/>
<polygon points="1784.7,1482.6 1803.1,1492.6 1825.3,1473.2 1806.7,1463.4" fill="#14f370" stroke="#075527" stroke-width="2.4" stroke-linejoin="round"/>
<polygon points="1825.3,1473.2 1844,1483.1 1866.1,1463.7 1847.2,1454" fill="#2df366" stroke="#105524" stroke-width="2.4" stroke-linejoin="round"/>
<polygon points="1866.1,1463.7 1885.1,1473.6 1907,1454.2 1887.9,1444.5" fill="#45f45c" stroke="#185520" stroke-width="2.4" stroke-linejoin="round"/>
<polygon points="1907,1454.2 1926.4,1464.1 1948.2,1444.7 1928.8,1435" fill="#5ef553" stroke="#21561d" stroke-width="2.4" stroke-linejoin="round"/>
<polygon points="1948.2,1444.7 1967.9,1454.5 1989.5,1435 1969.8,1425.4" fill="#80f652" stroke="#2d561d" stroke-width="2.4" stroke-linejoin="round"/>
<polygon points="1989.5,1435 2009.6,1444.8 2031.1,1425.4 2011,1415.8" fill="#a4f655" stroke="#3a561e" stroke-width="2.4" stroke-linejoin="round"/>
<polygon points="2072.8,1415.7 2093.5,1425.3 2114.7,1405.9 2094,1396.4" fill="#ecf75a" stroke="#52561f" stroke-width="2.4" stroke-linejoin="round"/>
<polygon points="2114.7,1405.9 2135.7,1415.5 2156.8,1396.1 2135.8,1386.6" fill="#f2e85a" stroke="#55511f" stroke-width="2.4" stroke-linejoin="round"/>
<polygon points="1505.4,1547.1 1521.9,1557.4 1544.8,1538 1528.3,1528" fill="#00f1f4" stroke="#005455" stroke-width="2.4" stroke-linejoin="round"/>
<polygon points="1624,1519.8 1641.3,1529.9 1663.9,1510.5 1646.6,1500.6" fill="#00f9dc" stroke="#00574d" stroke-width="2.4" stroke-linejoin="round"/>
<polygon points="1704,1501.3 1721.9,1511.3 1744.2,1492 1726.3,1482.1" fill="#00f59d" stroke="#005637" stroke-width="2.4" stroke-linejoin="round"/>
<polygon points="2031.1,1425.4 2051.4,1435.1 2072.8,1415.7 2052.4,1406.1" fill="#c9f758" stroke="#47571f" stroke-width="2.4" stroke-linejoin="round"/>
<polygon points="1803.1,1492.6 1821.8,1502.7 1844,1483.1 1825.3,1473.2" fill="#0ef272" stroke="#055528" stroke-width="2.4" stroke-linejoin="round"/>
<polygon points="1926.4,1464.1 1946.1,1474 1967.9,1454.5 1948.2,1444.7" fill="#58f555" stroke="#1f561e" stroke-width="2.4" stroke-linejoin="round"/>
<polygon points="2135.7,1415.5 2156.9,1425.3 2178.1,1405.7 2156.8,1396.1" fill="#f0eb5a" stroke="#54521f" stroke-width="2.4" stroke-linejoin="round"/>
<polygon points="1601.3,1539.1 1618.5,1549.4 1641.3,1529.9 1624,1519.8" fill="#00f7ee" stroke="#005753" stroke-width="2.4" stroke-linejoin="round"/>
<polygon points="1443.1,1575.4 1459.2,1585.9 1482.4,1566.4 1466.3,1556.1" fill="#0ddffb" stroke="#044e58" stroke-width="2.4" stroke-linejoin="round"/>
<polygon points="1482.4,1566.4 1498.7,1576.9 1521.9,1557.4 1505.4,1547.1" fill="#00ecf9" stroke="#005357" stroke-width="2.4" stroke-linejoin="round"/>
<polygon points="1521.9,1557.4 1538.5,1567.8 1561.5,1548.3 1544.8,1538" fill="#00f0f5" stroke="#005456" stroke-width="2.4" stroke-linejoin="round"/>
<polygon points="1561.5,1548.3 1578.4,1558.6 1601.3,1539.1 1584.3,1528.9" fill="#00f4f1" stroke="#005555" stroke-width="2.4" stroke-linejoin="round"/>
<polygon points="1641.3,1529.9 1658.8,1540.2 1681.5,1520.6 1663.9,1510.5" fill="#00f9e3" stroke="#005750" stroke-width="2.4" stroke-linejoin="round"/>
<polygon points="1681.5,1520.6 1699.3,1530.9 1721.9,1511.3 1704,1501.3" fill="#00f7c4" stroke="#005745" stroke-width="2.4" stroke-linejoin="round"/>
<polygon points="1721.9,1511.3 1740,1521.5 1762.4,1502 1744.2,1492" fill="#00f5a5" stroke="#00563a" stroke-width="2.4" stroke-linejoin="round"/>
<polygon points="1762.4,1502 1780.8,1512.1 1803.1,1492.6 1784.7,1482.6" fill="#00f385" stroke="#00552f" stroke-width="2.4" stroke-linejoin="round"/>
<polygon points="1844,1483.1 1863.1,1493.2 1885.1,1473.6 1866.1,1463.7" fill="#27f369" stroke="#0e5525" stroke-width="2.4" stroke-linejoin="round"/>
<polygon points="1885.1,1473.6 1904.5,1483.6 1926.4,1464.1 1907,1454.2" fill="#3ff45f" stroke="#165521" stroke-width="2.4" stroke-linejoin="round"/>
<polygon points="1967.9,1454.5 1987.8,1464.4 2009.6,1444.8 1989.5,1435" fill="#77f551" stroke="#2a561c" stroke-width="2.4" stroke-linejoin="round"/>
<polygon points="2009.6,1444.8 2029.8,1454.7 2051.4,1435.1 2031.1,1425.4" fill="#9cf654" stroke="#37561d" stroke-width="2.4" stroke-linejoin="round"/>
<polygon points="2051.4,1435.1 2072,1444.9 2093.5,1425.3 2072.8,1415.7" fill="#c1f757" stroke="#43561e" stroke-width="2.4" stroke-linejoin="round"/>
<polygon points="2093.5,1425.3 2114.4,1435.1 2135.7,1415.5 2114.7,1405.9" fill="#e6f85a" stroke="#50571f" stroke-width="2.4" stroke-linejoin="round"/>
<polygon points="1618.5,1549.4 1636,1559.8 1658.8,1540.2 1641.3,1529.9" fill="#00f6ef" stroke="#005654" stroke-width="2.4" stroke-linejoin="round"/>
<polygon points="1699.3,1530.9 1717.3,1541.2 1740,1521.5 1721.9,1511.3" fill="#00f8cb" stroke="#005747" stroke-width="2.4" stroke-linejoin="round"/>
<polygon points="1780.8,1512.1 1799.5,1522.4 1821.8,1502.7 1803.1,1492.6" fill="#00f38d" stroke="#005531" stroke-width="2.4" stroke-linejoin="round"/>
<polygon points="1821.8,1502.7 1840.8,1512.9 1863.1,1493.2 1844,1483.1" fill="#08f275" stroke="#035529" stroke-width="2.4" stroke-linejoin="round"/>
<polygon points="1904.5,1483.6 1924,1493.8 1946.1,1474 1926.4,1464.1" fill="#3af461" stroke="#145522" stroke-width="2.4" stroke-linejoin="round"/>
<polygon points="1946.1,1474 1966,1484.2 1987.8,1464.4 1967.9,1454.5" fill="#52f457" stroke="#1d561f" stroke-width="2.4" stroke-linejoin="round"/>
<polygon points="2029.8,1454.7 2050.4,1464.7 2072,1444.9 2051.4,1435.1" fill="#93f653" stroke="#33561d" stroke-width="2.4" stroke-linejoin="round"/>
<polygon points="2114.4,1435.1 2135.6,1445.1 2156.9,1425.3 2135.7,1415.5" fill="#ddf859" stroke="#4d571f" stroke-width="2.4" stroke-linejoin="round"/>
<polygon points="2156.9,1425.3 2178.5,1435.2 2199.7,1415.4 2178.1,1405.7" fill="#efef5a" stroke="#54541f" stroke-width="2.4" stroke-linejoin="round"/>
<polygon points="1498.7,1576.9 1515.3,1587.4 1538.5,1567.8 1521.9,1557.4" fill="#00ebfa" stroke="#005257" stroke-width="2.4" stroke-linejoin="round"/>
<polygon points="1578.4,1558.6 1595.6,1569.1 1618.5,1549.4 1601.3,1539.1" fill="#00f3f2" stroke="#005555" stroke-width="2.4" stroke-linejoin="round"/>
<polygon points="1419.8,1594.9 1435.7,1605.5 1459.2,1585.9 1443.1,1575.4" fill="#24c9fd" stroke="#0d4658" stroke-width="2.4" stroke-linejoin="round"/>
<polygon points="1459.2,1585.9 1475.4,1596.5 1498.7,1576.9 1482.4,1566.4" fill="#11dbfb" stroke="#064d58" stroke-width="2.4" stroke-linejoin="round"/>
<polygon points="1538.5,1567.8 1555.3,1578.3 1578.4,1558.6 1561.5,1548.3" fill="#00eff6" stroke="#005456" stroke-width="2.4" stroke-linejoin="round"/>
<polygon points="1658.8,1540.2 1676.6,1550.6 1699.3,1530.9 1681.5,1520.6" fill="#00faeb" stroke="#005752" stroke-width="2.4" stroke-linejoin="round"/>
<polygon points="1740,1521.5 1758.3,1531.8 1780.8,1512.1 1762.4,1502" fill="#00f6ac" stroke="#00563c" stroke-width="2.4" stroke-linejoin="round"/>
<polygon points="1863.1,1493.2 1882.3,1503.4 1904.5,1483.6 1885.1,1473.6" fill="#21f36b" stroke="#0c5525" stroke-width="2.4" stroke-linejoin="round"/>
<polygon points="1987.8,1464.4 2008.1,1474.5 2029.8,1454.7 2009.6,1444.8" fill="#6ef551" stroke="#27561c" stroke-width="2.4" stroke-linejoin="round"/>
<polygon points="2072,1444.9 2092.9,1454.9 2114.4,1435.1 2093.5,1425.3" fill="#b8f756" stroke="#40561e" stroke-width="2.4" stroke-linejoin="round"/>
<polygon points="1396.2,1614.5 1412.1,1625.3 1435.7,1605.5 1419.8,1594.9" fill="#3cb3fe" stroke="#153f59" stroke-width="2.4" stroke-linejoin="round"/>
<polygon points="1435.7,1605.5 1451.9,1616.3 1475.4,1596.5 1459.2,1585.9" fill="#29c5fd" stroke="#0e4559" stroke-width="2.4" stroke-linejoin="round"/>
<polygon points="1475.4,1596.5 1491.9,1607.2 1515.3,1587.4 1498.7,1576.9" fill="#16d7fc" stroke="#084b58" stroke-width="2.4" stroke-linejoin="round"/>
<polygon points="1515.3,1587.4 1532.1,1598.1 1555.3,1578.3 1538.5,1567.8" fill="#03e8fa" stroke="#015158" stroke-width="2.4" stroke-linejoin="round"/>
<polygon points="1555.3,1578.3 1572.4,1588.9 1595.6,1569.1 1578.4,1558.6" fill="#00eef7" stroke="#005356" stroke-width="2.4" stroke-linejoin="round"/>
<polygon points="1595.6,1569.1 1612.9,1579.7 1636,1559.8 1618.5,1549.4" fill="#00f2f3" stroke="#005555" stroke-width="2.4" stroke-linejoin="round"/>
<polygon points="1636,1559.8 1653.6,1570.4 1676.6,1550.6 1658.8,1540.2" fill="#00f5f0" stroke="#005654" stroke-width="2.4" stroke-linejoin="round"/>
<polygon points="1676.6,1550.6 1694.5,1561.1 1717.3,1541.2 1699.3,1530.9" fill="#00f9ec" stroke="#005753" stroke-width="2.4" stroke-linejoin="round"/>
<polygon points="1717.3,1541.2 1735.6,1551.7 1758.3,1531.8 1740,1521.5" fill="#00f8d3" stroke="#00574a" stroke-width="2.4" stroke-linejoin="round"/>
<polygon points="1758.3,1531.8 1776.9,1542.3 1799.5,1522.4 1780.8,1512.1" fill="#00f6b4" stroke="#00563f" stroke-width="2.4" stroke-linejoin="round"/>
<polygon points="1799.5,1522.4 1818.3,1532.8 1840.8,1512.9 1821.8,1502.7" fill="#00f494" stroke="#005534" stroke-width="2.4" stroke-linejoin="round"/>
<polygon points="1840.8,1512.9 1860,1523.3 1882.3,1503.4 1863.1,1493.2" fill="#03f277" stroke="#01552a" stroke-width="2.4" stroke-linejoin="round"/>
<polygon points="1882.3,1503.4 1901.8,1513.7 1924,1493.8 1904.5,1483.6" fill="#1bf36d" stroke="#095526" stroke-width="2.4" stroke-linejoin="round"/>
<polygon points="1924,1493.8 1943.9,1504.1 1966,1484.2 1946.1,1474" fill="#34f463" stroke="#125523" stroke-width="2.4" stroke-linejoin="round"/>
<polygon points="1966,1484.2 1986.1,1494.4 2008.1,1474.5 1987.8,1464.4" fill="#4cf459" stroke="#1b561f" stroke-width="2.4" stroke-linejoin="round"/>
<polygon points="2008.1,1474.5 2028.5,1484.7 2050.4,1464.7 2029.8,1454.7" fill="#65f550" stroke="#24561c" stroke-width="2.4" stroke-linejoin="round"/>
<polygon points="2050.4,1464.7 2071.2,1474.9 2092.9,1454.9 2072,1444.9" fill="#8af653" stroke="#30561d" stroke-width="2.4" stroke-linejoin="round"/>
<polygon points="2092.9,1454.9 2114,1465 2135.6,1445.1 2114.4,1435.1" fill="#aff756" stroke="#3d561e" stroke-width="2.4" stroke-linejoin="round"/>
<polygon points="2135.6,1445.1 2157,1455.1 2178.5,1435.2 2156.9,1425.3" fill="#d5f858" stroke="#4a571f" stroke-width="2.4" stroke-linejoin="round"/>
<polygon points="2178.5,1435.2 2200.3,1445.2 2221.6,1425.2 2199.7,1415.4" fill="#edf25a" stroke="#53551f" stroke-width="2.4" stroke-linejoin="round"/>
<polygon points="1653.6,1570.4 1671.5,1581.1 1694.5,1561.1 1676.6,1550.6" fill="#00f5f0" stroke="#005654" stroke-width="2.4" stroke-linejoin="round"/>
<polygon points="1735.6,1551.7 1754.1,1562.3 1776.9,1542.3 1758.3,1531.8" fill="#00f9da" stroke="#00574c" stroke-width="2.4" stroke-linejoin="round"/>
<polygon points="1860,1523.3 1879.4,1533.8 1901.8,1513.7 1882.3,1503.4" fill="#00f27c" stroke="#00552b" stroke-width="2.4" stroke-linejoin="round"/>
<polygon points="1986.1,1494.4 2006.5,1504.8 2028.5,1484.7 2008.1,1474.5" fill="#47f45c" stroke="#195520" stroke-width="2.4" stroke-linejoin="round"/>
<polygon points="2071.2,1474.9 2092.3,1485.2 2114,1465 2092.9,1454.9" fill="#82f652" stroke="#2d561d" stroke-width="2.4" stroke-linejoin="round"/>
<polygon points="1451.9,1616.3 1468.3,1627.2 1491.9,1607.2 1475.4,1596.5" fill="#2dc1fd" stroke="#104359" stroke-width="2.4" stroke-linejoin="round"/>
<polygon points="1532.1,1598.1 1549.1,1608.9 1572.4,1588.9 1555.3,1578.3" fill="#07e4fb" stroke="#035058" stroke-width="2.4" stroke-linejoin="round"/>
<polygon points="1412.1,1625.3 1428.2,1636.3 1451.9,1616.3 1435.7,1605.5" fill="#40afff" stroke="#173d59" stroke-width="2.4" stroke-linejoin="round"/>
<polygon points="1491.9,1607.2 1508.6,1618.1 1532.1,1598.1 1515.3,1587.4" fill="#1ad2fc" stroke="#094a58" stroke-width="2.4" stroke-linejoin="round"/>
<polygon points="1572.4,1588.9 1589.7,1599.7 1612.9,1579.7 1595.6,1569.1" fill="#00edf8" stroke="#005357" stroke-width="2.4" stroke-linejoin="round"/>
<polygon points="1612.9,1579.7 1630.5,1590.4 1653.6,1570.4 1636,1559.8" fill="#00f1f4" stroke="#005455" stroke-width="2.4" stroke-linejoin="round"/>
<polygon points="1694.5,1561.1 1712.7,1571.8 1735.6,1551.7 1717.3,1541.2" fill="#00f8ed" stroke="#005753" stroke-width="2.4" stroke-linejoin="round"/>
<polygon points="1776.9,1542.3 1795.7,1552.9 1818.3,1532.8 1799.5,1522.4" fill="#00f7bb" stroke="#005641" stroke-width="2.4" stroke-linejoin="round"/>
<polygon points="1818.3,1532.8 1837.5,1543.4 1860,1523.3 1840.8,1512.9" fill="#00f49c" stroke="#005636" stroke-width="2.4" stroke-linejoin="round"/>
<polygon points="1901.8,1513.7 1921.6,1524.2 1943.9,1504.1 1924,1493.8" fill="#15f36f" stroke="#075527" stroke-width="2.4" stroke-linejoin="round"/>
<polygon points="1943.9,1504.1 1964,1514.5 1986.1,1494.4 1966,1484.2" fill="#2ef366" stroke="#105524" stroke-width="2.4" stroke-linejoin="round"/>
<polygon points="2028.5,1484.7 2049.3,1495 2071.2,1474.9 2050.4,1464.7" fill="#5ff552" stroke="#21561d" stroke-width="2.4" stroke-linejoin="round"/>
<polygon points="2114,1465 2135.4,1475.3 2157,1455.1 2135.6,1445.1" fill="#a7f655" stroke="#3a561e" stroke-width="2.4" stroke-linejoin="round"/>
<polygon points="2157,1455.1 2178.8,1465.3 2200.3,1445.2 2178.5,1435.2" fill="#ccf758" stroke="#47571f" stroke-width="2.4" stroke-linejoin="round"/>
<polygon points="1630.5,1590.4 1648.3,1601.3 1671.5,1581.1 1653.6,1570.4" fill="#00f0f5" stroke="#005456" stroke-width="2.4" stroke-linejoin="round"/>
<polygon points="1671.5,1581.1 1689.7,1592 1712.7,1571.8 1694.5,1561.1" fill="#00f4f1" stroke="#005554" stroke-width="2.4" stroke-linejoin="round"/>
<polygon points="1712.7,1571.8 1731.2,1582.6 1754.1,1562.3 1735.6,1551.7" fill="#00f7ee" stroke="#005753" stroke-width="2.4" stroke-linejoin="round"/>
<polygon points="1754.1,1562.3 1772.9,1573.1 1795.7,1552.9 1776.9,1542.3" fill="#00f9e2" stroke="#00574f" stroke-width="2.4" stroke-linejoin="round"/>
<polygon points="1837.5,1543.4 1856.9,1554 1879.4,1533.8 1860,1523.3" fill="#00f5a3" stroke="#005639" stroke-width="2.4" stroke-linejoin="round"/>
<polygon points="1879.4,1533.8 1899.2,1544.4 1921.6,1524.2 1901.8,1513.7" fill="#00f384" stroke="#00552e" stroke-width="2.4" stroke-linejoin="round"/>
<polygon points="1964,1514.5 1984.3,1525.1 2006.5,1504.8 1986.1,1494.4" fill="#28f368" stroke="#0e5524" stroke-width="2.4" stroke-linejoin="round"/>
<polygon points="2006.5,1504.8 2027.2,1515.3 2049.3,1495 2028.5,1484.7" fill="#41f45e" stroke="#175521" stroke-width="2.4" stroke-linejoin="round"/>
<polygon points="2049.3,1495 2070.3,1505.5 2092.3,1485.2 2071.2,1474.9" fill="#59f554" stroke="#1f561d" stroke-width="2.4" stroke-linejoin="round"/>
<polygon points="2092.3,1485.2 2113.6,1495.6 2135.4,1475.3 2114,1465" fill="#79f552" stroke="#2a561d" stroke-width="2.4" stroke-linejoin="round"/>
<polygon points="1428.2,1636.3 1444.5,1647.3 1468.3,1627.2 1451.9,1616.3" fill="#45abff" stroke="#183c59" stroke-width="2.4" stroke-linejoin="round"/>
<polygon points="1468.3,1627.2 1484.9,1638.2 1508.6,1618.1 1491.9,1607.2" fill="#32bdfe" stroke="#124259" stroke-width="2.4" stroke-linejoin="round"/>
<polygon points="1508.6,1618.1 1525.5,1629.1 1549.1,1608.9 1532.1,1598.1" fill="#1fcefc" stroke="#0b4858" stroke-width="2.4" stroke-linejoin="round"/>
<polygon points="1549.1,1608.9 1566.3,1619.9 1589.7,1599.7 1572.4,1588.9" fill="#0ce0fb" stroke="#044e58" stroke-width="2.4" stroke-linejoin="round"/>
<polygon points="1589.7,1599.7 1607.2,1610.6 1630.5,1590.4 1612.9,1579.7" fill="#00ecf9" stroke="#005357" stroke-width="2.4" stroke-linejoin="round"/>
<polygon points="1795.7,1552.9 1814.8,1563.6 1837.5,1543.4 1818.3,1532.8" fill="#00f7c2" stroke="#005744" stroke-width="2.4" stroke-linejoin="round"/>
<polygon points="1921.6,1524.2 1941.6,1534.8 1964,1514.5 1943.9,1504.1" fill="#0ff272" stroke="#055528" stroke-width="2.4" stroke-linejoin="round"/>
<polygon points="2135.4,1475.3 2157.1,1485.6 2178.8,1465.3 2157,1455.1" fill="#9ef654" stroke="#37561e" stroke-width="2.4" stroke-linejoin="round"/>
<polygon points="1689.7,1592 1708,1603 1731.2,1582.6 1712.7,1571.8" fill="#00f3f2" stroke="#005555" stroke-width="2.4" stroke-linejoin="round"/>
<polygon points="2027.2,1515.3 2048.2,1525.9 2070.3,1505.5 2049.3,1495" fill="#3bf460" stroke="#155522" stroke-width="2.4" stroke-linejoin="round"/>
<polygon points="1484.9,1638.2 1501.7,1649.4 1525.5,1629.1 1508.6,1618.1" fill="#37b8fe" stroke="#134159" stroke-width="2.4" stroke-linejoin="round"/>
<polygon points="1607.2,1610.6 1624.9,1621.7 1648.3,1601.3 1630.5,1590.4" fill="#00ebfa" stroke="#005257" stroke-width="2.4" stroke-linejoin="round"/>
<polygon points="1444.5,1647.3 1461.1,1658.6 1484.9,1638.2 1468.3,1627.2" fill="#48a7ff" stroke="#193b59" stroke-width="2.4" stroke-linejoin="round"/>
<polygon points="1525.5,1629.1 1542.6,1640.2 1566.3,1619.9 1549.1,1608.9" fill="#24cafd" stroke="#0c4758" stroke-width="2.4" stroke-linejoin="round"/>
<polygon points="1648.3,1601.3 1666.4,1612.4 1689.7,1592 1671.5,1581.1" fill="#00eff6" stroke="#005456" stroke-width="2.4" stroke-linejoin="round"/>
<polygon points="1731.2,1582.6 1749.8,1593.5 1772.9,1573.1 1754.1,1562.3" fill="#00f7ee" stroke="#005653" stroke-width="2.4" stroke-linejoin="round"/>
<polygon points="1772.9,1573.1 1791.9,1584 1814.8,1563.6 1795.7,1552.9" fill="#00fae9" stroke="#005752" stroke-width="2.4" stroke-linejoin="round"/>
<polygon points="1814.8,1563.6 1834.1,1574.5 1856.9,1554 1837.5,1543.4" fill="#00f8ca" stroke="#005747" stroke-width="2.4" stroke-linejoin="round"/>
<polygon points="1856.9,1554 1876.5,1564.9 1899.2,1544.4 1879.4,1533.8" fill="#00f6ab" stroke="#00563c" stroke-width="2.4" stroke-linejoin="round"/>
<polygon points="1899.2,1544.4 1919.1,1555.2 1941.6,1534.8 1921.6,1524.2" fill="#00f38b" stroke="#005531" stroke-width="2.4" stroke-linejoin="round"/>
<polygon points="1941.6,1534.8 1962,1545.5 1984.3,1525.1 1964,1514.5" fill="#0af274" stroke="#035529" stroke-width="2.4" stroke-linejoin="round"/>
<polygon points="1984.3,1525.1 2005,1535.8 2027.2,1515.3 2006.5,1504.8" fill="#22f36a" stroke="#0c5525" stroke-width="2.4" stroke-linejoin="round"/>
<polygon points="2070.3,1505.5 2091.6,1516.1 2113.6,1495.6 2092.3,1485.2" fill="#54f557" stroke="#1d561e" stroke-width="2.4" stroke-linejoin="round"/>
<polygon points="2113.6,1495.6 2135.3,1506.1 2157.1,1485.6 2135.4,1475.3" fill="#70f551" stroke="#27561c" stroke-width="2.4" stroke-linejoin="round"/>
<polygon points="1566.3,1619.9 1583.7,1631 1607.2,1610.6 1589.7,1599.7" fill="#11dcfb" stroke="#064d58" stroke-width="2.4" stroke-linejoin="round"/>
<polygon points="1666.4,1612.4 1684.7,1623.5 1708,1603 1689.7,1592" fill="#00eef7" stroke="#005356" stroke-width="2.4" stroke-linejoin="round"/>
<polygon points="1708,1603 1726.6,1614.1 1749.8,1593.5 1731.2,1582.6" fill="#00f2f3" stroke="#005555" stroke-width="2.4" stroke-linejoin="round"/>
<polygon points="1791.9,1584 1811.1,1595.1 1834.1,1574.5 1814.8,1563.6" fill="#00f9ec" stroke="#005752" stroke-width="2.4" stroke-linejoin="round"/>
<polygon points="1919.1,1555.2 1939.4,1566.2 1962,1545.5 1941.6,1534.8" fill="#00f493" stroke="#005533" stroke-width="2.4" stroke-linejoin="round"/>
<polygon points="2005,1535.8 2025.9,1546.6 2048.2,1525.9 2027.2,1515.3" fill="#1df36d" stroke="#0a5526" stroke-width="2.4" stroke-linejoin="round"/>
<polygon points="2048.2,1525.9 2069.5,1536.7 2091.6,1516.1 2070.3,1505.5" fill="#35f463" stroke="#135523" stroke-width="2.4" stroke-linejoin="round"/>
<polygon points="1583.7,1631 1601.3,1642.2 1624.9,1621.7 1607.2,1610.6" fill="#15d7fc" stroke="#074b58" stroke-width="2.4" stroke-linejoin="round"/>
<polygon points="1461.1,1658.6 1477.8,1669.9 1501.7,1649.4 1484.9,1638.2" fill="#4aa4ff" stroke="#1a3959" stroke-width="2.4" stroke-linejoin="round"/>
<polygon points="1501.7,1649.4 1518.8,1660.8 1542.6,1640.2 1525.5,1629.1" fill="#3bb4fe" stroke="#153f59" stroke-width="2.4" stroke-linejoin="round"/>
<polygon points="1624.9,1621.7 1642.9,1632.9 1666.4,1612.4 1648.3,1601.3" fill="#02e9fa" stroke="#015258" stroke-width="2.4" stroke-linejoin="round"/>
<polygon points="1542.6,1640.2 1560,1651.5 1583.7,1631 1566.3,1619.9" fill="#28c6fd" stroke="#0e4559" stroke-width="2.4" stroke-linejoin="round"/>
<polygon points="1749.8,1593.5 1768.8,1604.6 1791.9,1584 1772.9,1573.1" fill="#00f6ef" stroke="#005654" stroke-width="2.4" stroke-linejoin="round"/>
<polygon points="1834.1,1574.5 1853.7,1585.5 1876.5,1564.9 1856.9,1554" fill="#00f8d1" stroke="#005749" stroke-width="2.4" stroke-linejoin="round"/>
<polygon points="1876.5,1564.9 1896.4,1575.8 1919.1,1555.2 1899.2,1544.4" fill="#00f6b2" stroke="#00563e" stroke-width="2.4" stroke-linejoin="round"/>
<polygon points="1962,1545.5 1982.5,1556.4 2005,1535.8 1984.3,1525.1" fill="#04f276" stroke="#015529" stroke-width="2.4" stroke-linejoin="round"/>
<polygon points="2091.6,1516.1 2113.2,1526.8 2135.3,1506.1 2113.6,1495.6" fill="#4ef459" stroke="#1b561f" stroke-width="2.4" stroke-linejoin="round"/>
<polygon points="1642.9,1632.9 1661.1,1644.3 1684.7,1623.5 1666.4,1612.4" fill="#07e5fa" stroke="#025058" stroke-width="2.4" stroke-linejoin="round"/>
<polygon points="1477.8,1669.9 1494.7,1681.5 1518.8,1660.8 1501.7,1649.4" fill="#4da0ff" stroke="#1b3859" stroke-width="2.4" stroke-linejoin="round"/>
<polygon points="1560,1651.5 1577.5,1663 1601.3,1642.2 1583.7,1631" fill="#2dc1fd" stroke="#104459" stroke-width="2.4" stroke-linejoin="round"/>
<polygon points="1601.3,1642.2 1619.2,1653.7 1642.9,1632.9 1624.9,1621.7" fill="#1ad3fc" stroke="#094a58" stroke-width="2.4" stroke-linejoin="round"/>
<polygon points="1684.7,1623.5 1703.2,1634.9 1726.6,1614.1 1708,1603" fill="#00edf8" stroke="#005357" stroke-width="2.4" stroke-linejoin="round"/>
<polygon points="1726.6,1614.1 1745.5,1625.4 1768.8,1604.6 1749.8,1593.5" fill="#00f1f4" stroke="#005455" stroke-width="2.4" stroke-linejoin="round"/>
<polygon points="1768.8,1604.6 1787.9,1615.9 1811.1,1595.1 1791.9,1584" fill="#00f5f0" stroke="#005654" stroke-width="2.4" stroke-linejoin="round"/>
<polygon points="1811.1,1595.1 1830.6,1606.3 1853.7,1585.5 1834.1,1574.5" fill="#00f8ed" stroke="#005753" stroke-width="2.4" stroke-linejoin="round"/>
<polygon points="1896.4,1575.8 1916.6,1587 1939.4,1566.2 1919.1,1555.2" fill="#00f7b9" stroke="#005641" stroke-width="2.4" stroke-linejoin="round"/>
<polygon points="1939.4,1566.2 1959.9,1577.2 1982.5,1556.4 1962,1545.5" fill="#00f49a" stroke="#005636" stroke-width="2.4" stroke-linejoin="round"/>
<polygon points="1982.5,1556.4 2003.4,1567.4 2025.9,1546.6 2005,1535.8" fill="#00f27a" stroke="#00552b" stroke-width="2.4" stroke-linejoin="round"/>
<polygon points="2025.9,1546.6 2047.1,1557.6 2069.5,1536.7 2048.2,1525.9" fill="#17f36f" stroke="#085527" stroke-width="2.4" stroke-linejoin="round"/>
<polygon points="2069.5,1536.7 2091,1547.7 2113.2,1526.8 2091.6,1516.1" fill="#2ff365" stroke="#115523" stroke-width="2.4" stroke-linejoin="round"/>
<polygon points="1518.8,1660.8 1536,1672.2 1560,1651.5 1542.6,1640.2" fill="#40b0ff" stroke="#163e59" stroke-width="2.4" stroke-linejoin="round"/>
<polygon points="1853.7,1585.5 1873.5,1596.7 1896.4,1575.8 1876.5,1564.9" fill="#00f9d9" stroke="#00574c" stroke-width="2.4" stroke-linejoin="round"/>
<polygon points="1619.2,1653.7 1637.4,1665.2 1661.1,1644.3 1642.9,1632.9" fill="#1ecffc" stroke="#0b4858" stroke-width="2.4" stroke-linejoin="round"/>
<polygon points="1745.5,1625.4 1764.6,1636.8 1787.9,1615.9 1768.8,1604.6" fill="#00f0f5" stroke="#005456" stroke-width="2.4" stroke-linejoin="round"/>
<polygon points="1959.9,1577.2 1980.7,1588.5 2003.4,1567.4 1982.5,1556.4" fill="#00f5a1" stroke="#005638" stroke-width="2.4" stroke-linejoin="round"/>
<polygon points="1536,1672.2 1553.5,1683.9 1577.5,1663 1560,1651.5" fill="#44acff" stroke="#183c59" stroke-width="2.4" stroke-linejoin="round"/>
<polygon points="1494.7,1681.5 1511.9,1693.1 1536,1672.2 1518.8,1660.8" fill="#4f9dff" stroke="#1c3759" stroke-width="2.4" stroke-linejoin="round"/>
<polygon points="1577.5,1663 1595.4,1674.6 1619.2,1653.7 1601.3,1642.2" fill="#31bdfe" stroke="#114259" stroke-width="2.4" stroke-linejoin="round"/>
<polygon points="1661.1,1644.3 1679.6,1655.8 1703.2,1634.9 1684.7,1623.5" fill="#0be1fb" stroke="#044f58" stroke-width="2.4" stroke-linejoin="round"/>
<polygon points="1703.2,1634.9 1722,1646.3 1745.5,1625.4 1726.6,1614.1" fill="#00edf8" stroke="#005357" stroke-width="2.4" stroke-linejoin="round"/>
<polygon points="1787.9,1615.9 1807.4,1627.3 1830.6,1606.3 1811.1,1595.1" fill="#00f4f1" stroke="#005554" stroke-width="2.4" stroke-linejoin="round"/>
<polygon points="1830.6,1606.3 1850.4,1617.6 1873.5,1596.7 1853.7,1585.5" fill="#00f8ed" stroke="#005753" stroke-width="2.4" stroke-linejoin="round"/>
<polygon points="1873.5,1596.7 1893.6,1608 1916.6,1587 1896.4,1575.8" fill="#00f9e0" stroke="#00574f" stroke-width="2.4" stroke-linejoin="round"/>
<polygon points="1916.6,1587 1937,1598.2 1959.9,1577.2 1939.4,1566.2" fill="#00f7c1" stroke="#005644" stroke-width="2.4" stroke-linejoin="round"/>
<polygon points="2003.4,1567.4 2024.5,1578.6 2047.1,1557.6 2025.9,1546.6" fill="#00f382" stroke="#00552d" stroke-width="2.4" stroke-linejoin="round"/>
<polygon points="2047.1,1557.6 2068.6,1568.7 2091,1547.7 2069.5,1536.7" fill="#11f371" stroke="#065528" stroke-width="2.4" stroke-linejoin="round"/>
<polygon points="1511.9,1693.1 1529.3,1705 1553.5,1683.9 1536,1672.2" fill="#529aff" stroke="#1d3659" stroke-width="2.4" stroke-linejoin="round"/>
<polygon points="1595.4,1674.6 1613.4,1686.3 1637.4,1665.2 1619.2,1653.7" fill="#36b9fe" stroke="#134159" stroke-width="2.4" stroke-linejoin="round"/>
<polygon points="1637.4,1665.2 1655.7,1676.9 1679.6,1655.8 1661.1,1644.3" fill="#23cbfc" stroke="#0c4758" stroke-width="2.4" stroke-linejoin="round"/>
<polygon points="1722,1646.3 1741,1658 1764.6,1636.8 1745.5,1625.4" fill="#00ecf9" stroke="#005257" stroke-width="2.4" stroke-linejoin="round"/>
<polygon points="1764.6,1636.8 1783.9,1648.4 1807.4,1627.3 1787.9,1615.9" fill="#00eff6" stroke="#005456" stroke-width="2.4" stroke-linejoin="round"/>
<polygon points="1850.4,1617.6 1870.4,1629.2 1893.6,1608 1873.5,1596.7" fill="#00f7ee" stroke="#005653" stroke-width="2.4" stroke-linejoin="round"/>
<polygon points="1937,1598.2 1957.8,1609.7 1980.7,1588.5 1959.9,1577.2" fill="#00f8c8" stroke="#005746" stroke-width="2.4" stroke-linejoin="round"/>
<polygon points="1980.7,1588.5 2001.7,1599.8 2024.5,1578.6 2003.4,1567.4" fill="#00f5a9" stroke="#00563b" stroke-width="2.4" stroke-linejoin="round"/>
<polygon points="1553.5,1683.9 1571.3,1695.7 1595.4,1674.6 1577.5,1663" fill="#48a8ff" stroke="#193b59" stroke-width="2.4" stroke-linejoin="round"/>
<polygon points="1679.6,1655.8 1698.3,1667.5 1722,1646.3 1703.2,1634.9" fill="#10dcfb" stroke="#064d58" stroke-width="2.4" stroke-linejoin="round"/>
<polygon points="1807.4,1627.3 1827.1,1638.8 1850.4,1617.6 1830.6,1606.3" fill="#00f3f2" stroke="#005555" stroke-width="2.4" stroke-linejoin="round"/>
<polygon points="1893.6,1608 1914,1619.4 1937,1598.2 1916.6,1587" fill="#00fae8" stroke="#005751" stroke-width="2.4" stroke-linejoin="round"/>
<polygon points="2024.5,1578.6 2045.9,1590 2068.6,1568.7 2047.1,1557.6" fill="#00f389" stroke="#005530" stroke-width="2.4" stroke-linejoin="round"/>
<polygon points="1571.3,1695.7 1589.2,1707.6 1613.4,1686.3 1595.4,1674.6" fill="#4aa4ff" stroke="#1a3a59" stroke-width="2.4" stroke-linejoin="round"/>
<polygon points="1529.3,1705 1547,1716.9 1571.3,1695.7 1553.5,1683.9" fill="#5496ff" stroke="#1d3559" stroke-width="2.4" stroke-linejoin="round"/>
<polygon points="1613.4,1686.3 1631.7,1698.2 1655.7,1676.9 1637.4,1665.2" fill="#3bb5fe" stroke="#143f59" stroke-width="2.4" stroke-linejoin="round"/>
<polygon points="1655.7,1676.9 1674.4,1688.8 1698.3,1667.5 1679.6,1655.8" fill="#27c6fd" stroke="#0e4558" stroke-width="2.4" stroke-linejoin="round"/>
<polygon points="1698.3,1667.5 1717.2,1679.3 1741,1658 1722,1646.3" fill="#14d8fb" stroke="#074c58" stroke-width="2.4" stroke-linejoin="round"/>
<polygon points="1741,1658 1760.3,1669.8 1783.9,1648.4 1764.6,1636.8" fill="#01eafa" stroke="#005258" stroke-width="2.4" stroke-linejoin="round"/>
<polygon points="1783.9,1648.4 1803.6,1660.2 1827.1,1638.8 1807.4,1627.3" fill="#00eef7" stroke="#005356" stroke-width="2.4" stroke-linejoin="round"/>
<polygon points="1827.1,1638.8 1847.1,1650.5 1870.4,1629.2 1850.4,1617.6" fill="#00f2f3" stroke="#005555" stroke-width="2.4" stroke-linejoin="round"/>
<polygon points="1870.4,1629.2 1890.7,1640.8 1914,1619.4 1893.6,1608" fill="#00f6ef" stroke="#005654" stroke-width="2.4" stroke-linejoin="round"/>
<polygon points="1914,1619.4 1934.7,1631.1 1957.8,1609.7 1937,1598.2" fill="#00faeb" stroke="#005752" stroke-width="2.4" stroke-linejoin="round"/>
<polygon points="1957.8,1609.7 1978.8,1621.2 2001.7,1599.8 1980.7,1588.5" fill="#00f8d0" stroke="#005749" stroke-width="2.4" stroke-linejoin="round"/>
<polygon points="2001.7,1599.8 2023.1,1611.4 2045.9,1590 2024.5,1578.6" fill="#00f6b0" stroke="#00563e" stroke-width="2.4" stroke-linejoin="round"/>
<polygon points="1547,1716.9 1564.9,1729.1 1589.2,1707.6 1571.3,1695.7" fill="#5793ff" stroke="#1e3359" stroke-width="2.4" stroke-linejoin="round"/>
<polygon points="1674.4,1688.8 1693.2,1700.8 1717.2,1679.3 1698.3,1667.5" fill="#2cc2fd" stroke="#0f4459" stroke-width="2.4" stroke-linejoin="round"/>
<polygon points="1803.6,1660.2 1823.5,1672.1 1847.1,1650.5 1827.1,1638.8" fill="#00eef7" stroke="#005357" stroke-width="2.4" stroke-linejoin="round"/>
<polygon points="1890.7,1640.8 1911.3,1652.6 1934.7,1631.1 1914,1619.4" fill="#00f5f0" stroke="#005654" stroke-width="2.4" stroke-linejoin="round"/>
<polygon points="1589.2,1707.6 1607.4,1719.7 1631.7,1698.2 1613.4,1686.3" fill="#4da1ff" stroke="#1b3859" stroke-width="2.4" stroke-linejoin="round"/>
<polygon points="1631.7,1698.2 1650.2,1710.3 1674.4,1688.8 1655.7,1676.9" fill="#3fb0ff" stroke="#163e59" stroke-width="2.4" stroke-linejoin="round"/>
<polygon points="1717.2,1679.3 1736.4,1691.3 1760.3,1669.8 1741,1658" fill="#19d4fc" stroke="#094a58" stroke-width="2.4" stroke-linejoin="round"/>
<polygon points="1760.3,1669.8 1779.8,1681.7 1803.6,1660.2 1783.9,1648.4" fill="#06e6fa" stroke="#025058" stroke-width="2.4" stroke-linejoin="round"/>
<polygon points="1847.1,1650.5 1867.3,1662.4 1890.7,1640.8 1870.4,1629.2" fill="#00f1f4" stroke="#005455" stroke-width="2.4" stroke-linejoin="round"/>
<polygon points="1934.7,1631.1 1955.6,1642.8 1978.8,1621.2 1957.8,1609.7" fill="#00f9ec" stroke="#005753" stroke-width="2.4" stroke-linejoin="round"/>
<polygon points="1978.8,1621.2 2000.1,1633 2023.1,1611.4 2001.7,1599.8" fill="#00f9d7" stroke="#00574b" stroke-width="2.4" stroke-linejoin="round"/>
<polygon points="1564.9,1729.1 1583,1741.4 1607.4,1719.7 1589.2,1707.6" fill="#598fff" stroke="#1f3259" stroke-width="2.4" stroke-linejoin="round"/>
<polygon points="1607.4,1719.7 1625.9,1732 1650.2,1710.3 1631.7,1698.2" fill="#4f9dff" stroke="#1c3759" stroke-width="2.4" stroke-linejoin="round"/>
<polygon points="1650.2,1710.3 1669,1722.5 1693.2,1700.8 1674.4,1688.8" fill="#44acff" stroke="#183c59" stroke-width="2.4" stroke-linejoin="round"/>
<polygon points="1693.2,1700.8 1712.4,1713 1736.4,1691.3 1717.2,1679.3" fill="#31befd" stroke="#114259" stroke-width="2.4" stroke-linejoin="round"/>
<polygon points="1779.8,1681.7 1799.7,1693.8 1823.5,1672.1 1803.6,1660.2" fill="#0ae1fb" stroke="#044f58" stroke-width="2.4" stroke-linejoin="round"/>
<polygon points="1823.5,1672.1 1843.6,1684.2 1867.3,1662.4 1847.1,1650.5" fill="#00edf8" stroke="#005357" stroke-width="2.4" stroke-linejoin="round"/>
<polygon points="1867.3,1662.4 1887.8,1674.4 1911.3,1652.6 1890.7,1640.8" fill="#00f0f5" stroke="#005456" stroke-width="2.4" stroke-linejoin="round"/>
<polygon points="1911.3,1652.6 1932.2,1664.6 1955.6,1642.8 1934.7,1631.1" fill="#00f4f1" stroke="#005554" stroke-width="2.4" stroke-linejoin="round"/>
<polygon points="1736.4,1691.3 1755.9,1703.5 1779.8,1681.7 1760.3,1669.8" fill="#1ed0fc" stroke="#0a4958" stroke-width="2.4" stroke-linejoin="round"/>
<polygon points="1955.6,1642.8 1976.8,1654.8 2000.1,1633 1978.8,1621.2" fill="#00f8ed" stroke="#005753" stroke-width="2.4" stroke-linejoin="round"/>
<polygon points="1843.6,1684.2 1864.1,1696.4 1887.8,1674.4 1867.3,1662.4" fill="#00ecf9" stroke="#005357" stroke-width="2.4" stroke-linejoin="round"/>
<polygon points="1583,1741.4 1601.3,1753.9 1625.9,1732 1607.4,1719.7" fill="#5c8cff" stroke="#203159" stroke-width="2.4" stroke-linejoin="round"/>
<polygon points="1625.9,1732 1644.6,1744.4 1669,1722.5 1650.2,1710.3" fill="#519aff" stroke="#1c3659" stroke-width="2.4" stroke-linejoin="round"/>
<polygon points="1669,1722.5 1688.1,1734.9 1712.4,1713 1693.2,1700.8" fill="#47a8ff" stroke="#193b59" stroke-width="2.4" stroke-linejoin="round"/>
<polygon points="1712.4,1713 1731.8,1725.4 1755.9,1703.5 1736.4,1691.3" fill="#35bafe" stroke="#134159" stroke-width="2.4" stroke-linejoin="round"/>
<polygon points="1755.9,1703.5 1775.6,1715.8 1799.7,1693.8 1779.8,1681.7" fill="#22cbfc" stroke="#0c4758" stroke-width="2.4" stroke-linejoin="round"/>
<polygon points="1799.7,1693.8 1819.8,1706.1 1843.6,1684.2 1823.5,1672.1" fill="#0fddfb" stroke="#054d58" stroke-width="2.4" stroke-linejoin="round"/>
<polygon points="1887.8,1674.4 1908.6,1686.6 1932.2,1664.6 1911.3,1652.6" fill="#00eff6" stroke="#005456" stroke-width="2.4" stroke-linejoin="round"/>
<polygon points="1932.2,1664.6 1953.4,1676.8 1976.8,1654.8 1955.6,1642.8" fill="#00f3f2" stroke="#005555" stroke-width="2.4" stroke-linejoin="round"/>
<polygon points="1601.3,1753.9 1620,1766.5 1644.6,1744.4 1625.9,1732" fill="#5e88ff" stroke="#213059" stroke-width="2.4" stroke-linejoin="round"/>
<polygon points="1731.8,1725.4 1751.4,1737.9 1775.6,1715.8 1755.9,1703.5" fill="#3ab5fe" stroke="#143f59" stroke-width="2.4" stroke-linejoin="round"/>
<polygon points="1819.8,1706.1 1840.1,1718.6 1864.1,1696.4 1843.6,1684.2" fill="#14d9fb" stroke="#074c58" stroke-width="2.4" stroke-linejoin="round"/>
<polygon points="1864.1,1696.4 1884.8,1708.8 1908.6,1686.6 1887.8,1674.4" fill="#00ebfa" stroke="#005258" stroke-width="2.4" stroke-linejoin="round"/>
<polygon points="1644.6,1744.4 1663.6,1757 1688.1,1734.9 1669,1722.5" fill="#5497ff" stroke="#1d3559" stroke-width="2.4" stroke-linejoin="round"/>
<polygon points="1688.1,1734.9 1707.4,1747.5 1731.8,1725.4 1712.4,1713" fill="#4aa5ff" stroke="#1a3a59" stroke-width="2.4" stroke-linejoin="round"/>
<polygon points="1775.6,1715.8 1795.7,1728.3 1819.8,1706.1 1799.7,1693.8" fill="#27c7fd" stroke="#0e4658" stroke-width="2.4" stroke-linejoin="round"/>
<polygon points="1908.6,1686.6 1929.7,1699 1953.4,1676.8 1932.2,1664.6" fill="#00eff6" stroke="#005456" stroke-width="2.4" stroke-linejoin="round"/>
<polygon points="1620,1766.5 1638.9,1779.4 1663.6,1757 1644.6,1744.4" fill="#6185ff" stroke="#222e59" stroke-width="2.4" stroke-linejoin="round"/>
<polygon points="1707.4,1747.5 1727,1760.3 1751.4,1737.9 1731.8,1725.4" fill="#4ca1ff" stroke="#1b3959" stroke-width="2.4" stroke-linejoin="round"/>
<polygon points="1751.4,1737.9 1771.4,1750.6 1795.7,1728.3 1775.6,1715.8" fill="#3eb1fe" stroke="#163e59" stroke-width="2.4" stroke-linejoin="round"/>
<polygon points="1795.7,1728.3 1816,1740.9 1840.1,1718.6 1819.8,1706.1" fill="#2bc3fd" stroke="#0f4459" stroke-width="2.4" stroke-linejoin="round"/>
<polygon points="1840.1,1718.6 1860.8,1731.2 1884.8,1708.8 1864.1,1696.4" fill="#18d5fc" stroke="#084a58" stroke-width="2.4" stroke-linejoin="round"/>
<polygon points="1884.8,1708.8 1905.8,1721.4 1929.7,1699 1908.6,1686.6" fill="#05e6fa" stroke="#025158" stroke-width="2.4" stroke-linejoin="round"/>
<polygon points="1663.6,1757 1682.8,1769.8 1707.4,1747.5 1688.1,1734.9" fill="#5693ff" stroke="#1e3359" stroke-width="2.4" stroke-linejoin="round"/>
<polygon points="1682.8,1769.8 1702.3,1782.8 1727,1760.3 1707.4,1747.5" fill="#5990ff" stroke="#1f3259" stroke-width="2.4" stroke-linejoin="round"/>
<polygon points="1771.4,1750.6 1791.6,1763.5 1816,1740.9 1795.7,1728.3" fill="#43adff" stroke="#173d59" stroke-width="2.4" stroke-linejoin="round"/>
<polygon points="1638.9,1779.4 1658,1792.4 1682.8,1769.8 1663.6,1757" fill="#6381ff" stroke="#232d59" stroke-width="2.4" stroke-linejoin="round"/>
<polygon points="1727,1760.3 1746.8,1773.2 1771.4,1750.6 1751.4,1737.9" fill="#4f9eff" stroke="#1c3759" stroke-width="2.4" stroke-linejoin="round"/>
<polygon points="1816,1740.9 1836.6,1753.8 1860.8,1731.2 1840.1,1718.6" fill="#30bffd" stroke="#114359" stroke-width="2.4" stroke-linejoin="round"/>
<polygon points="1860.8,1731.2 1881.7,1744 1905.8,1721.4 1884.8,1708.8" fill="#1dd0fc" stroke="#0a4958" stroke-width="2.4" stroke-linejoin="round"/>
<polygon points="1658,1792.4 1677.4,1805.6 1702.3,1782.8 1682.8,1769.8" fill="#657eff" stroke="#242c59" stroke-width="2.4" stroke-linejoin="round"/>
<polygon points="1702.3,1782.8 1722.1,1796 1746.8,1773.2 1727,1760.3" fill="#5b8cff" stroke="#203159" stroke-width="2.4" stroke-linejoin="round"/>
<polygon points="1746.8,1773.2 1767,1786.3 1791.6,1763.5 1771.4,1750.6" fill="#519bff" stroke="#1c3659" stroke-width="2.4" stroke-linejoin="round"/>
<polygon points="1791.6,1763.5 1812.1,1776.6 1836.6,1753.8 1816,1740.9" fill="#47a9ff" stroke="#193b59" stroke-width="2.4" stroke-linejoin="round"/>
<polygon points="1836.6,1753.8 1857.4,1766.8 1881.7,1744 1860.8,1731.2" fill="#34bafe" stroke="#124159" stroke-width="2.4" stroke-linejoin="round"/>
<polygon points="1677.4,1805.6 1697.1,1818.9 1722.1,1796 1702.3,1782.8" fill="#687aff" stroke="#242b59" stroke-width="2.4" stroke-linejoin="round"/>
<polygon points="1722.1,1796 1742.1,1809.3 1767,1786.3 1746.8,1773.2" fill="#5e89ff" stroke="#213059" stroke-width="2.4" stroke-linejoin="round"/>
<polygon points="1767,1786.3 1787.4,1799.6 1812.1,1776.6 1791.6,1763.5" fill="#5397ff" stroke="#1d3559" stroke-width="2.4" stroke-linejoin="round"/>
<polygon points="1812.1,1776.6 1832.9,1789.8 1857.4,1766.8 1836.6,1753.8" fill="#49a5ff" stroke="#1a3a59" stroke-width="2.4" stroke-linejoin="round"/>
<polygon points="1697.1,1818.9 1717.1,1832.5 1742.1,1809.3 1722.1,1796" fill="#6a77ff" stroke="#252a59" stroke-width="2.4" stroke-linejoin="round"/>
<polygon points="1742.1,1809.3 1762.5,1822.8 1787.4,1799.6 1767,1786.3" fill="#6085ff" stroke="#222f59" stroke-width="2.4" stroke-linejoin="round"/>
<polygon points="1787.4,1799.6 1808.1,1813.1 1832.9,1789.8 1812.1,1776.6" fill="#5694ff" stroke="#1e3459" stroke-width="2.4" stroke-linejoin="round"/>
<polygon points="1717.1,1832.5 1737.3,1846.3 1762.5,1822.8 1742.1,1809.3" fill="#6d74ff" stroke="#262859" stroke-width="2.4" stroke-linejoin="round"/>
<polygon points="1762.5,1822.8 1783.1,1836.5 1808.1,1813.1 1787.4,1799.6" fill="#6382ff" stroke="#232d59" stroke-width="2.4" stroke-linejoin="round"/>
<polygon points="1737.3,1846.3 1757.9,1860.2 1783.1,1836.5 1762.5,1822.8" fill="#6f70ff" stroke="#272759" stroke-width="2.4" stroke-linejoin="round"/>
<circle cx="1832.5" cy="1228.4" r="8.5" fill="#b00000" stroke="#7a0000" stroke-width="1.5"/>
<line x1="1622.9" y1="1406" x2="1622.9" y2="1420" stroke="#777" stroke-width="2.5"/>
<circle cx="1622.9" cy="1406.1" r="8.5" fill="#b00000" stroke="#7a0000" stroke-width="1.5"/>
<line x1="2001.3" y1="1604" x2="2001.3" y2="1630" stroke="#777" stroke-width="2.5"/>
<circle cx="2001.3" cy="1603.8" r="8.5" fill="#b00000" stroke="#7a0000" stroke-width="1.5"/>
<line x1="1958.7" y1="1280" x2="1958.7" y2="1677.5" stroke="#333" stroke-width="2"/>
<rect x="1850.5" y="1238.2" width="109.8" height="42.6" fill="#fff" stroke="#555" stroke-width="2"/>
<text x="1905.4" y="1270" text-anchor="middle" font-size="31" fill="#222" style="font-family:&quot;Liberation Serif&quot;,serif">4.79209</text>
<text x="1379" y="1844" text-anchor="middle" font-size="33" fill="#222" style="font-family:&quot;Liberation Serif&quot;,serif">0</text>
<text x="1430" y="1891" text-anchor="middle" font-size="33" fill="#222" style="font-family:&quot;Liberation Serif&quot;,serif">0.02</text>
<text x="1499" y="1934" text-anchor="middle" font-size="33" fill="#222" style="font-family:&quot;Liberation Serif&quot;,serif">0.04</text>
<text x="1572" y="1976" text-anchor="middle" font-size="33" fill="#222" style="font-family:&quot;Liberation Serif&quot;,serif">0.06</text>
<text x="1643" y="2019" text-anchor="middle" font-size="33" fill="#222" style="font-family:&quot;Liberation Serif&quot;,serif">0.08</text>
<text x="1719" y="2063" text-anchor="middle" font-size="33" fill="#222" style="font-family:&quot;Liberation Serif&quot;,serif">0.1</text>
<text x="1798" y="2064" text-anchor="middle" font-size="33" fill="#222" style="font-family:&quot;Liberation Serif&quot;,serif">1.5</text>
<text x="1886" y="2026" text-anchor="middle" font-size="33" fill="#222" style="font-family:&quot;Liberation Serif&quot;,serif">1.6</text>
<text x="1974" y="1988" text-anchor="middle" font-size="33" fill="#222" style="font-family:&quot;Liberation Serif&quot;,serif">1.7</text>
<text x="2064" y="1952" text-anchor="middle" font-size="33" fill="#222" style="font-family:&quot;Liberation Serif&quot;,serif">1.8</text>
<text x="2151" y="1913" text-anchor="middle" font-size="33" fill="#222" style="font-family:&quot;Liberation Serif&quot;,serif">1.9</text>
<text x="2227" y="1877" text-anchor="middle" font-size="33" fill="#222" style="font-family:&quot;Liberation Serif&quot;,serif">2</text>
<text x="1364.8" y="2007" text-anchor="middle" font-size="40" font-weight="bold" fill="#111" style="font-family:&quot;Liberation Serif&quot;,serif" textLength="300.5" lengthAdjust="spacingAndGlyphs">X<tspan font-size="26" dy="8">1</tspan><tspan dy="-8">: GO (g/100mL)</tspan></text>
<text x="2166.8" y="2024.6" text-anchor="middle" font-size="40" font-weight="bold" fill="#111" style="font-family:&quot;Liberation Serif&quot;,serif" textLength="285.5" lengthAdjust="spacingAndGlyphs">X<tspan font-size="26" dy="8">2</tspan><tspan dy="-8">: CS (g/100mL)</tspan></text>
<text transform="translate(1267.7,1542.7) rotate(-90)" text-anchor="middle" font-size="38" font-weight="bold" fill="#111" style="font-family:&quot;Liberation Serif&quot;,serif" textLength="269" lengthAdjust="spacingAndGlyphs">Injectability (N)</text>
<text x="1233" y="1162" font-size="94" font-weight="bold" fill="#000" style="font-family:&quot;Liberation Serif&quot;,serif">C</text>
</g>
<g id="D">
<polygon points="254.1,2815.9 615,3039.6 1062.3,2848.2 685.7,2670.6" fill="#646464"/>
<line x1="335.6" y1="2649.6" x2="320.4" y2="2208.3" stroke="#6a6a6a" stroke-width="2.2"/>
<line x1="423.3" y1="2623" x2="412.1" y2="2189.5" stroke="#6a6a6a" stroke-width="2.2"/>
<line x1="510.9" y1="2596.3" x2="503.9" y2="2170.7" stroke="#6a6a6a" stroke-width="2.2"/>
<line x1="598.5" y1="2569.7" x2="595.6" y2="2151.8" stroke="#6a6a6a" stroke-width="2.2"/>
<line x1="248" y1="2676.3" x2="686.1" y2="2543.1" stroke="#6a6a6a" stroke-width="2.2"/>
<line x1="244.8" y1="2601.4" x2="686.3" y2="2474.7" stroke="#6a6a6a" stroke-width="2.2"/>
<line x1="241.6" y1="2526.6" x2="686.5" y2="2406.4" stroke="#6a6a6a" stroke-width="2.2"/>
<line x1="238.3" y1="2451.7" x2="686.7" y2="2338" stroke="#6a6a6a" stroke-width="2.2"/>
<line x1="235.1" y1="2376.9" x2="686.9" y2="2269.7" stroke="#6a6a6a" stroke-width="2.2"/>
<line x1="231.8" y1="2302" x2="687.1" y2="2201.3" stroke="#6a6a6a" stroke-width="2.2"/>
<line x1="228.6" y1="2227.2" x2="687.4" y2="2133" stroke="#6a6a6a" stroke-width="2.2"/>
<line x1="762.6" y1="2575.6" x2="767.7" y2="2155.8" stroke="#6a6a6a" stroke-width="2.2"/>
<line x1="839.1" y1="2608.1" x2="848" y2="2178.7" stroke="#6a6a6a" stroke-width="2.2"/>
<line x1="915.6" y1="2640.6" x2="928.3" y2="2201.5" stroke="#6a6a6a" stroke-width="2.2"/>
<line x1="992.1" y1="2673.2" x2="1008.6" y2="2224.4" stroke="#6a6a6a" stroke-width="2.2"/>
<line x1="686.1" y1="2543.1" x2="1068.6" y2="2705.7" stroke="#6a6a6a" stroke-width="2.2"/>
<line x1="686.3" y1="2474.7" x2="1072" y2="2629.3" stroke="#6a6a6a" stroke-width="2.2"/>
<line x1="686.5" y1="2406.4" x2="1075.4" y2="2552.9" stroke="#6a6a6a" stroke-width="2.2"/>
<line x1="686.7" y1="2338" x2="1078.8" y2="2476.5" stroke="#6a6a6a" stroke-width="2.2"/>
<line x1="686.9" y1="2269.7" x2="1082.2" y2="2400" stroke="#6a6a6a" stroke-width="2.2"/>
<line x1="687.1" y1="2201.3" x2="1085.6" y2="2323.6" stroke="#6a6a6a" stroke-width="2.2"/>
<line x1="687.4" y1="2133" x2="1088.9" y2="2247.2" stroke="#6a6a6a" stroke-width="2.2"/>
<line x1="685.7" y1="2670.6" x2="687.4" y2="2133" stroke="#6a6a6a" stroke-width="2.2"/>
<line x1="1062.3" y1="2848.2" x2="1088.9" y2="2247.2" stroke="#6a6a6a" stroke-width="2.2"/>
<line x1="254.1" y1="2815.9" x2="228.6" y2="2227.2" stroke="#555" stroke-width="2.2"/>
<polyline points="329.8,2868.4 660.3,3018.4" fill="none" stroke="#e08a3c" stroke-width="4.5" stroke-linejoin="round" stroke-linecap="round"/>
<polyline points="292.7,2805.6 713.9,2996.9" fill="none" stroke="#c8e050" stroke-width="4.5" stroke-linejoin="round" stroke-linecap="round"/>
<polyline points="356.9,2782.8 771,2973.4" fill="none" stroke="#10b850" stroke-width="4.5" stroke-linejoin="round" stroke-linecap="round"/>
<polyline points="431.9,2756.4 838.8,2945.5" fill="none" stroke="#10c8cc" stroke-width="4.5" stroke-linejoin="round" stroke-linecap="round"/>
<polyline points="548.3,2715 920.9,2909.8" fill="none" stroke="#2a66c0" stroke-width="4.5" stroke-linejoin="round" stroke-linecap="round"/>
<rect x="245" y="2673.3" width="6" height="6" fill="#111"/>
<text x="231" y="2670.3" text-anchor="end" font-size="33" fill="#222" style="font-family:&quot;Liberation Serif&quot;,serif">0</text>
<rect x="241.8" y="2598.4" width="6" height="6" fill="#111"/>
<text x="227.8" y="2595.4" text-anchor="end" font-size="33" fill="#222" style="font-family:&quot;Liberation Serif&quot;,serif">50</text>
<rect x="238.6" y="2523.6" width="6" height="6" fill="#111"/>
<text x="224.6" y="2520.6" text-anchor="end" font-size="33" fill="#222" style="font-family:&quot;Liberation Serif&quot;,serif">100</text>
<rect x="235.3" y="2448.7" width="6" height="6" fill="#111"/>
<text x="221.3" y="2445.7" text-anchor="end" font-size="33" fill="#222" style="font-family:&quot;Liberation Serif&quot;,serif">150</text>
<rect x="232.1" y="2373.9" width="6" height="6" fill="#111"/>
<text x="218.1" y="2370.9" text-anchor="end" font-size="33" fill="#222" style="font-family:&quot;Liberation Serif&quot;,serif">200</text>
<rect x="228.8" y="2299" width="6" height="6" fill="#111"/>
<text x="214.8" y="2296" text-anchor="end" font-size="33" fill="#222" style="font-family:&quot;Liberation Serif&quot;,serif">250</text>
<rect x="225.6" y="2224.2" width="6" height="6" fill="#111"/>
<text x="211.6" y="2221.2" text-anchor="end" font-size="33" fill="#222" style="font-family:&quot;Liberation Serif&quot;,serif">300</text>
<rect x="251.1" y="2812.9" width="6" height="6" fill="#111"/>
<rect x="323.3" y="2857.6" width="6" height="6" fill="#111"/>
<rect x="395.5" y="2902.4" width="6" height="6" fill="#111"/>
<rect x="467.6" y="2947.1" width="6" height="6" fill="#111"/>
<rect x="539.8" y="2991.9" width="6" height="6" fill="#111"/>
<rect x="612" y="3036.6" width="6" height="6" fill="#111"/>
<rect x="701.5" y="2998.4" width="6" height="6" fill="#111"/>
<rect x="790.9" y="2960.1" width="6" height="6" fill="#111"/>
<rect x="880.4" y="2921.8" width="6" height="6" fill="#111"/>
<rect x="969.8" y="2883.5" width="6" height="6" fill="#111"/>
<rect x="1059.3" y="2845.2" width="6" height="6" fill="#111"/>
<circle cx="653.4" cy="2599.3" r="7" fill="#fde0e0" stroke="#c05050" stroke-width="2"/>
<line x1="653.4" y1="2592" x2="653.4" y2="2520" stroke="#777" stroke-width="2.5"/>
<circle cx="857.5" cy="2623.3" r="7" fill="#fde0e0" stroke="#c05050" stroke-width="2"/>
<defs><linearGradient id="dblue" gradientUnits="userSpaceOnUse" x1="700" y1="2470" x2="760" y2="2620"><stop offset="0" stop-color="#2842ea"/><stop offset="0.55" stop-color="#182ed0"/><stop offset="1" stop-color="#0a1898"/></linearGradient></defs>
<polygon points="640,2466 685.1,2452.6 817.3,2519.5 911.7,2560.4 1006,2604.4 1069,2639 1040,2645.5 1006,2648.5 975,2646 943.1,2639 900,2627 848.7,2610.7 812,2600 755,2567 713,2541 676,2504" fill="url(#dblue)"/>
<polygon points="236.6,2360.2 610.2,2435.9 616,2441.4" fill="#911000" stroke="#911000" stroke-width="0.8"/>
<polygon points="236.6,2360.2 616,2441.4 621.8,2446.9" fill="#9b1400" stroke="#9b1400" stroke-width="0.8"/>
<polygon points="236.6,2360.2 621.8,2446.9 627.6,2452.4" fill="#a51700" stroke="#a51700" stroke-width="0.8"/>
<polygon points="236.6,2360.2 627.6,2452.4 633.4,2458" fill="#a91b00" stroke="#a91b00" stroke-width="0.8"/>
<polygon points="236.6,2360.2 633.4,2458 639.2,2463.5" fill="#a72000" stroke="#a72000" stroke-width="0.8"/>
<polygon points="236.6,2360.2 639.2,2463.5 645,2469" fill="#a52500" stroke="#a52500" stroke-width="0.8"/>
<polygon points="236.6,2360.2 645,2469 650.8,2474.5" fill="#a72d00" stroke="#a72d00" stroke-width="0.8"/>
<polygon points="236.6,2360.2 650.8,2474.5 656.7,2480" fill="#ac3700" stroke="#ac3700" stroke-width="0.8"/>
<polygon points="236.6,2360.2 656.7,2480 662.5,2485.5" fill="#b14100" stroke="#b14100" stroke-width="0.8"/>
<polygon points="236.6,2360.2 662.5,2485.5 668.3,2491" fill="#b24c01" stroke="#b24c01" stroke-width="0.8"/>
<polygon points="236.6,2360.2 668.3,2491 674.2,2496.5" fill="#af5a05" stroke="#af5a05" stroke-width="0.8"/>
<polygon points="236.6,2360.2 674.2,2496.5 680,2502" fill="#ab6708" stroke="#ab6708" stroke-width="0.8"/>
<polygon points="236.6,2360.2 680,2502 686.5,2508.1" fill="#a6730a" stroke="#a6730a" stroke-width="0.8"/>
<polygon points="236.6,2360.2 686.5,2508.1 693,2514.2" fill="#a07d0a" stroke="#a07d0a" stroke-width="0.8"/>
<polygon points="236.6,2360.2 693,2514.2 699.5,2520.3" fill="#99870a" stroke="#99870a" stroke-width="0.8"/>
<polygon points="236.6,2360.2 699.5,2520.3 706.1,2526.5" fill="#8f8c08" stroke="#8f8c08" stroke-width="0.8"/>
<polygon points="236.6,2360.2 706.1,2526.5 712.6,2532.6" fill="#828c05" stroke="#828c05" stroke-width="0.8"/>
<polygon points="236.6,2360.2 712.6,2532.6 719.1,2538.7" fill="#748c01" stroke="#748c01" stroke-width="0.8"/>
<polygon points="236.6,2360.2 719.1,2538.7 725.9,2543.1" fill="#658c00" stroke="#658c00" stroke-width="0.8"/>
<polygon points="236.6,2360.2 725.9,2543.1 732.7,2547.5" fill="#558c00" stroke="#558c00" stroke-width="0.8"/>
<polygon points="236.6,2360.2 732.7,2547.5 739.5,2551.8" fill="#448c00" stroke="#448c00" stroke-width="0.8"/>
<polygon points="236.6,2360.2 739.5,2551.8 746.4,2556.2" fill="#358a00" stroke="#358a00" stroke-width="0.8"/>
<polygon points="236.6,2360.2 746.4,2556.2 753.2,2560.6" fill="#288700" stroke="#288700" stroke-width="0.8"/>
<polygon points="236.6,2360.2 753.2,2560.6 760,2565" fill="#1a8300" stroke="#1a8300" stroke-width="0.8"/>
<polygon points="236.6,2360.2 760,2565 769.3,2570.8" fill="#108000" stroke="#108000" stroke-width="0.8"/>
<polygon points="236.6,2360.2 769.3,2570.8 778.6,2576.5" fill="#0a7d00" stroke="#0a7d00" stroke-width="0.8"/>
<polygon points="236.6,2360.2 778.6,2576.5 787.9,2582.3" fill="#037900" stroke="#037900" stroke-width="0.8"/>
<polygon points="236.6,2360.2 787.9,2582.3 797.2,2588.1" fill="#007500" stroke="#007500" stroke-width="0.8"/>
<polygon points="236.6,2360.2 797.2,2588.1 806.5,2593.8" fill="#007000" stroke="#007000" stroke-width="0.8"/>
<polygon points="236.6,2360.2 806.5,2593.8 815.8,2599.6" fill="#006b00" stroke="#006b00" stroke-width="0.8"/>
<circle cx="407.9" cy="2375.2" r="8.5" fill="#b00000" stroke="#7a0000" stroke-width="1.5"/>
<line x1="407.9" y1="2383" x2="407.9" y2="2400" stroke="#777" stroke-width="2.5"/>
<circle cx="686" cy="2445" r="8.5" fill="#b00000" stroke="#7a0000" stroke-width="1.5"/>
<line x1="867" y1="2515" x2="867" y2="2540" stroke="#777" stroke-width="2.5"/>
<circle cx="867" cy="2507.5" r="8.5" fill="#b00000" stroke="#7a0000" stroke-width="1.5"/>
<line x1="814" y1="2268" x2="814" y2="2592" stroke="#333" stroke-width="2"/>
<rect x="721.3" y="2225.4" width="97.6" height="42.4" fill="#fff" stroke="#555" stroke-width="2"/>
<text x="770.1" y="2257.1" text-anchor="middle" font-size="31" fill="#222" style="font-family:&quot;Liberation Serif&quot;,serif">135.71</text>
<text x="227" y="2847.3" text-anchor="middle" font-size="33" fill="#222" style="font-family:&quot;Liberation Serif&quot;,serif">0</text>
<text x="279.8" y="2893.7" text-anchor="middle" font-size="33" fill="#222" style="font-family:&quot;Liberation Serif&quot;,serif">0.02</text>
<text x="351.2" y="2938.7" text-anchor="middle" font-size="33" fill="#222" style="font-family:&quot;Liberation Serif&quot;,serif">0.04</text>
<text x="424.8" y="2983" text-anchor="middle" font-size="33" fill="#222" style="font-family:&quot;Liberation Serif&quot;,serif">0.06</text>
<text x="494.7" y="3027.2" text-anchor="middle" font-size="33" fill="#222" style="font-family:&quot;Liberation Serif&quot;,serif">0.08</text>
<text x="574.7" y="3072.2" text-anchor="middle" font-size="33" fill="#222" style="font-family:&quot;Liberation Serif&quot;,serif">0.1</text>
<text x="653.2" y="3073.6" text-anchor="middle" font-size="33" fill="#222" style="font-family:&quot;Liberation Serif&quot;,serif">1.5</text>
<text x="742.4" y="3036.5" text-anchor="middle" font-size="33" fill="#222" style="font-family:&quot;Liberation Serif&quot;,serif">1.6</text>
<text x="831.7" y="2997.2" text-anchor="middle" font-size="33" fill="#222" style="font-family:&quot;Liberation Serif&quot;,serif">1.7</text>
<text x="920.9" y="2958" text-anchor="middle" font-size="33" fill="#222" style="font-family:&quot;Liberation Serif&quot;,serif">1.8</text>
<text x="1010.1" y="2918.7" text-anchor="middle" font-size="33" fill="#222" style="font-family:&quot;Liberation Serif&quot;,serif">1.9</text>
<text x="1085.1" y="2881.6" text-anchor="middle" font-size="33" fill="#222" style="font-family:&quot;Liberation Serif&quot;,serif">2</text>
<text x="217.7" y="3017" text-anchor="middle" font-size="40" font-weight="bold" fill="#111" style="font-family:&quot;Liberation Serif&quot;,serif" textLength="307" lengthAdjust="spacingAndGlyphs">X<tspan font-size="26" dy="8">1</tspan><tspan dy="-8">: GO (g/100mL)</tspan></text>
<text x="1020.9" y="3031.4" text-anchor="middle" font-size="40" font-weight="bold" fill="#111" style="font-family:&quot;Liberation Serif&quot;,serif" textLength="292.7" lengthAdjust="spacingAndGlyphs">X<tspan font-size="26" dy="8">2</tspan><tspan dy="-8">: CS (g/100mL)</tspan></text>
<text transform="translate(114,2538.6) rotate(-90)" text-anchor="middle" font-size="38" font-weight="bold" fill="#111" style="font-family:&quot;Liberation Serif&quot;,serif" textLength="220" lengthAdjust="spacingAndGlyphs">Porosity (%)</text>
<text x="77" y="2179" font-size="94" font-weight="bold" fill="#000" style="font-family:&quot;Liberation Serif&quot;,serif">D</text>
</g>
<g id="E">
<polygon points="1403.1,2843.6 1757,3059.2 2197.4,2875.3 1826,2700.6" fill="#646464"/>
<line x1="1482.7" y1="2678" x2="1467.4" y2="2252.5" stroke="#6a6a6a" stroke-width="2.2"/>
<line x1="1568.7" y1="2651.8" x2="1557.7" y2="2233.8" stroke="#6a6a6a" stroke-width="2.2"/>
<line x1="1654.7" y1="2625.6" x2="1648.1" y2="2215.1" stroke="#6a6a6a" stroke-width="2.2"/>
<line x1="1740.7" y1="2599.4" x2="1738.4" y2="2196.4" stroke="#6a6a6a" stroke-width="2.2"/>
<line x1="1396.8" y1="2704.2" x2="1826.6" y2="2573.2" stroke="#6a6a6a" stroke-width="2.2"/>
<line x1="1391.8" y1="2595.9" x2="1827.2" y2="2474.3" stroke="#6a6a6a" stroke-width="2.2"/>
<line x1="1386.9" y1="2487.7" x2="1827.7" y2="2375.4" stroke="#6a6a6a" stroke-width="2.2"/>
<line x1="1382" y1="2379.5" x2="1828.2" y2="2276.5" stroke="#6a6a6a" stroke-width="2.2"/>
<line x1="1377.1" y1="2271.2" x2="1828.7" y2="2177.6" stroke="#6a6a6a" stroke-width="2.2"/>
<line x1="1902.1" y1="2605.1" x2="1907.8" y2="2200.2" stroke="#6a6a6a" stroke-width="2.2"/>
<line x1="1977.6" y1="2637" x2="1986.9" y2="2222.7" stroke="#6a6a6a" stroke-width="2.2"/>
<line x1="2053" y1="2669" x2="2066" y2="2245.2" stroke="#6a6a6a" stroke-width="2.2"/>
<line x1="2128.5" y1="2700.9" x2="2145.1" y2="2267.7" stroke="#6a6a6a" stroke-width="2.2"/>
<line x1="1826.6" y1="2573.2" x2="2204" y2="2732.8" stroke="#6a6a6a" stroke-width="2.2"/>
<line x1="1827.2" y1="2474.3" x2="2209" y2="2622.1" stroke="#6a6a6a" stroke-width="2.2"/>
<line x1="1827.7" y1="2375.4" x2="2214.1" y2="2511.5" stroke="#6a6a6a" stroke-width="2.2"/>
<line x1="1828.2" y1="2276.5" x2="2219.2" y2="2400.9" stroke="#6a6a6a" stroke-width="2.2"/>
<line x1="1828.7" y1="2177.6" x2="2224.3" y2="2290.2" stroke="#6a6a6a" stroke-width="2.2"/>
<line x1="1826" y1="2700.6" x2="1828.7" y2="2177.6" stroke="#6a6a6a" stroke-width="2.2"/>
<line x1="2197.4" y1="2875.3" x2="2224.3" y2="2290.2" stroke="#6a6a6a" stroke-width="2.2"/>
<line x1="1403.1" y1="2843.6" x2="1377.1" y2="2271.2" stroke="#555" stroke-width="2.2"/>
<polyline points="1468.8,2884.2 1471.5,2881.3 1474.2,2878.4 1476.3,2876.1 1478.4,2873.8 1480.8,2871.2 1483.5,2868.3 1486.1,2865.4 1488.7,2862.6 1490.9,2860.2 1493,2857.9 1495.2,2855.5 1497.8,2852.7 1500.4,2849.8 1502.9,2847.1 1505.2,2844.6 1507.3,2842.4 1509.3,2840.1 1511.9,2837.4 1514.4,2834.6 1517,2831.9 1519.5,2829.2 1521.6,2827 1523.6,2824.8 1525.9,2822.5 1528.4,2819.8 1530.9,2817.2 1533.5,2814.6 1536,2811.9 1538.2,2809.6 1540.4,2807.5 1542.5,2805.3 1544.9,2802.9 1547.4,2800.4 1550,2797.8 1552.5,2795.3 1555.1,2792.8 1555.6,2792.3" fill="none" stroke="#20b8e0" stroke-width="4.5" stroke-linejoin="round" stroke-linecap="butt"/>
<polyline points="1560.6,2939.8 1561.6,2937.1 1562.7,2934 1563.7,2931.1 1564.8,2928.3 1565.9,2925.2 1566.9,2922.6 1568.1,2919.3 1569,2917 1570.4,2913.4 1571.2,2911.4 1572.7,2907.8 1573.6,2905.6 1575,2902.4 1576,2899.8 1577.2,2897 1578.6,2893.9 1579.6,2891.7 1581.1,2888.2 1582.1,2886.2 1583.5,2883 1584.8,2880.3 1585.9,2877.9 1587.6,2874.6 1588.6,2872.6 1590.1,2869.6 1591.5,2866.8 1592.6,2864.6 1594.3,2861.4 1595.6,2859 1596.9,2856.6 1598.7,2853.4 1599.9,2851.2 1601.3,2848.7 1603.1,2845.5 1604.4,2843.5 1605.9,2840.9 1607.7,2837.9 1609.1,2835.7 1610.5,2833.4 1612.4,2830.4 1614,2827.9 1615.3,2825.9 1617.2,2823 1619.2,2820.1 1620.6,2818.1 1622.2,2815.9 1624.2,2813 1626.2,2810.2 1627.7,2808.2 1629.2,2806.1 1631.3,2803.3 1633.4,2800.6 1635.2,2798.2 1636.8,2796.2 1638.7,2793.9 1640.8,2791.3 1643,2788.7 1645.1,2786.2 1646.8,2784.1 1648.6,2782.1 1650.7,2779.7 1652.9,2777.2 1655.2,2774.7 1657.4,2772.3 1659.7,2769.8 1661.7,2767.7 1663.8,2765.6 1665.8,2763.5 1667.9,2761.4 1670.3,2759.1 1672.6,2756.8 1675,2754.5 1677.5,2752.2 1679,2750.7" fill="none" stroke="#10c0a0" stroke-width="4.5" stroke-linejoin="round" stroke-linecap="butt"/>
<polyline points="1775.1,3051.5 1770.7,3047.1 1767.8,3044.2 1764.5,3040.6 1761,3036.8 1758.4,3033.8 1755.3,3030.2 1752.1,3026.3 1749.6,3023.3 1747.3,3020.2 1744.4,3016.4 1741.6,3012.6 1739.5,3009.6 1737.4,3006.5 1735.4,3003.4 1733.4,3000.3 1731.1,2996.5 1729,2992.9 1727,2989.4 1725.3,2986.3 1723.7,2983.1 1722.1,2980 1720.6,2976.8 1719.1,2973.6 1717.7,2970.5 1716.3,2967.3 1715.1,2964.1 1713.8,2960.9 1712.7,2957.8 1711.7,2955 1710.8,2952.2 1709.9,2949.4 1709,2946.4 1708.1,2943.1 1707.3,2939.9 1706.5,2936.6 1705.8,2933.6 1705.3,2931.1 1704.8,2928.4 1704.2,2925.1 1703.7,2921.8 1703.3,2918.9 1703,2916.6 1702.6,2913.5 1702.3,2910.2 1702.1,2907.4 1701.9,2905.2 1701.8,2901.8 1701.7,2898.6 1701.7,2896.5 1701.6,2893.4 1701.7,2890.2 1701.8,2888.1 1701.9,2885 1702.1,2882 1702.2,2879.9 1702.6,2876.4 1702.8,2874.1 1703.1,2871.3 1703.6,2868.4 1703.9,2866.1 1704.5,2862.8 1704.8,2860.9 1705.5,2857.5 1705.9,2855.5 1706.6,2852.3 1707.1,2850.2 1708,2847 1708.5,2845 1709.5,2841.7 1710,2839.9 1711.1,2836.5 1711.7,2834.6 1712.8,2831.6 1713.7,2829.3 1714.6,2826.7 1715.8,2823.9 1716.5,2822 1717.9,2818.9 1718.9,2816.6 1720,2814.3 1721.4,2811.3 1722.4,2809.3 1723.7,2806.9 1725.2,2803.9 1726.4,2801.9 1727.6,2799.6 1729.3,2796.8 1730.7,2794.4 1731.9,2792.5 1733.6,2789.9 1735.3,2787.2 1736.9,2784.9 1738.2,2782.9 1739.9,2780.5 1741.8,2777.9 1743.8,2775.3 1745.5,2773.1 1747,2771.1 1748.7,2769 1750.8,2766.5 1752.9,2764.1 1755,2761.7 1757.1,2759.3 1759.3,2756.9 1761.3,2754.8 1763.3,2752.7 1765.4,2750.5 1767.6,2748.4 1769.8,2746.2 1772.1,2744 1774.5,2741.8 1777,2739.6 1779.5,2737.3 1782.2,2735 1784.9,2732.7 1787.6,2730.5 1790.2,2728.5 1792.7,2726.4 1795.3,2724.4 1797.9,2722.5 1800.6,2720.5 1804.2,2718 1807.4,2715.7 1810.1,2713.9 1812.9,2712 1816.2,2709.8 1820,2707.5 1822.8,2705.7 1825.7,2703.9 1828.7,2702.2" fill="none" stroke="#50c840" stroke-width="4.5" stroke-linejoin="round" stroke-linecap="butt"/>
<polyline points="1926.7,2988 1921.8,2984.1 1918.5,2981.4 1913.8,2977.5 1910.7,2974.8 1906.2,2970.8 1903.2,2968.1 1900.3,2965.4 1896.1,2961.4 1893.4,2958.7 1890.5,2955.8 1886.7,2951.8 1884.2,2949.1 1881.7,2946.3 1878.9,2943.1 1875.8,2939.3 1873.5,2936.5 1871.3,2933.7 1869.1,2930.9 1867,2928 1864.8,2925 1862.6,2921.7 1860.5,2918.5 1858.5,2915.4 1856.7,2912.4 1854.9,2909.4 1853.3,2906.5 1851.8,2903.7 1850.4,2900.9 1849.1,2898.2 1847.8,2895.5 1846.7,2892.9 1845.5,2890.1 1844.3,2887.1 1843.2,2884.1 1842.2,2881 1841.2,2878 1840.5,2875.7 1839.9,2873.4 1839.1,2870.3 1838.3,2867.2 1837.8,2864.5 1837.4,2862.4 1836.9,2859.4 1836.4,2856.2 1836.2,2854 1835.9,2851.5 1835.7,2848.3 1835.6,2846.1 1835.5,2843.5 1835.5,2840.4 1835.5,2838.5 1835.6,2835.3 1835.7,2833 1835.9,2830.4 1836.2,2827.7 1836.5,2825.4 1836.9,2822.6 1837.3,2820.3 1837.9,2817.6 1838.4,2815.2 1839,2812.7 1839.7,2810.1 1840.3,2807.9 1841.3,2804.9 1841.9,2803 1842.9,2800.3 1843.9,2797.7 1844.7,2795.9 1845.9,2793 1847.1,2790.4 1848,2788.6 1849.3,2786 1850.8,2783.2 1852,2781.1 1853.2,2779.2 1854.8,2776.6 1856.5,2774 1858.2,2771.4 1859.6,2769.5 1861.1,2767.5 1862.8,2765.2 1864.7,2762.8 1866.7,2760.4 1868.7,2758 1870.8,2755.7 1872.9,2753.4 1875.1,2751.2 1877.3,2749 1879.6,2746.8 1881.9,2744.6 1884.2,2742.5 1886.6,2740.4 1889.1,2738.4 1891.6,2736.3 1894.7,2733.9 1895.4,2733.3" fill="none" stroke="#e8c850" stroke-width="4.5" stroke-linejoin="round" stroke-linecap="butt"/>
<polyline points="2056.4,2933.6 2051.4,2930 2048.1,2927.5 2043.3,2923.7 2040.2,2921.2 2035.7,2917.5 2032.6,2914.9 2029.7,2912.3 2025.5,2908.5 2022.7,2905.9 2020,2903.3 2017.3,2900.5 2013.7,2896.8 2011.1,2894 2008.8,2891.4 2006.4,2888.7 2004.2,2886 2002,2883.3 1999.9,2880.5 1997.8,2877.5 1995.8,2874.7 1993.9,2871.9 1992.2,2869.2 1990.7,2866.6 1989,2863.7 1987.5,2860.8 1986.1,2857.9 1984.7,2855 1983.4,2852.1 1982.5,2849.7 1981.7,2847.5 1980.7,2844.7 1979.8,2841.6 1979.1,2839 1978.6,2837 1977.9,2834 1977.5,2831.1 1977.2,2829.2 1976.8,2826.1 1976.7,2823.7 1976.5,2821.3 1976.5,2818.4 1976.6,2816.4 1976.8,2813.3 1976.9,2811.4 1977.3,2808.4 1977.7,2806.3 1978.2,2803.7 1978.8,2801 1979.4,2799.2 1980.3,2796.2 1981.1,2793.8 1981.9,2791.9 1983.1,2789.1 1984.3,2786.4 1985.4,2784.4 1986.5,2782.4 1988,2779.9 1989.6,2777.4 1989.6,2777.4" fill="none" stroke="#d84040" stroke-width="4.5" stroke-linejoin="round" stroke-linecap="butt"/>
<rect x="1393.8" y="2701.2" width="6" height="6" fill="#111"/>
<text x="1379.8" y="2698.2" text-anchor="end" font-size="33" fill="#222" style="font-family:&quot;Liberation Serif&quot;,serif">0</text>
<rect x="1388.8" y="2592.9" width="6" height="6" fill="#111"/>
<text x="1374.8" y="2589.9" text-anchor="end" font-size="33" fill="#222" style="font-family:&quot;Liberation Serif&quot;,serif">100</text>
<rect x="1383.9" y="2484.7" width="6" height="6" fill="#111"/>
<text x="1369.9" y="2481.7" text-anchor="end" font-size="33" fill="#222" style="font-family:&quot;Liberation Serif&quot;,serif">200</text>
<rect x="1379" y="2376.5" width="6" height="6" fill="#111"/>
<text x="1365" y="2373.5" text-anchor="end" font-size="33" fill="#222" style="font-family:&quot;Liberation Serif&quot;,serif">300</text>
<rect x="1374.1" y="2268.2" width="6" height="6" fill="#111"/>
<text x="1360.1" y="2265.2" text-anchor="end" font-size="33" fill="#222" style="font-family:&quot;Liberation Serif&quot;,serif">400</text>
<rect x="1400.1" y="2840.6" width="6" height="6" fill="#111"/>
<rect x="1470.9" y="2883.7" width="6" height="6" fill="#111"/>
<rect x="1541.6" y="2926.8" width="6" height="6" fill="#111"/>
<rect x="1612.4" y="2969.9" width="6" height="6" fill="#111"/>
<rect x="1683.2" y="3013" width="6" height="6" fill="#111"/>
<rect x="1754" y="3056.2" width="6" height="6" fill="#111"/>
<rect x="1842.1" y="3019.4" width="6" height="6" fill="#111"/>
<rect x="1930.2" y="2982.6" width="6" height="6" fill="#111"/>
<rect x="2018.2" y="2945.8" width="6" height="6" fill="#111"/>
<rect x="2106.3" y="2909.1" width="6" height="6" fill="#111"/>
<rect x="2194.4" y="2872.3" width="6" height="6" fill="#111"/>
<circle cx="1559.3" cy="2649" r="7" fill="#fde0e0" stroke="#c05050" stroke-width="2"/>
<line x1="1559.3" y1="2641" x2="1559.3" y2="2600" stroke="#777" stroke-width="2.5"/>
<polygon points="1807.7,2375.7 1825,2364.5 1845,2354.1 1827.7,2365.4" fill="#8cd02c" stroke="#4d7318" stroke-width="2.0" stroke-linejoin="round"/>
<polygon points="1825,2364.5 1842.4,2354.3 1862.6,2343.7 1845,2354.1" fill="#bed937" stroke="#68771e" stroke-width="2.0" stroke-linejoin="round"/>
<polygon points="1787.6,2386.8 1804.7,2375.8 1825,2364.5 1807.7,2375.7" fill="#79cd2b" stroke="#437118" stroke-width="2.0" stroke-linejoin="round"/>
<polygon points="1804.7,2375.8 1822.1,2365.6 1842.4,2354.3 1825,2364.5" fill="#afd833" stroke="#60771c" stroke-width="2.0" stroke-linejoin="round"/>
<polygon points="1842.4,2354.3 1860.2,2344.8 1880.4,2334.2 1862.6,2343.7" fill="#e4d841" stroke="#7d7724" stroke-width="2.0" stroke-linejoin="round"/>
<polygon points="1767.2,2398.6 1784.3,2387.8 1804.7,2375.8 1787.6,2386.8" fill="#64c92a" stroke="#376f17" stroke-width="2.0" stroke-linejoin="round"/>
<polygon points="1746.7,2411.2 1763.6,2400.5 1784.3,2387.8 1767.2,2398.6" fill="#4cc528" stroke="#2a6c16" stroke-width="2.0" stroke-linejoin="round"/>
<polygon points="1784.3,2387.8 1801.6,2377.8 1822.1,2365.6 1804.7,2375.8" fill="#9dd72e" stroke="#567619" stroke-width="2.0" stroke-linejoin="round"/>
<polygon points="1822.1,2365.6 1839.7,2356.3 1860.2,2344.8 1842.4,2354.3" fill="#dbde3f" stroke="#797a23" stroke-width="2.0" stroke-linejoin="round"/>
<polygon points="1860.2,2344.8 1878.2,2336.3 1898.5,2325.5 1880.4,2334.2" fill="#ebba45" stroke="#816626" stroke-width="2.0" stroke-linejoin="round"/>
<polygon points="1878.2,2336.3 1896.4,2328.5 1916.8,2317.7 1898.5,2325.5" fill="#eea048" stroke="#835828" stroke-width="2.0" stroke-linejoin="round"/>
<polygon points="1726,2424.5 1742.9,2413.9 1763.6,2400.5 1746.7,2411.2" fill="#32c026" stroke="#1c6a15" stroke-width="2.0" stroke-linejoin="round"/>
<polygon points="1763.6,2400.5 1780.9,2390.6 1801.6,2377.8 1784.3,2387.8" fill="#85d22d" stroke="#497418" stroke-width="2.0" stroke-linejoin="round"/>
<polygon points="1801.6,2377.8 1819.1,2368.6 1839.7,2356.3 1822.1,2365.6" fill="#cadc3a" stroke="#6f7920" stroke-width="2.0" stroke-linejoin="round"/>
<polygon points="1839.7,2356.3 1857.7,2347.9 1878.2,2336.3 1860.2,2344.8" fill="#eac744" stroke="#806d25" stroke-width="2.0" stroke-linejoin="round"/>
<polygon points="1705.1,2438.3 1721.9,2427.8 1742.9,2413.9 1726,2424.5" fill="#22be2c" stroke="#136818" stroke-width="2.0" stroke-linejoin="round"/>
<polygon points="1780.9,2390.6 1798.3,2381.6 1819.1,2368.6 1801.6,2377.8" fill="#b6db35" stroke="#64781d" stroke-width="2.0" stroke-linejoin="round"/>
<polygon points="1857.7,2347.9 1875.9,2340.3 1896.4,2328.5 1878.2,2336.3" fill="#efac47" stroke="#845f27" stroke-width="2.0" stroke-linejoin="round"/>
<polygon points="1896.4,2328.5 1915,2321.7 1935.4,2310.7 1916.8,2317.7" fill="#f08a4b" stroke="#844c29" stroke-width="2.0" stroke-linejoin="round"/>
<polygon points="1742.9,2413.9 1760,2404.1 1780.9,2390.6 1763.6,2400.5" fill="#6bcd2b" stroke="#3b7117" stroke-width="2.0" stroke-linejoin="round"/>
<polygon points="1819.1,2368.6 1837,2360.3 1857.7,2347.9 1839.7,2356.3" fill="#e8d643" stroke="#7f7525" stroke-width="2.0" stroke-linejoin="round"/>
<polygon points="1721.9,2427.8 1738.9,2418.3 1760,2404.1 1742.9,2413.9" fill="#4fc829" stroke="#2c6e16" stroke-width="2.0" stroke-linejoin="round"/>
<polygon points="1684.1,2452.6 1700.8,2442.3 1721.9,2427.8 1705.1,2438.3" fill="#1cbd3a" stroke="#0f6820" stroke-width="2.0" stroke-linejoin="round"/>
<polygon points="1760,2404.1 1777.4,2395.3 1798.3,2381.6 1780.9,2390.6" fill="#a1d92f" stroke="#59771a" stroke-width="2.0" stroke-linejoin="round"/>
<polygon points="1798.3,2381.6 1816.1,2373.4 1837,2360.3 1819.1,2368.6" fill="#e0e140" stroke="#7b7c23" stroke-width="2.0" stroke-linejoin="round"/>
<polygon points="1837,2360.3 1855.1,2352.8 1875.9,2340.3 1857.7,2347.9" fill="#efba46" stroke="#836626" stroke-width="2.0" stroke-linejoin="round"/>
<polygon points="1875.9,2340.3 1894.3,2333.5 1915,2321.7 1896.4,2328.5" fill="#f1954a" stroke="#845229" stroke-width="2.0" stroke-linejoin="round"/>
<polygon points="1915,2321.7 1933.8,2315.6 1954.3,2304.6 1935.4,2310.7" fill="#f1794d" stroke="#85432b" stroke-width="2.0" stroke-linejoin="round"/>
<polygon points="1700.8,2442.3 1717.7,2432.9 1738.9,2418.3 1721.9,2427.8" fill="#32c226" stroke="#1b6b15" stroke-width="2.0" stroke-linejoin="round"/>
<polygon points="1738.9,2418.3 1756.2,2409.5 1777.4,2395.3 1760,2404.1" fill="#85d42d" stroke="#497519" stroke-width="2.0" stroke-linejoin="round"/>
<polygon points="1816.1,2373.4 1834.1,2366.1 1855.1,2352.8 1837,2360.3" fill="#ecca45" stroke="#826f26" stroke-width="2.0" stroke-linejoin="round"/>
<polygon points="1933.8,2315.6 1952.8,2310.5 1973.4,2299.2 1954.3,2304.6" fill="#f36a50" stroke="#853a2c" stroke-width="2.0" stroke-linejoin="round"/>
<polygon points="1662.9,2467.4 1679.5,2457.3 1700.8,2442.3 1684.1,2452.6" fill="#15bd49" stroke="#0c6828" stroke-width="2.0" stroke-linejoin="round"/>
<polygon points="1777.4,2395.3 1795.1,2387.2 1816.1,2373.4 1798.3,2381.6" fill="#cbdf3a" stroke="#707b20" stroke-width="2.0" stroke-linejoin="round"/>
<polygon points="1855.1,2352.8 1873.5,2346.2 1894.3,2333.5 1875.9,2340.3" fill="#f2a249" stroke="#855928" stroke-width="2.0" stroke-linejoin="round"/>
<polygon points="1894.3,2333.5 1913.1,2327.6 1933.8,2315.6 1915,2321.7" fill="#f2824d" stroke="#85482a" stroke-width="2.0" stroke-linejoin="round"/>
<polygon points="1641.5,2482.6 1658,2472.6 1679.5,2457.3 1662.9,2467.4" fill="#0ebc59" stroke="#086731" stroke-width="2.0" stroke-linejoin="round"/>
<polygon points="1679.5,2457.3 1696.3,2448 1717.7,2432.9 1700.8,2442.3" fill="#21bf2e" stroke="#12691a" stroke-width="2.0" stroke-linejoin="round"/>
<polygon points="1717.7,2432.9 1734.9,2424.3 1756.2,2409.5 1738.9,2418.3" fill="#67ce2b" stroke="#397117" stroke-width="2.0" stroke-linejoin="round"/>
<polygon points="1756.2,2409.5 1773.8,2401.7 1795.1,2387.2 1777.4,2395.3" fill="#b4dd34" stroke="#63791d" stroke-width="2.0" stroke-linejoin="round"/>
<polygon points="1795.1,2387.2 1813,2380.1 1834.1,2366.1 1816.1,2373.4" fill="#eadb43" stroke="#807925" stroke-width="2.0" stroke-linejoin="round"/>
<polygon points="1834.1,2366.1 1852.4,2359.6 1873.5,2346.2 1855.1,2352.8" fill="#f2b048" stroke="#856127" stroke-width="2.0" stroke-linejoin="round"/>
<polygon points="1913.1,2327.6 1932.1,2322.6 1952.8,2310.5 1933.8,2315.6" fill="#f4734f" stroke="#863f2b" stroke-width="2.0" stroke-linejoin="round"/>
<polygon points="1952.8,2310.5 1972.2,2306.1 1992.8,2294.8 1973.4,2299.2" fill="#f45f51" stroke="#86342d" stroke-width="2.0" stroke-linejoin="round"/>
<polygon points="1873.5,2346.2 1892.1,2340.4 1913.1,2327.6 1894.3,2333.5" fill="#f38d4c" stroke="#864e2a" stroke-width="2.0" stroke-linejoin="round"/>
<polygon points="1773.8,2401.7 1791.7,2394.6 1813,2380.1 1795.1,2387.2" fill="#dbe23f" stroke="#797c23" stroke-width="2.0" stroke-linejoin="round"/>
<polygon points="1972.2,2306.1 1991.8,2302.6 2012.5,2291.1 1992.8,2294.8" fill="#f55e52" stroke="#87342d" stroke-width="2.0" stroke-linejoin="round"/>
<polygon points="1620,2498.1 1636.3,2488.3 1658,2472.6 1641.5,2482.6" fill="#07bb69" stroke="#04673a" stroke-width="2.0" stroke-linejoin="round"/>
<polygon points="1658,2472.6 1674.7,2463.5 1696.3,2448 1679.5,2457.3" fill="#1bbf3e" stroke="#0f6922" stroke-width="2.0" stroke-linejoin="round"/>
<polygon points="1696.3,2448 1713.4,2439.6 1734.9,2424.3 1717.7,2432.9" fill="#48c828" stroke="#286e16" stroke-width="2.0" stroke-linejoin="round"/>
<polygon points="1734.9,2424.3 1752.4,2416.6 1773.8,2401.7 1756.2,2409.5" fill="#9ada2f" stroke="#55781a" stroke-width="2.0" stroke-linejoin="round"/>
<polygon points="1813,2380.1 1831.2,2373.7 1852.4,2359.6 1834.1,2366.1" fill="#f0c146" stroke="#846a27" stroke-width="2.0" stroke-linejoin="round"/>
<polygon points="1852.4,2359.6 1871,2354 1892.1,2340.4 1873.5,2346.2" fill="#f49b4b" stroke="#865529" stroke-width="2.0" stroke-linejoin="round"/>
<polygon points="1892.1,2340.4 1911.1,2335.5 1932.1,2322.6 1913.1,2327.6" fill="#f47d4e" stroke="#86452b" stroke-width="2.0" stroke-linejoin="round"/>
<polygon points="1932.1,2322.6 1951.3,2318.3 1972.2,2306.1 1952.8,2310.5" fill="#f56551" stroke="#87382d" stroke-width="2.0" stroke-linejoin="round"/>
<polygon points="1674.7,2463.5 1691.7,2455.3 1713.4,2439.6 1696.3,2448" fill="#27c226" stroke="#166a15" stroke-width="2.0" stroke-linejoin="round"/>
<polygon points="1752.4,2416.6 1770.2,2409.7 1791.7,2394.6 1773.8,2401.7" fill="#c2e038" stroke="#6b7b1f" stroke-width="2.0" stroke-linejoin="round"/>
<polygon points="1791.7,2394.6 1809.8,2388.4 1831.2,2373.7 1813,2380.1" fill="#edd444" stroke="#827526" stroke-width="2.0" stroke-linejoin="round"/>
<polygon points="1871,2354 1889.9,2349.2 1911.1,2335.5 1892.1,2340.4" fill="#f5894d" stroke="#874b2a" stroke-width="2.0" stroke-linejoin="round"/>
<polygon points="1951.3,2318.3 1970.9,2314.9 1991.8,2302.6 1972.2,2306.1" fill="#f65f52" stroke="#87342d" stroke-width="2.0" stroke-linejoin="round"/>
<polygon points="1991.8,2302.6 2011.7,2299.9 2032.5,2288.3 2012.5,2291.1" fill="#f75c52" stroke="#88332d" stroke-width="2.0" stroke-linejoin="round"/>
<polygon points="1636.3,2488.3 1653,2479.4 1674.7,2463.5 1658,2472.6" fill="#13be4e" stroke="#0b692b" stroke-width="2.0" stroke-linejoin="round"/>
<polygon points="1598.3,2513.8 1614.5,2504.2 1636.3,2488.3 1620,2498.1" fill="#00bb79" stroke="#006742" stroke-width="2.0" stroke-linejoin="round"/>
<polygon points="1713.4,2439.6 1730.8,2432.1 1752.4,2416.6 1734.9,2424.3" fill="#7ad42c" stroke="#437418" stroke-width="2.0" stroke-linejoin="round"/>
<polygon points="1831.2,2373.7 1849.7,2368.2 1871,2354 1852.4,2359.6" fill="#f4ab49" stroke="#865e28" stroke-width="2.0" stroke-linejoin="round"/>
<polygon points="1911.1,2335.5 1930.3,2331.4 1951.3,2318.3 1932.1,2322.6" fill="#f67050" stroke="#873d2c" stroke-width="2.0" stroke-linejoin="round"/>
<polygon points="1576.3,2529.7 1592.5,2520.3 1614.5,2504.2 1598.3,2513.8" fill="#00b687" stroke="#00644a" stroke-width="2.0" stroke-linejoin="round"/>
<polygon points="1653,2479.4 1669.9,2471.3 1691.7,2455.3 1674.7,2463.5" fill="#1fc135" stroke="#116a1d" stroke-width="2.0" stroke-linejoin="round"/>
<polygon points="1691.7,2455.3 1709,2447.9 1730.8,2432.1 1713.4,2439.6" fill="#5acd2a" stroke="#317117" stroke-width="2.0" stroke-linejoin="round"/>
<polygon points="1730.8,2432.1 1748.5,2425.3 1770.2,2409.7 1752.4,2416.6" fill="#a9de31" stroke="#5d7a1b" stroke-width="2.0" stroke-linejoin="round"/>
<polygon points="1770.2,2409.7 1788.2,2403.7 1809.8,2388.4 1791.7,2394.6" fill="#e7e542" stroke="#7f7e24" stroke-width="2.0" stroke-linejoin="round"/>
<polygon points="1809.8,2388.4 1828.2,2383.1 1849.7,2368.2 1831.2,2373.7" fill="#f4bc47" stroke="#866727" stroke-width="2.0" stroke-linejoin="round"/>
<polygon points="1849.7,2368.2 1868.5,2363.6 1889.9,2349.2 1871,2354" fill="#f5974c" stroke="#87532a" stroke-width="2.0" stroke-linejoin="round"/>
<polygon points="1889.9,2349.2 1909,2345.2 1930.3,2331.4 1911.1,2335.5" fill="#f67b4f" stroke="#87432c" stroke-width="2.0" stroke-linejoin="round"/>
<polygon points="1930.3,2331.4 1949.8,2328.1 1970.9,2314.9 1951.3,2318.3" fill="#f76352" stroke="#88362d" stroke-width="2.0" stroke-linejoin="round"/>
<polygon points="1970.9,2314.9 1990.7,2312.3 2011.7,2299.9 1991.8,2302.6" fill="#f75e52" stroke="#88342d" stroke-width="2.0" stroke-linejoin="round"/>
<polygon points="2011.7,2299.9 2031.9,2298 2052.7,2286.3 2032.5,2288.3" fill="#f85b53" stroke="#88322d" stroke-width="2.0" stroke-linejoin="round"/>
<polygon points="1614.5,2504.2 1631,2495.5 1653,2479.4 1636.3,2488.3" fill="#0cbd5f" stroke="#076834" stroke-width="2.0" stroke-linejoin="round"/>
<polygon points="1709,2447.9 1726.6,2441.3 1748.5,2425.3 1730.8,2432.1" fill="#89d82e" stroke="#4b7719" stroke-width="2.0" stroke-linejoin="round"/>
<polygon points="1828.2,2383.1 1846.9,2378.6 1868.5,2363.6 1849.7,2368.2" fill="#f6a84a" stroke="#875c29" stroke-width="2.0" stroke-linejoin="round"/>
<polygon points="1909,2345.2 1928.4,2342 1949.8,2328.1 1930.3,2331.4" fill="#f76e51" stroke="#883c2d" stroke-width="2.0" stroke-linejoin="round"/>
<polygon points="2031.9,2298 2052.3,2296.9 2073.2,2285.1 2052.7,2286.3" fill="#f95a53" stroke="#89312e" stroke-width="2.0" stroke-linejoin="round"/>
<polygon points="1592.5,2520.3 1608.9,2511.8 1631,2495.5 1614.5,2504.2" fill="#05bc6f" stroke="#03683d" stroke-width="2.0" stroke-linejoin="round"/>
<polygon points="1554.3,2545.8 1570.3,2536.6 1592.5,2520.3 1576.3,2529.7" fill="#00b096" stroke="#006152" stroke-width="2.0" stroke-linejoin="round"/>
<polygon points="1631,2495.5 1647.8,2487.6 1669.9,2471.3 1653,2479.4" fill="#18c046" stroke="#0d6926" stroke-width="2.0" stroke-linejoin="round"/>
<polygon points="1669.9,2471.3 1687.1,2464.1 1709,2447.9 1691.7,2455.3" fill="#38c627" stroke="#1f6d16" stroke-width="2.0" stroke-linejoin="round"/>
<polygon points="1748.5,2425.3 1766.4,2419.5 1788.2,2403.7 1770.2,2409.7" fill="#cde33b" stroke="#717d21" stroke-width="2.0" stroke-linejoin="round"/>
<polygon points="1788.2,2403.7 1806.6,2398.5 1828.2,2383.1 1809.8,2388.4" fill="#f0cf46" stroke="#847226" stroke-width="2.0" stroke-linejoin="round"/>
<polygon points="1868.5,2363.6 1887.6,2359.7 1909,2345.2 1889.9,2349.2" fill="#f7874e" stroke="#884a2b" stroke-width="2.0" stroke-linejoin="round"/>
<polygon points="1949.8,2328.1 1969.5,2325.6 1990.7,2312.3 1970.9,2314.9" fill="#f86053" stroke="#88352d" stroke-width="2.0" stroke-linejoin="round"/>
<polygon points="1990.7,2312.3 2010.8,2310.5 2031.9,2298 2011.7,2299.9" fill="#f95d53" stroke="#89332e" stroke-width="2.0" stroke-linejoin="round"/>
<polygon points="1532,2561.9 1547.9,2552.9 1570.3,2536.6 1554.3,2545.8" fill="#00aba4" stroke="#005e5a" stroke-width="2.0" stroke-linejoin="round"/>
<polygon points="1608.9,2511.8 1625.6,2504 1647.8,2487.6 1631,2495.5" fill="#10bf56" stroke="#09692f" stroke-width="2.0" stroke-linejoin="round"/>
<polygon points="1687.1,2464.1 1704.6,2457.7 1726.6,2441.3 1709,2447.9" fill="#67d12b" stroke="#397318" stroke-width="2.0" stroke-linejoin="round"/>
<polygon points="1726.6,2441.3 1744.5,2435.6 1766.4,2419.5 1748.5,2425.3" fill="#b2e034" stroke="#627b1d" stroke-width="2.0" stroke-linejoin="round"/>
<polygon points="1806.6,2398.5 1825.2,2394.2 1846.9,2378.6 1828.2,2383.1" fill="#f6b948" stroke="#876628" stroke-width="2.0" stroke-linejoin="round"/>
<polygon points="1846.9,2378.6 1865.9,2374.9 1887.6,2359.7 1868.5,2363.6" fill="#f7964d" stroke="#88522a" stroke-width="2.0" stroke-linejoin="round"/>
<polygon points="1887.6,2359.7 1906.9,2356.7 1928.4,2342 1909,2345.2" fill="#f87a50" stroke="#88432c" stroke-width="2.0" stroke-linejoin="round"/>
<polygon points="1928.4,2342 1948.1,2339.7 1969.5,2325.6 1949.8,2328.1" fill="#f96253" stroke="#89362e" stroke-width="2.0" stroke-linejoin="round"/>
<polygon points="2010.8,2310.5 2031.2,2309.6 2052.3,2296.9 2031.9,2298" fill="#fa5c53" stroke="#89322e" stroke-width="2.0" stroke-linejoin="round"/>
<polygon points="2052.3,2296.9 2073,2296.6 2094,2284.7 2073.2,2285.1" fill="#fa5953" stroke="#8a312e" stroke-width="2.0" stroke-linejoin="round"/>
<polygon points="1570.3,2536.6 1586.6,2528.2 1608.9,2511.8 1592.5,2520.3" fill="#00ba7f" stroke="#006646" stroke-width="2.0" stroke-linejoin="round"/>
<polygon points="1647.8,2487.6 1664.9,2480.5 1687.1,2464.1 1669.9,2471.3" fill="#22c22e" stroke="#136b19" stroke-width="2.0" stroke-linejoin="round"/>
<polygon points="1766.4,2419.5 1784.7,2414.4 1806.6,2398.5 1788.2,2403.7" fill="#ece444" stroke="#827d25" stroke-width="2.0" stroke-linejoin="round"/>
<polygon points="1969.5,2325.6 1989.6,2324 2010.8,2310.5 1990.7,2312.3" fill="#f95e53" stroke="#89342e" stroke-width="2.0" stroke-linejoin="round"/>
<polygon points="1865.9,2374.9 1885.2,2372 1906.9,2356.7 1887.6,2359.7" fill="#f8874f" stroke="#894a2b" stroke-width="2.0" stroke-linejoin="round"/>
<polygon points="1547.9,2552.9 1564.1,2544.7 1586.6,2528.2 1570.3,2536.6" fill="#00b58e" stroke="#00634e" stroke-width="2.0" stroke-linejoin="round"/>
<polygon points="1509.5,2578 1525.3,2569.1 1547.9,2552.9 1532,2561.9" fill="#00a6b2" stroke="#005b62" stroke-width="2.0" stroke-linejoin="round"/>
<polygon points="1586.6,2528.2 1603.2,2520.6 1625.6,2504 1608.9,2511.8" fill="#09be67" stroke="#056939" stroke-width="2.0" stroke-linejoin="round"/>
<polygon points="1625.6,2504 1642.6,2497.2 1664.9,2480.5 1647.8,2487.6" fill="#1bc13f" stroke="#0f6a23" stroke-width="2.0" stroke-linejoin="round"/>
<polygon points="1704.6,2457.7 1722.3,2452.2 1744.5,2435.6 1726.6,2441.3" fill="#93db2f" stroke="#51791a" stroke-width="2.0" stroke-linejoin="round"/>
<polygon points="1744.5,2435.6 1762.6,2430.8 1784.7,2414.4 1766.4,2419.5" fill="#d4e53d" stroke="#757e22" stroke-width="2.0" stroke-linejoin="round"/>
<polygon points="1784.7,2414.4 1803.2,2410.2 1825.2,2394.2 1806.6,2398.5" fill="#f2ce46" stroke="#857127" stroke-width="2.0" stroke-linejoin="round"/>
<polygon points="1825.2,2394.2 1844.1,2390.6 1865.9,2374.9 1846.9,2378.6" fill="#f8a74b" stroke="#885c29" stroke-width="2.0" stroke-linejoin="round"/>
<polygon points="1906.9,2356.7 1926.5,2354.5 1948.1,2339.7 1928.4,2342" fill="#f96e52" stroke="#893d2d" stroke-width="2.0" stroke-linejoin="round"/>
<polygon points="1948.1,2339.7 1968.1,2338.2 1989.6,2324 1969.5,2325.6" fill="#fa6053" stroke="#89352e" stroke-width="2.0" stroke-linejoin="round"/>
<polygon points="1989.6,2324 2009.9,2323.1 2031.2,2309.6 2010.8,2310.5" fill="#fa5d53" stroke="#8a332e" stroke-width="2.0" stroke-linejoin="round"/>
<polygon points="2031.2,2309.6 2051.9,2309.4 2073,2296.6 2052.3,2296.9" fill="#fb5b54" stroke="#8a322e" stroke-width="2.0" stroke-linejoin="round"/>
<polygon points="2073,2296.6 2094,2297.1 2115,2285.1 2094,2284.7" fill="#fb5854" stroke="#8a302e" stroke-width="2.0" stroke-linejoin="round"/>
<polygon points="1664.9,2480.5 1682.3,2474.3 1704.6,2457.7 1687.1,2464.1" fill="#44ca28" stroke="#256f16" stroke-width="2.0" stroke-linejoin="round"/>
<polygon points="1564.1,2544.7 1580.6,2537.3 1603.2,2520.6 1586.6,2528.2" fill="#01bd78" stroke="#016842" stroke-width="2.0" stroke-linejoin="round"/>
<polygon points="1762.6,2430.8 1781.1,2426.7 1803.2,2410.2 1784.7,2414.4" fill="#eee344" stroke="#837d26" stroke-width="2.0" stroke-linejoin="round"/>
<polygon points="1844.1,2390.6 1863.2,2387.9 1885.2,2372 1865.9,2374.9" fill="#f9964d" stroke="#89532a" stroke-width="2.0" stroke-linejoin="round"/>
<polygon points="1885.2,2372 1904.7,2370 1926.5,2354.5 1906.9,2356.7" fill="#fa7b50" stroke="#89442c" stroke-width="2.0" stroke-linejoin="round"/>
<polygon points="1968.1,2338.2 1988.4,2337.5 2009.9,2323.1 1989.6,2324" fill="#fb5f54" stroke="#8a342e" stroke-width="2.0" stroke-linejoin="round"/>
<polygon points="2094,2297.1 2115.3,2298.4 2136.4,2286.3 2115,2285.1" fill="#fc5754" stroke="#8b302e" stroke-width="2.0" stroke-linejoin="round"/>
<polygon points="1642.6,2497.2 1659.9,2491.1 1682.3,2474.3 1664.9,2480.5" fill="#25c429" stroke="#146c16" stroke-width="2.0" stroke-linejoin="round"/>
<polygon points="1486.9,2594 1502.5,2585.3 1525.3,2569.1 1509.5,2578" fill="#00a0c0" stroke="#00586a" stroke-width="2.0" stroke-linejoin="round"/>
<polygon points="1525.3,2569.1 1541.4,2561.1 1564.1,2544.7 1547.9,2552.9" fill="#00af9c" stroke="#006056" stroke-width="2.0" stroke-linejoin="round"/>
<polygon points="1603.2,2520.6 1620.1,2513.9 1642.6,2497.2 1625.6,2504" fill="#13c150" stroke="#0b6a2c" stroke-width="2.0" stroke-linejoin="round"/>
<polygon points="1682.3,2474.3 1700,2468.9 1722.3,2452.2 1704.6,2457.7" fill="#70d42c" stroke="#3e7518" stroke-width="2.0" stroke-linejoin="round"/>
<polygon points="1722.3,2452.2 1740.4,2447.4 1762.6,2430.8 1744.5,2435.6" fill="#b8e236" stroke="#657c1d" stroke-width="2.0" stroke-linejoin="round"/>
<polygon points="1803.2,2410.2 1822,2406.9 1844.1,2390.6 1825.2,2394.2" fill="#f8b949" stroke="#886628" stroke-width="2.0" stroke-linejoin="round"/>
<polygon points="1926.5,2354.5 1946.4,2353.1 1968.1,2338.2 1948.1,2339.7" fill="#fa6453" stroke="#8a372e" stroke-width="2.0" stroke-linejoin="round"/>
<polygon points="2009.9,2323.1 2030.5,2323.1 2051.9,2309.4 2031.2,2309.6" fill="#fb5c54" stroke="#8a332e" stroke-width="2.0" stroke-linejoin="round"/>
<polygon points="2051.9,2309.4 2072.8,2310 2094,2297.1 2073,2296.6" fill="#fc5a54" stroke="#8a312e" stroke-width="2.0" stroke-linejoin="round"/>
<polygon points="1580.6,2537.3 1597.4,2530.8 1620.1,2513.9 1603.2,2520.6" fill="#0cc061" stroke="#076935" stroke-width="2.0" stroke-linejoin="round"/>
<polygon points="1464,2609.9 1479.6,2601.4 1502.5,2585.3 1486.9,2594" fill="#008ebb" stroke="#004e67" stroke-width="2.0" stroke-linejoin="round"/>
<polygon points="1541.4,2561.1 1557.8,2553.9 1580.6,2537.3 1564.1,2544.7" fill="#00b987" stroke="#00664a" stroke-width="2.0" stroke-linejoin="round"/>
<polygon points="1659.9,2491.1 1677.5,2485.9 1700,2468.9 1682.3,2474.3" fill="#4ccd29" stroke="#2a7117" stroke-width="2.0" stroke-linejoin="round"/>
<polygon points="1740.4,2447.4 1758.7,2443.6 1781.1,2426.7 1762.6,2430.8" fill="#d8e63e" stroke="#777f22" stroke-width="2.0" stroke-linejoin="round"/>
<polygon points="1781.1,2426.7 1799.8,2423.5 1822,2406.9 1803.2,2410.2" fill="#f4cf47" stroke="#867227" stroke-width="2.0" stroke-linejoin="round"/>
<polygon points="1822,2406.9 1841.1,2404.3 1863.2,2387.9 1844.1,2390.6" fill="#f9a94b" stroke="#895d29" stroke-width="2.0" stroke-linejoin="round"/>
<polygon points="1863.2,2387.9 1882.7,2386 1904.7,2370 1885.2,2372" fill="#fa894f" stroke="#894b2b" stroke-width="2.0" stroke-linejoin="round"/>
<polygon points="1904.7,2370 1924.5,2368.7 1946.4,2353.1 1926.5,2354.5" fill="#fb7152" stroke="#8a3e2d" stroke-width="2.0" stroke-linejoin="round"/>
<polygon points="1946.4,2353.1 1966.6,2352.6 1988.4,2337.5 1968.1,2338.2" fill="#fb6154" stroke="#8a362e" stroke-width="2.0" stroke-linejoin="round"/>
<polygon points="1988.4,2337.5 2008.9,2337.6 2030.5,2323.1 2009.9,2323.1" fill="#fc5e54" stroke="#8b342e" stroke-width="2.0" stroke-linejoin="round"/>
<polygon points="2072.8,2310 2094,2311.4 2115.3,2298.4 2094,2297.1" fill="#fd5954" stroke="#8b312e" stroke-width="2.0" stroke-linejoin="round"/>
<polygon points="2115.3,2298.4 2136.9,2300.4 2158,2288.2 2136.4,2286.3" fill="#fd5754" stroke="#8b302e" stroke-width="2.0" stroke-linejoin="round"/>
<polygon points="1502.5,2585.3 1518.5,2577.5 1541.4,2561.1 1525.3,2569.1" fill="#00aaaa" stroke="#005d5e" stroke-width="2.0" stroke-linejoin="round"/>
<polygon points="1620.1,2513.9 1637.3,2508.1 1659.9,2491.1 1642.6,2497.2" fill="#1dc33a" stroke="#106b20" stroke-width="2.0" stroke-linejoin="round"/>
<polygon points="1700,2468.9 1717.9,2464.4 1740.4,2447.4 1722.3,2452.2" fill="#99de2f" stroke="#547a1a" stroke-width="2.0" stroke-linejoin="round"/>
<polygon points="2030.5,2323.1 2051.4,2323.8 2072.8,2310 2051.9,2309.4" fill="#fc5c54" stroke="#8b322e" stroke-width="2.0" stroke-linejoin="round"/>
<polygon points="1799.8,2423.5 1818.8,2421.1 1841.1,2404.3 1822,2406.9" fill="#f9bc49" stroke="#896728" stroke-width="2.0" stroke-linejoin="round"/>
<polygon points="1924.5,2368.7 1944.6,2368.3 1966.6,2352.6 1946.4,2353.1" fill="#fc6753" stroke="#8a392e" stroke-width="2.0" stroke-linejoin="round"/>
<polygon points="2136.9,2300.4 2158.7,2303.2 2179.8,2290.9 2158,2288.2" fill="#fe5655" stroke="#8c2f2f" stroke-width="2.0" stroke-linejoin="round"/>
<polygon points="1597.4,2530.8 1614.4,2525.1 1637.3,2508.1 1620.1,2513.9" fill="#16c24b" stroke="#0c6b29" stroke-width="2.0" stroke-linejoin="round"/>
<polygon points="1440.9,2625.5 1456.4,2617.2 1479.6,2601.4 1464,2609.9" fill="#0077ae" stroke="#004160" stroke-width="2.0" stroke-linejoin="round"/>
<polygon points="1479.6,2601.4 1495.4,2593.7 1518.5,2577.5 1502.5,2585.3" fill="#00a5b8" stroke="#005b65" stroke-width="2.0" stroke-linejoin="round"/>
<polygon points="1518.5,2577.5 1534.8,2570.5 1557.8,2553.9 1541.4,2561.1" fill="#00b395" stroke="#006352" stroke-width="2.0" stroke-linejoin="round"/>
<polygon points="1557.8,2553.9 1574.5,2547.6 1597.4,2530.8 1580.6,2537.3" fill="#05bf71" stroke="#02693e" stroke-width="2.0" stroke-linejoin="round"/>
<polygon points="1637.3,2508.1 1654.7,2503.1 1677.5,2485.9 1659.9,2491.1" fill="#29c527" stroke="#166d15" stroke-width="2.0" stroke-linejoin="round"/>
<polygon points="1677.5,2485.9 1695.3,2481.6 1717.9,2464.4 1700,2468.9" fill="#75d62d" stroke="#407619" stroke-width="2.0" stroke-linejoin="round"/>
<polygon points="1717.9,2464.4 1736.2,2460.7 1758.7,2443.6 1740.4,2447.4" fill="#bbe336" stroke="#677d1e" stroke-width="2.0" stroke-linejoin="round"/>
<polygon points="1758.7,2443.6 1777.3,2440.5 1799.8,2423.5 1781.1,2426.7" fill="#f0e545" stroke="#847e26" stroke-width="2.0" stroke-linejoin="round"/>
<polygon points="1841.1,2404.3 1860.5,2402.6 1882.7,2386 1863.2,2387.9" fill="#fa994d" stroke="#8a542a" stroke-width="2.0" stroke-linejoin="round"/>
<polygon points="1882.7,2386 1902.4,2384.9 1924.5,2368.7 1904.7,2370" fill="#fb7e51" stroke="#8a452c" stroke-width="2.0" stroke-linejoin="round"/>
<polygon points="1966.6,2352.6 1987.1,2352.8 2008.9,2337.6 1988.4,2337.5" fill="#fc6054" stroke="#8b352e" stroke-width="2.0" stroke-linejoin="round"/>
<polygon points="2008.9,2337.6 2029.7,2338.4 2051.4,2323.8 2030.5,2323.1" fill="#fd5d54" stroke="#8b332e" stroke-width="2.0" stroke-linejoin="round"/>
<polygon points="2051.4,2323.8 2072.5,2325.3 2094,2311.4 2072.8,2310" fill="#fd5b54" stroke="#8b322e" stroke-width="2.0" stroke-linejoin="round"/>
<polygon points="2094,2311.4 2115.6,2313.6 2136.9,2300.4 2115.3,2298.4" fill="#fe5855" stroke="#8b312e" stroke-width="2.0" stroke-linejoin="round"/>
<polygon points="1614.4,2525.1 1631.8,2520.3 1654.7,2503.1 1637.3,2508.1" fill="#1fc437" stroke="#116c1e" stroke-width="2.0" stroke-linejoin="round"/>
<polygon points="1695.3,2481.6 1713.5,2478 1736.2,2460.7 1717.9,2464.4" fill="#9cdf30" stroke="#567b1a" stroke-width="2.0" stroke-linejoin="round"/>
<polygon points="1777.3,2440.5 1796.3,2438.3 1818.8,2421.1 1799.8,2423.5" fill="#f5d247" stroke="#877327" stroke-width="2.0" stroke-linejoin="round"/>
<polygon points="1818.8,2421.1 1838.1,2419.5 1860.5,2402.6 1841.1,2404.3" fill="#faac4b" stroke="#8a5f29" stroke-width="2.0" stroke-linejoin="round"/>
<polygon points="1902.4,2384.9 1922.5,2384.6 1944.6,2368.3 1924.5,2368.7" fill="#fc7552" stroke="#8b402d" stroke-width="2.0" stroke-linejoin="round"/>
<polygon points="1944.6,2368.3 1965,2368.7 1987.1,2352.8 1966.6,2352.6" fill="#fd6254" stroke="#8b362e" stroke-width="2.0" stroke-linejoin="round"/>
<polygon points="2029.7,2338.4 2050.8,2340.1 2072.5,2325.3 2051.4,2323.8" fill="#fe5d55" stroke="#8c332f" stroke-width="2.0" stroke-linejoin="round"/>
<polygon points="2115.6,2313.6 2137.4,2316.5 2158.7,2303.2 2136.9,2300.4" fill="#fe5855" stroke="#8c302f" stroke-width="2.0" stroke-linejoin="round"/>
<polygon points="2158.7,2303.2 2180.9,2306.8 2202,2294.4 2179.8,2290.9" fill="#fe5655" stroke="#8c2f2f" stroke-width="2.0" stroke-linejoin="round"/>
<polygon points="1495.4,2593.7 1511.6,2586.9 1534.8,2570.5 1518.5,2577.5" fill="#00aea3" stroke="#00605a" stroke-width="2.0" stroke-linejoin="round"/>
<polygon points="1574.5,2547.6 1591.4,2542.1 1614.4,2525.1 1597.4,2530.8" fill="#0ec15c" stroke="#086a33" stroke-width="2.0" stroke-linejoin="round"/>
<polygon points="1417.6,2640.8 1432.9,2632.7 1456.4,2617.2 1440.9,2625.5" fill="#0060a2" stroke="#003559" stroke-width="2.0" stroke-linejoin="round"/>
<polygon points="1456.4,2617.2 1472.1,2609.7 1495.4,2593.7 1479.6,2601.4" fill="#00a0c5" stroke="#00586c" stroke-width="2.0" stroke-linejoin="round"/>
<polygon points="1534.8,2570.5 1551.3,2564.3 1574.5,2547.6 1557.8,2553.9" fill="#00bc81" stroke="#006747" stroke-width="2.0" stroke-linejoin="round"/>
<polygon points="1654.7,2503.1 1672.5,2498.9 1695.3,2481.6 1677.5,2485.9" fill="#51cf2a" stroke="#2d7217" stroke-width="2.0" stroke-linejoin="round"/>
<polygon points="1736.2,2460.7 1754.7,2457.8 1777.3,2440.5 1758.7,2443.6" fill="#d8e73e" stroke="#777f22" stroke-width="2.0" stroke-linejoin="round"/>
<polygon points="1860.5,2402.6 1880.2,2401.6 1902.4,2384.9 1882.7,2386" fill="#fb8c4f" stroke="#8a4d2c" stroke-width="2.0" stroke-linejoin="round"/>
<polygon points="1987.1,2352.8 2007.8,2353.8 2029.7,2338.4 2008.9,2337.6" fill="#fd5f54" stroke="#8b352e" stroke-width="2.0" stroke-linejoin="round"/>
<polygon points="2072.5,2325.3 2094,2327.6 2115.6,2313.6 2094,2311.4" fill="#fe5a55" stroke="#8c322f" stroke-width="2.0" stroke-linejoin="round"/>
<polygon points="1394.1,2655.8 1409.3,2647.8 1432.9,2632.7 1417.6,2640.8" fill="#004c97" stroke="#002a53" stroke-width="2.0" stroke-linejoin="round"/>
<polygon points="1432.9,2632.7 1448.6,2625.4 1472.1,2609.7 1456.4,2617.2" fill="#0089b9" stroke="#004c66" stroke-width="2.0" stroke-linejoin="round"/>
<polygon points="1472.1,2609.7 1488.1,2603.1 1511.6,2586.9 1495.4,2593.7" fill="#00a9b0" stroke="#005d61" stroke-width="2.0" stroke-linejoin="round"/>
<polygon points="1511.6,2586.9 1528,2580.9 1551.3,2564.3 1534.8,2570.5" fill="#00b78f" stroke="#00644f" stroke-width="2.0" stroke-linejoin="round"/>
<polygon points="1551.3,2564.3 1568.2,2559 1591.4,2542.1 1574.5,2547.6" fill="#07c06c" stroke="#046a3c" stroke-width="2.0" stroke-linejoin="round"/>
<polygon points="1591.4,2542.1 1608.7,2537.4 1631.8,2520.3 1614.4,2525.1" fill="#18c348" stroke="#0d6b27" stroke-width="2.0" stroke-linejoin="round"/>
<polygon points="1631.8,2520.3 1649.5,2516.3 1672.5,2498.9 1654.7,2503.1" fill="#2dc727" stroke="#196e16" stroke-width="2.0" stroke-linejoin="round"/>
<polygon points="1672.5,2498.9 1690.5,2495.5 1713.5,2478 1695.3,2481.6" fill="#77d82d" stroke="#417719" stroke-width="2.0" stroke-linejoin="round"/>
<polygon points="1713.5,2478 1731.9,2475.3 1754.7,2457.8 1736.2,2460.7" fill="#bae436" stroke="#677e1e" stroke-width="2.0" stroke-linejoin="round"/>
<polygon points="1754.7,2457.8 1773.5,2455.8 1796.3,2438.3 1777.3,2440.5" fill="#f0e845" stroke="#848026" stroke-width="2.0" stroke-linejoin="round"/>
<polygon points="1796.3,2438.3 1815.5,2436.9 1838.1,2419.5 1818.8,2421.1" fill="#f9c049" stroke="#896a28" stroke-width="2.0" stroke-linejoin="round"/>
<polygon points="1838.1,2419.5 1857.7,2418.8 1880.2,2401.6 1860.5,2402.6" fill="#fc9f4d" stroke="#8a572a" stroke-width="2.0" stroke-linejoin="round"/>
<polygon points="1880.2,2401.6 1900.1,2401.5 1922.5,2384.6 1902.4,2384.9" fill="#fc8351" stroke="#8b482c" stroke-width="2.0" stroke-linejoin="round"/>
<polygon points="1922.5,2384.6 1942.8,2385.1 1965,2368.7 1944.6,2368.3" fill="#fd6c53" stroke="#8b3b2e" stroke-width="2.0" stroke-linejoin="round"/>
<polygon points="1965,2368.7 1985.7,2369.8 2007.8,2353.8 1987.1,2352.8" fill="#fe6255" stroke="#8c362f" stroke-width="2.0" stroke-linejoin="round"/>
<polygon points="2007.8,2353.8 2028.9,2355.5 2050.8,2340.1 2029.7,2338.4" fill="#fe5f55" stroke="#8c342f" stroke-width="2.0" stroke-linejoin="round"/>
<polygon points="2050.8,2340.1 2072.2,2342.5 2094,2327.6 2072.5,2325.3" fill="#ff5c55" stroke="#8c332f" stroke-width="2.0" stroke-linejoin="round"/>
<polygon points="2094,2327.6 2115.8,2330.6 2137.4,2316.5 2115.6,2313.6" fill="#ff5a55" stroke="#8c312f" stroke-width="2.0" stroke-linejoin="round"/>
<polygon points="2137.4,2316.5 2159.4,2320.1 2180.9,2306.8 2158.7,2303.2" fill="#ff5855" stroke="#8c302f" stroke-width="2.0" stroke-linejoin="round"/>
<polygon points="2180.9,2306.8 2203.3,2311.1 2224.5,2298.6 2202,2294.4" fill="#ff5655" stroke="#8c2f2f" stroke-width="2.0" stroke-linejoin="round"/>
<polygon points="1649.5,2516.3 1667.4,2513.1 1690.5,2495.5 1672.5,2498.9" fill="#53d02a" stroke="#2e7217" stroke-width="2.0" stroke-linejoin="round"/>
<polygon points="1731.9,2475.3 1750.6,2473.4 1773.5,2455.8 1754.7,2457.8" fill="#d5e83d" stroke="#758022" stroke-width="2.0" stroke-linejoin="round"/>
<polygon points="1857.7,2418.8 1877.5,2418.8 1900.1,2401.5 1880.2,2401.6" fill="#fd924f" stroke="#8b502b" stroke-width="2.0" stroke-linejoin="round"/>
<polygon points="1985.7,2369.8 2006.7,2371.7 2028.9,2355.5 2007.8,2353.8" fill="#ff6155" stroke="#8c352f" stroke-width="2.0" stroke-linejoin="round"/>
<polygon points="2072.2,2342.5 2093.9,2345.6 2115.8,2330.6 2094,2327.6" fill="#ff5c55" stroke="#8c322f" stroke-width="2.0" stroke-linejoin="round"/>
<polygon points="1448.6,2625.4 1464.5,2618.9 1488.1,2603.1 1472.1,2609.7" fill="#00a4bd" stroke="#005a68" stroke-width="2.0" stroke-linejoin="round"/>
<polygon points="1528,2580.9 1544.8,2575.8 1568.2,2559 1551.3,2564.3" fill="#00bf7c" stroke="#006944" stroke-width="2.0" stroke-linejoin="round"/>
<polygon points="1409.3,2647.8 1424.8,2640.7 1448.6,2625.4 1432.9,2632.7" fill="#0074ad" stroke="#00405f" stroke-width="2.0" stroke-linejoin="round"/>
<polygon points="1488.1,2603.1 1504.5,2597.3 1528,2580.9 1511.6,2586.9" fill="#00b19d" stroke="#006256" stroke-width="2.0" stroke-linejoin="round"/>
<polygon points="1568.2,2559 1585.3,2554.5 1608.7,2537.4 1591.4,2542.1" fill="#10c258" stroke="#096b31" stroke-width="2.0" stroke-linejoin="round"/>
<polygon points="1608.7,2537.4 1626.2,2533.6 1649.5,2516.3 1631.8,2520.3" fill="#20c535" stroke="#126c1d" stroke-width="2.0" stroke-linejoin="round"/>
<polygon points="1690.5,2495.5 1708.9,2493 1731.9,2475.3 1713.5,2478" fill="#9ae030" stroke="#557b1a" stroke-width="2.0" stroke-linejoin="round"/>
<polygon points="1773.5,2455.8 1792.7,2454.5 1815.5,2436.9 1796.3,2438.3" fill="#f5d747" stroke="#877627" stroke-width="2.0" stroke-linejoin="round"/>
<polygon points="1815.5,2436.9 1835,2436.3 1857.7,2418.8 1838.1,2419.5" fill="#fcb24b" stroke="#8a6229" stroke-width="2.0" stroke-linejoin="round"/>
<polygon points="1900.1,2401.5 1920.4,2402.1 1942.8,2385.1 1922.5,2384.6" fill="#fd7a52" stroke="#8b432d" stroke-width="2.0" stroke-linejoin="round"/>
<polygon points="1942.8,2385.1 1963.4,2386.4 1985.7,2369.8 1965,2368.7" fill="#fe6455" stroke="#8c372f" stroke-width="2.0" stroke-linejoin="round"/>
<polygon points="2028.9,2355.5 2050.2,2358.1 2072.2,2342.5 2050.8,2340.1" fill="#ff5e55" stroke="#8c342f" stroke-width="2.0" stroke-linejoin="round"/>
<polygon points="2115.8,2330.6 2137.8,2334.4 2159.4,2320.1 2137.4,2316.5" fill="#ff5955" stroke="#8c312f" stroke-width="2.0" stroke-linejoin="round"/>
<polygon points="2159.4,2320.1 2181.8,2324.5 2203.3,2311.1 2180.9,2306.8" fill="#ff5755" stroke="#8c302f" stroke-width="2.0" stroke-linejoin="round"/>
<polygon points="1626.2,2533.6 1644.1,2530.6 1667.4,2513.1 1649.5,2516.3" fill="#2fc927" stroke="#1a6e16" stroke-width="2.0" stroke-linejoin="round"/>
<polygon points="1667.4,2513.1 1685.6,2510.7 1708.9,2493 1690.5,2495.5" fill="#76d82d" stroke="#417719" stroke-width="2.0" stroke-linejoin="round"/>
<polygon points="1708.9,2493 1727.5,2491.3 1750.6,2473.4 1731.9,2475.3" fill="#b7e535" stroke="#657e1d" stroke-width="2.0" stroke-linejoin="round"/>
<polygon points="1750.6,2473.4 1769.6,2472.4 1792.7,2454.5 1773.5,2455.8" fill="#eeec44" stroke="#838225" stroke-width="2.0" stroke-linejoin="round"/>
<polygon points="1835,2436.3 1854.8,2436.4 1877.5,2418.8 1857.7,2418.8" fill="#fda64d" stroke="#8b5b2a" stroke-width="2.0" stroke-linejoin="round"/>
<polygon points="1877.5,2418.8 1897.7,2419.6 1920.4,2402.1 1900.1,2401.5" fill="#fe8950" stroke="#8b4b2c" stroke-width="2.0" stroke-linejoin="round"/>
<polygon points="1963.4,2386.4 1984.3,2388.5 2006.7,2371.7 1985.7,2369.8" fill="#ff6355" stroke="#8c362f" stroke-width="2.0" stroke-linejoin="round"/>
<polygon points="2006.7,2371.7 2028,2374.4 2050.2,2358.1 2028.9,2355.5" fill="#ff6055" stroke="#8c352f" stroke-width="2.0" stroke-linejoin="round"/>
<polygon points="2050.2,2358.1 2071.9,2361.3 2093.9,2345.6 2072.2,2342.5" fill="#ff5e55" stroke="#8c342f" stroke-width="2.0" stroke-linejoin="round"/>
<polygon points="2093.9,2345.6 2115.9,2349.5 2137.8,2334.4 2115.8,2330.6" fill="#ff5b55" stroke="#8c322f" stroke-width="2.0" stroke-linejoin="round"/>
<polygon points="1424.8,2640.7 1440.6,2634.4 1464.5,2618.9 1448.6,2625.4" fill="#009bc3" stroke="#00556b" stroke-width="2.0" stroke-linejoin="round"/>
<polygon points="1464.5,2618.9 1480.7,2613.3 1504.5,2597.3 1488.1,2603.1" fill="#00aca9" stroke="#005f5d" stroke-width="2.0" stroke-linejoin="round"/>
<polygon points="1504.5,2597.3 1521.1,2592.3 1544.8,2575.8 1528,2580.9" fill="#00ba8a" stroke="#00664c" stroke-width="2.0" stroke-linejoin="round"/>
<polygon points="1544.8,2575.8 1561.8,2571.5 1585.3,2554.5 1568.2,2559" fill="#09c169" stroke="#056a3a" stroke-width="2.0" stroke-linejoin="round"/>
<polygon points="1585.3,2554.5 1602.8,2550.9 1626.2,2533.6 1608.7,2537.4" fill="#19c446" stroke="#0e6c26" stroke-width="2.0" stroke-linejoin="round"/>
<polygon points="1792.7,2454.5 1812.1,2454.1 1835,2436.3 1815.5,2436.9" fill="#f9c849" stroke="#896e28" stroke-width="2.0" stroke-linejoin="round"/>
<polygon points="1920.4,2402.1 1940.9,2403.6 1963.4,2386.4 1942.8,2385.1" fill="#fe7353" stroke="#8c3f2e" stroke-width="2.0" stroke-linejoin="round"/>
<polygon points="2137.8,2334.4 2160.1,2338.9 2181.8,2324.5 2159.4,2320.1" fill="#ff5955" stroke="#8c312f" stroke-width="2.0" stroke-linejoin="round"/>
<polygon points="1685.6,2510.7 1704.2,2509.2 1727.5,2491.3 1708.9,2493" fill="#96e030" stroke="#537b1a" stroke-width="2.0" stroke-linejoin="round"/>
<polygon points="2028,2374.4 2049.6,2377.8 2071.9,2361.3 2050.2,2358.1" fill="#ff6055" stroke="#8c352f" stroke-width="2.0" stroke-linejoin="round"/>
<polygon points="1480.7,2613.3 1497.2,2608.5 1521.1,2592.3 1504.5,2597.3" fill="#00b497" stroke="#006353" stroke-width="2.0" stroke-linejoin="round"/>
<polygon points="1602.8,2550.9 1620.5,2548.1 1644.1,2530.6 1626.2,2533.6" fill="#21c634" stroke="#126d1d" stroke-width="2.0" stroke-linejoin="round"/>
<polygon points="1440.6,2634.4 1456.7,2629 1480.7,2613.3 1464.5,2618.9" fill="#00a7b6" stroke="#005c64" stroke-width="2.0" stroke-linejoin="round"/>
<polygon points="1521.1,2592.3 1538,2588.2 1561.8,2571.5 1544.8,2575.8" fill="#02c078" stroke="#016a42" stroke-width="2.0" stroke-linejoin="round"/>
<polygon points="1644.1,2530.6 1662.2,2528.4 1685.6,2510.7 1667.4,2513.1" fill="#52d12a" stroke="#2d7317" stroke-width="2.0" stroke-linejoin="round"/>
<polygon points="1727.5,2491.3 1746.4,2490.4 1769.6,2472.4 1750.6,2473.4" fill="#d0e93c" stroke="#728021" stroke-width="2.0" stroke-linejoin="round"/>
<polygon points="1769.6,2472.4 1789,2472.1 1812.1,2454.1 1792.7,2454.5" fill="#f5df47" stroke="#877a27" stroke-width="2.0" stroke-linejoin="round"/>
<polygon points="1812.1,2454.1 1831.8,2454.4 1854.8,2436.4 1835,2436.3" fill="#fdba4b" stroke="#8b6629" stroke-width="2.0" stroke-linejoin="round"/>
<polygon points="1854.8,2436.4 1874.8,2437.4 1897.7,2419.6 1877.5,2418.8" fill="#fe9b4e" stroke="#8c552b" stroke-width="2.0" stroke-linejoin="round"/>
<polygon points="1897.7,2419.6 1918.2,2421.2 1940.9,2403.6 1920.4,2402.1" fill="#fe8251" stroke="#8c472d" stroke-width="2.0" stroke-linejoin="round"/>
<polygon points="1940.9,2403.6 1961.7,2405.8 1984.3,2388.5 1963.4,2386.4" fill="#ff6c54" stroke="#8c3b2e" stroke-width="2.0" stroke-linejoin="round"/>
<polygon points="1984.3,2388.5 2005.5,2391.3 2028,2374.4 2006.7,2371.7" fill="#ff6255" stroke="#8c362f" stroke-width="2.0" stroke-linejoin="round"/>
<polygon points="2071.9,2361.3 2093.8,2365.4 2115.9,2349.5 2093.9,2345.6" fill="#ff5d56" stroke="#8c332f" stroke-width="2.0" stroke-linejoin="round"/>
<polygon points="2115.9,2349.5 2138.2,2354.1 2160.1,2338.9 2137.8,2334.4" fill="#ff5b56" stroke="#8c322f" stroke-width="2.0" stroke-linejoin="round"/>
<polygon points="1561.8,2571.5 1579.1,2568 1602.8,2550.9 1585.3,2554.5" fill="#12c356" stroke="#0a6b2f" stroke-width="2.0" stroke-linejoin="round"/>
<polygon points="1662.2,2528.4 1680.6,2527.1 1704.2,2509.2 1685.6,2510.7" fill="#72d82d" stroke="#3f7719" stroke-width="2.0" stroke-linejoin="round"/>
<polygon points="1704.2,2509.2 1723,2508.4 1746.4,2490.4 1727.5,2491.3" fill="#b2e534" stroke="#627e1d" stroke-width="2.0" stroke-linejoin="round"/>
<polygon points="1789,2472.1 1808.6,2472.6 1831.8,2454.4 1812.1,2454.1" fill="#f9d048" stroke="#897328" stroke-width="2.0" stroke-linejoin="round"/>
<polygon points="1918.2,2421.2 1938.9,2423.5 1961.7,2405.8 1940.9,2403.6" fill="#ff7b53" stroke="#8c442d" stroke-width="2.0" stroke-linejoin="round"/>
<polygon points="2005.5,2391.3 2027.1,2394.8 2049.6,2377.8 2028,2374.4" fill="#ff6255" stroke="#8c362f" stroke-width="2.0" stroke-linejoin="round"/>
<polygon points="2049.6,2377.8 2071.4,2381.9 2093.8,2365.4 2071.9,2361.3" fill="#ff5f56" stroke="#8c342f" stroke-width="2.0" stroke-linejoin="round"/>
<polygon points="1579.1,2568 1596.7,2565.4 1620.5,2548.1 1602.8,2550.9" fill="#1ac545" stroke="#0e6c26" stroke-width="2.0" stroke-linejoin="round"/>
<polygon points="1456.7,2629 1473.1,2624.4 1497.2,2608.5 1480.7,2613.3" fill="#00afa3" stroke="#00605a" stroke-width="2.0" stroke-linejoin="round"/>
<polygon points="1497.2,2608.5 1514,2604.6 1538,2588.2 1521.1,2592.3" fill="#00bc86" stroke="#00674a" stroke-width="2.0" stroke-linejoin="round"/>
<polygon points="1620.5,2548.1 1638.5,2546.1 1662.2,2528.4 1644.1,2530.6" fill="#2ec928" stroke="#196f16" stroke-width="2.0" stroke-linejoin="round"/>
<polygon points="1538,2588.2 1555.2,2584.9 1579.1,2568 1561.8,2571.5" fill="#0ac266" stroke="#066b38" stroke-width="2.0" stroke-linejoin="round"/>
<polygon points="1746.4,2490.4 1765.7,2490.3 1789,2472.1 1769.6,2472.4" fill="#e7ec42" stroke="#7f8224" stroke-width="2.0" stroke-linejoin="round"/>
<polygon points="1831.8,2454.4 1851.8,2455.5 1874.8,2437.4 1854.8,2436.4" fill="#feaf4c" stroke="#8c602a" stroke-width="2.0" stroke-linejoin="round"/>
<polygon points="1874.8,2437.4 1895.2,2439.1 1918.2,2421.2 1897.7,2419.6" fill="#ff9150" stroke="#8c502c" stroke-width="2.0" stroke-linejoin="round"/>
<polygon points="1961.7,2405.8 1982.9,2408.7 2005.5,2391.3 1984.3,2388.5" fill="#ff6655" stroke="#8c382f" stroke-width="2.0" stroke-linejoin="round"/>
<polygon points="2093.8,2365.4 2116,2370.1 2138.2,2354.1 2115.9,2349.5" fill="#ff5d56" stroke="#8c332f" stroke-width="2.0" stroke-linejoin="round"/>
<polygon points="1638.5,2546.1 1656.9,2544.9 1680.6,2527.1 1662.2,2528.4" fill="#4ed12a" stroke="#2b7317" stroke-width="2.0" stroke-linejoin="round"/>
<polygon points="1473.1,2624.4 1489.8,2620.6 1514,2604.6 1497.2,2608.5" fill="#00b792" stroke="#006551" stroke-width="2.0" stroke-linejoin="round"/>
<polygon points="1555.2,2584.9 1572.8,2582.4 1596.7,2565.4 1579.1,2568" fill="#12c455" stroke="#0a6c2f" stroke-width="2.0" stroke-linejoin="round"/>
<polygon points="1596.7,2565.4 1614.7,2563.5 1638.5,2546.1 1620.5,2548.1" fill="#21c734" stroke="#126d1d" stroke-width="2.0" stroke-linejoin="round"/>
<polygon points="1680.6,2527.1 1699.4,2526.5 1723,2508.4 1704.2,2509.2" fill="#8fdf2f" stroke="#4f7b1a" stroke-width="2.0" stroke-linejoin="round"/>
<polygon points="1723,2508.4 1742.1,2508.5 1765.7,2490.3 1746.4,2490.4" fill="#c8e93a" stroke="#6e8020" stroke-width="2.0" stroke-linejoin="round"/>
<polygon points="1765.7,2490.3 1785.2,2490.9 1808.6,2472.6 1789,2472.1" fill="#f4e846" stroke="#867f27" stroke-width="2.0" stroke-linejoin="round"/>
<polygon points="1808.6,2472.6 1828.5,2473.9 1851.8,2455.5 1831.8,2454.4" fill="#fcc44a" stroke="#8b6c29" stroke-width="2.0" stroke-linejoin="round"/>
<polygon points="1895.2,2439.1 1915.9,2441.7 1938.9,2423.5 1918.2,2421.2" fill="#ff8a51" stroke="#8c4c2c" stroke-width="2.0" stroke-linejoin="round"/>
<polygon points="1938.9,2423.5 1960,2426.6 1982.9,2408.7 1961.7,2405.8" fill="#ff7553" stroke="#8c402e" stroke-width="2.0" stroke-linejoin="round"/>
<polygon points="1982.9,2408.7 2004.3,2412.4 2027.1,2394.8 2005.5,2391.3" fill="#ff6456" stroke="#8c372f" stroke-width="2.0" stroke-linejoin="round"/>
<polygon points="2027.1,2394.8 2048.9,2399.1 2071.4,2381.9 2049.6,2377.8" fill="#ff6256" stroke="#8c362f" stroke-width="2.0" stroke-linejoin="round"/>
<polygon points="2071.4,2381.9 2093.6,2386.8 2116,2370.1 2093.8,2365.4" fill="#ff5f56" stroke="#8c342f" stroke-width="2.0" stroke-linejoin="round"/>
<polygon points="1514,2604.6 1531.1,2601.5 1555.2,2584.9 1538,2588.2" fill="#04c175" stroke="#026a40" stroke-width="2.0" stroke-linejoin="round"/>
<polygon points="1851.8,2455.5 1872.1,2457.4 1895.2,2439.1 1874.8,2437.4" fill="#ffa54e" stroke="#8c5b2b" stroke-width="2.0" stroke-linejoin="round"/>
<polygon points="1614.7,2563.5 1632.9,2562.5 1656.9,2544.9 1638.5,2546.1" fill="#2bc927" stroke="#186f16" stroke-width="2.0" stroke-linejoin="round"/>
<polygon points="1742.1,2508.5 1761.6,2509.3 1785.2,2490.9 1765.7,2490.3" fill="#ddec3f" stroke="#798223" stroke-width="2.0" stroke-linejoin="round"/>
<polygon points="1960,2426.6 1981.4,2430.5 2004.3,2412.4 1982.9,2408.7" fill="#ff7054" stroke="#8c3e2e" stroke-width="2.0" stroke-linejoin="round"/>
<polygon points="1531.1,2601.5 1548.5,2599.2 1572.8,2582.4 1555.2,2584.9" fill="#0bc364" stroke="#066b37" stroke-width="2.0" stroke-linejoin="round"/>
<polygon points="1489.8,2620.6 1506.8,2617.6 1531.1,2601.5 1514,2604.6" fill="#00be83" stroke="#006948" stroke-width="2.0" stroke-linejoin="round"/>
<polygon points="1572.8,2582.4 1590.6,2580.8 1614.7,2563.5 1596.7,2565.4" fill="#1ac645" stroke="#0e6d26" stroke-width="2.0" stroke-linejoin="round"/>
<polygon points="1656.9,2544.9 1675.5,2544.5 1699.4,2526.5 1680.6,2527.1" fill="#6bd82d" stroke="#3b7719" stroke-width="2.0" stroke-linejoin="round"/>
<polygon points="1699.4,2526.5 1718.4,2526.7 1742.1,2508.5 1723,2508.4" fill="#aae532" stroke="#5e7e1c" stroke-width="2.0" stroke-linejoin="round"/>
<polygon points="1785.2,2490.9 1805,2492.4 1828.5,2473.9 1808.6,2472.6" fill="#f8db48" stroke="#887927" stroke-width="2.0" stroke-linejoin="round"/>
<polygon points="1828.5,2473.9 1848.7,2476 1872.1,2457.4 1851.8,2455.5" fill="#ffb94b" stroke="#8c6629" stroke-width="2.0" stroke-linejoin="round"/>
<polygon points="1872.1,2457.4 1892.7,2460.1 1915.9,2441.7 1895.2,2439.1" fill="#ff9c4f" stroke="#8c562b" stroke-width="2.0" stroke-linejoin="round"/>
<polygon points="1915.9,2441.7 1936.9,2444.9 1960,2426.6 1938.9,2423.5" fill="#ff8452" stroke="#8c492d" stroke-width="2.0" stroke-linejoin="round"/>
<polygon points="2004.3,2412.4 2026.1,2416.8 2048.9,2399.1 2027.1,2394.8" fill="#ff6456" stroke="#8c372f" stroke-width="2.0" stroke-linejoin="round"/>
<polygon points="2048.9,2399.1 2071,2404.1 2093.6,2386.8 2071.4,2381.9" fill="#ff6156" stroke="#8c352f" stroke-width="2.0" stroke-linejoin="round"/>
<polygon points="1506.8,2617.6 1524.1,2615.5 1548.5,2599.2 1531.1,2601.5" fill="#05c272" stroke="#036b3f" stroke-width="2.0" stroke-linejoin="round"/>
<polygon points="1590.6,2580.8 1608.7,2579.9 1632.9,2562.5 1614.7,2563.5" fill="#21c836" stroke="#126e1e" stroke-width="2.0" stroke-linejoin="round"/>
<polygon points="1632.9,2562.5 1651.4,2562.3 1675.5,2544.5 1656.9,2544.9" fill="#48d02a" stroke="#287317" stroke-width="2.0" stroke-linejoin="round"/>
<polygon points="1718.4,2526.7 1737.7,2527.8 1761.6,2509.3 1742.1,2508.5" fill="#bfe837" stroke="#69801e" stroke-width="2.0" stroke-linejoin="round"/>
<polygon points="1761.6,2509.3 1781.3,2511 1805,2492.4 1785.2,2490.9" fill="#efee44" stroke="#848326" stroke-width="2.0" stroke-linejoin="round"/>
<polygon points="1848.7,2476 1869.2,2478.8 1892.7,2460.1 1872.1,2457.4" fill="#ffb14d" stroke="#8c612a" stroke-width="2.0" stroke-linejoin="round"/>
<polygon points="1936.9,2444.9 1958.2,2448.9 1981.4,2430.5 1960,2426.6" fill="#ff8053" stroke="#8c462d" stroke-width="2.0" stroke-linejoin="round"/>
<polygon points="1981.4,2430.5 2003,2435.1 2026.1,2416.8 2004.3,2412.4" fill="#ff6c55" stroke="#8c3c2f" stroke-width="2.0" stroke-linejoin="round"/>
<polygon points="1548.5,2599.2 1566.2,2597.7 1590.6,2580.8 1572.8,2582.4" fill="#13c554" stroke="#0a6c2e" stroke-width="2.0" stroke-linejoin="round"/>
<polygon points="1675.5,2544.5 1694.4,2544.9 1718.4,2526.7 1699.4,2526.5" fill="#86de2f" stroke="#4a7a1a" stroke-width="2.0" stroke-linejoin="round"/>
<polygon points="1805,2492.4 1825.1,2494.6 1848.7,2476 1828.5,2473.9" fill="#fbd049" stroke="#8a7228" stroke-width="2.0" stroke-linejoin="round"/>
<polygon points="1892.7,2460.1 1913.6,2463.5 1936.9,2444.9 1915.9,2441.7" fill="#ff9550" stroke="#8c522c" stroke-width="2.0" stroke-linejoin="round"/>
<polygon points="2026.1,2416.8 2048.1,2422 2071,2404.1 2048.9,2399.1" fill="#ff6356" stroke="#8c372f" stroke-width="2.0" stroke-linejoin="round"/>
<polygon points="1566.2,2597.7 1584.3,2597 1608.7,2579.9 1590.6,2580.8" fill="#1ac745" stroke="#0e6d26" stroke-width="2.0" stroke-linejoin="round"/>
<polygon points="1524.1,2615.5 1541.7,2614.2 1566.2,2597.7 1548.5,2599.2" fill="#0cc463" stroke="#076c36" stroke-width="2.0" stroke-linejoin="round"/>
<polygon points="1608.7,2579.9 1627.1,2579.9 1651.4,2562.3 1632.9,2562.5" fill="#27c928" stroke="#156f16" stroke-width="2.0" stroke-linejoin="round"/>
<polygon points="1651.4,2562.3 1670.3,2562.9 1694.4,2544.9 1675.5,2544.5" fill="#63d72c" stroke="#367618" stroke-width="2.0" stroke-linejoin="round"/>
<polygon points="1694.4,2544.9 1713.7,2546.1 1737.7,2527.8 1718.4,2526.7" fill="#9fe431" stroke="#577d1b" stroke-width="2.0" stroke-linejoin="round"/>
<polygon points="1737.7,2527.8 1757.4,2529.6 1781.3,2511 1761.6,2509.3" fill="#d1eb3c" stroke="#738121" stroke-width="2.0" stroke-linejoin="round"/>
<polygon points="1781.3,2511 1801.3,2513.4 1825.1,2494.6 1805,2492.4" fill="#f6e747" stroke="#887f27" stroke-width="2.0" stroke-linejoin="round"/>
<polygon points="1825.1,2494.6 1845.6,2497.6 1869.2,2478.8 1848.7,2476" fill="#fec64a" stroke="#8c6d29" stroke-width="2.0" stroke-linejoin="round"/>
<polygon points="1869.2,2478.8 1890.1,2482.4 1913.6,2463.5 1892.7,2460.1" fill="#ffa94e" stroke="#8c5d2b" stroke-width="2.0" stroke-linejoin="round"/>
<polygon points="1913.6,2463.5 1934.8,2467.7 1958.2,2448.9 1936.9,2444.9" fill="#ff8f51" stroke="#8c4f2d" stroke-width="2.0" stroke-linejoin="round"/>
<polygon points="1958.2,2448.9 1979.8,2453.7 2003,2435.1 1981.4,2430.5" fill="#ff7c53" stroke="#8c442e" stroke-width="2.0" stroke-linejoin="round"/>
<polygon points="2003,2435.1 2025,2440.4 2048.1,2422 2026.1,2416.8" fill="#ff6956" stroke="#8c3a2f" stroke-width="2.0" stroke-linejoin="round"/>
<polygon points="1541.7,2614.2 1559.6,2613.7 1584.3,2597 1566.2,2597.7" fill="#13c554" stroke="#0a6d2e" stroke-width="2.0" stroke-linejoin="round"/>
<polygon points="1670.3,2562.9 1689.4,2564.3 1713.7,2546.1 1694.4,2544.9" fill="#7bdc2e" stroke="#447919" stroke-width="2.0" stroke-linejoin="round"/>
<polygon points="1801.3,2513.4 1821.7,2516.6 1845.6,2497.6 1825.1,2494.6" fill="#f9dd48" stroke="#897a28" stroke-width="2.0" stroke-linejoin="round"/>
<polygon points="1890.1,2482.4 1911.2,2486.7 1934.8,2467.7 1913.6,2463.5" fill="#ffa34f" stroke="#8c592b" stroke-width="2.0" stroke-linejoin="round"/>
<polygon points="1584.3,2597 1602.6,2597.2 1627.1,2579.9 1608.7,2579.9" fill="#20c838" stroke="#126e1f" stroke-width="2.0" stroke-linejoin="round"/>
<polygon points="1627.1,2579.9 1645.9,2580.6 1670.3,2562.9 1651.4,2562.3" fill="#40cf29" stroke="#237217" stroke-width="2.0" stroke-linejoin="round"/>
<polygon points="1713.7,2546.1 1733.2,2548.1 1757.4,2529.6 1737.7,2527.8" fill="#b3e834" stroke="#627f1d" stroke-width="2.0" stroke-linejoin="round"/>
<polygon points="1757.4,2529.6 1777.3,2532.1 1801.3,2513.4 1781.3,2511" fill="#e1ee41" stroke="#7c8324" stroke-width="2.0" stroke-linejoin="round"/>
<polygon points="1845.6,2497.6 1866.3,2501.4 1890.1,2482.4 1869.2,2478.8" fill="#ffbd4c" stroke="#8c682a" stroke-width="2.0" stroke-linejoin="round"/>
<polygon points="1934.8,2467.7 1956.3,2472.6 1979.8,2453.7 1958.2,2448.9" fill="#ff8b52" stroke="#8c4d2d" stroke-width="2.0" stroke-linejoin="round"/>
<polygon points="1979.8,2453.7 2001.7,2459.1 2025,2440.4 2003,2435.1" fill="#ff7854" stroke="#8c422e" stroke-width="2.0" stroke-linejoin="round"/>
<polygon points="1559.6,2613.7 1577.8,2614 1602.6,2597.2 1584.3,2597" fill="#19c747" stroke="#0e6d27" stroke-width="2.0" stroke-linejoin="round"/>
<polygon points="1602.6,2597.2 1621.2,2598.1 1645.9,2580.6 1627.1,2579.9" fill="#26ca2b" stroke="#156f18" stroke-width="2.0" stroke-linejoin="round"/>
<polygon points="1645.9,2580.6 1664.9,2582.2 1689.4,2564.3 1670.3,2562.9" fill="#58d52b" stroke="#317518" stroke-width="2.0" stroke-linejoin="round"/>
<polygon points="1689.4,2564.3 1708.9,2566.4 1733.2,2548.1 1713.7,2546.1" fill="#91e230" stroke="#507c1a" stroke-width="2.0" stroke-linejoin="round"/>
<polygon points="1777.3,2532.1 1797.6,2535.5 1821.7,2516.6 1801.3,2513.4" fill="#f0f045" stroke="#848426" stroke-width="2.0" stroke-linejoin="round"/>
<polygon points="1821.7,2516.6 1842.4,2520.5 1866.3,2501.4 1845.6,2497.6" fill="#fcd549" stroke="#8b7528" stroke-width="2.0" stroke-linejoin="round"/>
<polygon points="1866.3,2501.4 1887.4,2505.9 1911.2,2486.7 1890.1,2482.4" fill="#ffb74c" stroke="#8c652a" stroke-width="2.0" stroke-linejoin="round"/>
<polygon points="1911.2,2486.7 1932.7,2491.7 1956.3,2472.6 1934.8,2467.7" fill="#ff9d50" stroke="#8c572c" stroke-width="2.0" stroke-linejoin="round"/>
<polygon points="1733.2,2548.1 1753.1,2550.8 1777.3,2532.1 1757.4,2529.6" fill="#c3ea39" stroke="#6b811f" stroke-width="2.0" stroke-linejoin="round"/>
<polygon points="1956.3,2472.6 1978.2,2478.2 2001.7,2459.1 1979.8,2453.7" fill="#ff8852" stroke="#8c4b2d" stroke-width="2.0" stroke-linejoin="round"/>
<polygon points="1842.4,2520.5 1863.3,2525.1 1887.4,2505.9 1866.3,2501.4" fill="#fecd4a" stroke="#8c7129" stroke-width="2.0" stroke-linejoin="round"/>
<polygon points="1577.8,2614 1596.3,2615.1 1621.2,2598.1 1602.6,2597.2" fill="#1fc93a" stroke="#116e20" stroke-width="2.0" stroke-linejoin="round"/>
<polygon points="1621.2,2598.1 1640.2,2599.8 1664.9,2582.2 1645.9,2580.6" fill="#37ce29" stroke="#1e7116" stroke-width="2.0" stroke-linejoin="round"/>
<polygon points="1664.9,2582.2 1684.3,2584.5 1708.9,2566.4 1689.4,2564.3" fill="#6eda2d" stroke="#3d7819" stroke-width="2.0" stroke-linejoin="round"/>
<polygon points="1708.9,2566.4 1728.6,2569.3 1753.1,2550.8 1733.2,2548.1" fill="#a5e632" stroke="#5b7f1b" stroke-width="2.0" stroke-linejoin="round"/>
<polygon points="1753.1,2550.8 1773.3,2554.3 1797.6,2535.5 1777.3,2532.1" fill="#d2ec3d" stroke="#738221" stroke-width="2.0" stroke-linejoin="round"/>
<polygon points="1797.6,2535.5 1818.2,2539.6 1842.4,2520.5 1821.7,2516.6" fill="#f7ec47" stroke="#888227" stroke-width="2.0" stroke-linejoin="round"/>
<polygon points="1887.4,2505.9 1908.8,2511.1 1932.7,2491.7 1911.2,2486.7" fill="#ffb24d" stroke="#8c622b" stroke-width="2.0" stroke-linejoin="round"/>
<polygon points="1932.7,2491.7 1954.4,2497.5 1978.2,2478.2 1956.3,2472.6" fill="#ff9950" stroke="#8c542c" stroke-width="2.0" stroke-linejoin="round"/>
<polygon points="1596.3,2615.1 1615.1,2617 1640.2,2599.8 1621.2,2598.1" fill="#24ca2f" stroke="#146f1a" stroke-width="2.0" stroke-linejoin="round"/>
<polygon points="1728.6,2569.3 1748.7,2573 1773.3,2554.3 1753.1,2550.8" fill="#b4e935" stroke="#63801d" stroke-width="2.0" stroke-linejoin="round"/>
<polygon points="1818.2,2539.6 1839.1,2544.4 1863.3,2525.1 1842.4,2520.5" fill="#f9e548" stroke="#897e27" stroke-width="2.0" stroke-linejoin="round"/>
<polygon points="1863.3,2525.1 1884.6,2530.5 1908.8,2511.1 1887.4,2505.9" fill="#ffc74b" stroke="#8c6e29" stroke-width="2.0" stroke-linejoin="round"/>
<polygon points="1640.2,2599.8 1659.4,2602.3 1684.3,2584.5 1664.9,2582.2" fill="#4dd32b" stroke="#2a7417" stroke-width="2.0" stroke-linejoin="round"/>
<polygon points="1684.3,2584.5 1703.9,2587.6 1728.6,2569.3 1708.9,2566.4" fill="#82df2f" stroke="#487b1a" stroke-width="2.0" stroke-linejoin="round"/>
<polygon points="1773.3,2554.3 1793.8,2558.6 1818.2,2539.6 1797.6,2535.5" fill="#dfee40" stroke="#7a8323" stroke-width="2.0" stroke-linejoin="round"/>
<polygon points="1908.8,2511.1 1930.4,2517 1954.4,2497.5 1932.7,2491.7" fill="#ffae4e" stroke="#8c5f2b" stroke-width="2.0" stroke-linejoin="round"/>
<polygon points="1615.1,2617 1634.3,2619.7 1659.4,2602.3 1640.2,2599.8" fill="#2dcc28" stroke="#197016" stroke-width="2.0" stroke-linejoin="round"/>
<polygon points="1703.9,2587.6 1723.9,2591.5 1748.7,2573 1728.6,2569.3" fill="#94e330" stroke="#517d1b" stroke-width="2.0" stroke-linejoin="round"/>
<polygon points="1748.7,2573 1769.1,2577.4 1793.8,2558.6 1773.3,2554.3" fill="#c1eb38" stroke="#6a811f" stroke-width="2.0" stroke-linejoin="round"/>
<polygon points="1793.8,2558.6 1814.6,2563.6 1839.1,2544.4 1818.2,2539.6" fill="#eaf043" stroke="#808425" stroke-width="2.0" stroke-linejoin="round"/>
<polygon points="1839.1,2544.4 1860.3,2549.9 1884.6,2530.5 1863.3,2525.1" fill="#fbdf49" stroke="#8a7a28" stroke-width="2.0" stroke-linejoin="round"/>
<polygon points="1884.6,2530.5 1906.2,2536.6 1930.4,2517 1908.8,2511.1" fill="#ffc24c" stroke="#8c6b2a" stroke-width="2.0" stroke-linejoin="round"/>
<polygon points="1659.4,2602.3 1679,2605.6 1703.9,2587.6 1684.3,2584.5" fill="#60d82c" stroke="#357718" stroke-width="2.0" stroke-linejoin="round"/>
<polygon points="1679,2605.6 1698.9,2609.6 1723.9,2591.5 1703.9,2587.6" fill="#72dc2e" stroke="#3f7919" stroke-width="2.0" stroke-linejoin="round"/>
<polygon points="1769.1,2577.4 1789.8,2582.6 1814.6,2563.6 1793.8,2558.6" fill="#cced3b" stroke="#708220" stroke-width="2.0" stroke-linejoin="round"/>
<polygon points="1634.3,2619.7 1653.8,2623.1 1679,2605.6 1659.4,2602.3" fill="#41d12a" stroke="#247317" stroke-width="2.0" stroke-linejoin="round"/>
<polygon points="1723.9,2591.5 1744.2,2596 1769.1,2577.4 1748.7,2573" fill="#a3e732" stroke="#5a7f1b" stroke-width="2.0" stroke-linejoin="round"/>
<polygon points="1814.6,2563.6 1835.7,2569.3 1860.3,2549.9 1839.1,2544.4" fill="#f3f245" stroke="#868526" stroke-width="2.0" stroke-linejoin="round"/>
<polygon points="1860.3,2549.9 1881.8,2556.2 1906.2,2536.6 1884.6,2530.5" fill="#fdda49" stroke="#8b7828" stroke-width="2.0" stroke-linejoin="round"/>
<polygon points="1653.8,2623.1 1673.5,2627.3 1698.9,2609.6 1679,2605.6" fill="#52d52b" stroke="#2d7518" stroke-width="2.0" stroke-linejoin="round"/>
<polygon points="1698.9,2609.6 1719.1,2614.3 1744.2,2596 1723.9,2591.5" fill="#81e02f" stroke="#477b1a" stroke-width="2.0" stroke-linejoin="round"/>
<polygon points="1744.2,2596 1764.8,2601.4 1789.8,2582.6 1769.1,2577.4" fill="#afea33" stroke="#60811c" stroke-width="2.0" stroke-linejoin="round"/>
<polygon points="1789.8,2582.6 1810.8,2588.5 1835.7,2569.3 1814.6,2563.6" fill="#d5ee3e" stroke="#758322" stroke-width="2.0" stroke-linejoin="round"/>
<polygon points="1835.7,2569.3 1857.1,2575.7 1881.8,2556.2 1860.3,2549.9" fill="#f8f147" stroke="#898427" stroke-width="2.0" stroke-linejoin="round"/>
<polygon points="1673.5,2627.3 1693.7,2632.2 1719.1,2614.3 1698.9,2609.6" fill="#61d92c" stroke="#357718" stroke-width="2.0" stroke-linejoin="round"/>
<polygon points="1719.1,2614.3 1739.6,2619.8 1764.8,2601.4 1744.2,2596" fill="#8ee330" stroke="#4e7d1a" stroke-width="2.0" stroke-linejoin="round"/>
<polygon points="1764.8,2601.4 1785.8,2607.4 1810.8,2588.5 1789.8,2582.6" fill="#b8eb36" stroke="#65811e" stroke-width="2.0" stroke-linejoin="round"/>
<polygon points="1810.8,2588.5 1832.2,2595 1857.1,2575.7 1835.7,2569.3" fill="#ddf040" stroke="#7a8423" stroke-width="2.0" stroke-linejoin="round"/>
<polygon points="1693.7,2632.2 1714.1,2637.9 1739.6,2619.8 1719.1,2614.3" fill="#6edc2d" stroke="#3d7919" stroke-width="2.0" stroke-linejoin="round"/>
<polygon points="1739.6,2619.8 1760.4,2626 1785.8,2607.4 1764.8,2601.4" fill="#9ae631" stroke="#547e1b" stroke-width="2.0" stroke-linejoin="round"/>
<polygon points="1785.8,2607.4 1807,2614.1 1832.2,2595 1810.8,2588.5" fill="#c0ec38" stroke="#6a821f" stroke-width="2.0" stroke-linejoin="round"/>
<polygon points="1714.1,2637.9 1734.8,2644.3 1760.4,2626 1739.6,2619.8" fill="#79df2e" stroke="#437b1a" stroke-width="2.0" stroke-linejoin="round"/>
<polygon points="1760.4,2626 1781.6,2632.9 1807,2614.1 1785.8,2607.4" fill="#a3e832" stroke="#5a801b" stroke-width="2.0" stroke-linejoin="round"/>
<polygon points="1734.8,2644.3 1755.9,2651.3 1781.6,2632.9 1760.4,2626" fill="#83e12f" stroke="#487c1a" stroke-width="2.0" stroke-linejoin="round"/>
<line x1="1619.7" y1="2453" x2="1619.7" y2="2500" stroke="#777" stroke-width="2.5"/>
<circle cx="1619.7" cy="2444.8" r="8.5" fill="#b00000" stroke="#7a0000" stroke-width="1.5"/>
<circle cx="1795.5" cy="2374.1" r="8.5" fill="#b00000" stroke="#7a0000" stroke-width="1.5"/>
<line x1="1795.5" y1="2382" x2="1795.5" y2="2420" stroke="#777" stroke-width="2.5"/>
<circle cx="2000.3" cy="2466.4" r="8.5" fill="#b00000" stroke="#7a0000" stroke-width="1.5"/>
<line x1="1955.4" y1="2309" x2="1955.4" y2="2497.5" stroke="#333" stroke-width="2"/>
<rect x="1847.2" y="2266.4" width="109.8" height="42.6" fill="#fff" stroke="#555" stroke-width="2"/>
<text x="1902.1" y="2298.2" text-anchor="middle" font-size="31" fill="#222" style="font-family:&quot;Liberation Serif&quot;,serif">282.705</text>
<text x="1376.9" y="2874" text-anchor="middle" font-size="33" fill="#222" style="font-family:&quot;Liberation Serif&quot;,serif">0</text>
<text x="1427.3" y="2919" text-anchor="middle" font-size="33" fill="#222" style="font-family:&quot;Liberation Serif&quot;,serif">0.02</text>
<text x="1496.4" y="2961.8" text-anchor="middle" font-size="33" fill="#222" style="font-family:&quot;Liberation Serif&quot;,serif">0.04</text>
<text x="1568.3" y="3005.3" text-anchor="middle" font-size="33" fill="#222" style="font-family:&quot;Liberation Serif&quot;,serif">0.06</text>
<text x="1639.4" y="3048.9" text-anchor="middle" font-size="33" fill="#222" style="font-family:&quot;Liberation Serif&quot;,serif">0.08</text>
<text x="1715.4" y="3091.7" text-anchor="middle" font-size="33" fill="#222" style="font-family:&quot;Liberation Serif&quot;,serif">0.1</text>
<text x="1793.5" y="3093" text-anchor="middle" font-size="33" fill="#222" style="font-family:&quot;Liberation Serif&quot;,serif">1.5</text>
<text x="1883.3" y="3055.8" text-anchor="middle" font-size="33" fill="#222" style="font-family:&quot;Liberation Serif&quot;,serif">1.6</text>
<text x="1967.6" y="3019.2" text-anchor="middle" font-size="33" fill="#222" style="font-family:&quot;Liberation Serif&quot;,serif">1.7</text>
<text x="2058.7" y="2981.2" text-anchor="middle" font-size="33" fill="#222" style="font-family:&quot;Liberation Serif&quot;,serif">1.8</text>
<text x="2147.2" y="2945.2" text-anchor="middle" font-size="33" fill="#222" style="font-family:&quot;Liberation Serif&quot;,serif">1.9</text>
<text x="2219.7" y="2906.5" text-anchor="middle" font-size="33" fill="#222" style="font-family:&quot;Liberation Serif&quot;,serif">2</text>
<text x="1366.5" y="3035" text-anchor="middle" font-size="40" font-weight="bold" fill="#111" style="font-family:&quot;Liberation Serif&quot;,serif" textLength="297" lengthAdjust="spacingAndGlyphs">X<tspan font-size="26" dy="8">1</tspan><tspan dy="-8">: GO (g/100mL)</tspan></text>
<text x="2154" y="3048.8" text-anchor="middle" font-size="40" font-weight="bold" fill="#111" style="font-family:&quot;Liberation Serif&quot;,serif" textLength="290" lengthAdjust="spacingAndGlyphs">X<tspan font-size="26" dy="8">2</tspan><tspan dy="-8">: CS (g/100mL)</tspan></text>
<text transform="translate(1265,2570.8) rotate(-90)" text-anchor="middle" font-size="38" font-weight="bold" fill="#111" style="font-family:&quot;Liberation Serif&quot;,serif" textLength="372" lengthAdjust="spacingAndGlyphs">Swelling&#160;&#160;capacity (%)</text>
<text x="1237" y="2214" font-size="94" font-weight="bold" fill="#000" style="font-family:&quot;Liberation Serif&quot;,serif">E</text>
</g></svg>
</body></html>
